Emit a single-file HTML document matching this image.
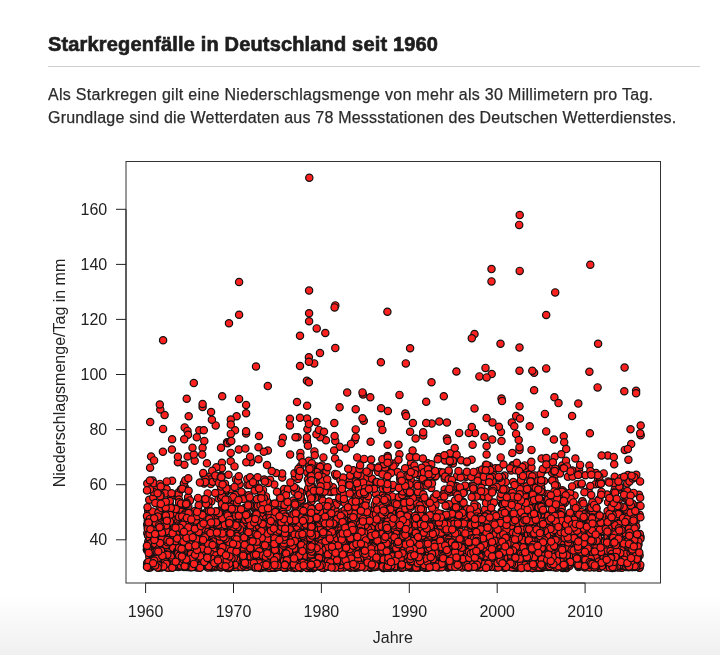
<!DOCTYPE html>
<html><head><meta charset="utf-8"><style>
html,body{margin:0;padding:0;background:#fff;width:720px;height:655px;overflow:hidden}
svg{display:block;will-change:transform}
</style></head><body>
<svg width="720" height="655" viewBox="0 0 720 655">
<defs><linearGradient id="bg" x1="0" y1="0" x2="0" y2="1">
<stop offset="0" stop-color="#ffffff"/><stop offset="1" stop-color="#f0f0f0"/></linearGradient></defs>
<rect x="0" y="595" width="720" height="60" fill="url(#bg)"/>
<text x="48" y="51.4" font-family="'Liberation Sans', sans-serif" font-weight="bold" font-size="20" fill="#1e1e1e" stroke="#1e1e1e" stroke-width="0.65" letter-spacing="0.165">Starkregenfälle in Deutschland seit 1960</text>
<rect x="48" y="66" width="652" height="1" fill="#cfcfd3"/>
<text x="48" y="99.6" font-family="'Liberation Sans', sans-serif" font-size="16" fill="#2b2b2b" stroke="#2b2b2b" stroke-width="0.25" letter-spacing="0.3">Als Starkregen gilt eine Niederschlagsmenge von mehr als 30 Millimetern pro Tag.</text>
<text x="48" y="123.4" font-family="'Liberation Sans', sans-serif" font-size="16" fill="#2b2b2b" stroke="#2b2b2b" stroke-width="0.25" letter-spacing="0.2">Grundlage sind die Wetterdaten aus 78 Messstationen des Deutschen Wetterdienstes.</text>
<g fill="#ff2020" stroke="#111" stroke-width="1.2"><circle cx="476.8" cy="539.5" r="3.65"/><circle cx="574.6" cy="556.9" r="3.65"/><circle cx="165.9" cy="514.2" r="3.65"/><circle cx="270.4" cy="552.0" r="3.65"/><circle cx="173.1" cy="535.4" r="3.65"/><circle cx="546.2" cy="431.4" r="3.65"/><circle cx="239.0" cy="538.4" r="3.65"/><circle cx="358.7" cy="522.7" r="3.65"/><circle cx="354.5" cy="527.0" r="3.65"/><circle cx="495.9" cy="557.5" r="3.65"/><circle cx="451.2" cy="566.7" r="3.65"/><circle cx="363.7" cy="527.3" r="3.65"/><circle cx="377.6" cy="565.9" r="3.65"/><circle cx="218.7" cy="553.5" r="3.65"/><circle cx="310.5" cy="554.2" r="3.65"/><circle cx="356.0" cy="539.7" r="3.65"/><circle cx="226.9" cy="548.6" r="3.65"/><circle cx="275.1" cy="567.8" r="3.65"/><circle cx="257.7" cy="545.5" r="3.65"/><circle cx="442.2" cy="473.6" r="3.65"/><circle cx="243.0" cy="544.8" r="3.65"/><circle cx="571.8" cy="561.4" r="3.65"/><circle cx="295.3" cy="530.9" r="3.65"/><circle cx="540.5" cy="529.7" r="3.65"/><circle cx="409.0" cy="555.3" r="3.65"/><circle cx="477.0" cy="532.0" r="3.65"/><circle cx="353.0" cy="527.8" r="3.65"/><circle cx="264.6" cy="558.5" r="3.65"/><circle cx="488.6" cy="542.1" r="3.65"/><circle cx="584.8" cy="561.1" r="3.65"/><circle cx="504.9" cy="521.4" r="3.65"/><circle cx="323.4" cy="457.4" r="3.65"/><circle cx="177.8" cy="524.1" r="3.65"/><circle cx="160.6" cy="553.9" r="3.65"/><circle cx="583.7" cy="557.4" r="3.65"/><circle cx="563.6" cy="564.9" r="3.65"/><circle cx="319.4" cy="517.5" r="3.65"/><circle cx="311.1" cy="546.7" r="3.65"/><circle cx="566.2" cy="538.7" r="3.65"/><circle cx="311.0" cy="525.0" r="3.65"/><circle cx="186.7" cy="566.9" r="3.65"/><circle cx="178.0" cy="519.7" r="3.65"/><circle cx="624.8" cy="449.9" r="3.65"/><circle cx="566.6" cy="567.9" r="3.65"/><circle cx="294.1" cy="551.8" r="3.65"/><circle cx="282.2" cy="563.0" r="3.65"/><circle cx="285.3" cy="500.9" r="3.65"/><circle cx="272.7" cy="504.0" r="3.65"/><circle cx="442.9" cy="554.0" r="3.65"/><circle cx="339.5" cy="554.0" r="3.65"/><circle cx="640.7" cy="435.2" r="3.65"/><circle cx="626.9" cy="542.9" r="3.65"/><circle cx="469.1" cy="564.0" r="3.65"/><circle cx="485.2" cy="513.5" r="3.65"/><circle cx="513.7" cy="559.9" r="3.65"/><circle cx="188.7" cy="559.0" r="3.65"/><circle cx="203.4" cy="513.8" r="3.65"/><circle cx="604.2" cy="564.2" r="3.65"/><circle cx="554.5" cy="543.8" r="3.65"/><circle cx="390.9" cy="555.0" r="3.65"/><circle cx="621.2" cy="550.7" r="3.65"/><circle cx="504.1" cy="533.4" r="3.65"/><circle cx="372.6" cy="539.9" r="3.65"/><circle cx="483.8" cy="566.8" r="3.65"/><circle cx="551.3" cy="545.8" r="3.65"/><circle cx="551.7" cy="516.5" r="3.65"/><circle cx="425.1" cy="555.6" r="3.65"/><circle cx="450.8" cy="525.4" r="3.65"/><circle cx="349.7" cy="480.5" r="3.65"/><circle cx="543.5" cy="567.0" r="3.65"/><circle cx="361.0" cy="545.9" r="3.65"/><circle cx="511.1" cy="549.3" r="3.65"/><circle cx="488.4" cy="527.9" r="3.65"/><circle cx="224.3" cy="556.0" r="3.65"/><circle cx="577.1" cy="472.3" r="3.65"/><circle cx="226.3" cy="561.8" r="3.65"/><circle cx="546.2" cy="315.0" r="3.65"/><circle cx="181.8" cy="539.3" r="3.65"/><circle cx="524.7" cy="529.5" r="3.65"/><circle cx="425.0" cy="563.8" r="3.65"/><circle cx="441.6" cy="499.7" r="3.65"/><circle cx="533.0" cy="488.1" r="3.65"/><circle cx="445.7" cy="518.3" r="3.65"/><circle cx="311.0" cy="559.4" r="3.65"/><circle cx="317.8" cy="540.7" r="3.65"/><circle cx="416.3" cy="483.8" r="3.65"/><circle cx="539.0" cy="542.0" r="3.65"/><circle cx="311.6" cy="557.6" r="3.65"/><circle cx="541.3" cy="564.4" r="3.65"/><circle cx="471.9" cy="563.2" r="3.65"/><circle cx="318.7" cy="551.4" r="3.65"/><circle cx="280.3" cy="543.1" r="3.65"/><circle cx="355.4" cy="545.6" r="3.65"/><circle cx="596.4" cy="540.2" r="3.65"/><circle cx="594.2" cy="554.3" r="3.65"/><circle cx="437.1" cy="548.7" r="3.65"/><circle cx="351.4" cy="562.3" r="3.65"/><circle cx="311.3" cy="493.4" r="3.65"/><circle cx="311.4" cy="520.4" r="3.65"/><circle cx="214.5" cy="560.0" r="3.65"/><circle cx="356.4" cy="555.8" r="3.65"/><circle cx="595.6" cy="548.0" r="3.65"/><circle cx="370.2" cy="562.5" r="3.65"/><circle cx="525.3" cy="566.9" r="3.65"/><circle cx="559.6" cy="565.0" r="3.65"/><circle cx="399.8" cy="558.4" r="3.65"/><circle cx="311.9" cy="553.3" r="3.65"/><circle cx="174.1" cy="559.3" r="3.65"/><circle cx="227.3" cy="525.0" r="3.65"/><circle cx="424.1" cy="565.0" r="3.65"/><circle cx="297.1" cy="565.3" r="3.65"/><circle cx="395.6" cy="547.0" r="3.65"/><circle cx="407.3" cy="507.9" r="3.65"/><circle cx="531.2" cy="536.5" r="3.65"/><circle cx="234.1" cy="535.7" r="3.65"/><circle cx="489.1" cy="465.9" r="3.65"/><circle cx="620.6" cy="548.6" r="3.65"/><circle cx="321.3" cy="555.9" r="3.65"/><circle cx="219.6" cy="533.6" r="3.65"/><circle cx="431.2" cy="487.9" r="3.65"/><circle cx="255.8" cy="555.6" r="3.65"/><circle cx="425.1" cy="561.0" r="3.65"/><circle cx="322.4" cy="500.2" r="3.65"/><circle cx="293.3" cy="565.4" r="3.65"/><circle cx="200.9" cy="537.5" r="3.65"/><circle cx="199.0" cy="514.9" r="3.65"/><circle cx="483.0" cy="517.3" r="3.65"/><circle cx="318.5" cy="542.8" r="3.65"/><circle cx="210.5" cy="545.4" r="3.65"/><circle cx="594.1" cy="526.9" r="3.65"/><circle cx="583.2" cy="544.3" r="3.65"/><circle cx="327.2" cy="546.1" r="3.65"/><circle cx="343.7" cy="553.9" r="3.65"/><circle cx="323.9" cy="537.8" r="3.65"/><circle cx="609.2" cy="521.7" r="3.65"/><circle cx="551.1" cy="552.9" r="3.65"/><circle cx="577.3" cy="528.5" r="3.65"/><circle cx="148.2" cy="511.0" r="3.65"/><circle cx="441.2" cy="531.9" r="3.65"/><circle cx="581.9" cy="532.8" r="3.65"/><circle cx="350.2" cy="556.1" r="3.65"/><circle cx="629.0" cy="536.9" r="3.65"/><circle cx="267.7" cy="559.3" r="3.65"/><circle cx="591.6" cy="514.8" r="3.65"/><circle cx="576.2" cy="558.2" r="3.65"/><circle cx="211.3" cy="501.4" r="3.65"/><circle cx="624.9" cy="539.9" r="3.65"/><circle cx="434.0" cy="545.7" r="3.65"/><circle cx="405.5" cy="547.2" r="3.65"/><circle cx="626.2" cy="566.6" r="3.65"/><circle cx="349.0" cy="526.1" r="3.65"/><circle cx="456.4" cy="371.5" r="3.65"/><circle cx="477.4" cy="549.3" r="3.65"/><circle cx="618.1" cy="544.0" r="3.65"/><circle cx="455.0" cy="549.9" r="3.65"/><circle cx="224.1" cy="558.9" r="3.65"/><circle cx="328.1" cy="563.1" r="3.65"/><circle cx="432.8" cy="540.5" r="3.65"/><circle cx="185.3" cy="560.2" r="3.65"/><circle cx="506.7" cy="545.7" r="3.65"/><circle cx="302.6" cy="555.8" r="3.65"/><circle cx="383.1" cy="531.3" r="3.65"/><circle cx="461.0" cy="559.1" r="3.65"/><circle cx="611.1" cy="534.6" r="3.65"/><circle cx="588.4" cy="541.4" r="3.65"/><circle cx="312.3" cy="567.0" r="3.65"/><circle cx="317.5" cy="522.4" r="3.65"/><circle cx="552.4" cy="535.2" r="3.65"/><circle cx="630.0" cy="553.6" r="3.65"/><circle cx="283.9" cy="545.2" r="3.65"/><circle cx="390.6" cy="520.5" r="3.65"/><circle cx="210.4" cy="512.7" r="3.65"/><circle cx="274.9" cy="550.3" r="3.65"/><circle cx="356.4" cy="567.5" r="3.65"/><circle cx="242.5" cy="543.0" r="3.65"/><circle cx="603.7" cy="530.5" r="3.65"/><circle cx="156.8" cy="550.8" r="3.65"/><circle cx="203.3" cy="539.1" r="3.65"/><circle cx="410.0" cy="549.7" r="3.65"/><circle cx="217.4" cy="525.9" r="3.65"/><circle cx="363.9" cy="560.8" r="3.65"/><circle cx="241.5" cy="566.8" r="3.65"/><circle cx="211.7" cy="553.3" r="3.65"/><circle cx="183.4" cy="541.5" r="3.65"/><circle cx="290.3" cy="535.5" r="3.65"/><circle cx="428.2" cy="530.2" r="3.65"/><circle cx="594.7" cy="514.5" r="3.65"/><circle cx="540.4" cy="542.7" r="3.65"/><circle cx="626.4" cy="541.8" r="3.65"/><circle cx="299.7" cy="564.9" r="3.65"/><circle cx="389.3" cy="565.6" r="3.65"/><circle cx="356.6" cy="476.3" r="3.65"/><circle cx="161.3" cy="567.6" r="3.65"/><circle cx="595.5" cy="549.8" r="3.65"/><circle cx="313.9" cy="530.3" r="3.65"/><circle cx="456.1" cy="528.1" r="3.65"/><circle cx="531.3" cy="550.9" r="3.65"/><circle cx="256.0" cy="366.5" r="3.65"/><circle cx="335.3" cy="441.0" r="3.65"/><circle cx="382.3" cy="560.3" r="3.65"/><circle cx="571.7" cy="561.5" r="3.65"/><circle cx="155.9" cy="487.4" r="3.65"/><circle cx="497.4" cy="517.2" r="3.65"/><circle cx="438.8" cy="457.0" r="3.65"/><circle cx="538.6" cy="505.4" r="3.65"/><circle cx="279.3" cy="561.4" r="3.65"/><circle cx="425.8" cy="551.7" r="3.65"/><circle cx="289.4" cy="535.3" r="3.65"/><circle cx="175.3" cy="531.5" r="3.65"/><circle cx="263.6" cy="543.9" r="3.65"/><circle cx="459.3" cy="541.0" r="3.65"/><circle cx="447.2" cy="505.0" r="3.65"/><circle cx="224.0" cy="565.6" r="3.65"/><circle cx="310.5" cy="514.5" r="3.65"/><circle cx="175.1" cy="512.0" r="3.65"/><circle cx="206.9" cy="463.2" r="3.65"/><circle cx="363.7" cy="502.3" r="3.65"/><circle cx="220.3" cy="534.6" r="3.65"/><circle cx="633.2" cy="530.2" r="3.65"/><circle cx="493.4" cy="536.5" r="3.65"/><circle cx="230.7" cy="452.9" r="3.65"/><circle cx="252.2" cy="539.8" r="3.65"/><circle cx="311.3" cy="533.6" r="3.65"/><circle cx="592.7" cy="514.8" r="3.65"/><circle cx="274.6" cy="567.3" r="3.65"/><circle cx="276.1" cy="564.3" r="3.65"/><circle cx="318.7" cy="547.9" r="3.65"/><circle cx="499.5" cy="556.7" r="3.65"/><circle cx="467.4" cy="555.6" r="3.65"/><circle cx="402.6" cy="484.2" r="3.65"/><circle cx="249.1" cy="545.6" r="3.65"/><circle cx="630.5" cy="429.3" r="3.65"/><circle cx="311.2" cy="540.5" r="3.65"/><circle cx="294.6" cy="538.9" r="3.65"/><circle cx="331.9" cy="523.7" r="3.65"/><circle cx="452.1" cy="555.4" r="3.65"/><circle cx="474.8" cy="515.7" r="3.65"/><circle cx="568.2" cy="550.4" r="3.65"/><circle cx="384.3" cy="567.4" r="3.65"/><circle cx="547.8" cy="566.6" r="3.65"/><circle cx="532.8" cy="542.0" r="3.65"/><circle cx="160.8" cy="526.6" r="3.65"/><circle cx="364.0" cy="532.7" r="3.65"/><circle cx="402.7" cy="560.7" r="3.65"/><circle cx="515.0" cy="548.3" r="3.65"/><circle cx="635.8" cy="515.3" r="3.65"/><circle cx="316.6" cy="497.2" r="3.65"/><circle cx="295.1" cy="553.2" r="3.65"/><circle cx="511.2" cy="538.6" r="3.65"/><circle cx="582.5" cy="565.4" r="3.65"/><circle cx="488.1" cy="537.5" r="3.65"/><circle cx="298.6" cy="528.0" r="3.65"/><circle cx="638.5" cy="544.5" r="3.65"/><circle cx="397.5" cy="565.7" r="3.65"/><circle cx="614.3" cy="542.6" r="3.65"/><circle cx="236.6" cy="416.3" r="3.65"/><circle cx="157.4" cy="518.4" r="3.65"/><circle cx="267.7" cy="552.6" r="3.65"/><circle cx="595.9" cy="559.1" r="3.65"/><circle cx="577.6" cy="556.9" r="3.65"/><circle cx="216.5" cy="564.7" r="3.65"/><circle cx="539.1" cy="563.9" r="3.65"/><circle cx="373.2" cy="542.6" r="3.65"/><circle cx="603.9" cy="524.0" r="3.65"/><circle cx="369.3" cy="552.6" r="3.65"/><circle cx="629.2" cy="536.6" r="3.65"/><circle cx="434.7" cy="518.7" r="3.65"/><circle cx="303.4" cy="564.5" r="3.65"/><circle cx="519.8" cy="542.0" r="3.65"/><circle cx="310.0" cy="551.0" r="3.65"/><circle cx="283.7" cy="557.5" r="3.65"/><circle cx="312.4" cy="562.2" r="3.65"/><circle cx="539.9" cy="539.6" r="3.65"/><circle cx="556.8" cy="485.5" r="3.65"/><circle cx="285.0" cy="526.1" r="3.65"/><circle cx="311.4" cy="566.1" r="3.65"/><circle cx="418.9" cy="556.9" r="3.65"/><circle cx="633.4" cy="516.0" r="3.65"/><circle cx="542.9" cy="564.7" r="3.65"/><circle cx="372.7" cy="520.9" r="3.65"/><circle cx="400.0" cy="531.2" r="3.65"/><circle cx="165.4" cy="562.1" r="3.65"/><circle cx="537.1" cy="509.6" r="3.65"/><circle cx="615.0" cy="534.9" r="3.65"/><circle cx="188.1" cy="497.3" r="3.65"/><circle cx="587.6" cy="544.8" r="3.65"/><circle cx="222.2" cy="396.2" r="3.65"/><circle cx="288.5" cy="529.5" r="3.65"/><circle cx="164.6" cy="415.1" r="3.65"/><circle cx="417.9" cy="505.6" r="3.65"/><circle cx="417.0" cy="553.7" r="3.65"/><circle cx="184.7" cy="427.4" r="3.65"/><circle cx="382.5" cy="532.8" r="3.65"/><circle cx="476.7" cy="558.2" r="3.65"/><circle cx="177.0" cy="519.5" r="3.65"/><circle cx="537.2" cy="526.1" r="3.65"/><circle cx="564.2" cy="546.7" r="3.65"/><circle cx="308.8" cy="460.8" r="3.65"/><circle cx="594.1" cy="506.0" r="3.65"/><circle cx="465.3" cy="520.6" r="3.65"/><circle cx="365.8" cy="552.9" r="3.65"/><circle cx="225.8" cy="541.2" r="3.65"/><circle cx="471.1" cy="559.9" r="3.65"/><circle cx="482.6" cy="528.0" r="3.65"/><circle cx="251.8" cy="562.7" r="3.65"/><circle cx="483.6" cy="545.3" r="3.65"/><circle cx="422.2" cy="536.5" r="3.65"/><circle cx="561.8" cy="540.6" r="3.65"/><circle cx="536.6" cy="545.9" r="3.65"/><circle cx="603.4" cy="523.6" r="3.65"/><circle cx="589.7" cy="552.2" r="3.65"/><circle cx="328.4" cy="532.1" r="3.65"/><circle cx="164.2" cy="544.9" r="3.65"/><circle cx="541.6" cy="564.6" r="3.65"/><circle cx="254.4" cy="508.5" r="3.65"/><circle cx="374.6" cy="531.4" r="3.65"/><circle cx="636.1" cy="390.8" r="3.65"/><circle cx="382.7" cy="540.2" r="3.65"/><circle cx="521.3" cy="528.9" r="3.65"/><circle cx="633.0" cy="561.0" r="3.65"/><circle cx="303.6" cy="533.4" r="3.65"/><circle cx="535.0" cy="563.7" r="3.65"/><circle cx="222.9" cy="534.8" r="3.65"/><circle cx="539.9" cy="565.8" r="3.65"/><circle cx="429.9" cy="561.9" r="3.65"/><circle cx="551.9" cy="561.2" r="3.65"/><circle cx="249.8" cy="552.9" r="3.65"/><circle cx="311.1" cy="527.1" r="3.65"/><circle cx="634.7" cy="543.6" r="3.65"/><circle cx="504.9" cy="555.8" r="3.65"/><circle cx="362.8" cy="552.9" r="3.65"/><circle cx="562.2" cy="557.8" r="3.65"/><circle cx="457.0" cy="539.2" r="3.65"/><circle cx="446.1" cy="475.4" r="3.65"/><circle cx="589.9" cy="530.4" r="3.65"/><circle cx="372.3" cy="552.9" r="3.65"/><circle cx="588.7" cy="556.8" r="3.65"/><circle cx="238.4" cy="567.0" r="3.65"/><circle cx="560.9" cy="565.0" r="3.65"/><circle cx="149.2" cy="534.0" r="3.65"/><circle cx="356.9" cy="564.6" r="3.65"/><circle cx="168.8" cy="536.5" r="3.65"/><circle cx="318.9" cy="521.2" r="3.65"/><circle cx="619.2" cy="567.2" r="3.65"/><circle cx="391.7" cy="536.9" r="3.65"/><circle cx="405.3" cy="413.5" r="3.65"/><circle cx="285.1" cy="521.6" r="3.65"/><circle cx="514.9" cy="547.0" r="3.65"/><circle cx="597.3" cy="558.4" r="3.65"/><circle cx="311.3" cy="532.7" r="3.65"/><circle cx="476.5" cy="546.9" r="3.65"/><circle cx="407.1" cy="555.2" r="3.65"/><circle cx="541.3" cy="563.2" r="3.65"/><circle cx="394.4" cy="537.4" r="3.65"/><circle cx="414.0" cy="543.9" r="3.65"/><circle cx="549.3" cy="468.2" r="3.65"/><circle cx="182.5" cy="531.4" r="3.65"/><circle cx="416.5" cy="531.2" r="3.65"/><circle cx="480.8" cy="567.3" r="3.65"/><circle cx="495.9" cy="567.6" r="3.65"/><circle cx="210.6" cy="538.8" r="3.65"/><circle cx="503.4" cy="560.3" r="3.65"/><circle cx="226.7" cy="505.3" r="3.65"/><circle cx="626.2" cy="518.9" r="3.65"/><circle cx="436.9" cy="551.9" r="3.65"/><circle cx="369.3" cy="528.1" r="3.65"/><circle cx="266.6" cy="506.2" r="3.65"/><circle cx="309.3" cy="177.7" r="3.65"/><circle cx="459.5" cy="493.2" r="3.65"/><circle cx="401.0" cy="529.8" r="3.65"/><circle cx="341.2" cy="562.6" r="3.65"/><circle cx="316.4" cy="422.1" r="3.65"/><circle cx="387.6" cy="527.8" r="3.65"/><circle cx="612.8" cy="562.4" r="3.65"/><circle cx="180.5" cy="551.4" r="3.65"/><circle cx="284.1" cy="489.1" r="3.65"/><circle cx="597.3" cy="518.2" r="3.65"/><circle cx="480.2" cy="550.4" r="3.65"/><circle cx="386.1" cy="567.8" r="3.65"/><circle cx="453.0" cy="540.9" r="3.65"/><circle cx="568.1" cy="539.8" r="3.65"/><circle cx="357.0" cy="518.8" r="3.65"/><circle cx="357.1" cy="487.9" r="3.65"/><circle cx="491.3" cy="471.1" r="3.65"/><circle cx="310.5" cy="537.7" r="3.65"/><circle cx="155.2" cy="548.2" r="3.65"/><circle cx="504.5" cy="547.2" r="3.65"/><circle cx="532.1" cy="534.2" r="3.65"/><circle cx="354.6" cy="543.4" r="3.65"/><circle cx="206.6" cy="558.1" r="3.65"/><circle cx="589.9" cy="556.0" r="3.65"/><circle cx="424.3" cy="519.1" r="3.65"/><circle cx="182.0" cy="542.2" r="3.65"/><circle cx="226.2" cy="535.5" r="3.65"/><circle cx="566.0" cy="567.8" r="3.65"/><circle cx="487.8" cy="556.2" r="3.65"/><circle cx="187.0" cy="536.1" r="3.65"/><circle cx="287.9" cy="538.8" r="3.65"/><circle cx="474.1" cy="489.8" r="3.65"/><circle cx="414.3" cy="553.0" r="3.65"/><circle cx="473.9" cy="543.9" r="3.65"/><circle cx="541.2" cy="514.6" r="3.65"/><circle cx="476.6" cy="529.5" r="3.65"/><circle cx="547.0" cy="517.9" r="3.65"/><circle cx="613.3" cy="563.3" r="3.65"/><circle cx="266.0" cy="534.0" r="3.65"/><circle cx="541.8" cy="532.0" r="3.65"/><circle cx="182.9" cy="547.4" r="3.65"/><circle cx="270.7" cy="548.4" r="3.65"/><circle cx="298.6" cy="546.7" r="3.65"/><circle cx="207.2" cy="531.5" r="3.65"/><circle cx="334.6" cy="436.0" r="3.65"/><circle cx="471.9" cy="485.4" r="3.65"/><circle cx="554.7" cy="456.7" r="3.65"/><circle cx="634.4" cy="535.7" r="3.65"/><circle cx="318.8" cy="524.7" r="3.65"/><circle cx="595.5" cy="484.2" r="3.65"/><circle cx="469.7" cy="564.3" r="3.65"/><circle cx="205.3" cy="540.1" r="3.65"/><circle cx="590.1" cy="553.9" r="3.65"/><circle cx="310.8" cy="543.6" r="3.65"/><circle cx="275.8" cy="546.7" r="3.65"/><circle cx="627.1" cy="519.7" r="3.65"/><circle cx="578.9" cy="531.2" r="3.65"/><circle cx="322.4" cy="547.3" r="3.65"/><circle cx="222.7" cy="543.8" r="3.65"/><circle cx="595.8" cy="563.9" r="3.65"/><circle cx="149.2" cy="499.7" r="3.65"/><circle cx="216.1" cy="557.8" r="3.65"/><circle cx="358.7" cy="562.9" r="3.65"/><circle cx="211.1" cy="532.1" r="3.65"/><circle cx="313.9" cy="550.8" r="3.65"/><circle cx="607.0" cy="563.4" r="3.65"/><circle cx="591.7" cy="560.6" r="3.65"/><circle cx="242.5" cy="515.2" r="3.65"/><circle cx="493.4" cy="564.1" r="3.65"/><circle cx="147.4" cy="516.6" r="3.65"/><circle cx="503.8" cy="518.3" r="3.65"/><circle cx="313.1" cy="558.2" r="3.65"/><circle cx="224.9" cy="544.0" r="3.65"/><circle cx="563.3" cy="567.3" r="3.65"/><circle cx="441.4" cy="515.3" r="3.65"/><circle cx="537.5" cy="553.3" r="3.65"/><circle cx="150.9" cy="558.5" r="3.65"/><circle cx="625.6" cy="506.9" r="3.65"/><circle cx="385.7" cy="481.2" r="3.65"/><circle cx="179.6" cy="563.6" r="3.65"/><circle cx="320.1" cy="481.0" r="3.65"/><circle cx="150.3" cy="567.5" r="3.65"/><circle cx="503.0" cy="566.7" r="3.65"/><circle cx="510.4" cy="561.3" r="3.65"/><circle cx="387.2" cy="563.0" r="3.65"/><circle cx="559.4" cy="525.5" r="3.65"/><circle cx="497.1" cy="565.1" r="3.65"/><circle cx="411.4" cy="521.0" r="3.65"/><circle cx="204.7" cy="528.7" r="3.65"/><circle cx="269.4" cy="544.7" r="3.65"/><circle cx="424.8" cy="560.7" r="3.65"/><circle cx="491.1" cy="547.4" r="3.65"/><circle cx="287.0" cy="562.6" r="3.65"/><circle cx="416.9" cy="560.7" r="3.65"/><circle cx="430.1" cy="530.1" r="3.65"/><circle cx="210.7" cy="554.2" r="3.65"/><circle cx="631.5" cy="565.3" r="3.65"/><circle cx="331.6" cy="516.5" r="3.65"/><circle cx="583.0" cy="534.4" r="3.65"/><circle cx="372.4" cy="516.2" r="3.65"/><circle cx="399.0" cy="566.3" r="3.65"/><circle cx="148.6" cy="567.7" r="3.65"/><circle cx="617.5" cy="549.7" r="3.65"/><circle cx="574.6" cy="495.6" r="3.65"/><circle cx="428.3" cy="463.9" r="3.65"/><circle cx="320.7" cy="478.7" r="3.65"/><circle cx="266.0" cy="564.6" r="3.65"/><circle cx="238.8" cy="449.5" r="3.65"/><circle cx="447.3" cy="555.0" r="3.65"/><circle cx="422.2" cy="512.9" r="3.65"/><circle cx="479.4" cy="376.4" r="3.65"/><circle cx="520.9" cy="523.9" r="3.65"/><circle cx="194.1" cy="565.4" r="3.65"/><circle cx="545.2" cy="535.1" r="3.65"/><circle cx="268.5" cy="564.4" r="3.65"/><circle cx="250.5" cy="562.5" r="3.65"/><circle cx="453.0" cy="514.5" r="3.65"/><circle cx="266.0" cy="562.2" r="3.65"/><circle cx="227.4" cy="563.6" r="3.65"/><circle cx="192.4" cy="537.4" r="3.65"/><circle cx="166.2" cy="544.1" r="3.65"/><circle cx="310.6" cy="552.4" r="3.65"/><circle cx="286.9" cy="564.2" r="3.65"/><circle cx="372.5" cy="515.7" r="3.65"/><circle cx="326.0" cy="440.2" r="3.65"/><circle cx="208.2" cy="561.8" r="3.65"/><circle cx="212.8" cy="516.9" r="3.65"/><circle cx="171.6" cy="533.9" r="3.65"/><circle cx="208.3" cy="533.6" r="3.65"/><circle cx="438.4" cy="532.1" r="3.65"/><circle cx="465.1" cy="564.2" r="3.65"/><circle cx="533.3" cy="565.1" r="3.65"/><circle cx="491.5" cy="281.4" r="3.65"/><circle cx="608.2" cy="481.4" r="3.65"/><circle cx="287.7" cy="564.2" r="3.65"/><circle cx="423.9" cy="518.3" r="3.65"/><circle cx="177.8" cy="531.2" r="3.65"/><circle cx="541.8" cy="533.1" r="3.65"/><circle cx="518.6" cy="553.0" r="3.65"/><circle cx="365.9" cy="518.1" r="3.65"/><circle cx="270.7" cy="519.4" r="3.65"/><circle cx="635.5" cy="537.1" r="3.65"/><circle cx="388.3" cy="547.9" r="3.65"/><circle cx="487.7" cy="539.3" r="3.65"/><circle cx="511.2" cy="517.2" r="3.65"/><circle cx="495.4" cy="554.0" r="3.65"/><circle cx="310.5" cy="565.2" r="3.65"/><circle cx="372.7" cy="531.0" r="3.65"/><circle cx="618.7" cy="489.8" r="3.65"/><circle cx="311.5" cy="561.8" r="3.65"/><circle cx="328.3" cy="566.7" r="3.65"/><circle cx="463.7" cy="522.7" r="3.65"/><circle cx="398.1" cy="553.6" r="3.65"/><circle cx="473.9" cy="491.2" r="3.65"/><circle cx="431.5" cy="538.4" r="3.65"/><circle cx="378.7" cy="529.4" r="3.65"/><circle cx="578.1" cy="552.4" r="3.65"/><circle cx="461.1" cy="460.2" r="3.65"/><circle cx="358.1" cy="536.0" r="3.65"/><circle cx="173.4" cy="514.2" r="3.65"/><circle cx="353.9" cy="545.1" r="3.65"/><circle cx="218.8" cy="534.6" r="3.65"/><circle cx="474.5" cy="543.7" r="3.65"/><circle cx="173.7" cy="536.2" r="3.65"/><circle cx="600.3" cy="564.7" r="3.65"/><circle cx="600.6" cy="559.5" r="3.65"/><circle cx="511.4" cy="559.9" r="3.65"/><circle cx="598.4" cy="559.6" r="3.65"/><circle cx="584.1" cy="542.9" r="3.65"/><circle cx="534.7" cy="565.2" r="3.65"/><circle cx="405.6" cy="482.6" r="3.65"/><circle cx="471.5" cy="552.9" r="3.65"/><circle cx="311.2" cy="536.4" r="3.65"/><circle cx="280.3" cy="566.7" r="3.65"/><circle cx="603.4" cy="560.9" r="3.65"/><circle cx="205.6" cy="539.5" r="3.65"/><circle cx="409.3" cy="548.7" r="3.65"/><circle cx="147.1" cy="564.2" r="3.65"/><circle cx="619.5" cy="562.7" r="3.65"/><circle cx="424.4" cy="554.3" r="3.65"/><circle cx="634.3" cy="536.5" r="3.65"/><circle cx="189.2" cy="529.5" r="3.65"/><circle cx="292.8" cy="557.2" r="3.65"/><circle cx="525.3" cy="565.2" r="3.65"/><circle cx="541.2" cy="554.8" r="3.65"/><circle cx="295.6" cy="550.6" r="3.65"/><circle cx="478.9" cy="547.0" r="3.65"/><circle cx="263.1" cy="540.5" r="3.65"/><circle cx="236.0" cy="522.9" r="3.65"/><circle cx="457.6" cy="492.2" r="3.65"/><circle cx="150.1" cy="554.1" r="3.65"/><circle cx="557.0" cy="550.2" r="3.65"/><circle cx="515.4" cy="545.9" r="3.65"/><circle cx="222.7" cy="518.9" r="3.65"/><circle cx="557.8" cy="541.9" r="3.65"/><circle cx="297.6" cy="437.2" r="3.65"/><circle cx="280.7" cy="544.7" r="3.65"/><circle cx="416.2" cy="549.0" r="3.65"/><circle cx="310.8" cy="467.0" r="3.65"/><circle cx="388.2" cy="493.0" r="3.65"/><circle cx="422.0" cy="531.9" r="3.65"/><circle cx="182.1" cy="551.2" r="3.65"/><circle cx="617.6" cy="539.2" r="3.65"/><circle cx="379.1" cy="466.4" r="3.65"/><circle cx="160.7" cy="563.8" r="3.65"/><circle cx="410.6" cy="524.7" r="3.65"/><circle cx="434.0" cy="531.7" r="3.65"/><circle cx="251.0" cy="558.0" r="3.65"/><circle cx="632.2" cy="567.1" r="3.65"/><circle cx="450.3" cy="564.4" r="3.65"/><circle cx="495.4" cy="562.6" r="3.65"/><circle cx="449.5" cy="564.4" r="3.65"/><circle cx="289.9" cy="418.8" r="3.65"/><circle cx="150.2" cy="559.3" r="3.65"/><circle cx="481.8" cy="558.0" r="3.65"/><circle cx="300.0" cy="335.8" r="3.65"/><circle cx="269.9" cy="524.0" r="3.65"/><circle cx="312.2" cy="541.9" r="3.65"/><circle cx="357.3" cy="532.0" r="3.65"/><circle cx="176.0" cy="538.7" r="3.65"/><circle cx="470.6" cy="564.3" r="3.65"/><circle cx="187.6" cy="516.5" r="3.65"/><circle cx="368.0" cy="545.2" r="3.65"/><circle cx="357.9" cy="560.6" r="3.65"/><circle cx="564.9" cy="502.7" r="3.65"/><circle cx="211.3" cy="561.4" r="3.65"/><circle cx="323.2" cy="518.8" r="3.65"/><circle cx="541.3" cy="526.8" r="3.65"/><circle cx="624.9" cy="516.4" r="3.65"/><circle cx="387.3" cy="566.9" r="3.65"/><circle cx="251.0" cy="462.3" r="3.65"/><circle cx="483.1" cy="512.5" r="3.65"/><circle cx="638.1" cy="539.8" r="3.65"/><circle cx="323.6" cy="557.9" r="3.65"/><circle cx="523.8" cy="542.9" r="3.65"/><circle cx="612.5" cy="513.4" r="3.65"/><circle cx="166.3" cy="509.8" r="3.65"/><circle cx="306.8" cy="556.6" r="3.65"/><circle cx="372.9" cy="547.6" r="3.65"/><circle cx="555.7" cy="500.3" r="3.65"/><circle cx="227.1" cy="499.7" r="3.65"/><circle cx="611.6" cy="544.8" r="3.65"/><circle cx="208.8" cy="561.0" r="3.65"/><circle cx="567.4" cy="554.0" r="3.65"/><circle cx="198.2" cy="565.1" r="3.65"/><circle cx="284.0" cy="566.2" r="3.65"/><circle cx="560.4" cy="525.2" r="3.65"/><circle cx="175.3" cy="566.2" r="3.65"/><circle cx="310.8" cy="549.7" r="3.65"/><circle cx="632.5" cy="564.0" r="3.65"/><circle cx="392.6" cy="469.5" r="3.65"/><circle cx="211.1" cy="479.1" r="3.65"/><circle cx="547.6" cy="564.9" r="3.65"/><circle cx="467.8" cy="539.9" r="3.65"/><circle cx="487.3" cy="558.6" r="3.65"/><circle cx="428.4" cy="566.0" r="3.65"/><circle cx="246.3" cy="462.3" r="3.65"/><circle cx="311.5" cy="548.7" r="3.65"/><circle cx="636.2" cy="558.1" r="3.65"/><circle cx="510.0" cy="504.7" r="3.65"/><circle cx="633.7" cy="565.5" r="3.65"/><circle cx="488.1" cy="522.8" r="3.65"/><circle cx="528.9" cy="551.8" r="3.65"/><circle cx="251.6" cy="565.2" r="3.65"/><circle cx="629.1" cy="566.3" r="3.65"/><circle cx="147.0" cy="546.7" r="3.65"/><circle cx="422.5" cy="512.0" r="3.65"/><circle cx="394.6" cy="522.2" r="3.65"/><circle cx="516.7" cy="564.2" r="3.65"/><circle cx="189.0" cy="536.2" r="3.65"/><circle cx="176.7" cy="549.2" r="3.65"/><circle cx="195.2" cy="563.3" r="3.65"/><circle cx="391.3" cy="524.2" r="3.65"/><circle cx="584.0" cy="531.1" r="3.65"/><circle cx="548.3" cy="557.4" r="3.65"/><circle cx="511.5" cy="544.2" r="3.65"/><circle cx="219.2" cy="530.4" r="3.65"/><circle cx="351.5" cy="525.4" r="3.65"/><circle cx="501.5" cy="398.5" r="3.65"/><circle cx="556.5" cy="562.0" r="3.65"/><circle cx="269.1" cy="542.1" r="3.65"/><circle cx="248.4" cy="562.6" r="3.65"/><circle cx="382.5" cy="566.6" r="3.65"/><circle cx="310.8" cy="557.1" r="3.65"/><circle cx="207.1" cy="511.6" r="3.65"/><circle cx="407.1" cy="488.2" r="3.65"/><circle cx="445.7" cy="551.0" r="3.65"/><circle cx="477.6" cy="546.0" r="3.65"/><circle cx="582.2" cy="559.9" r="3.65"/><circle cx="311.3" cy="536.6" r="3.65"/><circle cx="359.7" cy="567.1" r="3.65"/><circle cx="246.8" cy="563.3" r="3.65"/><circle cx="570.4" cy="544.0" r="3.65"/><circle cx="170.7" cy="532.1" r="3.65"/><circle cx="310.7" cy="532.1" r="3.65"/><circle cx="423.2" cy="435.4" r="3.65"/><circle cx="413.5" cy="536.9" r="3.65"/><circle cx="351.5" cy="525.4" r="3.65"/><circle cx="459.9" cy="564.6" r="3.65"/><circle cx="311.2" cy="537.5" r="3.65"/><circle cx="288.8" cy="526.9" r="3.65"/><circle cx="301.8" cy="492.9" r="3.65"/><circle cx="182.9" cy="548.3" r="3.65"/><circle cx="561.0" cy="543.9" r="3.65"/><circle cx="493.6" cy="525.8" r="3.65"/><circle cx="210.8" cy="519.1" r="3.65"/><circle cx="630.3" cy="558.6" r="3.65"/><circle cx="471.9" cy="558.5" r="3.65"/><circle cx="338.5" cy="532.3" r="3.65"/><circle cx="542.0" cy="531.2" r="3.65"/><circle cx="183.3" cy="541.9" r="3.65"/><circle cx="475.8" cy="536.1" r="3.65"/><circle cx="535.3" cy="534.7" r="3.65"/><circle cx="488.5" cy="526.7" r="3.65"/><circle cx="541.0" cy="520.6" r="3.65"/><circle cx="237.0" cy="523.1" r="3.65"/><circle cx="402.7" cy="567.1" r="3.65"/><circle cx="401.2" cy="530.9" r="3.65"/><circle cx="184.7" cy="486.9" r="3.65"/><circle cx="153.1" cy="566.0" r="3.65"/><circle cx="313.8" cy="565.1" r="3.65"/><circle cx="227.1" cy="517.2" r="3.65"/><circle cx="164.9" cy="551.9" r="3.65"/><circle cx="617.8" cy="540.2" r="3.65"/><circle cx="314.4" cy="451.4" r="3.65"/><circle cx="554.1" cy="547.6" r="3.65"/><circle cx="209.2" cy="541.3" r="3.65"/><circle cx="467.8" cy="487.1" r="3.65"/><circle cx="291.0" cy="522.5" r="3.65"/><circle cx="409.2" cy="559.7" r="3.65"/><circle cx="428.8" cy="534.9" r="3.65"/><circle cx="221.6" cy="509.2" r="3.65"/><circle cx="599.4" cy="567.8" r="3.65"/><circle cx="376.1" cy="550.5" r="3.65"/><circle cx="360.6" cy="545.5" r="3.65"/><circle cx="445.6" cy="538.2" r="3.65"/><circle cx="166.7" cy="523.9" r="3.65"/><circle cx="385.1" cy="467.9" r="3.65"/><circle cx="160.9" cy="528.1" r="3.65"/><circle cx="389.1" cy="561.4" r="3.65"/><circle cx="200.5" cy="555.2" r="3.65"/><circle cx="345.1" cy="524.3" r="3.65"/><circle cx="310.2" cy="566.5" r="3.65"/><circle cx="152.6" cy="480.6" r="3.65"/><circle cx="311.2" cy="531.2" r="3.65"/><circle cx="449.7" cy="552.8" r="3.65"/><circle cx="599.4" cy="498.9" r="3.65"/><circle cx="297.8" cy="478.9" r="3.65"/><circle cx="401.9" cy="487.0" r="3.65"/><circle cx="337.8" cy="524.0" r="3.65"/><circle cx="229.3" cy="564.6" r="3.65"/><circle cx="612.6" cy="538.5" r="3.65"/><circle cx="314.1" cy="519.9" r="3.65"/><circle cx="572.4" cy="515.3" r="3.65"/><circle cx="381.5" cy="563.5" r="3.65"/><circle cx="154.9" cy="526.2" r="3.65"/><circle cx="168.8" cy="511.0" r="3.65"/><circle cx="234.2" cy="539.4" r="3.65"/><circle cx="492.6" cy="487.8" r="3.65"/><circle cx="269.5" cy="561.3" r="3.65"/><circle cx="310.1" cy="487.8" r="3.65"/><circle cx="164.4" cy="563.2" r="3.65"/><circle cx="257.0" cy="553.2" r="3.65"/><circle cx="305.0" cy="564.1" r="3.65"/><circle cx="283.2" cy="523.8" r="3.65"/><circle cx="248.4" cy="560.8" r="3.65"/><circle cx="497.8" cy="535.7" r="3.65"/><circle cx="311.0" cy="563.8" r="3.65"/><circle cx="440.9" cy="534.1" r="3.65"/><circle cx="579.6" cy="562.1" r="3.65"/><circle cx="222.0" cy="534.7" r="3.65"/><circle cx="152.9" cy="524.4" r="3.65"/><circle cx="633.5" cy="550.1" r="3.65"/><circle cx="319.7" cy="565.6" r="3.65"/><circle cx="537.2" cy="520.8" r="3.65"/><circle cx="370.1" cy="531.6" r="3.65"/><circle cx="433.4" cy="523.5" r="3.65"/><circle cx="637.9" cy="557.9" r="3.65"/><circle cx="396.3" cy="547.4" r="3.65"/><circle cx="149.1" cy="533.5" r="3.65"/><circle cx="222.9" cy="561.9" r="3.65"/><circle cx="543.6" cy="520.6" r="3.65"/><circle cx="620.9" cy="523.5" r="3.65"/><circle cx="298.0" cy="500.0" r="3.65"/><circle cx="310.8" cy="566.7" r="3.65"/><circle cx="285.2" cy="557.1" r="3.65"/><circle cx="337.9" cy="523.7" r="3.65"/><circle cx="302.7" cy="549.7" r="3.65"/><circle cx="215.7" cy="425.4" r="3.65"/><circle cx="576.5" cy="527.1" r="3.65"/><circle cx="330.8" cy="553.3" r="3.65"/><circle cx="619.0" cy="558.8" r="3.65"/><circle cx="388.8" cy="545.0" r="3.65"/><circle cx="234.0" cy="563.0" r="3.65"/><circle cx="475.0" cy="532.4" r="3.65"/><circle cx="187.5" cy="430.9" r="3.65"/><circle cx="581.3" cy="561.3" r="3.65"/><circle cx="406.7" cy="549.6" r="3.65"/><circle cx="418.4" cy="549.4" r="3.65"/><circle cx="346.2" cy="536.5" r="3.65"/><circle cx="194.3" cy="541.1" r="3.65"/><circle cx="613.9" cy="525.8" r="3.65"/><circle cx="365.0" cy="540.8" r="3.65"/><circle cx="567.8" cy="538.1" r="3.65"/><circle cx="541.1" cy="519.1" r="3.65"/><circle cx="223.4" cy="560.9" r="3.65"/><circle cx="470.7" cy="564.2" r="3.65"/><circle cx="632.5" cy="525.8" r="3.65"/><circle cx="243.2" cy="554.9" r="3.65"/><circle cx="300.0" cy="554.2" r="3.65"/><circle cx="545.3" cy="544.8" r="3.65"/><circle cx="450.2" cy="460.0" r="3.65"/><circle cx="324.5" cy="563.0" r="3.65"/><circle cx="499.1" cy="565.1" r="3.65"/><circle cx="510.8" cy="491.1" r="3.65"/><circle cx="557.6" cy="545.5" r="3.65"/><circle cx="353.3" cy="551.6" r="3.65"/><circle cx="311.4" cy="494.4" r="3.65"/><circle cx="417.9" cy="547.2" r="3.65"/><circle cx="546.8" cy="555.6" r="3.65"/><circle cx="383.7" cy="567.9" r="3.65"/><circle cx="354.7" cy="533.8" r="3.65"/><circle cx="293.4" cy="538.6" r="3.65"/><circle cx="284.7" cy="493.4" r="3.65"/><circle cx="637.0" cy="552.0" r="3.65"/><circle cx="210.7" cy="563.0" r="3.65"/><circle cx="282.2" cy="477.5" r="3.65"/><circle cx="455.7" cy="524.8" r="3.65"/><circle cx="163.7" cy="527.5" r="3.65"/><circle cx="386.5" cy="474.5" r="3.65"/><circle cx="534.1" cy="390.3" r="3.65"/><circle cx="434.1" cy="554.4" r="3.65"/><circle cx="312.0" cy="519.4" r="3.65"/><circle cx="311.3" cy="499.2" r="3.65"/><circle cx="311.4" cy="537.7" r="3.65"/><circle cx="220.2" cy="515.6" r="3.65"/><circle cx="407.2" cy="538.6" r="3.65"/><circle cx="404.2" cy="546.9" r="3.65"/><circle cx="633.3" cy="557.0" r="3.65"/><circle cx="311.1" cy="562.5" r="3.65"/><circle cx="405.3" cy="552.0" r="3.65"/><circle cx="478.0" cy="529.8" r="3.65"/><circle cx="386.3" cy="522.4" r="3.65"/><circle cx="155.8" cy="558.1" r="3.65"/><circle cx="472.0" cy="559.5" r="3.65"/><circle cx="448.1" cy="514.7" r="3.65"/><circle cx="421.6" cy="555.6" r="3.65"/><circle cx="203.0" cy="556.8" r="3.65"/><circle cx="223.5" cy="558.1" r="3.65"/><circle cx="234.3" cy="561.1" r="3.65"/><circle cx="614.8" cy="489.6" r="3.65"/><circle cx="157.4" cy="528.3" r="3.65"/><circle cx="310.5" cy="543.7" r="3.65"/><circle cx="563.6" cy="558.3" r="3.65"/><circle cx="540.9" cy="546.6" r="3.65"/><circle cx="441.6" cy="533.4" r="3.65"/><circle cx="246.3" cy="521.6" r="3.65"/><circle cx="480.9" cy="566.5" r="3.65"/><circle cx="442.5" cy="496.2" r="3.65"/><circle cx="482.0" cy="496.5" r="3.65"/><circle cx="429.4" cy="565.2" r="3.65"/><circle cx="409.6" cy="552.3" r="3.65"/><circle cx="418.5" cy="564.9" r="3.65"/><circle cx="541.3" cy="528.5" r="3.65"/><circle cx="541.8" cy="565.9" r="3.65"/><circle cx="485.8" cy="526.8" r="3.65"/><circle cx="529.1" cy="521.2" r="3.65"/><circle cx="570.3" cy="532.2" r="3.65"/><circle cx="629.9" cy="529.2" r="3.65"/><circle cx="205.9" cy="550.4" r="3.65"/><circle cx="284.6" cy="525.8" r="3.65"/><circle cx="312.0" cy="522.1" r="3.65"/><circle cx="529.0" cy="548.2" r="3.65"/><circle cx="551.2" cy="526.2" r="3.65"/><circle cx="198.5" cy="525.9" r="3.65"/><circle cx="548.1" cy="546.6" r="3.65"/><circle cx="268.4" cy="559.2" r="3.65"/><circle cx="390.1" cy="543.7" r="3.65"/><circle cx="579.1" cy="517.6" r="3.65"/><circle cx="341.4" cy="530.3" r="3.65"/><circle cx="248.2" cy="542.6" r="3.65"/><circle cx="209.2" cy="542.0" r="3.65"/><circle cx="149.6" cy="523.6" r="3.65"/><circle cx="196.9" cy="553.8" r="3.65"/><circle cx="239.4" cy="561.8" r="3.65"/><circle cx="242.7" cy="543.9" r="3.65"/><circle cx="207.8" cy="560.5" r="3.65"/><circle cx="331.3" cy="491.9" r="3.65"/><circle cx="238.3" cy="567.0" r="3.65"/><circle cx="346.2" cy="561.9" r="3.65"/><circle cx="527.2" cy="528.6" r="3.65"/><circle cx="156.4" cy="521.1" r="3.65"/><circle cx="395.4" cy="463.2" r="3.65"/><circle cx="552.1" cy="552.7" r="3.65"/><circle cx="265.9" cy="565.1" r="3.65"/><circle cx="301.5" cy="509.8" r="3.65"/><circle cx="268.6" cy="556.1" r="3.65"/><circle cx="532.6" cy="534.0" r="3.65"/><circle cx="445.8" cy="537.1" r="3.65"/><circle cx="183.8" cy="566.2" r="3.65"/><circle cx="226.4" cy="491.4" r="3.65"/><circle cx="625.0" cy="560.1" r="3.65"/><circle cx="546.0" cy="558.8" r="3.65"/><circle cx="542.3" cy="556.5" r="3.65"/><circle cx="339.5" cy="522.5" r="3.65"/><circle cx="260.6" cy="561.6" r="3.65"/><circle cx="206.9" cy="564.9" r="3.65"/><circle cx="300.9" cy="567.9" r="3.65"/><circle cx="440.2" cy="526.0" r="3.65"/><circle cx="455.2" cy="524.2" r="3.65"/><circle cx="626.9" cy="566.3" r="3.65"/><circle cx="343.3" cy="566.1" r="3.65"/><circle cx="414.2" cy="544.2" r="3.65"/><circle cx="628.3" cy="565.1" r="3.65"/><circle cx="401.6" cy="541.6" r="3.65"/><circle cx="176.2" cy="547.3" r="3.65"/><circle cx="247.6" cy="547.7" r="3.65"/><circle cx="221.9" cy="526.8" r="3.65"/><circle cx="184.4" cy="464.7" r="3.65"/><circle cx="409.4" cy="547.8" r="3.65"/><circle cx="318.7" cy="517.7" r="3.65"/><circle cx="264.5" cy="535.0" r="3.65"/><circle cx="417.4" cy="514.3" r="3.65"/><circle cx="270.8" cy="555.6" r="3.65"/><circle cx="250.0" cy="566.2" r="3.65"/><circle cx="542.4" cy="531.9" r="3.65"/><circle cx="569.5" cy="531.1" r="3.65"/><circle cx="519.8" cy="564.4" r="3.65"/><circle cx="310.9" cy="541.5" r="3.65"/><circle cx="532.4" cy="561.1" r="3.65"/><circle cx="265.8" cy="528.7" r="3.65"/><circle cx="630.2" cy="563.2" r="3.65"/><circle cx="383.9" cy="556.1" r="3.65"/><circle cx="348.6" cy="535.1" r="3.65"/><circle cx="261.9" cy="539.6" r="3.65"/><circle cx="453.1" cy="491.8" r="3.65"/><circle cx="399.7" cy="557.6" r="3.65"/><circle cx="320.8" cy="548.3" r="3.65"/><circle cx="531.4" cy="563.2" r="3.65"/><circle cx="455.1" cy="543.6" r="3.65"/><circle cx="288.5" cy="544.9" r="3.65"/><circle cx="486.9" cy="530.4" r="3.65"/><circle cx="552.9" cy="541.3" r="3.65"/><circle cx="491.7" cy="374.1" r="3.65"/><circle cx="412.3" cy="529.1" r="3.65"/><circle cx="541.6" cy="458.5" r="3.65"/><circle cx="189.7" cy="525.6" r="3.65"/><circle cx="320.4" cy="509.1" r="3.65"/><circle cx="633.6" cy="517.4" r="3.65"/><circle cx="322.0" cy="465.4" r="3.65"/><circle cx="476.4" cy="519.3" r="3.65"/><circle cx="408.6" cy="549.7" r="3.65"/><circle cx="453.8" cy="555.8" r="3.65"/><circle cx="444.3" cy="561.0" r="3.65"/><circle cx="276.5" cy="524.6" r="3.65"/><circle cx="158.4" cy="566.0" r="3.65"/><circle cx="558.2" cy="514.7" r="3.65"/><circle cx="311.3" cy="561.6" r="3.65"/><circle cx="572.1" cy="521.1" r="3.65"/><circle cx="472.9" cy="526.5" r="3.65"/><circle cx="407.1" cy="525.7" r="3.65"/><circle cx="163.9" cy="556.5" r="3.65"/><circle cx="275.7" cy="567.2" r="3.65"/><circle cx="568.4" cy="558.8" r="3.65"/><circle cx="562.2" cy="521.7" r="3.65"/><circle cx="208.3" cy="528.8" r="3.65"/><circle cx="364.9" cy="540.4" r="3.65"/><circle cx="339.7" cy="446.7" r="3.65"/><circle cx="299.0" cy="561.6" r="3.65"/><circle cx="571.0" cy="552.5" r="3.65"/><circle cx="383.1" cy="565.3" r="3.65"/><circle cx="186.6" cy="536.9" r="3.65"/><circle cx="621.0" cy="558.9" r="3.65"/><circle cx="351.1" cy="558.1" r="3.65"/><circle cx="159.5" cy="538.4" r="3.65"/><circle cx="337.5" cy="538.3" r="3.65"/><circle cx="593.2" cy="552.7" r="3.65"/><circle cx="364.8" cy="559.0" r="3.65"/><circle cx="360.3" cy="478.7" r="3.65"/><circle cx="359.7" cy="499.3" r="3.65"/><circle cx="358.5" cy="558.1" r="3.65"/><circle cx="495.5" cy="468.2" r="3.65"/><circle cx="533.3" cy="532.0" r="3.65"/><circle cx="577.1" cy="484.3" r="3.65"/><circle cx="374.0" cy="561.5" r="3.65"/><circle cx="626.6" cy="561.1" r="3.65"/><circle cx="318.0" cy="543.1" r="3.65"/><circle cx="304.3" cy="559.5" r="3.65"/><circle cx="532.8" cy="516.6" r="3.65"/><circle cx="611.6" cy="555.7" r="3.65"/><circle cx="248.9" cy="566.1" r="3.65"/><circle cx="248.4" cy="562.7" r="3.65"/><circle cx="441.5" cy="551.5" r="3.65"/><circle cx="578.5" cy="567.1" r="3.65"/><circle cx="409.8" cy="525.3" r="3.65"/><circle cx="320.9" cy="530.7" r="3.65"/><circle cx="435.5" cy="504.9" r="3.65"/><circle cx="420.0" cy="486.9" r="3.65"/><circle cx="336.7" cy="529.5" r="3.65"/><circle cx="421.3" cy="525.0" r="3.65"/><circle cx="350.2" cy="563.9" r="3.65"/><circle cx="541.2" cy="545.6" r="3.65"/><circle cx="595.0" cy="561.9" r="3.65"/><circle cx="484.9" cy="481.9" r="3.65"/><circle cx="634.7" cy="522.7" r="3.65"/><circle cx="175.7" cy="550.3" r="3.65"/><circle cx="561.3" cy="566.2" r="3.65"/><circle cx="227.0" cy="442.2" r="3.65"/><circle cx="611.8" cy="526.1" r="3.65"/><circle cx="554.7" cy="475.8" r="3.65"/><circle cx="525.7" cy="546.7" r="3.65"/><circle cx="402.7" cy="540.5" r="3.65"/><circle cx="440.9" cy="527.7" r="3.65"/><circle cx="539.6" cy="560.8" r="3.65"/><circle cx="292.9" cy="530.5" r="3.65"/><circle cx="293.8" cy="554.1" r="3.65"/><circle cx="318.5" cy="562.4" r="3.65"/><circle cx="418.7" cy="499.4" r="3.65"/><circle cx="446.9" cy="438.5" r="3.65"/><circle cx="626.7" cy="524.4" r="3.65"/><circle cx="627.2" cy="524.4" r="3.65"/><circle cx="541.6" cy="534.4" r="3.65"/><circle cx="294.9" cy="567.2" r="3.65"/><circle cx="227.1" cy="531.1" r="3.65"/><circle cx="409.5" cy="559.8" r="3.65"/><circle cx="529.0" cy="556.6" r="3.65"/><circle cx="383.2" cy="549.0" r="3.65"/><circle cx="311.2" cy="561.4" r="3.65"/><circle cx="546.8" cy="530.8" r="3.65"/><circle cx="166.0" cy="525.2" r="3.65"/><circle cx="360.4" cy="566.2" r="3.65"/><circle cx="217.5" cy="478.9" r="3.65"/><circle cx="370.3" cy="563.7" r="3.65"/><circle cx="231.0" cy="566.1" r="3.65"/><circle cx="603.5" cy="549.4" r="3.65"/><circle cx="628.7" cy="521.9" r="3.65"/><circle cx="509.7" cy="567.1" r="3.65"/><circle cx="568.8" cy="547.8" r="3.65"/><circle cx="221.5" cy="533.0" r="3.65"/><circle cx="208.9" cy="518.7" r="3.65"/><circle cx="448.9" cy="506.1" r="3.65"/><circle cx="612.4" cy="564.5" r="3.65"/><circle cx="147.0" cy="549.9" r="3.65"/><circle cx="458.5" cy="476.7" r="3.65"/><circle cx="295.4" cy="511.1" r="3.65"/><circle cx="215.1" cy="515.2" r="3.65"/><circle cx="539.9" cy="527.8" r="3.65"/><circle cx="212.2" cy="481.3" r="3.65"/><circle cx="424.0" cy="479.2" r="3.65"/><circle cx="271.6" cy="515.0" r="3.65"/><circle cx="437.8" cy="526.4" r="3.65"/><circle cx="311.3" cy="527.3" r="3.65"/><circle cx="576.1" cy="563.6" r="3.65"/><circle cx="561.6" cy="527.0" r="3.65"/><circle cx="483.7" cy="557.5" r="3.65"/><circle cx="512.9" cy="543.2" r="3.65"/><circle cx="311.6" cy="500.7" r="3.65"/><circle cx="156.1" cy="547.9" r="3.65"/><circle cx="507.4" cy="558.3" r="3.65"/><circle cx="166.8" cy="524.9" r="3.65"/><circle cx="468.1" cy="551.9" r="3.65"/><circle cx="612.0" cy="529.2" r="3.65"/><circle cx="560.8" cy="564.4" r="3.65"/><circle cx="471.3" cy="549.0" r="3.65"/><circle cx="540.7" cy="516.1" r="3.65"/><circle cx="495.1" cy="565.9" r="3.65"/><circle cx="275.9" cy="564.5" r="3.65"/><circle cx="414.5" cy="556.6" r="3.65"/><circle cx="409.8" cy="499.9" r="3.65"/><circle cx="541.5" cy="548.2" r="3.65"/><circle cx="170.3" cy="517.7" r="3.65"/><circle cx="290.5" cy="522.5" r="3.65"/><circle cx="606.1" cy="530.3" r="3.65"/><circle cx="470.9" cy="523.4" r="3.65"/><circle cx="265.9" cy="521.2" r="3.65"/><circle cx="285.1" cy="566.9" r="3.65"/><circle cx="598.0" cy="552.1" r="3.65"/><circle cx="542.0" cy="535.4" r="3.65"/><circle cx="167.1" cy="537.7" r="3.65"/><circle cx="165.8" cy="560.4" r="3.65"/><circle cx="558.5" cy="558.9" r="3.65"/><circle cx="282.9" cy="551.7" r="3.65"/><circle cx="414.2" cy="547.0" r="3.65"/><circle cx="439.8" cy="559.2" r="3.65"/><circle cx="314.6" cy="525.0" r="3.65"/><circle cx="454.1" cy="558.5" r="3.65"/><circle cx="234.4" cy="505.0" r="3.65"/><circle cx="197.7" cy="536.3" r="3.65"/><circle cx="586.6" cy="531.5" r="3.65"/><circle cx="293.1" cy="534.9" r="3.65"/><circle cx="295.3" cy="515.2" r="3.65"/><circle cx="470.5" cy="523.2" r="3.65"/><circle cx="210.8" cy="556.5" r="3.65"/><circle cx="633.3" cy="510.0" r="3.65"/><circle cx="274.6" cy="545.0" r="3.65"/><circle cx="286.6" cy="547.3" r="3.65"/><circle cx="380.9" cy="424.1" r="3.65"/><circle cx="390.5" cy="529.2" r="3.65"/><circle cx="432.9" cy="557.4" r="3.65"/><circle cx="372.3" cy="467.5" r="3.65"/><circle cx="620.4" cy="487.2" r="3.65"/><circle cx="359.9" cy="537.7" r="3.65"/><circle cx="227.6" cy="443.3" r="3.65"/><circle cx="237.9" cy="524.3" r="3.65"/><circle cx="223.3" cy="521.7" r="3.65"/><circle cx="604.9" cy="529.8" r="3.65"/><circle cx="165.4" cy="537.8" r="3.65"/><circle cx="198.7" cy="531.5" r="3.65"/><circle cx="558.3" cy="521.5" r="3.65"/><circle cx="520.0" cy="563.9" r="3.65"/><circle cx="587.0" cy="511.9" r="3.65"/><circle cx="310.7" cy="554.7" r="3.65"/><circle cx="283.7" cy="514.1" r="3.65"/><circle cx="256.4" cy="566.6" r="3.65"/><circle cx="148.6" cy="530.3" r="3.65"/><circle cx="533.0" cy="544.7" r="3.65"/><circle cx="262.2" cy="539.1" r="3.65"/><circle cx="409.9" cy="518.8" r="3.65"/><circle cx="519.8" cy="521.9" r="3.65"/><circle cx="311.0" cy="544.9" r="3.65"/><circle cx="197.3" cy="530.9" r="3.65"/><circle cx="633.3" cy="525.7" r="3.65"/><circle cx="600.7" cy="519.6" r="3.65"/><circle cx="158.0" cy="516.1" r="3.65"/><circle cx="395.0" cy="511.9" r="3.65"/><circle cx="298.3" cy="535.0" r="3.65"/><circle cx="314.2" cy="363.4" r="3.65"/><circle cx="343.8" cy="553.6" r="3.65"/><circle cx="312.0" cy="508.4" r="3.65"/><circle cx="570.9" cy="540.9" r="3.65"/><circle cx="222.5" cy="551.0" r="3.65"/><circle cx="477.1" cy="567.5" r="3.65"/><circle cx="258.4" cy="521.0" r="3.65"/><circle cx="182.6" cy="565.5" r="3.65"/><circle cx="322.5" cy="565.5" r="3.65"/><circle cx="335.8" cy="511.1" r="3.65"/><circle cx="229.1" cy="551.6" r="3.65"/><circle cx="148.9" cy="550.4" r="3.65"/><circle cx="519.6" cy="561.8" r="3.65"/><circle cx="501.0" cy="529.0" r="3.65"/><circle cx="354.1" cy="552.4" r="3.65"/><circle cx="220.7" cy="541.0" r="3.65"/><circle cx="608.6" cy="514.5" r="3.65"/><circle cx="189.3" cy="555.3" r="3.65"/><circle cx="544.8" cy="522.0" r="3.65"/><circle cx="485.1" cy="509.4" r="3.65"/><circle cx="357.2" cy="457.4" r="3.65"/><circle cx="294.8" cy="554.7" r="3.65"/><circle cx="247.6" cy="484.9" r="3.65"/><circle cx="416.5" cy="560.0" r="3.65"/><circle cx="589.7" cy="551.8" r="3.65"/><circle cx="220.6" cy="553.5" r="3.65"/><circle cx="157.7" cy="530.9" r="3.65"/><circle cx="437.8" cy="522.7" r="3.65"/><circle cx="562.1" cy="540.9" r="3.65"/><circle cx="539.1" cy="547.0" r="3.65"/><circle cx="427.8" cy="463.2" r="3.65"/><circle cx="411.7" cy="567.4" r="3.65"/><circle cx="311.3" cy="493.5" r="3.65"/><circle cx="555.9" cy="538.6" r="3.65"/><circle cx="311.7" cy="546.0" r="3.65"/><circle cx="284.5" cy="498.2" r="3.65"/><circle cx="471.0" cy="561.6" r="3.65"/><circle cx="604.3" cy="561.2" r="3.65"/><circle cx="419.3" cy="530.6" r="3.65"/><circle cx="501.1" cy="539.2" r="3.65"/><circle cx="532.8" cy="567.9" r="3.65"/><circle cx="295.6" cy="550.7" r="3.65"/><circle cx="326.2" cy="542.5" r="3.65"/><circle cx="584.9" cy="543.1" r="3.65"/><circle cx="329.7" cy="554.8" r="3.65"/><circle cx="219.8" cy="541.7" r="3.65"/><circle cx="186.5" cy="518.3" r="3.65"/><circle cx="594.8" cy="504.9" r="3.65"/><circle cx="352.1" cy="511.3" r="3.65"/><circle cx="541.3" cy="563.7" r="3.65"/><circle cx="627.4" cy="491.0" r="3.65"/><circle cx="328.8" cy="522.7" r="3.65"/><circle cx="488.6" cy="541.3" r="3.65"/><circle cx="327.2" cy="552.5" r="3.65"/><circle cx="258.5" cy="459.3" r="3.65"/><circle cx="515.6" cy="531.9" r="3.65"/><circle cx="249.3" cy="546.6" r="3.65"/><circle cx="596.2" cy="552.9" r="3.65"/><circle cx="435.3" cy="476.5" r="3.65"/><circle cx="288.1" cy="556.1" r="3.65"/><circle cx="336.7" cy="535.9" r="3.65"/><circle cx="577.8" cy="539.7" r="3.65"/><circle cx="431.3" cy="464.2" r="3.65"/><circle cx="541.6" cy="502.0" r="3.65"/><circle cx="530.6" cy="567.1" r="3.65"/><circle cx="530.5" cy="548.3" r="3.65"/><circle cx="549.2" cy="553.6" r="3.65"/><circle cx="562.9" cy="543.4" r="3.65"/><circle cx="328.3" cy="551.4" r="3.65"/><circle cx="613.3" cy="533.4" r="3.65"/><circle cx="566.8" cy="539.7" r="3.65"/><circle cx="311.7" cy="476.4" r="3.65"/><circle cx="261.6" cy="550.6" r="3.65"/><circle cx="375.7" cy="532.0" r="3.65"/><circle cx="521.0" cy="475.8" r="3.65"/><circle cx="410.6" cy="534.5" r="3.65"/><circle cx="492.4" cy="535.3" r="3.65"/><circle cx="423.8" cy="564.3" r="3.65"/><circle cx="160.4" cy="523.6" r="3.65"/><circle cx="314.8" cy="455.2" r="3.65"/><circle cx="198.8" cy="542.8" r="3.65"/><circle cx="477.1" cy="506.2" r="3.65"/><circle cx="486.1" cy="546.7" r="3.65"/><circle cx="457.6" cy="544.2" r="3.65"/><circle cx="385.6" cy="544.5" r="3.65"/><circle cx="501.2" cy="562.2" r="3.65"/><circle cx="512.2" cy="542.8" r="3.65"/><circle cx="220.1" cy="556.1" r="3.65"/><circle cx="466.2" cy="561.2" r="3.65"/><circle cx="425.7" cy="476.1" r="3.65"/><circle cx="318.9" cy="550.8" r="3.65"/><circle cx="497.9" cy="521.2" r="3.65"/><circle cx="307.9" cy="545.5" r="3.65"/><circle cx="275.0" cy="516.5" r="3.65"/><circle cx="310.1" cy="519.3" r="3.65"/><circle cx="275.6" cy="550.0" r="3.65"/><circle cx="517.0" cy="567.8" r="3.65"/><circle cx="388.0" cy="557.6" r="3.65"/><circle cx="177.4" cy="557.1" r="3.65"/><circle cx="330.2" cy="518.8" r="3.65"/><circle cx="466.6" cy="567.0" r="3.65"/><circle cx="260.2" cy="553.4" r="3.65"/><circle cx="568.4" cy="522.8" r="3.65"/><circle cx="575.1" cy="530.6" r="3.65"/><circle cx="625.6" cy="521.6" r="3.65"/><circle cx="540.8" cy="533.7" r="3.65"/><circle cx="255.6" cy="543.3" r="3.65"/><circle cx="313.3" cy="563.9" r="3.65"/><circle cx="395.0" cy="542.3" r="3.65"/><circle cx="183.6" cy="565.9" r="3.65"/><circle cx="311.4" cy="512.6" r="3.65"/><circle cx="579.1" cy="469.2" r="3.65"/><circle cx="272.8" cy="523.9" r="3.65"/><circle cx="298.3" cy="551.8" r="3.65"/><circle cx="305.8" cy="563.9" r="3.65"/><circle cx="564.9" cy="559.9" r="3.65"/><circle cx="384.0" cy="464.2" r="3.65"/><circle cx="541.0" cy="549.1" r="3.65"/><circle cx="522.5" cy="530.9" r="3.65"/><circle cx="428.8" cy="540.0" r="3.65"/><circle cx="222.0" cy="499.1" r="3.65"/><circle cx="312.8" cy="547.3" r="3.65"/><circle cx="510.3" cy="553.2" r="3.65"/><circle cx="567.2" cy="531.6" r="3.65"/><circle cx="423.8" cy="526.9" r="3.65"/><circle cx="189.3" cy="556.7" r="3.65"/><circle cx="155.5" cy="536.1" r="3.65"/><circle cx="565.8" cy="519.3" r="3.65"/><circle cx="310.4" cy="525.6" r="3.65"/><circle cx="246.8" cy="554.7" r="3.65"/><circle cx="312.2" cy="552.0" r="3.65"/><circle cx="493.9" cy="560.6" r="3.65"/><circle cx="417.7" cy="543.7" r="3.65"/><circle cx="160.8" cy="516.0" r="3.65"/><circle cx="311.7" cy="523.8" r="3.65"/><circle cx="566.0" cy="520.6" r="3.65"/><circle cx="362.3" cy="527.8" r="3.65"/><circle cx="422.4" cy="516.8" r="3.65"/><circle cx="431.3" cy="551.0" r="3.65"/><circle cx="176.2" cy="532.3" r="3.65"/><circle cx="243.3" cy="494.2" r="3.65"/><circle cx="631.4" cy="532.8" r="3.65"/><circle cx="447.3" cy="553.3" r="3.65"/><circle cx="381.1" cy="524.9" r="3.65"/><circle cx="318.3" cy="555.0" r="3.65"/><circle cx="342.8" cy="563.7" r="3.65"/><circle cx="185.3" cy="533.3" r="3.65"/><circle cx="353.1" cy="525.6" r="3.65"/><circle cx="283.5" cy="552.9" r="3.65"/><circle cx="281.1" cy="520.2" r="3.65"/><circle cx="580.0" cy="523.8" r="3.65"/><circle cx="201.7" cy="553.3" r="3.65"/><circle cx="579.4" cy="514.2" r="3.65"/><circle cx="418.0" cy="545.0" r="3.65"/><circle cx="369.1" cy="518.5" r="3.65"/><circle cx="254.2" cy="557.8" r="3.65"/><circle cx="376.6" cy="519.0" r="3.65"/><circle cx="542.9" cy="524.3" r="3.65"/><circle cx="288.6" cy="564.8" r="3.65"/><circle cx="433.6" cy="532.8" r="3.65"/><circle cx="214.1" cy="565.8" r="3.65"/><circle cx="455.9" cy="565.5" r="3.65"/><circle cx="193.9" cy="548.1" r="3.65"/><circle cx="460.4" cy="557.3" r="3.65"/><circle cx="349.0" cy="544.4" r="3.65"/><circle cx="587.3" cy="524.5" r="3.65"/><circle cx="294.6" cy="548.0" r="3.65"/><circle cx="471.9" cy="564.7" r="3.65"/><circle cx="321.4" cy="519.1" r="3.65"/><circle cx="319.8" cy="565.4" r="3.65"/><circle cx="310.7" cy="533.8" r="3.65"/><circle cx="271.3" cy="567.7" r="3.65"/><circle cx="541.0" cy="523.3" r="3.65"/><circle cx="441.7" cy="556.2" r="3.65"/><circle cx="552.1" cy="472.7" r="3.65"/><circle cx="219.9" cy="551.9" r="3.65"/><circle cx="329.6" cy="554.9" r="3.65"/><circle cx="394.9" cy="535.0" r="3.65"/><circle cx="235.6" cy="549.4" r="3.65"/><circle cx="576.4" cy="538.8" r="3.65"/><circle cx="150.1" cy="545.9" r="3.65"/><circle cx="477.0" cy="532.0" r="3.65"/><circle cx="374.7" cy="521.9" r="3.65"/><circle cx="310.2" cy="467.7" r="3.65"/><circle cx="475.3" cy="532.0" r="3.65"/><circle cx="598.9" cy="567.7" r="3.65"/><circle cx="585.9" cy="544.4" r="3.65"/><circle cx="318.6" cy="518.7" r="3.65"/><circle cx="178.3" cy="533.7" r="3.65"/><circle cx="582.2" cy="519.0" r="3.65"/><circle cx="176.3" cy="530.1" r="3.65"/><circle cx="355.7" cy="429.4" r="3.65"/><circle cx="541.8" cy="565.5" r="3.65"/><circle cx="588.5" cy="490.8" r="3.65"/><circle cx="404.9" cy="560.3" r="3.65"/><circle cx="371.8" cy="511.0" r="3.65"/><circle cx="259.0" cy="562.4" r="3.65"/><circle cx="270.1" cy="479.7" r="3.65"/><circle cx="424.1" cy="476.3" r="3.65"/><circle cx="166.3" cy="550.3" r="3.65"/><circle cx="625.6" cy="554.0" r="3.65"/><circle cx="487.6" cy="557.3" r="3.65"/><circle cx="418.2" cy="526.0" r="3.65"/><circle cx="294.6" cy="560.4" r="3.65"/><circle cx="554.8" cy="556.4" r="3.65"/><circle cx="491.8" cy="566.6" r="3.65"/><circle cx="525.8" cy="549.2" r="3.65"/><circle cx="586.4" cy="536.0" r="3.65"/><circle cx="399.3" cy="509.1" r="3.65"/><circle cx="292.9" cy="522.3" r="3.65"/><circle cx="546.0" cy="527.7" r="3.65"/><circle cx="540.6" cy="489.6" r="3.65"/><circle cx="279.4" cy="555.6" r="3.65"/><circle cx="415.6" cy="498.7" r="3.65"/><circle cx="510.7" cy="563.7" r="3.65"/><circle cx="436.8" cy="519.2" r="3.65"/><circle cx="522.3" cy="538.2" r="3.65"/><circle cx="626.4" cy="555.2" r="3.65"/><circle cx="450.5" cy="535.3" r="3.65"/><circle cx="190.5" cy="566.2" r="3.65"/><circle cx="500.5" cy="497.5" r="3.65"/><circle cx="541.3" cy="528.2" r="3.65"/><circle cx="229.6" cy="559.2" r="3.65"/><circle cx="487.9" cy="535.4" r="3.65"/><circle cx="338.6" cy="564.7" r="3.65"/><circle cx="387.2" cy="565.5" r="3.65"/><circle cx="335.3" cy="348.1" r="3.65"/><circle cx="311.6" cy="551.4" r="3.65"/><circle cx="266.3" cy="565.9" r="3.65"/><circle cx="440.9" cy="529.9" r="3.65"/><circle cx="203.7" cy="474.8" r="3.65"/><circle cx="313.1" cy="568.0" r="3.65"/><circle cx="328.8" cy="491.5" r="3.65"/><circle cx="589.9" cy="433.2" r="3.65"/><circle cx="183.1" cy="521.6" r="3.65"/><circle cx="295.6" cy="560.5" r="3.65"/><circle cx="265.2" cy="551.8" r="3.65"/><circle cx="288.2" cy="561.8" r="3.65"/><circle cx="307.3" cy="472.4" r="3.65"/><circle cx="408.5" cy="558.7" r="3.65"/><circle cx="551.0" cy="540.0" r="3.65"/><circle cx="382.7" cy="495.1" r="3.65"/><circle cx="639.7" cy="514.7" r="3.65"/><circle cx="526.4" cy="539.5" r="3.65"/><circle cx="479.0" cy="519.5" r="3.65"/><circle cx="590.4" cy="521.7" r="3.65"/><circle cx="364.6" cy="554.7" r="3.65"/><circle cx="357.0" cy="542.9" r="3.65"/><circle cx="267.0" cy="501.1" r="3.65"/><circle cx="370.2" cy="559.5" r="3.65"/><circle cx="385.9" cy="482.2" r="3.65"/><circle cx="512.5" cy="492.9" r="3.65"/><circle cx="388.1" cy="545.5" r="3.65"/><circle cx="493.7" cy="565.4" r="3.65"/><circle cx="516.8" cy="566.6" r="3.65"/><circle cx="404.4" cy="543.0" r="3.65"/><circle cx="526.5" cy="536.1" r="3.65"/><circle cx="290.3" cy="525.5" r="3.65"/><circle cx="271.1" cy="529.5" r="3.65"/><circle cx="612.1" cy="540.8" r="3.65"/><circle cx="284.7" cy="548.3" r="3.65"/><circle cx="561.1" cy="529.5" r="3.65"/><circle cx="304.0" cy="533.4" r="3.65"/><circle cx="612.3" cy="544.0" r="3.65"/><circle cx="282.0" cy="536.7" r="3.65"/><circle cx="488.5" cy="548.6" r="3.65"/><circle cx="228.9" cy="545.3" r="3.65"/><circle cx="290.8" cy="527.9" r="3.65"/><circle cx="599.3" cy="524.8" r="3.65"/><circle cx="311.8" cy="565.3" r="3.65"/><circle cx="361.3" cy="487.0" r="3.65"/><circle cx="363.6" cy="527.7" r="3.65"/><circle cx="528.5" cy="558.3" r="3.65"/><circle cx="376.1" cy="537.6" r="3.65"/><circle cx="255.1" cy="566.7" r="3.65"/><circle cx="236.9" cy="520.0" r="3.65"/><circle cx="221.5" cy="540.3" r="3.65"/><circle cx="423.2" cy="432.2" r="3.65"/><circle cx="407.0" cy="553.3" r="3.65"/><circle cx="637.3" cy="555.0" r="3.65"/><circle cx="414.6" cy="567.5" r="3.65"/><circle cx="555.2" cy="530.1" r="3.65"/><circle cx="541.6" cy="553.2" r="3.65"/><circle cx="575.4" cy="516.0" r="3.65"/><circle cx="365.6" cy="502.8" r="3.65"/><circle cx="316.3" cy="466.4" r="3.65"/><circle cx="319.7" cy="559.6" r="3.65"/><circle cx="305.1" cy="508.2" r="3.65"/><circle cx="481.7" cy="559.6" r="3.65"/><circle cx="343.7" cy="517.4" r="3.65"/><circle cx="394.2" cy="555.0" r="3.65"/><circle cx="475.9" cy="565.2" r="3.65"/><circle cx="311.4" cy="501.5" r="3.65"/><circle cx="157.7" cy="565.7" r="3.65"/><circle cx="372.1" cy="535.6" r="3.65"/><circle cx="358.9" cy="557.5" r="3.65"/><circle cx="189.9" cy="531.2" r="3.65"/><circle cx="182.0" cy="543.0" r="3.65"/><circle cx="362.6" cy="562.8" r="3.65"/><circle cx="262.6" cy="551.1" r="3.65"/><circle cx="409.9" cy="561.2" r="3.65"/><circle cx="171.3" cy="554.8" r="3.65"/><circle cx="363.3" cy="564.6" r="3.65"/><circle cx="500.0" cy="530.1" r="3.65"/><circle cx="375.9" cy="493.7" r="3.65"/><circle cx="521.9" cy="485.4" r="3.65"/><circle cx="547.9" cy="493.9" r="3.65"/><circle cx="170.3" cy="560.4" r="3.65"/><circle cx="321.8" cy="564.1" r="3.65"/><circle cx="230.7" cy="461.3" r="3.65"/><circle cx="370.7" cy="467.3" r="3.65"/><circle cx="326.2" cy="541.1" r="3.65"/><circle cx="275.3" cy="557.1" r="3.65"/><circle cx="356.2" cy="550.0" r="3.65"/><circle cx="542.6" cy="566.6" r="3.65"/><circle cx="355.7" cy="409.3" r="3.65"/><circle cx="613.5" cy="539.0" r="3.65"/><circle cx="370.7" cy="479.5" r="3.65"/><circle cx="360.1" cy="537.6" r="3.65"/><circle cx="166.6" cy="489.0" r="3.65"/><circle cx="490.3" cy="535.5" r="3.65"/><circle cx="623.3" cy="527.8" r="3.65"/><circle cx="234.8" cy="566.9" r="3.65"/><circle cx="454.0" cy="513.2" r="3.65"/><circle cx="168.9" cy="530.4" r="3.65"/><circle cx="376.0" cy="550.1" r="3.65"/><circle cx="286.4" cy="547.5" r="3.65"/><circle cx="308.9" cy="357.2" r="3.65"/><circle cx="430.5" cy="559.7" r="3.65"/><circle cx="627.4" cy="542.9" r="3.65"/><circle cx="517.4" cy="547.1" r="3.65"/><circle cx="545.1" cy="514.3" r="3.65"/><circle cx="265.3" cy="544.0" r="3.65"/><circle cx="435.4" cy="567.1" r="3.65"/><circle cx="425.6" cy="563.9" r="3.65"/><circle cx="223.5" cy="557.7" r="3.65"/><circle cx="552.0" cy="563.4" r="3.65"/><circle cx="310.4" cy="521.9" r="3.65"/><circle cx="587.8" cy="512.2" r="3.65"/><circle cx="151.2" cy="547.6" r="3.65"/><circle cx="381.4" cy="532.4" r="3.65"/><circle cx="542.3" cy="523.9" r="3.65"/><circle cx="557.2" cy="517.8" r="3.65"/><circle cx="160.2" cy="545.6" r="3.65"/><circle cx="158.5" cy="493.8" r="3.65"/><circle cx="318.8" cy="468.3" r="3.65"/><circle cx="396.8" cy="526.5" r="3.65"/><circle cx="299.9" cy="550.0" r="3.65"/><circle cx="235.7" cy="562.1" r="3.65"/><circle cx="309.7" cy="557.3" r="3.65"/><circle cx="582.9" cy="565.4" r="3.65"/><circle cx="150.2" cy="422.1" r="3.65"/><circle cx="386.3" cy="501.9" r="3.65"/><circle cx="309.7" cy="534.8" r="3.65"/><circle cx="222.1" cy="530.9" r="3.65"/><circle cx="165.0" cy="545.4" r="3.65"/><circle cx="459.5" cy="501.4" r="3.65"/><circle cx="572.1" cy="515.6" r="3.65"/><circle cx="455.5" cy="540.2" r="3.65"/><circle cx="633.8" cy="565.5" r="3.65"/><circle cx="611.0" cy="524.5" r="3.65"/><circle cx="582.4" cy="566.3" r="3.65"/><circle cx="560.4" cy="555.9" r="3.65"/><circle cx="541.6" cy="515.6" r="3.65"/><circle cx="315.3" cy="543.3" r="3.65"/><circle cx="299.8" cy="559.6" r="3.65"/><circle cx="496.0" cy="525.4" r="3.65"/><circle cx="253.5" cy="544.1" r="3.65"/><circle cx="477.3" cy="517.1" r="3.65"/><circle cx="294.9" cy="523.8" r="3.65"/><circle cx="450.1" cy="453.3" r="3.65"/><circle cx="341.1" cy="514.4" r="3.65"/><circle cx="540.8" cy="553.5" r="3.65"/><circle cx="266.6" cy="553.4" r="3.65"/><circle cx="366.2" cy="526.1" r="3.65"/><circle cx="364.7" cy="543.9" r="3.65"/><circle cx="486.9" cy="564.1" r="3.65"/><circle cx="310.8" cy="491.5" r="3.65"/><circle cx="395.9" cy="546.6" r="3.65"/><circle cx="190.8" cy="533.4" r="3.65"/><circle cx="322.4" cy="493.5" r="3.65"/><circle cx="378.3" cy="484.0" r="3.65"/><circle cx="444.9" cy="544.4" r="3.65"/><circle cx="319.5" cy="472.9" r="3.65"/><circle cx="374.7" cy="504.5" r="3.65"/><circle cx="447.6" cy="506.1" r="3.65"/><circle cx="207.4" cy="549.2" r="3.65"/><circle cx="194.7" cy="520.4" r="3.65"/><circle cx="563.7" cy="436.3" r="3.65"/><circle cx="308.2" cy="509.0" r="3.65"/><circle cx="450.0" cy="554.8" r="3.65"/><circle cx="620.1" cy="541.8" r="3.65"/><circle cx="595.8" cy="512.6" r="3.65"/><circle cx="268.9" cy="566.8" r="3.65"/><circle cx="372.0" cy="557.0" r="3.65"/><circle cx="528.3" cy="490.5" r="3.65"/><circle cx="612.7" cy="551.5" r="3.65"/><circle cx="612.9" cy="500.0" r="3.65"/><circle cx="410.6" cy="563.8" r="3.65"/><circle cx="244.8" cy="537.1" r="3.65"/><circle cx="484.9" cy="537.6" r="3.65"/><circle cx="546.8" cy="563.9" r="3.65"/><circle cx="260.1" cy="534.6" r="3.65"/><circle cx="327.6" cy="535.3" r="3.65"/><circle cx="610.1" cy="549.9" r="3.65"/><circle cx="374.9" cy="550.3" r="3.65"/><circle cx="459.9" cy="516.6" r="3.65"/><circle cx="471.8" cy="565.5" r="3.65"/><circle cx="602.2" cy="524.4" r="3.65"/><circle cx="562.6" cy="504.4" r="3.65"/><circle cx="632.7" cy="565.4" r="3.65"/><circle cx="149.9" cy="523.6" r="3.65"/><circle cx="358.6" cy="562.8" r="3.65"/><circle cx="483.2" cy="565.2" r="3.65"/><circle cx="291.8" cy="561.5" r="3.65"/><circle cx="181.7" cy="555.1" r="3.65"/><circle cx="241.2" cy="555.8" r="3.65"/><circle cx="150.9" cy="564.6" r="3.65"/><circle cx="348.8" cy="485.1" r="3.65"/><circle cx="339.7" cy="553.1" r="3.65"/><circle cx="250.3" cy="520.0" r="3.65"/><circle cx="315.2" cy="489.6" r="3.65"/><circle cx="433.8" cy="532.6" r="3.65"/><circle cx="156.8" cy="518.9" r="3.65"/><circle cx="227.0" cy="490.2" r="3.65"/><circle cx="456.5" cy="548.5" r="3.65"/><circle cx="541.1" cy="561.6" r="3.65"/><circle cx="324.8" cy="566.0" r="3.65"/><circle cx="219.5" cy="556.0" r="3.65"/><circle cx="227.2" cy="563.3" r="3.65"/><circle cx="530.2" cy="566.5" r="3.65"/><circle cx="290.0" cy="552.3" r="3.65"/><circle cx="179.3" cy="563.7" r="3.65"/><circle cx="498.2" cy="530.8" r="3.65"/><circle cx="521.6" cy="512.5" r="3.65"/><circle cx="158.6" cy="546.6" r="3.65"/><circle cx="265.9" cy="552.3" r="3.65"/><circle cx="389.4" cy="527.1" r="3.65"/><circle cx="634.5" cy="565.3" r="3.65"/><circle cx="621.0" cy="565.3" r="3.65"/><circle cx="293.6" cy="560.1" r="3.65"/><circle cx="291.5" cy="557.0" r="3.65"/><circle cx="627.2" cy="483.5" r="3.65"/><circle cx="394.2" cy="553.5" r="3.65"/><circle cx="254.8" cy="539.5" r="3.65"/><circle cx="376.2" cy="535.8" r="3.65"/><circle cx="163.3" cy="538.4" r="3.65"/><circle cx="149.1" cy="517.0" r="3.65"/><circle cx="628.7" cy="519.2" r="3.65"/><circle cx="598.1" cy="343.8" r="3.65"/><circle cx="196.1" cy="567.3" r="3.65"/><circle cx="536.6" cy="548.4" r="3.65"/><circle cx="470.1" cy="542.5" r="3.65"/><circle cx="170.4" cy="543.7" r="3.65"/><circle cx="421.1" cy="505.4" r="3.65"/><circle cx="504.3" cy="547.5" r="3.65"/><circle cx="454.2" cy="523.2" r="3.65"/><circle cx="198.7" cy="539.9" r="3.65"/><circle cx="360.0" cy="532.8" r="3.65"/><circle cx="433.0" cy="541.6" r="3.65"/><circle cx="542.5" cy="527.0" r="3.65"/><circle cx="221.3" cy="551.1" r="3.65"/><circle cx="541.9" cy="536.6" r="3.65"/><circle cx="208.8" cy="536.0" r="3.65"/><circle cx="622.0" cy="567.8" r="3.65"/><circle cx="189.1" cy="559.5" r="3.65"/><circle cx="309.1" cy="313.2" r="3.65"/><circle cx="425.1" cy="567.8" r="3.65"/><circle cx="472.8" cy="525.6" r="3.65"/><circle cx="474.8" cy="559.3" r="3.65"/><circle cx="329.9" cy="551.4" r="3.65"/><circle cx="222.2" cy="521.8" r="3.65"/><circle cx="208.7" cy="534.6" r="3.65"/><circle cx="269.7" cy="534.6" r="3.65"/><circle cx="550.3" cy="542.3" r="3.65"/><circle cx="298.1" cy="518.5" r="3.65"/><circle cx="555.2" cy="546.4" r="3.65"/><circle cx="209.7" cy="551.8" r="3.65"/><circle cx="475.8" cy="551.5" r="3.65"/><circle cx="476.9" cy="531.6" r="3.65"/><circle cx="359.8" cy="548.3" r="3.65"/><circle cx="388.2" cy="535.6" r="3.65"/><circle cx="359.9" cy="477.2" r="3.65"/><circle cx="371.5" cy="567.4" r="3.65"/><circle cx="472.6" cy="564.7" r="3.65"/><circle cx="160.3" cy="543.8" r="3.65"/><circle cx="394.2" cy="546.4" r="3.65"/><circle cx="234.5" cy="466.4" r="3.65"/><circle cx="389.9" cy="521.7" r="3.65"/><circle cx="465.6" cy="566.9" r="3.65"/><circle cx="147.0" cy="549.6" r="3.65"/><circle cx="562.2" cy="465.5" r="3.65"/><circle cx="247.3" cy="479.0" r="3.65"/><circle cx="308.8" cy="516.6" r="3.65"/><circle cx="316.1" cy="547.1" r="3.65"/><circle cx="499.4" cy="558.7" r="3.65"/><circle cx="423.3" cy="536.1" r="3.65"/><circle cx="313.6" cy="565.7" r="3.65"/><circle cx="167.3" cy="539.5" r="3.65"/><circle cx="410.9" cy="463.5" r="3.65"/><circle cx="501.3" cy="545.5" r="3.65"/><circle cx="421.3" cy="543.3" r="3.65"/><circle cx="386.1" cy="563.4" r="3.65"/><circle cx="221.1" cy="532.5" r="3.65"/><circle cx="197.2" cy="546.3" r="3.65"/><circle cx="636.2" cy="565.4" r="3.65"/><circle cx="301.9" cy="500.2" r="3.65"/><circle cx="619.3" cy="486.6" r="3.65"/><circle cx="449.9" cy="560.1" r="3.65"/><circle cx="403.5" cy="567.2" r="3.65"/><circle cx="533.1" cy="537.3" r="3.65"/><circle cx="245.4" cy="566.0" r="3.65"/><circle cx="314.1" cy="526.9" r="3.65"/><circle cx="148.4" cy="542.0" r="3.65"/><circle cx="235.1" cy="540.5" r="3.65"/><circle cx="388.4" cy="567.6" r="3.65"/><circle cx="555.8" cy="556.6" r="3.65"/><circle cx="167.9" cy="562.0" r="3.65"/><circle cx="409.6" cy="557.9" r="3.65"/><circle cx="573.3" cy="558.9" r="3.65"/><circle cx="182.7" cy="546.4" r="3.65"/><circle cx="505.5" cy="564.4" r="3.65"/><circle cx="354.4" cy="500.6" r="3.65"/><circle cx="541.4" cy="537.1" r="3.65"/><circle cx="310.4" cy="551.2" r="3.65"/><circle cx="256.9" cy="544.0" r="3.65"/><circle cx="309.9" cy="532.9" r="3.65"/><circle cx="491.1" cy="517.5" r="3.65"/><circle cx="304.0" cy="507.4" r="3.65"/><circle cx="512.3" cy="567.2" r="3.65"/><circle cx="560.2" cy="549.7" r="3.65"/><circle cx="295.3" cy="565.1" r="3.65"/><circle cx="239.1" cy="282.0" r="3.65"/><circle cx="625.7" cy="550.0" r="3.65"/><circle cx="453.9" cy="561.3" r="3.65"/><circle cx="287.8" cy="489.2" r="3.65"/><circle cx="460.1" cy="499.4" r="3.65"/><circle cx="344.6" cy="528.8" r="3.65"/><circle cx="231.5" cy="528.5" r="3.65"/><circle cx="624.2" cy="562.9" r="3.65"/><circle cx="559.3" cy="565.5" r="3.65"/><circle cx="464.3" cy="553.4" r="3.65"/><circle cx="612.0" cy="546.5" r="3.65"/><circle cx="616.8" cy="555.6" r="3.65"/><circle cx="207.9" cy="518.6" r="3.65"/><circle cx="360.0" cy="546.2" r="3.65"/><circle cx="329.5" cy="550.6" r="3.65"/><circle cx="617.1" cy="548.7" r="3.65"/><circle cx="459.0" cy="560.1" r="3.65"/><circle cx="329.5" cy="558.8" r="3.65"/><circle cx="355.4" cy="492.1" r="3.65"/><circle cx="598.7" cy="545.5" r="3.65"/><circle cx="564.9" cy="563.6" r="3.65"/><circle cx="211.7" cy="547.5" r="3.65"/><circle cx="561.7" cy="544.5" r="3.65"/><circle cx="261.5" cy="521.1" r="3.65"/><circle cx="211.0" cy="551.4" r="3.65"/><circle cx="406.5" cy="523.5" r="3.65"/><circle cx="405.6" cy="513.3" r="3.65"/><circle cx="221.2" cy="566.1" r="3.65"/><circle cx="629.5" cy="481.5" r="3.65"/><circle cx="459.1" cy="546.3" r="3.65"/><circle cx="187.8" cy="561.4" r="3.65"/><circle cx="405.8" cy="479.9" r="3.65"/><circle cx="280.8" cy="546.9" r="3.65"/><circle cx="194.4" cy="558.9" r="3.65"/><circle cx="211.7" cy="520.0" r="3.65"/><circle cx="261.4" cy="552.4" r="3.65"/><circle cx="242.3" cy="565.0" r="3.65"/><circle cx="250.0" cy="554.9" r="3.65"/><circle cx="563.6" cy="564.7" r="3.65"/><circle cx="582.6" cy="533.6" r="3.65"/><circle cx="314.8" cy="515.5" r="3.65"/><circle cx="500.5" cy="561.2" r="3.65"/><circle cx="396.2" cy="497.7" r="3.65"/><circle cx="311.4" cy="558.0" r="3.65"/><circle cx="406.4" cy="553.0" r="3.65"/><circle cx="353.7" cy="514.3" r="3.65"/><circle cx="520.8" cy="519.9" r="3.65"/><circle cx="570.3" cy="530.2" r="3.65"/><circle cx="508.2" cy="549.6" r="3.65"/><circle cx="239.6" cy="537.2" r="3.65"/><circle cx="187.3" cy="545.2" r="3.65"/><circle cx="320.3" cy="520.3" r="3.65"/><circle cx="227.9" cy="564.0" r="3.65"/><circle cx="160.8" cy="566.5" r="3.65"/><circle cx="226.2" cy="566.8" r="3.65"/><circle cx="386.3" cy="546.6" r="3.65"/><circle cx="453.5" cy="552.8" r="3.65"/><circle cx="156.3" cy="565.2" r="3.65"/><circle cx="477.0" cy="511.7" r="3.65"/><circle cx="346.3" cy="544.3" r="3.65"/><circle cx="427.6" cy="552.4" r="3.65"/><circle cx="343.1" cy="520.3" r="3.65"/><circle cx="322.3" cy="550.9" r="3.65"/><circle cx="308.8" cy="559.6" r="3.65"/><circle cx="353.8" cy="508.7" r="3.65"/><circle cx="547.8" cy="529.6" r="3.65"/><circle cx="623.6" cy="549.5" r="3.65"/><circle cx="344.0" cy="535.9" r="3.65"/><circle cx="516.1" cy="416.0" r="3.65"/><circle cx="418.7" cy="537.7" r="3.65"/><circle cx="337.9" cy="514.7" r="3.65"/><circle cx="637.8" cy="557.6" r="3.65"/><circle cx="354.6" cy="489.3" r="3.65"/><circle cx="315.2" cy="535.4" r="3.65"/><circle cx="281.5" cy="555.4" r="3.65"/><circle cx="284.4" cy="554.1" r="3.65"/><circle cx="218.7" cy="498.5" r="3.65"/><circle cx="374.9" cy="566.7" r="3.65"/><circle cx="283.9" cy="558.5" r="3.65"/><circle cx="524.0" cy="564.3" r="3.65"/><circle cx="528.1" cy="555.7" r="3.65"/><circle cx="527.8" cy="567.1" r="3.65"/><circle cx="192.4" cy="560.9" r="3.65"/><circle cx="312.7" cy="490.1" r="3.65"/><circle cx="531.8" cy="499.7" r="3.65"/><circle cx="538.3" cy="525.6" r="3.65"/><circle cx="205.6" cy="539.1" r="3.65"/><circle cx="371.6" cy="546.9" r="3.65"/><circle cx="221.4" cy="535.4" r="3.65"/><circle cx="334.8" cy="523.2" r="3.65"/><circle cx="318.8" cy="522.4" r="3.65"/><circle cx="530.9" cy="533.1" r="3.65"/><circle cx="373.3" cy="522.9" r="3.65"/><circle cx="451.0" cy="514.7" r="3.65"/><circle cx="255.7" cy="552.7" r="3.65"/><circle cx="410.7" cy="551.7" r="3.65"/><circle cx="624.6" cy="367.6" r="3.65"/><circle cx="385.0" cy="566.7" r="3.65"/><circle cx="598.1" cy="522.6" r="3.65"/><circle cx="431.7" cy="547.8" r="3.65"/><circle cx="162.9" cy="451.8" r="3.65"/><circle cx="197.8" cy="567.5" r="3.65"/><circle cx="369.5" cy="537.4" r="3.65"/><circle cx="329.6" cy="524.2" r="3.65"/><circle cx="421.7" cy="548.2" r="3.65"/><circle cx="504.0" cy="567.5" r="3.65"/><circle cx="309.8" cy="520.2" r="3.65"/><circle cx="468.1" cy="522.9" r="3.65"/><circle cx="151.1" cy="456.5" r="3.65"/><circle cx="332.3" cy="563.5" r="3.65"/><circle cx="273.7" cy="564.6" r="3.65"/><circle cx="220.8" cy="567.5" r="3.65"/><circle cx="256.1" cy="566.9" r="3.65"/><circle cx="297.6" cy="524.5" r="3.65"/><circle cx="457.1" cy="475.9" r="3.65"/><circle cx="221.0" cy="497.8" r="3.65"/><circle cx="388.0" cy="538.2" r="3.65"/><circle cx="168.0" cy="544.3" r="3.65"/><circle cx="211.8" cy="567.5" r="3.65"/><circle cx="339.6" cy="567.5" r="3.65"/><circle cx="353.1" cy="563.3" r="3.65"/><circle cx="198.2" cy="509.8" r="3.65"/><circle cx="492.4" cy="564.0" r="3.65"/><circle cx="219.4" cy="545.1" r="3.65"/><circle cx="352.7" cy="515.1" r="3.65"/><circle cx="470.1" cy="559.5" r="3.65"/><circle cx="302.4" cy="555.6" r="3.65"/><circle cx="504.2" cy="562.6" r="3.65"/><circle cx="149.3" cy="556.7" r="3.65"/><circle cx="265.3" cy="520.6" r="3.65"/><circle cx="501.6" cy="511.6" r="3.65"/><circle cx="509.8" cy="527.9" r="3.65"/><circle cx="491.0" cy="562.7" r="3.65"/><circle cx="487.8" cy="552.6" r="3.65"/><circle cx="542.0" cy="517.8" r="3.65"/><circle cx="316.2" cy="565.8" r="3.65"/><circle cx="362.1" cy="561.8" r="3.65"/><circle cx="177.2" cy="559.3" r="3.65"/><circle cx="239.1" cy="398.9" r="3.65"/><circle cx="402.1" cy="540.6" r="3.65"/><circle cx="329.4" cy="530.5" r="3.65"/><circle cx="324.2" cy="505.9" r="3.65"/><circle cx="339.6" cy="407.2" r="3.65"/><circle cx="311.3" cy="544.0" r="3.65"/><circle cx="311.0" cy="555.4" r="3.65"/><circle cx="259.1" cy="544.4" r="3.65"/><circle cx="250.5" cy="517.0" r="3.65"/><circle cx="233.0" cy="561.5" r="3.65"/><circle cx="426.9" cy="518.4" r="3.65"/><circle cx="290.1" cy="454.6" r="3.65"/><circle cx="397.4" cy="522.6" r="3.65"/><circle cx="372.6" cy="520.0" r="3.65"/><circle cx="484.8" cy="557.2" r="3.65"/><circle cx="549.8" cy="546.7" r="3.65"/><circle cx="356.8" cy="534.9" r="3.65"/><circle cx="486.1" cy="524.0" r="3.65"/><circle cx="191.5" cy="537.0" r="3.65"/><circle cx="448.5" cy="538.3" r="3.65"/><circle cx="475.3" cy="528.2" r="3.65"/><circle cx="503.5" cy="518.5" r="3.65"/><circle cx="339.4" cy="543.6" r="3.65"/><circle cx="521.0" cy="563.5" r="3.65"/><circle cx="393.4" cy="565.9" r="3.65"/><circle cx="514.5" cy="558.7" r="3.65"/><circle cx="557.7" cy="493.1" r="3.65"/><circle cx="167.2" cy="561.4" r="3.65"/><circle cx="204.6" cy="533.4" r="3.65"/><circle cx="212.6" cy="537.8" r="3.65"/><circle cx="532.1" cy="543.1" r="3.65"/><circle cx="309.8" cy="554.4" r="3.65"/><circle cx="432.6" cy="536.8" r="3.65"/><circle cx="563.5" cy="495.7" r="3.65"/><circle cx="369.2" cy="543.7" r="3.65"/><circle cx="596.9" cy="543.3" r="3.65"/><circle cx="215.9" cy="530.1" r="3.65"/><circle cx="403.1" cy="553.1" r="3.65"/><circle cx="576.5" cy="516.5" r="3.65"/><circle cx="392.3" cy="496.4" r="3.65"/><circle cx="175.0" cy="536.1" r="3.65"/><circle cx="373.6" cy="563.5" r="3.65"/><circle cx="383.9" cy="532.4" r="3.65"/><circle cx="147.2" cy="524.6" r="3.65"/><circle cx="210.2" cy="534.8" r="3.65"/><circle cx="439.7" cy="472.0" r="3.65"/><circle cx="430.1" cy="557.2" r="3.65"/><circle cx="396.3" cy="539.1" r="3.65"/><circle cx="372.6" cy="537.5" r="3.65"/><circle cx="187.0" cy="554.8" r="3.65"/><circle cx="382.5" cy="567.5" r="3.65"/><circle cx="221.0" cy="543.0" r="3.65"/><circle cx="328.0" cy="538.3" r="3.65"/><circle cx="625.0" cy="559.0" r="3.65"/><circle cx="195.0" cy="565.7" r="3.65"/><circle cx="312.3" cy="527.5" r="3.65"/><circle cx="353.4" cy="562.0" r="3.65"/><circle cx="190.3" cy="567.3" r="3.65"/><circle cx="635.7" cy="546.8" r="3.65"/><circle cx="472.6" cy="546.8" r="3.65"/><circle cx="564.6" cy="544.3" r="3.65"/><circle cx="580.2" cy="565.9" r="3.65"/><circle cx="158.5" cy="563.5" r="3.65"/><circle cx="310.8" cy="516.9" r="3.65"/><circle cx="303.2" cy="553.1" r="3.65"/><circle cx="182.3" cy="554.4" r="3.65"/><circle cx="555.4" cy="567.5" r="3.65"/><circle cx="221.5" cy="546.2" r="3.65"/><circle cx="183.4" cy="565.9" r="3.65"/><circle cx="552.1" cy="531.1" r="3.65"/><circle cx="440.5" cy="552.0" r="3.65"/><circle cx="408.9" cy="556.2" r="3.65"/><circle cx="235.4" cy="520.7" r="3.65"/><circle cx="309.4" cy="507.7" r="3.65"/><circle cx="625.5" cy="565.5" r="3.65"/><circle cx="387.9" cy="411.0" r="3.65"/><circle cx="526.0" cy="496.7" r="3.65"/><circle cx="363.8" cy="420.8" r="3.65"/><circle cx="543.7" cy="549.4" r="3.65"/><circle cx="491.8" cy="558.2" r="3.65"/><circle cx="632.6" cy="561.0" r="3.65"/><circle cx="216.7" cy="544.8" r="3.65"/><circle cx="633.2" cy="521.8" r="3.65"/><circle cx="309.1" cy="539.3" r="3.65"/><circle cx="147.3" cy="533.0" r="3.65"/><circle cx="501.6" cy="566.6" r="3.65"/><circle cx="311.6" cy="558.6" r="3.65"/><circle cx="566.9" cy="545.5" r="3.65"/><circle cx="181.6" cy="562.9" r="3.65"/><circle cx="310.8" cy="532.0" r="3.65"/><circle cx="597.9" cy="478.0" r="3.65"/><circle cx="386.2" cy="560.4" r="3.65"/><circle cx="535.3" cy="525.6" r="3.65"/><circle cx="567.9" cy="476.7" r="3.65"/><circle cx="311.2" cy="559.3" r="3.65"/><circle cx="511.8" cy="422.6" r="3.65"/><circle cx="194.7" cy="460.8" r="3.65"/><circle cx="268.0" cy="539.2" r="3.65"/><circle cx="619.3" cy="565.0" r="3.65"/><circle cx="175.7" cy="566.6" r="3.65"/><circle cx="295.1" cy="523.9" r="3.65"/><circle cx="609.9" cy="515.5" r="3.65"/><circle cx="540.7" cy="529.2" r="3.65"/><circle cx="217.0" cy="520.1" r="3.65"/><circle cx="551.1" cy="538.7" r="3.65"/><circle cx="274.7" cy="508.9" r="3.65"/><circle cx="251.7" cy="548.9" r="3.65"/><circle cx="257.5" cy="566.8" r="3.65"/><circle cx="428.2" cy="559.5" r="3.65"/><circle cx="380.0" cy="550.5" r="3.65"/><circle cx="246.9" cy="550.7" r="3.65"/><circle cx="291.5" cy="516.4" r="3.65"/><circle cx="396.8" cy="556.9" r="3.65"/><circle cx="167.1" cy="555.4" r="3.65"/><circle cx="541.0" cy="565.8" r="3.65"/><circle cx="190.8" cy="564.7" r="3.65"/><circle cx="560.8" cy="532.1" r="3.65"/><circle cx="540.8" cy="561.6" r="3.65"/><circle cx="364.3" cy="537.4" r="3.65"/><circle cx="395.0" cy="567.4" r="3.65"/><circle cx="460.2" cy="543.2" r="3.65"/><circle cx="409.7" cy="537.1" r="3.65"/><circle cx="334.1" cy="538.4" r="3.65"/><circle cx="356.9" cy="530.1" r="3.65"/><circle cx="593.1" cy="561.1" r="3.65"/><circle cx="464.0" cy="509.0" r="3.65"/><circle cx="356.4" cy="496.9" r="3.65"/><circle cx="341.5" cy="558.6" r="3.65"/><circle cx="555.2" cy="292.4" r="3.65"/><circle cx="272.2" cy="548.0" r="3.65"/><circle cx="527.9" cy="564.4" r="3.65"/><circle cx="618.4" cy="501.4" r="3.65"/><circle cx="521.0" cy="563.4" r="3.65"/><circle cx="388.2" cy="553.2" r="3.65"/><circle cx="524.8" cy="532.2" r="3.65"/><circle cx="337.5" cy="552.4" r="3.65"/><circle cx="593.1" cy="557.8" r="3.65"/><circle cx="503.5" cy="547.0" r="3.65"/><circle cx="452.4" cy="551.0" r="3.65"/><circle cx="219.8" cy="476.3" r="3.65"/><circle cx="536.1" cy="514.2" r="3.65"/><circle cx="561.4" cy="557.6" r="3.65"/><circle cx="156.9" cy="554.4" r="3.65"/><circle cx="569.6" cy="514.4" r="3.65"/><circle cx="469.6" cy="559.6" r="3.65"/><circle cx="253.6" cy="506.7" r="3.65"/><circle cx="250.1" cy="477.3" r="3.65"/><circle cx="439.1" cy="514.6" r="3.65"/><circle cx="244.8" cy="555.8" r="3.65"/><circle cx="222.6" cy="564.3" r="3.65"/><circle cx="176.6" cy="534.7" r="3.65"/><circle cx="278.7" cy="557.0" r="3.65"/><circle cx="463.1" cy="560.8" r="3.65"/><circle cx="358.5" cy="562.0" r="3.65"/><circle cx="338.5" cy="501.8" r="3.65"/><circle cx="298.4" cy="519.6" r="3.65"/><circle cx="502.0" cy="401.1" r="3.65"/><circle cx="364.2" cy="534.3" r="3.65"/><circle cx="613.7" cy="535.0" r="3.65"/><circle cx="319.3" cy="467.7" r="3.65"/><circle cx="222.5" cy="560.8" r="3.65"/><circle cx="613.3" cy="515.7" r="3.65"/><circle cx="358.0" cy="514.1" r="3.65"/><circle cx="185.5" cy="528.9" r="3.65"/><circle cx="434.6" cy="548.2" r="3.65"/><circle cx="632.5" cy="505.8" r="3.65"/><circle cx="353.8" cy="518.4" r="3.65"/><circle cx="405.4" cy="523.3" r="3.65"/><circle cx="410.5" cy="488.1" r="3.65"/><circle cx="449.6" cy="547.5" r="3.65"/><circle cx="617.9" cy="541.6" r="3.65"/><circle cx="412.0" cy="563.7" r="3.65"/><circle cx="204.8" cy="514.8" r="3.65"/><circle cx="315.1" cy="497.8" r="3.65"/><circle cx="163.6" cy="539.7" r="3.65"/><circle cx="481.3" cy="524.3" r="3.65"/><circle cx="630.8" cy="538.8" r="3.65"/><circle cx="179.1" cy="516.9" r="3.65"/><circle cx="439.3" cy="528.4" r="3.65"/><circle cx="229.9" cy="518.6" r="3.65"/><circle cx="280.7" cy="555.6" r="3.65"/><circle cx="544.6" cy="551.4" r="3.65"/><circle cx="319.9" cy="513.2" r="3.65"/><circle cx="477.4" cy="558.4" r="3.65"/><circle cx="635.4" cy="527.1" r="3.65"/><circle cx="438.0" cy="562.6" r="3.65"/><circle cx="554.8" cy="545.5" r="3.65"/><circle cx="322.2" cy="521.4" r="3.65"/><circle cx="237.1" cy="538.7" r="3.65"/><circle cx="177.2" cy="527.5" r="3.65"/><circle cx="371.2" cy="552.0" r="3.65"/><circle cx="518.9" cy="537.0" r="3.65"/><circle cx="423.4" cy="518.8" r="3.65"/><circle cx="601.7" cy="543.7" r="3.65"/><circle cx="262.6" cy="515.3" r="3.65"/><circle cx="200.1" cy="536.5" r="3.65"/><circle cx="169.9" cy="551.7" r="3.65"/><circle cx="524.1" cy="538.3" r="3.65"/><circle cx="318.1" cy="563.6" r="3.65"/><circle cx="513.0" cy="552.3" r="3.65"/><circle cx="393.4" cy="466.4" r="3.65"/><circle cx="505.2" cy="567.8" r="3.65"/><circle cx="519.2" cy="224.9" r="3.65"/><circle cx="225.5" cy="541.6" r="3.65"/><circle cx="615.4" cy="552.1" r="3.65"/><circle cx="235.9" cy="553.9" r="3.65"/><circle cx="362.1" cy="562.5" r="3.65"/><circle cx="549.7" cy="552.9" r="3.65"/><circle cx="320.2" cy="437.2" r="3.65"/><circle cx="294.0" cy="559.4" r="3.65"/><circle cx="531.2" cy="563.8" r="3.65"/><circle cx="183.9" cy="514.4" r="3.65"/><circle cx="584.0" cy="546.1" r="3.65"/><circle cx="361.5" cy="484.9" r="3.65"/><circle cx="464.1" cy="492.3" r="3.65"/><circle cx="191.7" cy="534.2" r="3.65"/><circle cx="450.3" cy="565.8" r="3.65"/><circle cx="511.5" cy="544.1" r="3.65"/><circle cx="312.2" cy="529.3" r="3.65"/><circle cx="322.7" cy="545.6" r="3.65"/><circle cx="245.4" cy="448.6" r="3.65"/><circle cx="565.0" cy="549.2" r="3.65"/><circle cx="501.1" cy="533.2" r="3.65"/><circle cx="374.0" cy="550.8" r="3.65"/><circle cx="259.0" cy="558.0" r="3.65"/><circle cx="599.4" cy="555.5" r="3.65"/><circle cx="272.0" cy="533.8" r="3.65"/><circle cx="315.5" cy="541.6" r="3.65"/><circle cx="443.3" cy="534.5" r="3.65"/><circle cx="441.6" cy="514.0" r="3.65"/><circle cx="465.0" cy="485.5" r="3.65"/><circle cx="188.6" cy="557.6" r="3.65"/><circle cx="400.1" cy="528.0" r="3.65"/><circle cx="326.7" cy="523.0" r="3.65"/><circle cx="539.0" cy="530.2" r="3.65"/><circle cx="549.8" cy="548.4" r="3.65"/><circle cx="275.3" cy="553.2" r="3.65"/><circle cx="311.6" cy="544.9" r="3.65"/><circle cx="310.5" cy="493.7" r="3.65"/><circle cx="343.4" cy="564.0" r="3.65"/><circle cx="246.4" cy="517.9" r="3.65"/><circle cx="420.4" cy="549.7" r="3.65"/><circle cx="183.9" cy="484.0" r="3.65"/><circle cx="295.7" cy="566.7" r="3.65"/><circle cx="636.5" cy="563.1" r="3.65"/><circle cx="326.4" cy="486.4" r="3.65"/><circle cx="347.9" cy="537.6" r="3.65"/><circle cx="625.1" cy="514.6" r="3.65"/><circle cx="222.1" cy="496.1" r="3.65"/><circle cx="177.2" cy="496.4" r="3.65"/><circle cx="518.1" cy="566.6" r="3.65"/><circle cx="636.3" cy="514.4" r="3.65"/><circle cx="510.2" cy="539.5" r="3.65"/><circle cx="568.9" cy="515.0" r="3.65"/><circle cx="188.7" cy="416.3" r="3.65"/><circle cx="282.7" cy="541.8" r="3.65"/><circle cx="595.8" cy="554.4" r="3.65"/><circle cx="158.8" cy="557.5" r="3.65"/><circle cx="483.0" cy="562.8" r="3.65"/><circle cx="189.1" cy="564.7" r="3.65"/><circle cx="581.2" cy="548.3" r="3.65"/><circle cx="384.8" cy="531.8" r="3.65"/><circle cx="532.7" cy="531.3" r="3.65"/><circle cx="229.7" cy="512.5" r="3.65"/><circle cx="627.2" cy="564.4" r="3.65"/><circle cx="358.1" cy="564.2" r="3.65"/><circle cx="487.2" cy="559.9" r="3.65"/><circle cx="195.0" cy="511.6" r="3.65"/><circle cx="397.0" cy="564.4" r="3.65"/><circle cx="271.7" cy="564.1" r="3.65"/><circle cx="455.6" cy="546.5" r="3.65"/><circle cx="466.9" cy="462.3" r="3.65"/><circle cx="205.8" cy="517.7" r="3.65"/><circle cx="425.1" cy="504.5" r="3.65"/><circle cx="219.9" cy="563.0" r="3.65"/><circle cx="230.9" cy="566.9" r="3.65"/><circle cx="234.7" cy="547.1" r="3.65"/><circle cx="230.7" cy="533.5" r="3.65"/><circle cx="388.5" cy="548.0" r="3.65"/><circle cx="297.0" cy="402.0" r="3.65"/><circle cx="218.1" cy="557.1" r="3.65"/><circle cx="434.6" cy="532.4" r="3.65"/><circle cx="522.4" cy="554.8" r="3.65"/><circle cx="450.3" cy="528.6" r="3.65"/><circle cx="316.5" cy="530.7" r="3.65"/><circle cx="325.9" cy="547.5" r="3.65"/><circle cx="223.9" cy="560.5" r="3.65"/><circle cx="359.1" cy="498.0" r="3.65"/><circle cx="164.5" cy="550.6" r="3.65"/><circle cx="322.4" cy="567.2" r="3.65"/><circle cx="628.0" cy="536.9" r="3.65"/><circle cx="502.0" cy="504.0" r="3.65"/><circle cx="371.9" cy="518.5" r="3.65"/><circle cx="172.1" cy="439.2" r="3.65"/><circle cx="231.4" cy="560.1" r="3.65"/><circle cx="443.3" cy="521.9" r="3.65"/><circle cx="535.0" cy="475.4" r="3.65"/><circle cx="488.5" cy="514.5" r="3.65"/><circle cx="149.7" cy="512.1" r="3.65"/><circle cx="542.2" cy="550.1" r="3.65"/><circle cx="310.4" cy="534.1" r="3.65"/><circle cx="159.3" cy="537.8" r="3.65"/><circle cx="302.1" cy="542.8" r="3.65"/><circle cx="563.4" cy="527.0" r="3.65"/><circle cx="632.1" cy="518.5" r="3.65"/><circle cx="423.1" cy="495.5" r="3.65"/><circle cx="296.1" cy="567.5" r="3.65"/><circle cx="635.8" cy="563.4" r="3.65"/><circle cx="585.8" cy="551.3" r="3.65"/><circle cx="151.5" cy="549.1" r="3.65"/><circle cx="400.1" cy="478.4" r="3.65"/><circle cx="490.7" cy="551.3" r="3.65"/><circle cx="310.2" cy="528.3" r="3.65"/><circle cx="512.5" cy="465.2" r="3.65"/><circle cx="541.5" cy="550.7" r="3.65"/><circle cx="395.2" cy="555.6" r="3.65"/><circle cx="523.7" cy="553.9" r="3.65"/><circle cx="311.5" cy="518.5" r="3.65"/><circle cx="578.8" cy="542.7" r="3.65"/><circle cx="404.6" cy="563.0" r="3.65"/><circle cx="170.2" cy="537.3" r="3.65"/><circle cx="558.8" cy="541.4" r="3.65"/><circle cx="223.3" cy="552.4" r="3.65"/><circle cx="166.3" cy="560.5" r="3.65"/><circle cx="325.2" cy="540.1" r="3.65"/><circle cx="435.9" cy="543.2" r="3.65"/><circle cx="516.7" cy="546.8" r="3.65"/><circle cx="474.4" cy="564.0" r="3.65"/><circle cx="573.1" cy="556.9" r="3.65"/><circle cx="362.7" cy="540.0" r="3.65"/><circle cx="337.3" cy="519.4" r="3.65"/><circle cx="529.4" cy="479.5" r="3.65"/><circle cx="318.7" cy="510.7" r="3.65"/><circle cx="598.0" cy="564.4" r="3.65"/><circle cx="442.4" cy="528.5" r="3.65"/><circle cx="542.9" cy="530.9" r="3.65"/><circle cx="627.3" cy="498.6" r="3.65"/><circle cx="352.2" cy="548.1" r="3.65"/><circle cx="552.9" cy="522.3" r="3.65"/><circle cx="619.4" cy="548.1" r="3.65"/><circle cx="295.8" cy="562.7" r="3.65"/><circle cx="380.0" cy="543.2" r="3.65"/><circle cx="206.7" cy="544.0" r="3.65"/><circle cx="357.9" cy="510.5" r="3.65"/><circle cx="574.1" cy="535.2" r="3.65"/><circle cx="257.2" cy="540.3" r="3.65"/><circle cx="266.0" cy="544.1" r="3.65"/><circle cx="321.2" cy="559.6" r="3.65"/><circle cx="310.5" cy="540.8" r="3.65"/><circle cx="372.5" cy="554.2" r="3.65"/><circle cx="310.9" cy="554.9" r="3.65"/><circle cx="205.0" cy="527.4" r="3.65"/><circle cx="320.5" cy="556.6" r="3.65"/><circle cx="526.2" cy="563.6" r="3.65"/><circle cx="590.2" cy="538.5" r="3.65"/><circle cx="310.2" cy="535.4" r="3.65"/><circle cx="258.4" cy="536.3" r="3.65"/><circle cx="207.1" cy="556.8" r="3.65"/><circle cx="509.4" cy="563.3" r="3.65"/><circle cx="310.6" cy="557.1" r="3.65"/><circle cx="418.0" cy="522.6" r="3.65"/><circle cx="546.2" cy="368.4" r="3.65"/><circle cx="404.0" cy="537.2" r="3.65"/><circle cx="528.7" cy="533.2" r="3.65"/><circle cx="337.6" cy="557.5" r="3.65"/><circle cx="446.6" cy="550.0" r="3.65"/><circle cx="596.3" cy="508.7" r="3.65"/><circle cx="413.1" cy="546.0" r="3.65"/><circle cx="360.5" cy="549.1" r="3.65"/><circle cx="586.2" cy="557.8" r="3.65"/><circle cx="283.6" cy="551.0" r="3.65"/><circle cx="226.0" cy="566.5" r="3.65"/><circle cx="550.3" cy="546.0" r="3.65"/><circle cx="583.7" cy="539.4" r="3.65"/><circle cx="285.1" cy="523.7" r="3.65"/><circle cx="625.9" cy="544.3" r="3.65"/><circle cx="310.9" cy="547.6" r="3.65"/><circle cx="474.4" cy="540.6" r="3.65"/><circle cx="331.0" cy="565.2" r="3.65"/><circle cx="217.4" cy="539.4" r="3.65"/><circle cx="473.2" cy="563.8" r="3.65"/><circle cx="376.8" cy="522.7" r="3.65"/><circle cx="160.3" cy="409.5" r="3.65"/><circle cx="277.0" cy="491.8" r="3.65"/><circle cx="295.3" cy="551.2" r="3.65"/><circle cx="413.4" cy="544.1" r="3.65"/><circle cx="485.0" cy="547.5" r="3.65"/><circle cx="516.9" cy="555.0" r="3.65"/><circle cx="405.5" cy="509.6" r="3.65"/><circle cx="517.1" cy="464.2" r="3.65"/><circle cx="468.8" cy="512.4" r="3.65"/><circle cx="594.6" cy="543.2" r="3.65"/><circle cx="182.9" cy="535.4" r="3.65"/><circle cx="531.3" cy="543.4" r="3.65"/><circle cx="480.0" cy="533.5" r="3.65"/><circle cx="426.6" cy="546.7" r="3.65"/><circle cx="505.5" cy="542.1" r="3.65"/><circle cx="324.0" cy="524.0" r="3.65"/><circle cx="554.8" cy="553.7" r="3.65"/><circle cx="333.6" cy="529.0" r="3.65"/><circle cx="311.5" cy="565.0" r="3.65"/><circle cx="437.2" cy="567.0" r="3.65"/><circle cx="207.9" cy="565.5" r="3.65"/><circle cx="338.2" cy="567.1" r="3.65"/><circle cx="397.3" cy="525.5" r="3.65"/><circle cx="476.7" cy="516.4" r="3.65"/><circle cx="478.6" cy="471.1" r="3.65"/><circle cx="225.5" cy="529.0" r="3.65"/><circle cx="454.7" cy="536.5" r="3.65"/><circle cx="607.8" cy="455.5" r="3.65"/><circle cx="461.3" cy="542.4" r="3.65"/><circle cx="467.2" cy="553.3" r="3.65"/><circle cx="309.6" cy="476.9" r="3.65"/><circle cx="374.3" cy="566.3" r="3.65"/><circle cx="193.8" cy="383.1" r="3.65"/><circle cx="311.6" cy="560.4" r="3.65"/><circle cx="553.1" cy="520.6" r="3.65"/><circle cx="322.2" cy="523.2" r="3.65"/><circle cx="540.4" cy="504.2" r="3.65"/><circle cx="610.3" cy="532.5" r="3.65"/><circle cx="503.7" cy="547.4" r="3.65"/><circle cx="362.9" cy="546.6" r="3.65"/><circle cx="325.2" cy="554.0" r="3.65"/><circle cx="546.0" cy="549.4" r="3.65"/><circle cx="502.1" cy="516.3" r="3.65"/><circle cx="561.0" cy="517.4" r="3.65"/><circle cx="283.8" cy="557.1" r="3.65"/><circle cx="311.2" cy="558.5" r="3.65"/><circle cx="310.8" cy="557.9" r="3.65"/><circle cx="590.3" cy="486.1" r="3.65"/><circle cx="329.5" cy="553.0" r="3.65"/><circle cx="579.8" cy="521.3" r="3.65"/><circle cx="613.4" cy="527.4" r="3.65"/><circle cx="256.4" cy="565.3" r="3.65"/><circle cx="534.6" cy="528.5" r="3.65"/><circle cx="533.3" cy="546.8" r="3.65"/><circle cx="481.3" cy="487.8" r="3.65"/><circle cx="435.5" cy="552.9" r="3.65"/><circle cx="350.1" cy="475.8" r="3.65"/><circle cx="153.3" cy="497.4" r="3.65"/><circle cx="332.0" cy="557.9" r="3.65"/><circle cx="265.3" cy="544.3" r="3.65"/><circle cx="449.9" cy="516.1" r="3.65"/><circle cx="429.8" cy="469.3" r="3.65"/><circle cx="529.5" cy="555.5" r="3.65"/><circle cx="211.4" cy="548.0" r="3.65"/><circle cx="417.7" cy="505.6" r="3.65"/><circle cx="555.7" cy="498.6" r="3.65"/><circle cx="284.3" cy="528.1" r="3.65"/><circle cx="337.0" cy="542.6" r="3.65"/><circle cx="346.1" cy="543.8" r="3.65"/><circle cx="337.1" cy="532.5" r="3.65"/><circle cx="588.8" cy="555.9" r="3.65"/><circle cx="335.6" cy="566.4" r="3.65"/><circle cx="324.7" cy="514.5" r="3.65"/><circle cx="512.1" cy="551.3" r="3.65"/><circle cx="541.0" cy="526.4" r="3.65"/><circle cx="485.5" cy="560.7" r="3.65"/><circle cx="541.3" cy="563.5" r="3.65"/><circle cx="523.1" cy="549.2" r="3.65"/><circle cx="183.7" cy="534.2" r="3.65"/><circle cx="409.7" cy="505.4" r="3.65"/><circle cx="305.7" cy="519.1" r="3.65"/><circle cx="209.9" cy="516.2" r="3.65"/><circle cx="595.8" cy="565.0" r="3.65"/><circle cx="429.5" cy="545.1" r="3.65"/><circle cx="456.3" cy="559.9" r="3.65"/><circle cx="517.2" cy="485.2" r="3.65"/><circle cx="466.0" cy="476.2" r="3.65"/><circle cx="548.3" cy="555.7" r="3.65"/><circle cx="614.5" cy="554.9" r="3.65"/><circle cx="409.9" cy="530.6" r="3.65"/><circle cx="483.3" cy="554.3" r="3.65"/><circle cx="322.4" cy="551.8" r="3.65"/><circle cx="611.1" cy="554.8" r="3.65"/><circle cx="162.6" cy="492.8" r="3.65"/><circle cx="636.1" cy="393.3" r="3.65"/><circle cx="310.6" cy="533.6" r="3.65"/><circle cx="248.5" cy="556.0" r="3.65"/><circle cx="306.6" cy="556.9" r="3.65"/><circle cx="429.9" cy="545.5" r="3.65"/><circle cx="625.7" cy="498.8" r="3.65"/><circle cx="294.0" cy="554.9" r="3.65"/><circle cx="407.7" cy="545.3" r="3.65"/><circle cx="344.3" cy="518.2" r="3.65"/><circle cx="392.0" cy="487.9" r="3.65"/><circle cx="155.5" cy="555.7" r="3.65"/><circle cx="277.1" cy="542.4" r="3.65"/><circle cx="498.9" cy="550.7" r="3.65"/><circle cx="239.6" cy="484.2" r="3.65"/><circle cx="570.5" cy="559.5" r="3.65"/><circle cx="519.5" cy="549.7" r="3.65"/><circle cx="311.3" cy="565.1" r="3.65"/><circle cx="284.3" cy="562.7" r="3.65"/><circle cx="188.3" cy="558.5" r="3.65"/><circle cx="221.8" cy="525.0" r="3.65"/><circle cx="485.7" cy="516.4" r="3.65"/><circle cx="541.3" cy="519.2" r="3.65"/><circle cx="335.6" cy="524.4" r="3.65"/><circle cx="356.0" cy="487.8" r="3.65"/><circle cx="201.1" cy="556.9" r="3.65"/><circle cx="498.4" cy="548.9" r="3.65"/><circle cx="611.1" cy="534.2" r="3.65"/><circle cx="276.1" cy="524.5" r="3.65"/><circle cx="335.7" cy="542.3" r="3.65"/><circle cx="629.0" cy="516.0" r="3.65"/><circle cx="631.0" cy="551.6" r="3.65"/><circle cx="451.5" cy="560.7" r="3.65"/><circle cx="255.1" cy="517.1" r="3.65"/><circle cx="383.1" cy="554.6" r="3.65"/><circle cx="473.6" cy="527.6" r="3.65"/><circle cx="455.9" cy="556.3" r="3.65"/><circle cx="350.9" cy="560.5" r="3.65"/><circle cx="175.6" cy="508.4" r="3.65"/><circle cx="321.0" cy="521.9" r="3.65"/><circle cx="277.1" cy="541.3" r="3.65"/><circle cx="407.7" cy="538.9" r="3.65"/><circle cx="522.2" cy="558.1" r="3.65"/><circle cx="616.5" cy="513.6" r="3.65"/><circle cx="419.0" cy="538.9" r="3.65"/><circle cx="486.7" cy="560.0" r="3.65"/><circle cx="532.1" cy="556.4" r="3.65"/><circle cx="310.5" cy="561.9" r="3.65"/><circle cx="434.1" cy="524.8" r="3.65"/><circle cx="318.3" cy="562.0" r="3.65"/><circle cx="249.5" cy="518.1" r="3.65"/><circle cx="547.8" cy="548.8" r="3.65"/><circle cx="337.0" cy="552.0" r="3.65"/><circle cx="617.0" cy="515.3" r="3.65"/><circle cx="276.6" cy="557.6" r="3.65"/><circle cx="431.3" cy="482.5" r="3.65"/><circle cx="321.4" cy="528.2" r="3.65"/><circle cx="187.3" cy="547.8" r="3.65"/><circle cx="277.7" cy="554.7" r="3.65"/><circle cx="519.1" cy="564.0" r="3.65"/><circle cx="492.7" cy="524.6" r="3.65"/><circle cx="357.8" cy="563.7" r="3.65"/><circle cx="501.0" cy="562.4" r="3.65"/><circle cx="336.0" cy="475.8" r="3.65"/><circle cx="570.1" cy="533.5" r="3.65"/><circle cx="387.6" cy="456.1" r="3.65"/><circle cx="212.6" cy="561.1" r="3.65"/><circle cx="371.9" cy="565.8" r="3.65"/><circle cx="527.9" cy="567.8" r="3.65"/><circle cx="225.0" cy="483.8" r="3.65"/><circle cx="399.6" cy="560.0" r="3.65"/><circle cx="477.0" cy="476.4" r="3.65"/><circle cx="555.5" cy="530.3" r="3.65"/><circle cx="247.1" cy="532.8" r="3.65"/><circle cx="604.8" cy="530.9" r="3.65"/><circle cx="628.0" cy="517.9" r="3.65"/><circle cx="500.4" cy="529.8" r="3.65"/><circle cx="307.4" cy="541.3" r="3.65"/><circle cx="312.0" cy="518.7" r="3.65"/><circle cx="342.5" cy="511.4" r="3.65"/><circle cx="519.8" cy="564.0" r="3.65"/><circle cx="616.6" cy="565.7" r="3.65"/><circle cx="267.9" cy="450.5" r="3.65"/><circle cx="401.9" cy="493.8" r="3.65"/><circle cx="282.9" cy="540.5" r="3.65"/><circle cx="338.7" cy="537.7" r="3.65"/><circle cx="221.9" cy="476.2" r="3.65"/><circle cx="197.5" cy="534.6" r="3.65"/><circle cx="477.3" cy="540.8" r="3.65"/><circle cx="370.0" cy="567.7" r="3.65"/><circle cx="600.5" cy="542.3" r="3.65"/><circle cx="526.9" cy="502.0" r="3.65"/><circle cx="183.4" cy="558.6" r="3.65"/><circle cx="364.7" cy="520.5" r="3.65"/><circle cx="448.2" cy="567.1" r="3.65"/><circle cx="319.0" cy="541.3" r="3.65"/><circle cx="166.2" cy="556.4" r="3.65"/><circle cx="426.9" cy="541.4" r="3.65"/><circle cx="495.1" cy="559.8" r="3.65"/><circle cx="310.4" cy="566.4" r="3.65"/><circle cx="361.8" cy="484.3" r="3.65"/><circle cx="158.9" cy="559.8" r="3.65"/><circle cx="235.3" cy="495.0" r="3.65"/><circle cx="563.9" cy="491.8" r="3.65"/><circle cx="191.0" cy="555.1" r="3.65"/><circle cx="449.5" cy="548.6" r="3.65"/><circle cx="488.4" cy="497.9" r="3.65"/><circle cx="577.4" cy="511.2" r="3.65"/><circle cx="467.1" cy="546.4" r="3.65"/><circle cx="174.0" cy="544.5" r="3.65"/><circle cx="280.9" cy="539.5" r="3.65"/><circle cx="267.4" cy="559.1" r="3.65"/><circle cx="624.9" cy="565.0" r="3.65"/><circle cx="472.5" cy="564.1" r="3.65"/><circle cx="562.1" cy="562.1" r="3.65"/><circle cx="412.9" cy="423.1" r="3.65"/><circle cx="222.1" cy="554.2" r="3.65"/><circle cx="148.9" cy="542.0" r="3.65"/><circle cx="200.3" cy="515.1" r="3.65"/><circle cx="530.8" cy="552.7" r="3.65"/><circle cx="221.2" cy="530.7" r="3.65"/><circle cx="190.2" cy="558.0" r="3.65"/><circle cx="226.7" cy="563.8" r="3.65"/><circle cx="514.1" cy="501.3" r="3.65"/><circle cx="409.9" cy="554.0" r="3.65"/><circle cx="595.5" cy="551.2" r="3.65"/><circle cx="230.1" cy="504.2" r="3.65"/><circle cx="273.9" cy="537.9" r="3.65"/><circle cx="572.8" cy="545.6" r="3.65"/><circle cx="629.0" cy="565.4" r="3.65"/><circle cx="282.1" cy="497.9" r="3.65"/><circle cx="492.5" cy="560.6" r="3.65"/><circle cx="379.6" cy="501.9" r="3.65"/><circle cx="244.7" cy="518.8" r="3.65"/><circle cx="296.1" cy="534.3" r="3.65"/><circle cx="400.4" cy="563.8" r="3.65"/><circle cx="569.5" cy="566.1" r="3.65"/><circle cx="397.1" cy="560.4" r="3.65"/><circle cx="498.4" cy="544.1" r="3.65"/><circle cx="488.2" cy="564.1" r="3.65"/><circle cx="276.7" cy="543.6" r="3.65"/><circle cx="561.4" cy="526.3" r="3.65"/><circle cx="148.5" cy="562.8" r="3.65"/><circle cx="520.4" cy="562.4" r="3.65"/><circle cx="418.6" cy="475.0" r="3.65"/><circle cx="636.7" cy="563.0" r="3.65"/><circle cx="284.1" cy="552.6" r="3.65"/><circle cx="583.3" cy="533.3" r="3.65"/><circle cx="423.6" cy="537.7" r="3.65"/><circle cx="474.4" cy="540.7" r="3.65"/><circle cx="355.0" cy="567.7" r="3.65"/><circle cx="442.9" cy="472.5" r="3.65"/><circle cx="571.6" cy="560.4" r="3.65"/><circle cx="301.3" cy="563.9" r="3.65"/><circle cx="618.0" cy="567.5" r="3.65"/><circle cx="413.5" cy="556.9" r="3.65"/><circle cx="160.3" cy="560.3" r="3.65"/><circle cx="544.9" cy="413.9" r="3.65"/><circle cx="310.0" cy="548.5" r="3.65"/><circle cx="311.5" cy="510.8" r="3.65"/><circle cx="548.5" cy="503.6" r="3.65"/><circle cx="584.0" cy="540.6" r="3.65"/><circle cx="174.0" cy="565.4" r="3.65"/><circle cx="223.0" cy="546.8" r="3.65"/><circle cx="471.6" cy="459.8" r="3.65"/><circle cx="212.0" cy="562.3" r="3.65"/><circle cx="185.2" cy="517.6" r="3.65"/><circle cx="368.7" cy="534.1" r="3.65"/><circle cx="255.6" cy="546.8" r="3.65"/><circle cx="263.2" cy="551.6" r="3.65"/><circle cx="165.7" cy="563.8" r="3.65"/><circle cx="311.7" cy="514.8" r="3.65"/><circle cx="269.2" cy="566.6" r="3.65"/><circle cx="639.6" cy="567.5" r="3.65"/><circle cx="166.8" cy="554.7" r="3.65"/><circle cx="607.2" cy="494.6" r="3.65"/><circle cx="526.2" cy="546.5" r="3.65"/><circle cx="556.7" cy="469.9" r="3.65"/><circle cx="324.9" cy="522.9" r="3.65"/><circle cx="256.7" cy="547.1" r="3.65"/><circle cx="488.4" cy="520.0" r="3.65"/><circle cx="255.4" cy="534.6" r="3.65"/><circle cx="631.5" cy="550.2" r="3.65"/><circle cx="545.8" cy="529.9" r="3.65"/><circle cx="394.9" cy="535.9" r="3.65"/><circle cx="175.6" cy="545.9" r="3.65"/><circle cx="405.8" cy="363.4" r="3.65"/><circle cx="529.1" cy="547.6" r="3.65"/><circle cx="558.0" cy="535.7" r="3.65"/><circle cx="492.5" cy="515.9" r="3.65"/><circle cx="428.9" cy="546.4" r="3.65"/><circle cx="487.1" cy="519.7" r="3.65"/><circle cx="489.2" cy="542.1" r="3.65"/><circle cx="496.8" cy="547.1" r="3.65"/><circle cx="321.0" cy="554.0" r="3.65"/><circle cx="630.7" cy="542.4" r="3.65"/><circle cx="382.4" cy="554.2" r="3.65"/><circle cx="540.4" cy="567.0" r="3.65"/><circle cx="235.5" cy="546.2" r="3.65"/><circle cx="370.3" cy="555.3" r="3.65"/><circle cx="475.7" cy="539.4" r="3.65"/><circle cx="413.8" cy="519.5" r="3.65"/><circle cx="246.1" cy="433.4" r="3.65"/><circle cx="323.1" cy="545.1" r="3.65"/><circle cx="388.2" cy="548.1" r="3.65"/><circle cx="551.8" cy="563.0" r="3.65"/><circle cx="599.9" cy="546.1" r="3.65"/><circle cx="448.5" cy="564.8" r="3.65"/><circle cx="400.4" cy="540.5" r="3.65"/><circle cx="530.2" cy="508.3" r="3.65"/><circle cx="541.1" cy="526.4" r="3.65"/><circle cx="373.0" cy="553.9" r="3.65"/><circle cx="335.0" cy="563.4" r="3.65"/><circle cx="321.0" cy="491.5" r="3.65"/><circle cx="491.1" cy="511.2" r="3.65"/><circle cx="173.7" cy="532.6" r="3.65"/><circle cx="324.1" cy="567.9" r="3.65"/><circle cx="500.7" cy="457.4" r="3.65"/><circle cx="350.6" cy="564.0" r="3.65"/><circle cx="551.4" cy="532.5" r="3.65"/><circle cx="474.9" cy="560.6" r="3.65"/><circle cx="280.0" cy="498.6" r="3.65"/><circle cx="448.9" cy="519.0" r="3.65"/><circle cx="186.1" cy="554.4" r="3.65"/><circle cx="506.7" cy="524.4" r="3.65"/><circle cx="459.6" cy="552.2" r="3.65"/><circle cx="459.1" cy="536.6" r="3.65"/><circle cx="313.1" cy="567.9" r="3.65"/><circle cx="267.8" cy="386.1" r="3.65"/><circle cx="541.7" cy="561.9" r="3.65"/><circle cx="172.3" cy="557.3" r="3.65"/><circle cx="239.6" cy="564.6" r="3.65"/><circle cx="486.6" cy="446.0" r="3.65"/><circle cx="280.5" cy="541.7" r="3.65"/><circle cx="271.3" cy="548.9" r="3.65"/><circle cx="631.2" cy="444.0" r="3.65"/><circle cx="230.4" cy="503.3" r="3.65"/><circle cx="370.6" cy="441.7" r="3.65"/><circle cx="394.1" cy="543.9" r="3.65"/><circle cx="264.7" cy="559.1" r="3.65"/><circle cx="334.5" cy="503.1" r="3.65"/><circle cx="279.9" cy="559.8" r="3.65"/><circle cx="253.3" cy="558.7" r="3.65"/><circle cx="461.8" cy="553.5" r="3.65"/><circle cx="637.3" cy="506.1" r="3.65"/><circle cx="344.7" cy="510.3" r="3.65"/><circle cx="450.0" cy="560.4" r="3.65"/><circle cx="311.3" cy="469.5" r="3.65"/><circle cx="474.5" cy="408.4" r="3.65"/><circle cx="376.5" cy="526.7" r="3.65"/><circle cx="390.3" cy="567.7" r="3.65"/><circle cx="233.5" cy="524.9" r="3.65"/><circle cx="406.5" cy="566.3" r="3.65"/><circle cx="469.5" cy="565.0" r="3.65"/><circle cx="614.7" cy="476.7" r="3.65"/><circle cx="266.5" cy="559.2" r="3.65"/><circle cx="315.3" cy="561.3" r="3.65"/><circle cx="279.4" cy="564.1" r="3.65"/><circle cx="182.4" cy="511.2" r="3.65"/><circle cx="409.8" cy="565.9" r="3.65"/><circle cx="354.5" cy="534.1" r="3.65"/><circle cx="619.7" cy="536.6" r="3.65"/><circle cx="611.1" cy="537.5" r="3.65"/><circle cx="185.3" cy="564.6" r="3.65"/><circle cx="149.0" cy="521.1" r="3.65"/><circle cx="311.5" cy="561.1" r="3.65"/><circle cx="469.5" cy="514.8" r="3.65"/><circle cx="320.5" cy="543.5" r="3.65"/><circle cx="498.4" cy="555.8" r="3.65"/><circle cx="202.6" cy="407.0" r="3.65"/><circle cx="551.9" cy="566.2" r="3.65"/><circle cx="388.3" cy="563.2" r="3.65"/><circle cx="295.4" cy="542.1" r="3.65"/><circle cx="417.8" cy="564.1" r="3.65"/><circle cx="251.5" cy="524.6" r="3.65"/><circle cx="529.4" cy="474.8" r="3.65"/><circle cx="530.6" cy="536.0" r="3.65"/><circle cx="176.1" cy="536.7" r="3.65"/><circle cx="637.1" cy="553.5" r="3.65"/><circle cx="444.0" cy="535.1" r="3.65"/><circle cx="463.5" cy="510.7" r="3.65"/><circle cx="396.0" cy="557.6" r="3.65"/><circle cx="590.3" cy="264.7" r="3.65"/><circle cx="153.2" cy="519.3" r="3.65"/><circle cx="171.3" cy="559.6" r="3.65"/><circle cx="541.1" cy="557.3" r="3.65"/><circle cx="436.2" cy="562.2" r="3.65"/><circle cx="207.1" cy="563.4" r="3.65"/><circle cx="539.5" cy="520.9" r="3.65"/><circle cx="386.4" cy="483.5" r="3.65"/><circle cx="359.4" cy="500.2" r="3.65"/><circle cx="589.4" cy="562.0" r="3.65"/><circle cx="611.1" cy="516.5" r="3.65"/><circle cx="386.1" cy="553.7" r="3.65"/><circle cx="397.5" cy="526.1" r="3.65"/><circle cx="228.9" cy="514.4" r="3.65"/><circle cx="419.5" cy="560.8" r="3.65"/><circle cx="387.1" cy="560.5" r="3.65"/><circle cx="256.6" cy="549.6" r="3.65"/><circle cx="541.1" cy="519.0" r="3.65"/><circle cx="311.5" cy="551.0" r="3.65"/><circle cx="397.6" cy="567.1" r="3.65"/><circle cx="433.8" cy="497.5" r="3.65"/><circle cx="446.3" cy="505.0" r="3.65"/><circle cx="393.7" cy="535.0" r="3.65"/><circle cx="509.0" cy="564.1" r="3.65"/><circle cx="276.4" cy="525.2" r="3.65"/><circle cx="631.4" cy="553.4" r="3.65"/><circle cx="567.9" cy="553.7" r="3.65"/><circle cx="158.6" cy="526.2" r="3.65"/><circle cx="269.7" cy="536.1" r="3.65"/><circle cx="561.0" cy="546.8" r="3.65"/><circle cx="391.5" cy="545.2" r="3.65"/><circle cx="437.6" cy="525.1" r="3.65"/><circle cx="295.0" cy="476.4" r="3.65"/><circle cx="352.8" cy="529.8" r="3.65"/><circle cx="241.7" cy="526.1" r="3.65"/><circle cx="265.7" cy="523.0" r="3.65"/><circle cx="318.0" cy="545.4" r="3.65"/><circle cx="230.1" cy="567.5" r="3.65"/><circle cx="203.7" cy="562.6" r="3.65"/><circle cx="389.3" cy="461.9" r="3.65"/><circle cx="483.8" cy="496.2" r="3.65"/><circle cx="364.7" cy="526.3" r="3.65"/><circle cx="379.8" cy="550.2" r="3.65"/><circle cx="334.1" cy="555.9" r="3.65"/><circle cx="449.7" cy="564.3" r="3.65"/><circle cx="418.3" cy="546.4" r="3.65"/><circle cx="275.1" cy="526.8" r="3.65"/><circle cx="311.7" cy="566.8" r="3.65"/><circle cx="445.3" cy="523.6" r="3.65"/><circle cx="538.8" cy="550.3" r="3.65"/><circle cx="357.5" cy="556.0" r="3.65"/><circle cx="255.5" cy="488.7" r="3.65"/><circle cx="491.8" cy="526.1" r="3.65"/><circle cx="629.0" cy="522.7" r="3.65"/><circle cx="410.0" cy="479.2" r="3.65"/><circle cx="231.5" cy="537.1" r="3.65"/><circle cx="153.5" cy="542.8" r="3.65"/><circle cx="616.0" cy="564.1" r="3.65"/><circle cx="289.4" cy="535.8" r="3.65"/><circle cx="368.8" cy="558.8" r="3.65"/><circle cx="208.6" cy="563.8" r="3.65"/><circle cx="510.4" cy="520.7" r="3.65"/><circle cx="418.8" cy="562.0" r="3.65"/><circle cx="255.9" cy="545.2" r="3.65"/><circle cx="486.9" cy="522.6" r="3.65"/><circle cx="147.0" cy="549.4" r="3.65"/><circle cx="320.8" cy="529.6" r="3.65"/><circle cx="259.4" cy="567.2" r="3.65"/><circle cx="243.5" cy="551.5" r="3.65"/><circle cx="284.6" cy="564.9" r="3.65"/><circle cx="401.0" cy="530.0" r="3.65"/><circle cx="310.9" cy="546.6" r="3.65"/><circle cx="390.5" cy="560.1" r="3.65"/><circle cx="552.8" cy="556.3" r="3.65"/><circle cx="472.1" cy="553.2" r="3.65"/><circle cx="277.4" cy="518.7" r="3.65"/><circle cx="424.0" cy="475.2" r="3.65"/><circle cx="259.1" cy="546.7" r="3.65"/><circle cx="628.7" cy="559.9" r="3.65"/><circle cx="406.2" cy="560.0" r="3.65"/><circle cx="311.6" cy="526.8" r="3.65"/><circle cx="294.3" cy="558.0" r="3.65"/><circle cx="221.9" cy="462.7" r="3.65"/><circle cx="556.6" cy="553.6" r="3.65"/><circle cx="544.0" cy="481.1" r="3.65"/><circle cx="574.7" cy="537.3" r="3.65"/><circle cx="224.1" cy="520.3" r="3.65"/><circle cx="291.4" cy="557.5" r="3.65"/><circle cx="626.2" cy="510.1" r="3.65"/><circle cx="632.9" cy="478.5" r="3.65"/><circle cx="279.2" cy="503.3" r="3.65"/><circle cx="456.3" cy="486.0" r="3.65"/><circle cx="288.3" cy="520.3" r="3.65"/><circle cx="384.8" cy="499.7" r="3.65"/><circle cx="160.9" cy="518.3" r="3.65"/><circle cx="471.6" cy="566.3" r="3.65"/><circle cx="619.2" cy="560.6" r="3.65"/><circle cx="330.1" cy="523.0" r="3.65"/><circle cx="286.4" cy="544.7" r="3.65"/><circle cx="410.1" cy="431.7" r="3.65"/><circle cx="385.3" cy="540.1" r="3.65"/><circle cx="578.7" cy="565.7" r="3.65"/><circle cx="276.1" cy="548.0" r="3.65"/><circle cx="487.1" cy="502.8" r="3.65"/><circle cx="170.9" cy="495.7" r="3.65"/><circle cx="310.7" cy="519.9" r="3.65"/><circle cx="352.3" cy="528.0" r="3.65"/><circle cx="230.5" cy="489.3" r="3.65"/><circle cx="311.3" cy="560.7" r="3.65"/><circle cx="170.0" cy="560.9" r="3.65"/><circle cx="300.8" cy="547.2" r="3.65"/><circle cx="313.2" cy="530.6" r="3.65"/><circle cx="561.8" cy="534.7" r="3.65"/><circle cx="593.2" cy="554.9" r="3.65"/><circle cx="329.1" cy="558.6" r="3.65"/><circle cx="444.7" cy="489.4" r="3.65"/><circle cx="624.4" cy="516.7" r="3.65"/><circle cx="517.2" cy="566.4" r="3.65"/><circle cx="440.0" cy="552.6" r="3.65"/><circle cx="327.6" cy="525.2" r="3.65"/><circle cx="347.8" cy="532.5" r="3.65"/><circle cx="492.1" cy="550.2" r="3.65"/><circle cx="595.9" cy="519.3" r="3.65"/><circle cx="533.6" cy="541.9" r="3.65"/><circle cx="162.5" cy="554.3" r="3.65"/><circle cx="246.1" cy="431.2" r="3.65"/><circle cx="331.8" cy="560.8" r="3.65"/><circle cx="504.5" cy="475.6" r="3.65"/><circle cx="351.3" cy="565.0" r="3.65"/><circle cx="543.0" cy="470.4" r="3.65"/><circle cx="280.9" cy="555.8" r="3.65"/><circle cx="426.6" cy="471.7" r="3.65"/><circle cx="404.4" cy="524.9" r="3.65"/><circle cx="477.4" cy="556.4" r="3.65"/><circle cx="611.0" cy="542.8" r="3.65"/><circle cx="147.3" cy="562.7" r="3.65"/><circle cx="353.5" cy="540.8" r="3.65"/><circle cx="419.5" cy="530.3" r="3.65"/><circle cx="352.0" cy="515.2" r="3.65"/><circle cx="581.4" cy="511.9" r="3.65"/><circle cx="445.0" cy="460.5" r="3.65"/><circle cx="286.5" cy="567.2" r="3.65"/><circle cx="358.0" cy="526.5" r="3.65"/><circle cx="561.9" cy="554.7" r="3.65"/><circle cx="148.0" cy="544.8" r="3.65"/><circle cx="486.6" cy="518.0" r="3.65"/><circle cx="607.2" cy="535.5" r="3.65"/><circle cx="611.7" cy="551.0" r="3.65"/><circle cx="384.0" cy="566.8" r="3.65"/><circle cx="477.6" cy="552.2" r="3.65"/><circle cx="294.4" cy="551.4" r="3.65"/><circle cx="321.7" cy="544.4" r="3.65"/><circle cx="337.0" cy="526.7" r="3.65"/><circle cx="384.6" cy="532.4" r="3.65"/><circle cx="552.6" cy="537.3" r="3.65"/><circle cx="502.6" cy="555.0" r="3.65"/><circle cx="311.4" cy="525.0" r="3.65"/><circle cx="352.4" cy="528.7" r="3.65"/><circle cx="319.9" cy="526.7" r="3.65"/><circle cx="360.7" cy="494.3" r="3.65"/><circle cx="396.2" cy="538.9" r="3.65"/><circle cx="369.7" cy="482.5" r="3.65"/><circle cx="550.0" cy="555.8" r="3.65"/><circle cx="222.6" cy="485.1" r="3.65"/><circle cx="428.9" cy="474.6" r="3.65"/><circle cx="626.0" cy="543.8" r="3.65"/><circle cx="369.6" cy="518.6" r="3.65"/><circle cx="266.0" cy="496.4" r="3.65"/><circle cx="176.7" cy="528.2" r="3.65"/><circle cx="552.1" cy="550.2" r="3.65"/><circle cx="416.4" cy="556.5" r="3.65"/><circle cx="593.9" cy="567.3" r="3.65"/><circle cx="639.0" cy="494.7" r="3.65"/><circle cx="633.0" cy="552.3" r="3.65"/><circle cx="268.9" cy="555.5" r="3.65"/><circle cx="334.7" cy="545.3" r="3.65"/><circle cx="570.4" cy="549.6" r="3.65"/><circle cx="505.6" cy="489.3" r="3.65"/><circle cx="221.3" cy="516.6" r="3.65"/><circle cx="294.7" cy="492.0" r="3.65"/><circle cx="454.9" cy="500.5" r="3.65"/><circle cx="445.5" cy="550.9" r="3.65"/><circle cx="544.7" cy="525.4" r="3.65"/><circle cx="434.9" cy="528.9" r="3.65"/><circle cx="616.6" cy="545.9" r="3.65"/><circle cx="231.1" cy="554.9" r="3.65"/><circle cx="607.6" cy="537.2" r="3.65"/><circle cx="330.1" cy="543.8" r="3.65"/><circle cx="536.3" cy="567.7" r="3.65"/><circle cx="542.0" cy="530.9" r="3.65"/><circle cx="320.1" cy="518.8" r="3.65"/><circle cx="345.9" cy="448.6" r="3.65"/><circle cx="543.2" cy="562.0" r="3.65"/><circle cx="619.5" cy="536.2" r="3.65"/><circle cx="209.9" cy="534.6" r="3.65"/><circle cx="249.3" cy="551.2" r="3.65"/><circle cx="339.9" cy="527.1" r="3.65"/><circle cx="244.6" cy="540.8" r="3.65"/><circle cx="341.3" cy="563.5" r="3.65"/><circle cx="447.8" cy="564.7" r="3.65"/><circle cx="598.0" cy="525.0" r="3.65"/><circle cx="280.7" cy="566.8" r="3.65"/><circle cx="337.0" cy="564.7" r="3.65"/><circle cx="310.4" cy="550.3" r="3.65"/><circle cx="477.6" cy="480.7" r="3.65"/><circle cx="527.3" cy="558.8" r="3.65"/><circle cx="362.1" cy="476.2" r="3.65"/><circle cx="209.7" cy="476.7" r="3.65"/><circle cx="177.1" cy="533.9" r="3.65"/><circle cx="430.7" cy="566.8" r="3.65"/><circle cx="408.6" cy="532.8" r="3.65"/><circle cx="311.0" cy="518.3" r="3.65"/><circle cx="189.1" cy="517.1" r="3.65"/><circle cx="153.4" cy="549.7" r="3.65"/><circle cx="534.0" cy="564.7" r="3.65"/><circle cx="590.1" cy="508.8" r="3.65"/><circle cx="561.5" cy="544.3" r="3.65"/><circle cx="222.3" cy="522.1" r="3.65"/><circle cx="343.5" cy="558.1" r="3.65"/><circle cx="467.8" cy="523.2" r="3.65"/><circle cx="206.8" cy="565.2" r="3.65"/><circle cx="335.3" cy="305.4" r="3.65"/><circle cx="149.8" cy="544.2" r="3.65"/><circle cx="160.3" cy="536.8" r="3.65"/><circle cx="525.4" cy="515.3" r="3.65"/><circle cx="184.7" cy="543.1" r="3.65"/><circle cx="431.7" cy="516.7" r="3.65"/><circle cx="542.2" cy="555.0" r="3.65"/><circle cx="505.8" cy="482.1" r="3.65"/><circle cx="560.9" cy="564.7" r="3.65"/><circle cx="551.8" cy="521.6" r="3.65"/><circle cx="440.0" cy="559.1" r="3.65"/><circle cx="633.1" cy="531.7" r="3.65"/><circle cx="266.4" cy="530.4" r="3.65"/><circle cx="186.0" cy="524.8" r="3.65"/><circle cx="278.3" cy="534.8" r="3.65"/><circle cx="337.7" cy="549.1" r="3.65"/><circle cx="474.5" cy="334.0" r="3.65"/><circle cx="611.0" cy="565.0" r="3.65"/><circle cx="528.7" cy="551.1" r="3.65"/><circle cx="456.6" cy="454.8" r="3.65"/><circle cx="437.1" cy="550.9" r="3.65"/><circle cx="477.6" cy="544.9" r="3.65"/><circle cx="297.4" cy="539.7" r="3.65"/><circle cx="477.5" cy="548.6" r="3.65"/><circle cx="431.7" cy="423.6" r="3.65"/><circle cx="329.2" cy="505.1" r="3.65"/><circle cx="534.1" cy="494.8" r="3.65"/><circle cx="321.0" cy="536.7" r="3.65"/><circle cx="304.1" cy="539.5" r="3.65"/><circle cx="269.3" cy="553.2" r="3.65"/><circle cx="284.8" cy="560.9" r="3.65"/><circle cx="423.0" cy="516.6" r="3.65"/><circle cx="181.7" cy="555.2" r="3.65"/><circle cx="319.2" cy="549.8" r="3.65"/><circle cx="206.7" cy="560.2" r="3.65"/><circle cx="502.9" cy="548.2" r="3.65"/><circle cx="293.4" cy="550.6" r="3.65"/><circle cx="383.4" cy="567.9" r="3.65"/><circle cx="311.3" cy="552.4" r="3.65"/><circle cx="449.4" cy="556.2" r="3.65"/><circle cx="188.3" cy="506.0" r="3.65"/><circle cx="383.1" cy="558.5" r="3.65"/><circle cx="624.5" cy="527.1" r="3.65"/><circle cx="360.4" cy="555.9" r="3.65"/><circle cx="455.1" cy="542.7" r="3.65"/><circle cx="432.0" cy="517.6" r="3.65"/><circle cx="311.2" cy="536.5" r="3.65"/><circle cx="532.8" cy="523.4" r="3.65"/><circle cx="423.3" cy="533.9" r="3.65"/><circle cx="189.8" cy="533.0" r="3.65"/><circle cx="301.6" cy="562.3" r="3.65"/><circle cx="581.1" cy="536.7" r="3.65"/><circle cx="542.3" cy="527.3" r="3.65"/><circle cx="156.8" cy="543.3" r="3.65"/><circle cx="310.4" cy="565.7" r="3.65"/><circle cx="406.2" cy="540.4" r="3.65"/><circle cx="618.9" cy="562.4" r="3.65"/><circle cx="437.4" cy="537.7" r="3.65"/><circle cx="610.4" cy="538.7" r="3.65"/><circle cx="631.4" cy="556.4" r="3.65"/><circle cx="363.0" cy="394.4" r="3.65"/><circle cx="268.8" cy="540.4" r="3.65"/><circle cx="601.4" cy="541.0" r="3.65"/><circle cx="545.0" cy="529.8" r="3.65"/><circle cx="208.4" cy="554.8" r="3.65"/><circle cx="346.5" cy="527.4" r="3.65"/><circle cx="401.9" cy="529.2" r="3.65"/><circle cx="524.3" cy="508.3" r="3.65"/><circle cx="353.3" cy="470.2" r="3.65"/><circle cx="194.2" cy="561.0" r="3.65"/><circle cx="309.2" cy="551.4" r="3.65"/><circle cx="624.3" cy="391.3" r="3.65"/><circle cx="607.6" cy="511.1" r="3.65"/><circle cx="422.9" cy="509.6" r="3.65"/><circle cx="298.0" cy="501.7" r="3.65"/><circle cx="618.1" cy="532.0" r="3.65"/><circle cx="250.2" cy="547.0" r="3.65"/><circle cx="340.4" cy="558.2" r="3.65"/><circle cx="399.6" cy="532.6" r="3.65"/><circle cx="505.4" cy="553.3" r="3.65"/><circle cx="619.8" cy="513.5" r="3.65"/><circle cx="251.1" cy="524.5" r="3.65"/><circle cx="614.9" cy="560.9" r="3.65"/><circle cx="403.5" cy="549.0" r="3.65"/><circle cx="471.4" cy="537.6" r="3.65"/><circle cx="578.6" cy="565.7" r="3.65"/><circle cx="516.3" cy="546.7" r="3.65"/><circle cx="386.4" cy="558.2" r="3.65"/><circle cx="343.5" cy="532.2" r="3.65"/><circle cx="428.3" cy="564.9" r="3.65"/><circle cx="574.0" cy="506.8" r="3.65"/><circle cx="362.5" cy="418.3" r="3.65"/><circle cx="619.8" cy="515.6" r="3.65"/><circle cx="561.4" cy="563.4" r="3.65"/><circle cx="502.9" cy="546.3" r="3.65"/><circle cx="618.4" cy="481.6" r="3.65"/><circle cx="640.5" cy="505.9" r="3.65"/><circle cx="437.9" cy="514.1" r="3.65"/><circle cx="532.0" cy="515.3" r="3.65"/><circle cx="159.7" cy="546.4" r="3.65"/><circle cx="454.1" cy="541.7" r="3.65"/><circle cx="517.0" cy="554.4" r="3.65"/><circle cx="270.6" cy="562.8" r="3.65"/><circle cx="438.9" cy="555.2" r="3.65"/><circle cx="632.9" cy="557.1" r="3.65"/><circle cx="222.0" cy="553.0" r="3.65"/><circle cx="607.8" cy="519.9" r="3.65"/><circle cx="613.7" cy="567.7" r="3.65"/><circle cx="589.3" cy="533.7" r="3.65"/><circle cx="552.6" cy="548.0" r="3.65"/><circle cx="334.6" cy="307.4" r="3.65"/><circle cx="150.3" cy="550.5" r="3.65"/><circle cx="363.1" cy="554.5" r="3.65"/><circle cx="462.0" cy="557.6" r="3.65"/><circle cx="192.1" cy="557.1" r="3.65"/><circle cx="541.8" cy="559.6" r="3.65"/><circle cx="295.9" cy="533.6" r="3.65"/><circle cx="562.3" cy="546.6" r="3.65"/><circle cx="543.4" cy="538.2" r="3.65"/><circle cx="516.3" cy="524.3" r="3.65"/><circle cx="512.3" cy="552.7" r="3.65"/><circle cx="577.7" cy="550.0" r="3.65"/><circle cx="531.2" cy="564.8" r="3.65"/><circle cx="408.0" cy="537.3" r="3.65"/><circle cx="542.0" cy="542.1" r="3.65"/><circle cx="540.2" cy="514.2" r="3.65"/><circle cx="311.6" cy="484.8" r="3.65"/><circle cx="260.1" cy="516.3" r="3.65"/><circle cx="211.9" cy="419.8" r="3.65"/><circle cx="283.5" cy="565.9" r="3.65"/><circle cx="282.0" cy="565.5" r="3.65"/><circle cx="160.2" cy="551.0" r="3.65"/><circle cx="293.1" cy="520.8" r="3.65"/><circle cx="365.4" cy="548.8" r="3.65"/><circle cx="207.2" cy="566.7" r="3.65"/><circle cx="182.9" cy="536.7" r="3.65"/><circle cx="344.0" cy="567.5" r="3.65"/><circle cx="310.3" cy="562.0" r="3.65"/><circle cx="378.0" cy="563.0" r="3.65"/><circle cx="540.7" cy="548.6" r="3.65"/><circle cx="368.0" cy="518.3" r="3.65"/><circle cx="217.8" cy="564.3" r="3.65"/><circle cx="213.7" cy="548.9" r="3.65"/><circle cx="628.8" cy="565.3" r="3.65"/><circle cx="398.2" cy="527.5" r="3.65"/><circle cx="477.2" cy="563.6" r="3.65"/><circle cx="467.8" cy="537.0" r="3.65"/><circle cx="232.3" cy="522.3" r="3.65"/><circle cx="342.6" cy="496.7" r="3.65"/><circle cx="208.2" cy="541.0" r="3.65"/><circle cx="632.9" cy="564.0" r="3.65"/><circle cx="321.2" cy="561.3" r="3.65"/><circle cx="309.1" cy="565.3" r="3.65"/><circle cx="618.2" cy="558.8" r="3.65"/><circle cx="156.0" cy="530.4" r="3.65"/><circle cx="311.2" cy="555.3" r="3.65"/><circle cx="531.4" cy="540.7" r="3.65"/><circle cx="333.8" cy="546.8" r="3.65"/><circle cx="306.9" cy="380.8" r="3.65"/><circle cx="294.0" cy="553.7" r="3.65"/><circle cx="570.1" cy="492.8" r="3.65"/><circle cx="209.0" cy="564.7" r="3.65"/><circle cx="187.6" cy="456.5" r="3.65"/><circle cx="221.0" cy="544.9" r="3.65"/><circle cx="377.0" cy="504.3" r="3.65"/><circle cx="590.4" cy="532.4" r="3.65"/><circle cx="309.3" cy="529.8" r="3.65"/><circle cx="395.3" cy="534.6" r="3.65"/><circle cx="561.7" cy="549.3" r="3.65"/><circle cx="156.4" cy="535.1" r="3.65"/><circle cx="522.5" cy="551.7" r="3.65"/><circle cx="467.2" cy="535.8" r="3.65"/><circle cx="221.3" cy="531.8" r="3.65"/><circle cx="444.7" cy="478.5" r="3.65"/><circle cx="540.3" cy="565.8" r="3.65"/><circle cx="241.5" cy="560.8" r="3.65"/><circle cx="423.9" cy="542.7" r="3.65"/><circle cx="396.1" cy="551.5" r="3.65"/><circle cx="311.5" cy="521.8" r="3.65"/><circle cx="531.7" cy="547.3" r="3.65"/><circle cx="602.9" cy="550.8" r="3.65"/><circle cx="357.3" cy="567.0" r="3.65"/><circle cx="451.0" cy="554.7" r="3.65"/><circle cx="394.2" cy="506.7" r="3.65"/><circle cx="360.1" cy="509.2" r="3.65"/><circle cx="209.9" cy="559.5" r="3.65"/><circle cx="155.0" cy="556.4" r="3.65"/><circle cx="461.0" cy="560.0" r="3.65"/><circle cx="449.8" cy="555.9" r="3.65"/><circle cx="403.7" cy="559.1" r="3.65"/><circle cx="526.6" cy="486.2" r="3.65"/><circle cx="582.5" cy="521.1" r="3.65"/><circle cx="198.2" cy="552.0" r="3.65"/><circle cx="545.1" cy="557.4" r="3.65"/><circle cx="203.4" cy="551.7" r="3.65"/><circle cx="343.1" cy="560.7" r="3.65"/><circle cx="543.1" cy="563.4" r="3.65"/><circle cx="593.4" cy="529.2" r="3.65"/><circle cx="560.9" cy="524.9" r="3.65"/><circle cx="283.9" cy="537.9" r="3.65"/><circle cx="246.5" cy="561.9" r="3.65"/><circle cx="255.1" cy="505.7" r="3.65"/><circle cx="417.9" cy="550.2" r="3.65"/><circle cx="626.2" cy="539.5" r="3.65"/><circle cx="185.9" cy="550.8" r="3.65"/><circle cx="611.7" cy="567.7" r="3.65"/><circle cx="407.7" cy="552.4" r="3.65"/><circle cx="258.4" cy="518.7" r="3.65"/><circle cx="413.2" cy="533.9" r="3.65"/><circle cx="421.7" cy="555.8" r="3.65"/><circle cx="449.1" cy="559.1" r="3.65"/><circle cx="618.0" cy="553.4" r="3.65"/><circle cx="512.3" cy="453.0" r="3.65"/><circle cx="552.8" cy="547.8" r="3.65"/><circle cx="533.8" cy="563.7" r="3.65"/><circle cx="311.6" cy="546.4" r="3.65"/><circle cx="166.4" cy="528.5" r="3.65"/><circle cx="328.1" cy="566.5" r="3.65"/><circle cx="582.7" cy="537.6" r="3.65"/><circle cx="493.1" cy="555.5" r="3.65"/><circle cx="409.1" cy="543.2" r="3.65"/><circle cx="311.1" cy="551.7" r="3.65"/><circle cx="295.3" cy="555.2" r="3.65"/><circle cx="206.7" cy="565.4" r="3.65"/><circle cx="345.5" cy="545.7" r="3.65"/><circle cx="393.2" cy="556.0" r="3.65"/><circle cx="541.7" cy="564.4" r="3.65"/><circle cx="318.8" cy="563.2" r="3.65"/><circle cx="443.2" cy="494.2" r="3.65"/><circle cx="520.7" cy="537.9" r="3.65"/><circle cx="325.2" cy="553.5" r="3.65"/><circle cx="458.3" cy="509.6" r="3.65"/><circle cx="206.1" cy="523.6" r="3.65"/><circle cx="285.8" cy="555.9" r="3.65"/><circle cx="386.6" cy="552.7" r="3.65"/><circle cx="280.6" cy="527.0" r="3.65"/><circle cx="497.9" cy="520.5" r="3.65"/><circle cx="261.4" cy="516.3" r="3.65"/><circle cx="258.3" cy="545.3" r="3.65"/><circle cx="563.4" cy="525.6" r="3.65"/><circle cx="539.3" cy="559.4" r="3.65"/><circle cx="507.9" cy="526.0" r="3.65"/><circle cx="188.6" cy="565.6" r="3.65"/><circle cx="547.7" cy="516.4" r="3.65"/><circle cx="344.5" cy="548.8" r="3.65"/><circle cx="449.2" cy="492.4" r="3.65"/><circle cx="310.6" cy="516.8" r="3.65"/><circle cx="621.0" cy="478.0" r="3.65"/><circle cx="637.2" cy="555.7" r="3.65"/><circle cx="387.5" cy="523.0" r="3.65"/><circle cx="533.0" cy="522.5" r="3.65"/><circle cx="310.9" cy="567.3" r="3.65"/><circle cx="275.5" cy="541.3" r="3.65"/><circle cx="542.9" cy="564.9" r="3.65"/><circle cx="414.6" cy="550.0" r="3.65"/><circle cx="585.6" cy="549.0" r="3.65"/><circle cx="400.7" cy="564.3" r="3.65"/><circle cx="234.6" cy="486.9" r="3.65"/><circle cx="451.5" cy="532.6" r="3.65"/><circle cx="246.8" cy="522.2" r="3.65"/><circle cx="585.4" cy="551.1" r="3.65"/><circle cx="414.4" cy="565.6" r="3.65"/><circle cx="360.6" cy="525.1" r="3.65"/><circle cx="444.4" cy="455.2" r="3.65"/><circle cx="311.4" cy="524.2" r="3.65"/><circle cx="219.3" cy="547.3" r="3.65"/><circle cx="247.4" cy="556.8" r="3.65"/><circle cx="373.4" cy="549.1" r="3.65"/><circle cx="429.2" cy="517.3" r="3.65"/><circle cx="367.3" cy="477.4" r="3.65"/><circle cx="479.1" cy="566.0" r="3.65"/><circle cx="354.4" cy="514.8" r="3.65"/><circle cx="572.2" cy="470.5" r="3.65"/><circle cx="178.7" cy="492.2" r="3.65"/><circle cx="310.1" cy="546.8" r="3.65"/><circle cx="465.0" cy="521.1" r="3.65"/><circle cx="263.4" cy="531.2" r="3.65"/><circle cx="411.1" cy="567.2" r="3.65"/><circle cx="291.2" cy="542.9" r="3.65"/><circle cx="585.0" cy="567.4" r="3.65"/><circle cx="269.1" cy="530.5" r="3.65"/><circle cx="329.5" cy="535.6" r="3.65"/><circle cx="310.7" cy="565.8" r="3.65"/><circle cx="166.2" cy="564.1" r="3.65"/><circle cx="542.2" cy="520.3" r="3.65"/><circle cx="312.3" cy="496.9" r="3.65"/><circle cx="418.5" cy="567.5" r="3.65"/><circle cx="266.6" cy="535.2" r="3.65"/><circle cx="396.9" cy="546.0" r="3.65"/><circle cx="311.1" cy="567.7" r="3.65"/><circle cx="219.5" cy="542.2" r="3.65"/><circle cx="270.5" cy="549.7" r="3.65"/><circle cx="284.3" cy="497.9" r="3.65"/><circle cx="319.6" cy="467.5" r="3.65"/><circle cx="476.7" cy="534.3" r="3.65"/><circle cx="429.5" cy="476.5" r="3.65"/><circle cx="619.8" cy="564.1" r="3.65"/><circle cx="312.0" cy="473.8" r="3.65"/><circle cx="277.3" cy="534.0" r="3.65"/><circle cx="386.4" cy="560.5" r="3.65"/><circle cx="541.4" cy="528.9" r="3.65"/><circle cx="243.4" cy="553.1" r="3.65"/><circle cx="485.5" cy="567.7" r="3.65"/><circle cx="583.7" cy="540.6" r="3.65"/><circle cx="222.3" cy="535.5" r="3.65"/><circle cx="536.4" cy="505.9" r="3.65"/><circle cx="417.0" cy="531.0" r="3.65"/><circle cx="408.6" cy="472.3" r="3.65"/><circle cx="327.3" cy="515.8" r="3.65"/><circle cx="494.7" cy="555.0" r="3.65"/><circle cx="415.6" cy="539.7" r="3.65"/><circle cx="349.0" cy="512.3" r="3.65"/><circle cx="331.2" cy="544.4" r="3.65"/><circle cx="501.2" cy="553.2" r="3.65"/><circle cx="611.3" cy="522.1" r="3.65"/><circle cx="397.5" cy="547.9" r="3.65"/><circle cx="425.7" cy="465.5" r="3.65"/><circle cx="354.6" cy="544.5" r="3.65"/><circle cx="186.7" cy="566.3" r="3.65"/><circle cx="357.9" cy="566.2" r="3.65"/><circle cx="359.4" cy="543.0" r="3.65"/><circle cx="598.2" cy="500.5" r="3.65"/><circle cx="417.2" cy="472.4" r="3.65"/><circle cx="326.1" cy="548.4" r="3.65"/><circle cx="185.3" cy="513.0" r="3.65"/><circle cx="330.5" cy="548.0" r="3.65"/><circle cx="147.4" cy="547.5" r="3.65"/><circle cx="600.7" cy="552.4" r="3.65"/><circle cx="613.3" cy="516.2" r="3.65"/><circle cx="310.0" cy="516.9" r="3.65"/><circle cx="322.4" cy="527.5" r="3.65"/><circle cx="517.4" cy="563.2" r="3.65"/><circle cx="611.7" cy="547.5" r="3.65"/><circle cx="639.3" cy="567.7" r="3.65"/><circle cx="319.3" cy="530.1" r="3.65"/><circle cx="423.7" cy="564.1" r="3.65"/><circle cx="424.9" cy="555.9" r="3.65"/><circle cx="438.0" cy="560.0" r="3.65"/><circle cx="364.1" cy="458.9" r="3.65"/><circle cx="219.4" cy="521.5" r="3.65"/><circle cx="311.1" cy="564.7" r="3.65"/><circle cx="516.2" cy="557.4" r="3.65"/><circle cx="375.7" cy="543.7" r="3.65"/><circle cx="526.5" cy="531.2" r="3.65"/><circle cx="218.7" cy="564.1" r="3.65"/><circle cx="519.5" cy="551.6" r="3.65"/><circle cx="625.1" cy="560.4" r="3.65"/><circle cx="380.7" cy="549.7" r="3.65"/><circle cx="166.4" cy="565.3" r="3.65"/><circle cx="425.9" cy="543.8" r="3.65"/><circle cx="551.2" cy="512.6" r="3.65"/><circle cx="625.5" cy="562.2" r="3.65"/><circle cx="153.3" cy="519.3" r="3.65"/><circle cx="267.9" cy="541.0" r="3.65"/><circle cx="318.7" cy="565.7" r="3.65"/><circle cx="407.7" cy="524.0" r="3.65"/><circle cx="371.1" cy="539.1" r="3.65"/><circle cx="594.2" cy="543.2" r="3.65"/><circle cx="395.0" cy="530.5" r="3.65"/><circle cx="187.3" cy="530.7" r="3.65"/><circle cx="337.6" cy="539.2" r="3.65"/><circle cx="161.8" cy="552.9" r="3.65"/><circle cx="216.1" cy="552.1" r="3.65"/><circle cx="209.4" cy="521.4" r="3.65"/><circle cx="163.1" cy="428.9" r="3.65"/><circle cx="273.3" cy="521.6" r="3.65"/><circle cx="470.7" cy="546.3" r="3.65"/><circle cx="221.9" cy="468.3" r="3.65"/><circle cx="380.5" cy="559.1" r="3.65"/><circle cx="318.5" cy="566.2" r="3.65"/><circle cx="375.1" cy="549.3" r="3.65"/><circle cx="474.4" cy="504.3" r="3.65"/><circle cx="310.4" cy="544.4" r="3.65"/><circle cx="157.0" cy="551.2" r="3.65"/><circle cx="173.4" cy="552.8" r="3.65"/><circle cx="205.5" cy="538.7" r="3.65"/><circle cx="249.5" cy="485.0" r="3.65"/><circle cx="541.5" cy="549.3" r="3.65"/><circle cx="415.8" cy="548.3" r="3.65"/><circle cx="385.8" cy="555.5" r="3.65"/><circle cx="275.8" cy="533.1" r="3.65"/><circle cx="311.0" cy="540.1" r="3.65"/><circle cx="562.1" cy="556.7" r="3.65"/><circle cx="477.9" cy="535.6" r="3.65"/><circle cx="435.4" cy="511.0" r="3.65"/><circle cx="268.8" cy="562.7" r="3.65"/><circle cx="473.3" cy="486.3" r="3.65"/><circle cx="208.3" cy="506.4" r="3.65"/><circle cx="436.9" cy="526.4" r="3.65"/><circle cx="223.9" cy="562.0" r="3.65"/><circle cx="301.6" cy="555.9" r="3.65"/><circle cx="341.3" cy="555.5" r="3.65"/><circle cx="357.6" cy="485.8" r="3.65"/><circle cx="463.9" cy="557.4" r="3.65"/><circle cx="459.5" cy="562.3" r="3.65"/><circle cx="230.4" cy="512.7" r="3.65"/><circle cx="365.2" cy="565.4" r="3.65"/><circle cx="530.2" cy="519.1" r="3.65"/><circle cx="159.1" cy="532.9" r="3.65"/><circle cx="597.9" cy="548.7" r="3.65"/><circle cx="480.9" cy="560.2" r="3.65"/><circle cx="153.5" cy="491.9" r="3.65"/><circle cx="244.9" cy="515.5" r="3.65"/><circle cx="611.4" cy="542.5" r="3.65"/><circle cx="630.3" cy="529.1" r="3.65"/><circle cx="222.7" cy="504.0" r="3.65"/><circle cx="469.5" cy="567.4" r="3.65"/><circle cx="398.4" cy="538.2" r="3.65"/><circle cx="225.8" cy="552.1" r="3.65"/><circle cx="201.2" cy="560.3" r="3.65"/><circle cx="618.8" cy="528.8" r="3.65"/><circle cx="542.5" cy="509.2" r="3.65"/><circle cx="192.3" cy="526.8" r="3.65"/><circle cx="502.7" cy="504.2" r="3.65"/><circle cx="204.9" cy="545.3" r="3.65"/><circle cx="467.0" cy="461.5" r="3.65"/><circle cx="506.2" cy="546.8" r="3.65"/><circle cx="207.6" cy="553.7" r="3.65"/><circle cx="304.4" cy="548.2" r="3.65"/><circle cx="191.9" cy="552.2" r="3.65"/><circle cx="251.1" cy="524.1" r="3.65"/><circle cx="423.6" cy="562.4" r="3.65"/><circle cx="322.8" cy="558.1" r="3.65"/><circle cx="557.6" cy="551.4" r="3.65"/><circle cx="193.8" cy="454.6" r="3.65"/><circle cx="311.7" cy="536.4" r="3.65"/><circle cx="218.2" cy="543.5" r="3.65"/><circle cx="395.3" cy="565.8" r="3.65"/><circle cx="254.7" cy="490.5" r="3.65"/><circle cx="561.5" cy="557.2" r="3.65"/><circle cx="455.1" cy="530.6" r="3.65"/><circle cx="372.5" cy="528.5" r="3.65"/><circle cx="179.4" cy="523.9" r="3.65"/><circle cx="220.9" cy="536.8" r="3.65"/><circle cx="419.4" cy="567.3" r="3.65"/><circle cx="498.2" cy="545.3" r="3.65"/><circle cx="452.0" cy="559.1" r="3.65"/><circle cx="310.5" cy="548.9" r="3.65"/><circle cx="191.7" cy="554.3" r="3.65"/><circle cx="589.7" cy="563.6" r="3.65"/><circle cx="351.6" cy="519.9" r="3.65"/><circle cx="158.5" cy="517.2" r="3.65"/><circle cx="372.1" cy="478.7" r="3.65"/><circle cx="307.9" cy="479.5" r="3.65"/><circle cx="546.7" cy="524.0" r="3.65"/><circle cx="211.1" cy="412.0" r="3.65"/><circle cx="551.1" cy="499.9" r="3.65"/><circle cx="311.4" cy="559.7" r="3.65"/><circle cx="608.9" cy="546.3" r="3.65"/><circle cx="181.4" cy="536.4" r="3.65"/><circle cx="405.6" cy="540.7" r="3.65"/><circle cx="404.5" cy="565.9" r="3.65"/><circle cx="192.8" cy="561.5" r="3.65"/><circle cx="472.8" cy="520.6" r="3.65"/><circle cx="541.2" cy="561.7" r="3.65"/><circle cx="343.7" cy="518.3" r="3.65"/><circle cx="275.5" cy="566.3" r="3.65"/><circle cx="274.3" cy="543.4" r="3.65"/><circle cx="598.3" cy="564.8" r="3.65"/><circle cx="536.2" cy="529.7" r="3.65"/><circle cx="534.2" cy="534.8" r="3.65"/><circle cx="253.0" cy="522.7" r="3.65"/><circle cx="355.9" cy="564.3" r="3.65"/><circle cx="403.0" cy="556.8" r="3.65"/><circle cx="223.1" cy="527.7" r="3.65"/><circle cx="565.5" cy="562.9" r="3.65"/><circle cx="510.1" cy="532.2" r="3.65"/><circle cx="371.1" cy="544.8" r="3.65"/><circle cx="640.5" cy="536.8" r="3.65"/><circle cx="472.5" cy="560.8" r="3.65"/><circle cx="501.0" cy="431.9" r="3.65"/><circle cx="313.5" cy="534.5" r="3.65"/><circle cx="628.9" cy="533.6" r="3.65"/><circle cx="501.8" cy="565.5" r="3.65"/><circle cx="325.6" cy="489.2" r="3.65"/><circle cx="195.0" cy="519.9" r="3.65"/><circle cx="378.9" cy="560.2" r="3.65"/><circle cx="466.0" cy="476.8" r="3.65"/><circle cx="241.3" cy="557.6" r="3.65"/><circle cx="337.8" cy="547.6" r="3.65"/><circle cx="625.0" cy="525.1" r="3.65"/><circle cx="215.8" cy="538.9" r="3.65"/><circle cx="171.5" cy="518.7" r="3.65"/><circle cx="399.0" cy="512.3" r="3.65"/><circle cx="209.1" cy="521.5" r="3.65"/><circle cx="402.7" cy="526.8" r="3.65"/><circle cx="385.6" cy="514.2" r="3.65"/><circle cx="406.8" cy="545.3" r="3.65"/><circle cx="297.8" cy="540.2" r="3.65"/><circle cx="328.5" cy="530.9" r="3.65"/><circle cx="635.6" cy="521.6" r="3.65"/><circle cx="310.9" cy="540.6" r="3.65"/><circle cx="280.6" cy="532.8" r="3.65"/><circle cx="256.8" cy="525.0" r="3.65"/><circle cx="545.8" cy="563.3" r="3.65"/><circle cx="528.8" cy="562.9" r="3.65"/><circle cx="184.0" cy="483.3" r="3.65"/><circle cx="450.3" cy="515.6" r="3.65"/><circle cx="546.3" cy="458.0" r="3.65"/><circle cx="566.9" cy="565.6" r="3.65"/><circle cx="474.1" cy="548.3" r="3.65"/><circle cx="555.5" cy="553.4" r="3.65"/><circle cx="156.6" cy="535.8" r="3.65"/><circle cx="439.0" cy="552.9" r="3.65"/><circle cx="381.6" cy="547.5" r="3.65"/><circle cx="221.8" cy="549.4" r="3.65"/><circle cx="439.6" cy="552.8" r="3.65"/><circle cx="542.1" cy="536.3" r="3.65"/><circle cx="415.4" cy="565.0" r="3.65"/><circle cx="606.2" cy="543.9" r="3.65"/><circle cx="328.6" cy="515.9" r="3.65"/><circle cx="164.7" cy="517.9" r="3.65"/><circle cx="617.5" cy="556.8" r="3.65"/><circle cx="356.2" cy="537.5" r="3.65"/><circle cx="149.1" cy="541.7" r="3.65"/><circle cx="368.8" cy="473.0" r="3.65"/><circle cx="443.4" cy="532.6" r="3.65"/><circle cx="462.8" cy="522.2" r="3.65"/><circle cx="571.2" cy="557.0" r="3.65"/><circle cx="494.7" cy="552.4" r="3.65"/><circle cx="591.0" cy="530.4" r="3.65"/><circle cx="340.4" cy="567.6" r="3.65"/><circle cx="318.6" cy="512.0" r="3.65"/><circle cx="209.0" cy="515.9" r="3.65"/><circle cx="417.8" cy="517.4" r="3.65"/><circle cx="542.2" cy="530.9" r="3.65"/><circle cx="284.1" cy="535.1" r="3.65"/><circle cx="596.4" cy="516.3" r="3.65"/><circle cx="402.8" cy="538.6" r="3.65"/><circle cx="603.7" cy="473.4" r="3.65"/><circle cx="591.3" cy="563.1" r="3.65"/><circle cx="266.0" cy="551.5" r="3.65"/><circle cx="390.8" cy="559.4" r="3.65"/><circle cx="220.5" cy="518.7" r="3.65"/><circle cx="162.6" cy="546.0" r="3.65"/><circle cx="353.9" cy="545.6" r="3.65"/><circle cx="544.2" cy="532.0" r="3.65"/><circle cx="197.9" cy="562.8" r="3.65"/><circle cx="204.1" cy="535.0" r="3.65"/><circle cx="339.7" cy="497.4" r="3.65"/><circle cx="171.7" cy="530.3" r="3.65"/><circle cx="323.8" cy="470.2" r="3.65"/><circle cx="313.2" cy="527.2" r="3.65"/><circle cx="368.6" cy="556.4" r="3.65"/><circle cx="173.9" cy="562.3" r="3.65"/><circle cx="482.2" cy="561.5" r="3.65"/><circle cx="404.1" cy="523.7" r="3.65"/><circle cx="410.0" cy="567.3" r="3.65"/><circle cx="590.0" cy="559.4" r="3.65"/><circle cx="423.8" cy="478.4" r="3.65"/><circle cx="353.9" cy="543.5" r="3.65"/><circle cx="407.0" cy="558.4" r="3.65"/><circle cx="315.2" cy="528.8" r="3.65"/><circle cx="417.7" cy="472.9" r="3.65"/><circle cx="275.0" cy="557.4" r="3.65"/><circle cx="248.1" cy="547.8" r="3.65"/><circle cx="554.3" cy="471.5" r="3.65"/><circle cx="229.0" cy="566.9" r="3.65"/><circle cx="229.3" cy="531.8" r="3.65"/><circle cx="361.8" cy="551.7" r="3.65"/><circle cx="372.1" cy="562.9" r="3.65"/><circle cx="567.5" cy="529.7" r="3.65"/><circle cx="300.4" cy="452.9" r="3.65"/><circle cx="451.8" cy="462.3" r="3.65"/><circle cx="487.9" cy="523.1" r="3.65"/><circle cx="191.3" cy="558.1" r="3.65"/><circle cx="410.0" cy="519.7" r="3.65"/><circle cx="288.7" cy="559.3" r="3.65"/><circle cx="410.8" cy="526.2" r="3.65"/><circle cx="546.7" cy="469.2" r="3.65"/><circle cx="381.1" cy="408.3" r="3.65"/><circle cx="221.2" cy="534.5" r="3.65"/><circle cx="260.6" cy="544.2" r="3.65"/><circle cx="502.4" cy="514.8" r="3.65"/><circle cx="557.3" cy="497.6" r="3.65"/><circle cx="161.6" cy="560.7" r="3.65"/><circle cx="484.4" cy="562.6" r="3.65"/><circle cx="415.9" cy="542.7" r="3.65"/><circle cx="317.5" cy="537.0" r="3.65"/><circle cx="261.7" cy="555.9" r="3.65"/><circle cx="395.4" cy="540.6" r="3.65"/><circle cx="206.1" cy="549.9" r="3.65"/><circle cx="260.0" cy="567.9" r="3.65"/><circle cx="309.8" cy="523.3" r="3.65"/><circle cx="167.3" cy="561.1" r="3.65"/><circle cx="525.7" cy="490.2" r="3.65"/><circle cx="316.4" cy="434.2" r="3.65"/><circle cx="259.8" cy="548.7" r="3.65"/><circle cx="381.5" cy="521.1" r="3.65"/><circle cx="441.2" cy="536.1" r="3.65"/><circle cx="627.9" cy="475.1" r="3.65"/><circle cx="226.2" cy="546.3" r="3.65"/><circle cx="612.1" cy="482.6" r="3.65"/><circle cx="523.0" cy="538.3" r="3.65"/><circle cx="452.0" cy="545.3" r="3.65"/><circle cx="227.8" cy="504.2" r="3.65"/><circle cx="215.6" cy="519.4" r="3.65"/><circle cx="211.9" cy="566.8" r="3.65"/><circle cx="632.3" cy="548.4" r="3.65"/><circle cx="589.5" cy="563.9" r="3.65"/><circle cx="202.5" cy="520.6" r="3.65"/><circle cx="167.1" cy="552.1" r="3.65"/><circle cx="364.3" cy="562.6" r="3.65"/><circle cx="157.7" cy="562.5" r="3.65"/><circle cx="169.7" cy="516.1" r="3.65"/><circle cx="261.4" cy="537.5" r="3.65"/><circle cx="583.1" cy="556.5" r="3.65"/><circle cx="596.3" cy="538.0" r="3.65"/><circle cx="492.5" cy="422.4" r="3.65"/><circle cx="409.7" cy="457.0" r="3.65"/><circle cx="623.7" cy="536.7" r="3.65"/><circle cx="285.8" cy="566.6" r="3.65"/><circle cx="486.0" cy="503.1" r="3.65"/><circle cx="551.2" cy="560.8" r="3.65"/><circle cx="537.0" cy="558.7" r="3.65"/><circle cx="233.9" cy="543.1" r="3.65"/><circle cx="311.4" cy="522.7" r="3.65"/><circle cx="340.1" cy="560.7" r="3.65"/><circle cx="569.8" cy="562.5" r="3.65"/><circle cx="160.3" cy="519.6" r="3.65"/><circle cx="489.0" cy="515.0" r="3.65"/><circle cx="626.6" cy="498.1" r="3.65"/><circle cx="153.1" cy="528.8" r="3.65"/><circle cx="288.8" cy="551.6" r="3.65"/><circle cx="597.4" cy="558.2" r="3.65"/><circle cx="381.0" cy="525.1" r="3.65"/><circle cx="369.0" cy="553.0" r="3.65"/><circle cx="266.1" cy="518.5" r="3.65"/><circle cx="423.7" cy="551.1" r="3.65"/><circle cx="257.0" cy="556.7" r="3.65"/><circle cx="210.2" cy="479.6" r="3.65"/><circle cx="271.2" cy="536.6" r="3.65"/><circle cx="156.5" cy="530.3" r="3.65"/><circle cx="218.3" cy="535.6" r="3.65"/><circle cx="486.5" cy="557.2" r="3.65"/><circle cx="286.1" cy="495.3" r="3.65"/><circle cx="285.0" cy="519.3" r="3.65"/><circle cx="608.0" cy="518.6" r="3.65"/><circle cx="503.7" cy="534.4" r="3.65"/><circle cx="178.6" cy="550.0" r="3.65"/><circle cx="288.9" cy="544.4" r="3.65"/><circle cx="172.6" cy="566.9" r="3.65"/><circle cx="438.6" cy="560.0" r="3.65"/><circle cx="511.3" cy="470.5" r="3.65"/><circle cx="467.4" cy="559.1" r="3.65"/><circle cx="389.5" cy="504.4" r="3.65"/><circle cx="400.3" cy="524.2" r="3.65"/><circle cx="613.1" cy="559.3" r="3.65"/><circle cx="282.3" cy="517.5" r="3.65"/><circle cx="398.2" cy="540.0" r="3.65"/><circle cx="571.0" cy="515.7" r="3.65"/><circle cx="536.1" cy="549.7" r="3.65"/><circle cx="493.0" cy="556.8" r="3.65"/><circle cx="329.7" cy="506.2" r="3.65"/><circle cx="421.8" cy="556.5" r="3.65"/><circle cx="628.1" cy="553.3" r="3.65"/><circle cx="300.2" cy="491.8" r="3.65"/><circle cx="155.1" cy="556.1" r="3.65"/><circle cx="293.3" cy="550.8" r="3.65"/><circle cx="416.5" cy="536.8" r="3.65"/><circle cx="633.0" cy="558.8" r="3.65"/><circle cx="382.4" cy="429.9" r="3.65"/><circle cx="223.4" cy="551.9" r="3.65"/><circle cx="596.1" cy="542.4" r="3.65"/><circle cx="320.1" cy="466.8" r="3.65"/><circle cx="314.0" cy="557.1" r="3.65"/><circle cx="379.0" cy="536.4" r="3.65"/><circle cx="555.9" cy="531.5" r="3.65"/><circle cx="552.3" cy="480.4" r="3.65"/><circle cx="236.1" cy="538.0" r="3.65"/><circle cx="202.7" cy="518.4" r="3.65"/><circle cx="422.9" cy="536.1" r="3.65"/><circle cx="165.7" cy="523.5" r="3.65"/><circle cx="318.9" cy="473.8" r="3.65"/><circle cx="627.2" cy="534.4" r="3.65"/><circle cx="541.2" cy="536.2" r="3.65"/><circle cx="551.4" cy="528.2" r="3.65"/><circle cx="480.4" cy="517.1" r="3.65"/><circle cx="215.3" cy="566.6" r="3.65"/><circle cx="466.7" cy="565.9" r="3.65"/><circle cx="518.0" cy="506.9" r="3.65"/><circle cx="542.1" cy="563.3" r="3.65"/><circle cx="633.6" cy="492.9" r="3.65"/><circle cx="251.2" cy="522.3" r="3.65"/><circle cx="417.1" cy="531.6" r="3.65"/><circle cx="395.1" cy="567.4" r="3.65"/><circle cx="157.2" cy="543.6" r="3.65"/><circle cx="433.4" cy="549.9" r="3.65"/><circle cx="535.6" cy="545.7" r="3.65"/><circle cx="500.6" cy="528.4" r="3.65"/><circle cx="596.9" cy="523.8" r="3.65"/><circle cx="154.0" cy="523.3" r="3.65"/><circle cx="341.6" cy="529.3" r="3.65"/><circle cx="364.9" cy="547.7" r="3.65"/><circle cx="311.0" cy="558.7" r="3.65"/><circle cx="475.2" cy="549.2" r="3.65"/><circle cx="425.7" cy="549.7" r="3.65"/><circle cx="494.8" cy="558.4" r="3.65"/><circle cx="492.4" cy="504.1" r="3.65"/><circle cx="367.7" cy="549.3" r="3.65"/><circle cx="311.6" cy="496.0" r="3.65"/><circle cx="579.4" cy="562.7" r="3.65"/><circle cx="573.0" cy="525.1" r="3.65"/><circle cx="212.0" cy="530.7" r="3.65"/><circle cx="311.7" cy="527.8" r="3.65"/><circle cx="525.2" cy="468.2" r="3.65"/><circle cx="633.9" cy="536.2" r="3.65"/><circle cx="343.9" cy="518.6" r="3.65"/><circle cx="218.6" cy="529.5" r="3.65"/><circle cx="488.8" cy="525.6" r="3.65"/><circle cx="385.9" cy="549.0" r="3.65"/><circle cx="404.5" cy="563.9" r="3.65"/><circle cx="447.6" cy="550.4" r="3.65"/><circle cx="510.3" cy="540.0" r="3.65"/><circle cx="614.0" cy="483.1" r="3.65"/><circle cx="196.2" cy="520.4" r="3.65"/><circle cx="591.4" cy="553.2" r="3.65"/><circle cx="307.0" cy="553.1" r="3.65"/><circle cx="584.3" cy="548.7" r="3.65"/><circle cx="382.7" cy="530.6" r="3.65"/><circle cx="167.2" cy="558.1" r="3.65"/><circle cx="230.6" cy="559.0" r="3.65"/><circle cx="482.1" cy="469.5" r="3.65"/><circle cx="345.9" cy="537.5" r="3.65"/><circle cx="217.6" cy="551.9" r="3.65"/><circle cx="613.8" cy="528.5" r="3.65"/><circle cx="591.4" cy="547.0" r="3.65"/><circle cx="159.6" cy="521.7" r="3.65"/><circle cx="251.5" cy="535.0" r="3.65"/><circle cx="326.2" cy="559.5" r="3.65"/><circle cx="283.9" cy="538.7" r="3.65"/><circle cx="394.4" cy="529.2" r="3.65"/><circle cx="189.1" cy="561.1" r="3.65"/><circle cx="404.8" cy="553.6" r="3.65"/><circle cx="419.6" cy="488.7" r="3.65"/><circle cx="494.1" cy="528.0" r="3.65"/><circle cx="190.0" cy="563.6" r="3.65"/><circle cx="283.1" cy="510.0" r="3.65"/><circle cx="370.1" cy="559.3" r="3.65"/><circle cx="201.7" cy="563.1" r="3.65"/><circle cx="507.3" cy="500.1" r="3.65"/><circle cx="276.0" cy="566.0" r="3.65"/><circle cx="634.5" cy="546.8" r="3.65"/><circle cx="308.9" cy="558.7" r="3.65"/><circle cx="473.6" cy="536.4" r="3.65"/><circle cx="352.5" cy="547.0" r="3.65"/><circle cx="250.1" cy="504.0" r="3.65"/><circle cx="451.7" cy="460.9" r="3.65"/><circle cx="326.3" cy="471.7" r="3.65"/><circle cx="454.5" cy="507.3" r="3.65"/><circle cx="474.4" cy="496.6" r="3.65"/><circle cx="166.3" cy="529.3" r="3.65"/><circle cx="229.7" cy="549.5" r="3.65"/><circle cx="562.9" cy="468.3" r="3.65"/><circle cx="625.8" cy="520.2" r="3.65"/><circle cx="426.0" cy="564.1" r="3.65"/><circle cx="488.7" cy="549.0" r="3.65"/><circle cx="151.9" cy="541.2" r="3.65"/><circle cx="401.9" cy="477.7" r="3.65"/><circle cx="388.0" cy="562.1" r="3.65"/><circle cx="634.7" cy="562.0" r="3.65"/><circle cx="560.2" cy="513.6" r="3.65"/><circle cx="524.9" cy="564.9" r="3.65"/><circle cx="614.6" cy="546.0" r="3.65"/><circle cx="424.2" cy="533.9" r="3.65"/><circle cx="361.7" cy="564.0" r="3.65"/><circle cx="452.9" cy="463.5" r="3.65"/><circle cx="611.9" cy="524.9" r="3.65"/><circle cx="580.1" cy="473.9" r="3.65"/><circle cx="493.5" cy="543.8" r="3.65"/><circle cx="421.6" cy="537.2" r="3.65"/><circle cx="222.5" cy="516.9" r="3.65"/><circle cx="607.6" cy="554.2" r="3.65"/><circle cx="352.0" cy="529.9" r="3.65"/><circle cx="283.2" cy="526.8" r="3.65"/><circle cx="274.7" cy="528.1" r="3.65"/><circle cx="541.2" cy="541.9" r="3.65"/><circle cx="276.1" cy="511.6" r="3.65"/><circle cx="513.3" cy="482.0" r="3.65"/><circle cx="336.4" cy="504.4" r="3.65"/><circle cx="309.1" cy="321.3" r="3.65"/><circle cx="452.3" cy="541.4" r="3.65"/><circle cx="418.4" cy="542.6" r="3.65"/><circle cx="564.6" cy="537.0" r="3.65"/><circle cx="572.6" cy="537.0" r="3.65"/><circle cx="185.1" cy="566.7" r="3.65"/><circle cx="265.3" cy="565.9" r="3.65"/><circle cx="531.9" cy="496.8" r="3.65"/><circle cx="283.4" cy="546.6" r="3.65"/><circle cx="449.8" cy="557.1" r="3.65"/><circle cx="148.9" cy="544.6" r="3.65"/><circle cx="492.9" cy="519.8" r="3.65"/><circle cx="302.6" cy="562.9" r="3.65"/><circle cx="502.6" cy="541.1" r="3.65"/><circle cx="300.5" cy="541.4" r="3.65"/><circle cx="364.0" cy="550.2" r="3.65"/><circle cx="156.8" cy="562.9" r="3.65"/><circle cx="477.5" cy="540.8" r="3.65"/><circle cx="386.2" cy="538.2" r="3.65"/><circle cx="294.5" cy="519.3" r="3.65"/><circle cx="311.6" cy="567.8" r="3.65"/><circle cx="184.4" cy="514.8" r="3.65"/><circle cx="408.8" cy="555.3" r="3.65"/><circle cx="332.3" cy="544.4" r="3.65"/><circle cx="474.2" cy="506.9" r="3.65"/><circle cx="329.6" cy="550.6" r="3.65"/><circle cx="388.3" cy="565.4" r="3.65"/><circle cx="222.4" cy="565.5" r="3.65"/><circle cx="243.5" cy="499.0" r="3.65"/><circle cx="229.3" cy="523.3" r="3.65"/><circle cx="215.6" cy="556.4" r="3.65"/><circle cx="550.1" cy="537.4" r="3.65"/><circle cx="455.6" cy="528.0" r="3.65"/><circle cx="178.0" cy="550.4" r="3.65"/><circle cx="341.9" cy="556.3" r="3.65"/><circle cx="311.6" cy="489.6" r="3.65"/><circle cx="321.0" cy="533.6" r="3.65"/><circle cx="221.2" cy="536.3" r="3.65"/><circle cx="406.3" cy="524.2" r="3.65"/><circle cx="487.3" cy="514.3" r="3.65"/><circle cx="234.2" cy="553.1" r="3.65"/><circle cx="226.7" cy="551.0" r="3.65"/><circle cx="581.7" cy="536.1" r="3.65"/><circle cx="597.6" cy="527.4" r="3.65"/><circle cx="263.2" cy="563.6" r="3.65"/><circle cx="604.5" cy="517.3" r="3.65"/><circle cx="192.0" cy="563.6" r="3.65"/><circle cx="611.1" cy="533.9" r="3.65"/><circle cx="363.1" cy="519.0" r="3.65"/><circle cx="357.2" cy="547.9" r="3.65"/><circle cx="539.3" cy="560.0" r="3.65"/><circle cx="515.5" cy="539.7" r="3.65"/><circle cx="275.7" cy="550.4" r="3.65"/><circle cx="483.9" cy="554.5" r="3.65"/><circle cx="196.2" cy="525.1" r="3.65"/><circle cx="235.1" cy="430.2" r="3.65"/><circle cx="591.2" cy="512.3" r="3.65"/><circle cx="551.0" cy="546.9" r="3.65"/><circle cx="177.9" cy="462.3" r="3.65"/><circle cx="379.9" cy="545.2" r="3.65"/><circle cx="312.2" cy="544.5" r="3.65"/><circle cx="239.4" cy="545.6" r="3.65"/><circle cx="282.2" cy="473.5" r="3.65"/><circle cx="540.7" cy="474.1" r="3.65"/><circle cx="632.6" cy="552.6" r="3.65"/><circle cx="299.1" cy="559.1" r="3.65"/><circle cx="317.8" cy="536.3" r="3.65"/><circle cx="448.6" cy="472.6" r="3.65"/><circle cx="260.2" cy="566.7" r="3.65"/><circle cx="416.3" cy="530.2" r="3.65"/><circle cx="612.1" cy="542.4" r="3.65"/><circle cx="337.6" cy="544.4" r="3.65"/><circle cx="281.3" cy="565.7" r="3.65"/><circle cx="210.1" cy="567.2" r="3.65"/><circle cx="398.8" cy="497.2" r="3.65"/><circle cx="187.9" cy="546.8" r="3.65"/><circle cx="424.0" cy="557.0" r="3.65"/><circle cx="538.9" cy="517.0" r="3.65"/><circle cx="167.3" cy="560.9" r="3.65"/><circle cx="625.0" cy="539.6" r="3.65"/><circle cx="267.7" cy="548.6" r="3.65"/><circle cx="557.1" cy="552.0" r="3.65"/><circle cx="216.0" cy="526.6" r="3.65"/><circle cx="310.6" cy="558.0" r="3.65"/><circle cx="618.3" cy="533.8" r="3.65"/><circle cx="380.5" cy="564.4" r="3.65"/><circle cx="308.7" cy="563.8" r="3.65"/><circle cx="578.9" cy="548.7" r="3.65"/><circle cx="248.9" cy="520.5" r="3.65"/><circle cx="291.4" cy="552.7" r="3.65"/><circle cx="351.1" cy="515.3" r="3.65"/><circle cx="491.9" cy="559.5" r="3.65"/><circle cx="574.5" cy="552.7" r="3.65"/><circle cx="166.0" cy="526.7" r="3.65"/><circle cx="291.9" cy="514.8" r="3.65"/><circle cx="577.7" cy="560.3" r="3.65"/><circle cx="355.3" cy="530.5" r="3.65"/><circle cx="198.3" cy="557.0" r="3.65"/><circle cx="490.0" cy="551.3" r="3.65"/><circle cx="562.5" cy="554.9" r="3.65"/><circle cx="377.2" cy="549.1" r="3.65"/><circle cx="321.5" cy="552.1" r="3.65"/><circle cx="314.6" cy="547.3" r="3.65"/><circle cx="508.3" cy="546.2" r="3.65"/><circle cx="311.4" cy="553.8" r="3.65"/><circle cx="627.8" cy="562.5" r="3.65"/><circle cx="539.1" cy="552.3" r="3.65"/><circle cx="425.9" cy="534.3" r="3.65"/><circle cx="444.9" cy="566.1" r="3.65"/><circle cx="541.4" cy="548.6" r="3.65"/><circle cx="412.7" cy="566.5" r="3.65"/><circle cx="360.7" cy="517.6" r="3.65"/><circle cx="204.6" cy="542.4" r="3.65"/><circle cx="354.5" cy="513.6" r="3.65"/><circle cx="178.5" cy="567.0" r="3.65"/><circle cx="219.8" cy="522.7" r="3.65"/><circle cx="439.2" cy="544.0" r="3.65"/><circle cx="252.7" cy="553.6" r="3.65"/><circle cx="370.3" cy="566.5" r="3.65"/><circle cx="299.5" cy="535.5" r="3.65"/><circle cx="245.0" cy="507.7" r="3.65"/><circle cx="412.2" cy="540.0" r="3.65"/><circle cx="526.7" cy="530.2" r="3.65"/><circle cx="356.2" cy="526.8" r="3.65"/><circle cx="552.7" cy="554.0" r="3.65"/><circle cx="165.9" cy="526.1" r="3.65"/><circle cx="334.8" cy="532.4" r="3.65"/><circle cx="442.6" cy="566.6" r="3.65"/><circle cx="422.5" cy="556.9" r="3.65"/><circle cx="297.7" cy="528.2" r="3.65"/><circle cx="233.8" cy="542.1" r="3.65"/><circle cx="199.3" cy="430.2" r="3.65"/><circle cx="350.8" cy="525.1" r="3.65"/><circle cx="639.6" cy="555.5" r="3.65"/><circle cx="531.5" cy="449.9" r="3.65"/><circle cx="387.9" cy="556.0" r="3.65"/><circle cx="278.0" cy="542.5" r="3.65"/><circle cx="184.0" cy="567.0" r="3.65"/><circle cx="259.7" cy="565.2" r="3.65"/><circle cx="215.2" cy="565.5" r="3.65"/><circle cx="392.7" cy="548.0" r="3.65"/><circle cx="175.4" cy="532.8" r="3.65"/><circle cx="259.8" cy="561.3" r="3.65"/><circle cx="276.0" cy="473.0" r="3.65"/><circle cx="384.9" cy="488.8" r="3.65"/><circle cx="362.7" cy="543.8" r="3.65"/><circle cx="364.2" cy="534.0" r="3.65"/><circle cx="562.5" cy="540.2" r="3.65"/><circle cx="226.8" cy="561.0" r="3.65"/><circle cx="189.1" cy="546.0" r="3.65"/><circle cx="274.9" cy="503.5" r="3.65"/><circle cx="575.0" cy="528.7" r="3.65"/><circle cx="632.4" cy="535.9" r="3.65"/><circle cx="628.4" cy="459.8" r="3.65"/><circle cx="154.6" cy="552.9" r="3.65"/><circle cx="320.7" cy="514.9" r="3.65"/><circle cx="584.2" cy="547.2" r="3.65"/><circle cx="229.7" cy="558.4" r="3.65"/><circle cx="301.2" cy="499.6" r="3.65"/><circle cx="374.9" cy="565.6" r="3.65"/><circle cx="339.0" cy="541.7" r="3.65"/><circle cx="332.0" cy="564.6" r="3.65"/><circle cx="329.0" cy="509.9" r="3.65"/><circle cx="632.7" cy="508.2" r="3.65"/><circle cx="486.7" cy="561.9" r="3.65"/><circle cx="636.3" cy="474.8" r="3.65"/><circle cx="233.0" cy="539.2" r="3.65"/><circle cx="626.8" cy="555.7" r="3.65"/><circle cx="191.9" cy="561.8" r="3.65"/><circle cx="566.0" cy="533.6" r="3.65"/><circle cx="188.1" cy="543.3" r="3.65"/><circle cx="563.3" cy="556.7" r="3.65"/><circle cx="454.7" cy="448.0" r="3.65"/><circle cx="467.6" cy="554.7" r="3.65"/><circle cx="233.6" cy="504.2" r="3.65"/><circle cx="367.9" cy="560.7" r="3.65"/><circle cx="353.2" cy="534.7" r="3.65"/><circle cx="434.4" cy="543.8" r="3.65"/><circle cx="295.9" cy="488.6" r="3.65"/><circle cx="626.6" cy="561.2" r="3.65"/><circle cx="391.9" cy="536.0" r="3.65"/><circle cx="310.1" cy="530.0" r="3.65"/><circle cx="371.8" cy="553.8" r="3.65"/><circle cx="311.4" cy="474.9" r="3.65"/><circle cx="449.5" cy="523.1" r="3.65"/><circle cx="184.5" cy="558.6" r="3.65"/><circle cx="484.3" cy="521.4" r="3.65"/><circle cx="229.5" cy="562.1" r="3.65"/><circle cx="369.5" cy="557.2" r="3.65"/><circle cx="588.5" cy="524.1" r="3.65"/><circle cx="562.2" cy="567.8" r="3.65"/><circle cx="421.7" cy="531.5" r="3.65"/><circle cx="188.1" cy="527.9" r="3.65"/><circle cx="160.6" cy="566.7" r="3.65"/><circle cx="383.6" cy="544.0" r="3.65"/><circle cx="309.6" cy="567.3" r="3.65"/><circle cx="493.5" cy="475.1" r="3.65"/><circle cx="542.3" cy="512.2" r="3.65"/><circle cx="325.4" cy="546.3" r="3.65"/><circle cx="407.5" cy="558.4" r="3.65"/><circle cx="551.7" cy="515.7" r="3.65"/><circle cx="176.7" cy="562.3" r="3.65"/><circle cx="423.5" cy="558.5" r="3.65"/><circle cx="156.1" cy="535.6" r="3.65"/><circle cx="540.3" cy="567.6" r="3.65"/><circle cx="613.8" cy="492.5" r="3.65"/><circle cx="532.6" cy="563.7" r="3.65"/><circle cx="315.7" cy="534.1" r="3.65"/><circle cx="455.5" cy="533.8" r="3.65"/><circle cx="189.7" cy="557.9" r="3.65"/><circle cx="582.1" cy="547.7" r="3.65"/><circle cx="226.6" cy="517.0" r="3.65"/><circle cx="462.2" cy="567.6" r="3.65"/><circle cx="406.6" cy="563.5" r="3.65"/><circle cx="340.9" cy="498.7" r="3.65"/><circle cx="542.5" cy="542.2" r="3.65"/><circle cx="457.3" cy="530.3" r="3.65"/><circle cx="638.0" cy="555.4" r="3.65"/><circle cx="627.8" cy="520.6" r="3.65"/><circle cx="472.3" cy="549.7" r="3.65"/><circle cx="161.6" cy="553.1" r="3.65"/><circle cx="312.9" cy="563.8" r="3.65"/><circle cx="336.4" cy="552.3" r="3.65"/><circle cx="398.5" cy="444.8" r="3.65"/><circle cx="204.5" cy="540.4" r="3.65"/><circle cx="158.5" cy="542.1" r="3.65"/><circle cx="506.5" cy="538.4" r="3.65"/><circle cx="406.0" cy="476.5" r="3.65"/><circle cx="297.4" cy="472.4" r="3.65"/><circle cx="283.8" cy="566.4" r="3.65"/><circle cx="530.4" cy="556.0" r="3.65"/><circle cx="262.9" cy="552.4" r="3.65"/><circle cx="310.6" cy="546.8" r="3.65"/><circle cx="566.2" cy="559.2" r="3.65"/><circle cx="373.2" cy="565.1" r="3.65"/><circle cx="316.7" cy="545.2" r="3.65"/><circle cx="187.8" cy="523.1" r="3.65"/><circle cx="570.7" cy="560.4" r="3.65"/><circle cx="534.5" cy="548.8" r="3.65"/><circle cx="314.0" cy="559.0" r="3.65"/><circle cx="209.5" cy="566.2" r="3.65"/><circle cx="527.6" cy="555.4" r="3.65"/><circle cx="634.3" cy="552.5" r="3.65"/><circle cx="359.4" cy="523.7" r="3.65"/><circle cx="199.0" cy="532.8" r="3.65"/><circle cx="532.8" cy="494.5" r="3.65"/><circle cx="615.9" cy="538.8" r="3.65"/><circle cx="439.3" cy="421.6" r="3.65"/><circle cx="424.3" cy="533.6" r="3.65"/><circle cx="620.5" cy="519.3" r="3.65"/><circle cx="169.2" cy="566.2" r="3.65"/><circle cx="465.5" cy="475.3" r="3.65"/><circle cx="282.2" cy="566.8" r="3.65"/><circle cx="445.4" cy="564.3" r="3.65"/><circle cx="264.8" cy="557.8" r="3.65"/><circle cx="166.6" cy="564.2" r="3.65"/><circle cx="411.8" cy="559.2" r="3.65"/><circle cx="160.9" cy="540.2" r="3.65"/><circle cx="421.3" cy="525.9" r="3.65"/><circle cx="432.1" cy="507.8" r="3.65"/><circle cx="274.5" cy="516.3" r="3.65"/><circle cx="344.6" cy="556.5" r="3.65"/><circle cx="285.9" cy="537.7" r="3.65"/><circle cx="206.0" cy="565.7" r="3.65"/><circle cx="310.5" cy="540.5" r="3.65"/><circle cx="493.3" cy="550.2" r="3.65"/><circle cx="226.1" cy="559.7" r="3.65"/><circle cx="327.6" cy="467.3" r="3.65"/><circle cx="310.7" cy="560.2" r="3.65"/><circle cx="447.7" cy="567.6" r="3.65"/><circle cx="454.2" cy="547.2" r="3.65"/><circle cx="149.7" cy="565.1" r="3.65"/><circle cx="404.2" cy="501.3" r="3.65"/><circle cx="181.0" cy="528.4" r="3.65"/><circle cx="601.5" cy="491.9" r="3.65"/><circle cx="281.6" cy="563.7" r="3.65"/><circle cx="514.6" cy="567.4" r="3.65"/><circle cx="302.6" cy="565.5" r="3.65"/><circle cx="453.9" cy="486.6" r="3.65"/><circle cx="310.9" cy="561.6" r="3.65"/><circle cx="221.7" cy="566.8" r="3.65"/><circle cx="230.3" cy="565.0" r="3.65"/><circle cx="619.3" cy="545.1" r="3.65"/><circle cx="485.8" cy="555.8" r="3.65"/><circle cx="309.0" cy="543.0" r="3.65"/><circle cx="541.7" cy="531.1" r="3.65"/><circle cx="171.6" cy="543.7" r="3.65"/><circle cx="451.3" cy="558.2" r="3.65"/><circle cx="589.1" cy="555.0" r="3.65"/><circle cx="299.4" cy="559.2" r="3.65"/><circle cx="268.1" cy="560.5" r="3.65"/><circle cx="418.3" cy="539.8" r="3.65"/><circle cx="339.7" cy="499.6" r="3.65"/><circle cx="533.4" cy="533.6" r="3.65"/><circle cx="542.7" cy="469.0" r="3.65"/><circle cx="541.0" cy="563.6" r="3.65"/><circle cx="410.0" cy="517.4" r="3.65"/><circle cx="391.3" cy="541.2" r="3.65"/><circle cx="189.7" cy="523.4" r="3.65"/><circle cx="448.5" cy="562.3" r="3.65"/><circle cx="459.9" cy="542.7" r="3.65"/><circle cx="292.3" cy="562.3" r="3.65"/><circle cx="404.7" cy="542.2" r="3.65"/><circle cx="198.3" cy="545.3" r="3.65"/><circle cx="305.1" cy="557.8" r="3.65"/><circle cx="448.6" cy="567.0" r="3.65"/><circle cx="560.9" cy="530.3" r="3.65"/><circle cx="584.2" cy="550.2" r="3.65"/><circle cx="231.1" cy="565.2" r="3.65"/><circle cx="387.7" cy="560.0" r="3.65"/><circle cx="252.1" cy="553.5" r="3.65"/><circle cx="300.4" cy="457.0" r="3.65"/><circle cx="628.2" cy="516.6" r="3.65"/><circle cx="473.7" cy="566.6" r="3.65"/><circle cx="464.0" cy="556.6" r="3.65"/><circle cx="294.1" cy="546.8" r="3.65"/><circle cx="553.1" cy="528.4" r="3.65"/><circle cx="233.9" cy="534.3" r="3.65"/><circle cx="555.1" cy="562.0" r="3.65"/><circle cx="257.7" cy="544.4" r="3.65"/><circle cx="596.0" cy="473.0" r="3.65"/><circle cx="301.4" cy="553.1" r="3.65"/><circle cx="353.9" cy="549.6" r="3.65"/><circle cx="542.5" cy="530.8" r="3.65"/><circle cx="311.7" cy="547.6" r="3.65"/><circle cx="404.2" cy="492.6" r="3.65"/><circle cx="183.3" cy="529.4" r="3.65"/><circle cx="329.4" cy="519.9" r="3.65"/><circle cx="311.6" cy="563.7" r="3.65"/><circle cx="563.0" cy="532.8" r="3.65"/><circle cx="410.1" cy="348.3" r="3.65"/><circle cx="422.5" cy="479.9" r="3.65"/><circle cx="398.2" cy="517.2" r="3.65"/><circle cx="380.3" cy="515.5" r="3.65"/><circle cx="613.0" cy="537.4" r="3.65"/><circle cx="578.0" cy="562.8" r="3.65"/><circle cx="540.4" cy="565.5" r="3.65"/><circle cx="566.9" cy="521.8" r="3.65"/><circle cx="550.6" cy="519.7" r="3.65"/><circle cx="383.9" cy="563.0" r="3.65"/><circle cx="555.7" cy="528.8" r="3.65"/><circle cx="475.5" cy="560.6" r="3.65"/><circle cx="502.0" cy="477.1" r="3.65"/><circle cx="499.8" cy="528.4" r="3.65"/><circle cx="310.8" cy="469.5" r="3.65"/><circle cx="492.5" cy="533.5" r="3.65"/><circle cx="382.7" cy="517.2" r="3.65"/><circle cx="583.4" cy="518.4" r="3.65"/><circle cx="309.5" cy="514.7" r="3.65"/><circle cx="546.9" cy="559.6" r="3.65"/><circle cx="284.4" cy="536.6" r="3.65"/><circle cx="416.7" cy="503.6" r="3.65"/><circle cx="496.3" cy="565.9" r="3.65"/><circle cx="421.4" cy="539.2" r="3.65"/><circle cx="300.4" cy="466.4" r="3.65"/><circle cx="579.1" cy="556.5" r="3.65"/><circle cx="572.1" cy="416.0" r="3.65"/><circle cx="626.9" cy="532.1" r="3.65"/><circle cx="226.6" cy="567.7" r="3.65"/><circle cx="280.6" cy="562.9" r="3.65"/><circle cx="544.7" cy="565.3" r="3.65"/><circle cx="622.5" cy="527.3" r="3.65"/><circle cx="587.4" cy="521.2" r="3.65"/><circle cx="438.3" cy="567.5" r="3.65"/><circle cx="491.8" cy="552.2" r="3.65"/><circle cx="301.2" cy="532.9" r="3.65"/><circle cx="384.5" cy="554.7" r="3.65"/><circle cx="179.3" cy="559.2" r="3.65"/><circle cx="399.5" cy="559.8" r="3.65"/><circle cx="348.6" cy="510.8" r="3.65"/><circle cx="211.1" cy="560.8" r="3.65"/><circle cx="578.3" cy="560.9" r="3.65"/><circle cx="196.6" cy="549.2" r="3.65"/><circle cx="500.1" cy="561.1" r="3.65"/><circle cx="170.8" cy="561.7" r="3.65"/><circle cx="450.1" cy="462.0" r="3.65"/><circle cx="541.2" cy="554.4" r="3.65"/><circle cx="606.3" cy="567.4" r="3.65"/><circle cx="477.5" cy="539.6" r="3.65"/><circle cx="320.4" cy="563.9" r="3.65"/><circle cx="634.4" cy="527.1" r="3.65"/><circle cx="165.8" cy="518.6" r="3.65"/><circle cx="311.4" cy="532.9" r="3.65"/><circle cx="195.7" cy="557.4" r="3.65"/><circle cx="397.6" cy="472.0" r="3.65"/><circle cx="313.2" cy="560.3" r="3.65"/><circle cx="429.0" cy="545.4" r="3.65"/><circle cx="293.2" cy="536.6" r="3.65"/><circle cx="340.4" cy="565.1" r="3.65"/><circle cx="198.7" cy="505.3" r="3.65"/><circle cx="517.8" cy="538.9" r="3.65"/><circle cx="576.6" cy="525.3" r="3.65"/><circle cx="537.0" cy="548.7" r="3.65"/><circle cx="410.7" cy="479.5" r="3.65"/><circle cx="531.7" cy="501.0" r="3.65"/><circle cx="312.3" cy="558.3" r="3.65"/><circle cx="491.6" cy="489.2" r="3.65"/><circle cx="366.6" cy="471.6" r="3.65"/><circle cx="630.6" cy="548.1" r="3.65"/><circle cx="449.2" cy="559.0" r="3.65"/><circle cx="450.1" cy="537.8" r="3.65"/><circle cx="364.1" cy="493.3" r="3.65"/><circle cx="316.2" cy="518.8" r="3.65"/><circle cx="323.3" cy="525.7" r="3.65"/><circle cx="161.1" cy="535.9" r="3.65"/><circle cx="166.0" cy="521.8" r="3.65"/><circle cx="311.6" cy="517.8" r="3.65"/><circle cx="353.3" cy="493.7" r="3.65"/><circle cx="295.7" cy="567.5" r="3.65"/><circle cx="631.7" cy="524.5" r="3.65"/><circle cx="594.1" cy="508.7" r="3.65"/><circle cx="633.0" cy="554.3" r="3.65"/><circle cx="310.8" cy="567.1" r="3.65"/><circle cx="169.8" cy="504.6" r="3.65"/><circle cx="618.4" cy="546.7" r="3.65"/><circle cx="505.6" cy="530.3" r="3.65"/><circle cx="531.1" cy="561.3" r="3.65"/><circle cx="584.4" cy="492.2" r="3.65"/><circle cx="551.9" cy="566.1" r="3.65"/><circle cx="393.7" cy="547.1" r="3.65"/><circle cx="316.7" cy="472.0" r="3.65"/><circle cx="423.6" cy="563.8" r="3.65"/><circle cx="228.8" cy="533.5" r="3.65"/><circle cx="541.4" cy="518.8" r="3.65"/><circle cx="449.4" cy="543.2" r="3.65"/><circle cx="477.8" cy="535.1" r="3.65"/><circle cx="478.2" cy="555.2" r="3.65"/><circle cx="541.2" cy="549.0" r="3.65"/><circle cx="312.3" cy="518.2" r="3.65"/><circle cx="514.1" cy="567.2" r="3.65"/><circle cx="358.9" cy="567.3" r="3.65"/><circle cx="582.8" cy="526.5" r="3.65"/><circle cx="632.2" cy="503.4" r="3.65"/><circle cx="402.3" cy="495.1" r="3.65"/><circle cx="623.2" cy="564.2" r="3.65"/><circle cx="236.5" cy="535.8" r="3.65"/><circle cx="340.4" cy="480.0" r="3.65"/><circle cx="339.8" cy="557.7" r="3.65"/><circle cx="224.4" cy="530.9" r="3.65"/><circle cx="554.4" cy="555.0" r="3.65"/><circle cx="302.5" cy="515.4" r="3.65"/><circle cx="221.0" cy="447.7" r="3.65"/><circle cx="595.9" cy="536.7" r="3.65"/><circle cx="609.7" cy="545.0" r="3.65"/><circle cx="318.0" cy="523.7" r="3.65"/><circle cx="299.1" cy="528.5" r="3.65"/><circle cx="481.6" cy="543.9" r="3.65"/><circle cx="410.5" cy="551.5" r="3.65"/><circle cx="593.7" cy="560.0" r="3.65"/><circle cx="323.4" cy="545.0" r="3.65"/><circle cx="546.0" cy="533.3" r="3.65"/><circle cx="426.7" cy="535.1" r="3.65"/><circle cx="583.4" cy="557.2" r="3.65"/><circle cx="230.1" cy="557.3" r="3.65"/><circle cx="531.0" cy="567.1" r="3.65"/><circle cx="175.9" cy="547.6" r="3.65"/><circle cx="277.6" cy="559.6" r="3.65"/><circle cx="210.9" cy="566.1" r="3.65"/><circle cx="513.4" cy="554.8" r="3.65"/><circle cx="485.4" cy="541.3" r="3.65"/><circle cx="612.7" cy="552.9" r="3.65"/><circle cx="236.1" cy="554.0" r="3.65"/><circle cx="165.7" cy="554.2" r="3.65"/><circle cx="501.3" cy="494.0" r="3.65"/><circle cx="419.7" cy="505.3" r="3.65"/><circle cx="248.1" cy="564.6" r="3.65"/><circle cx="402.6" cy="528.5" r="3.65"/><circle cx="268.7" cy="529.4" r="3.65"/><circle cx="155.3" cy="548.9" r="3.65"/><circle cx="639.8" cy="534.0" r="3.65"/><circle cx="301.7" cy="546.7" r="3.65"/><circle cx="230.3" cy="547.2" r="3.65"/><circle cx="541.4" cy="491.2" r="3.65"/><circle cx="578.3" cy="505.6" r="3.65"/><circle cx="331.4" cy="507.4" r="3.65"/><circle cx="267.7" cy="532.7" r="3.65"/><circle cx="594.3" cy="508.0" r="3.65"/><circle cx="371.1" cy="519.4" r="3.65"/><circle cx="208.9" cy="540.7" r="3.65"/><circle cx="467.1" cy="523.7" r="3.65"/><circle cx="541.5" cy="509.3" r="3.65"/><circle cx="256.2" cy="532.3" r="3.65"/><circle cx="235.8" cy="567.1" r="3.65"/><circle cx="147.8" cy="520.4" r="3.65"/><circle cx="494.3" cy="548.6" r="3.65"/><circle cx="541.4" cy="500.6" r="3.65"/><circle cx="487.3" cy="537.6" r="3.65"/><circle cx="433.9" cy="559.8" r="3.65"/><circle cx="178.7" cy="494.4" r="3.65"/><circle cx="199.6" cy="552.1" r="3.65"/><circle cx="570.6" cy="498.7" r="3.65"/><circle cx="447.4" cy="440.7" r="3.65"/><circle cx="625.0" cy="531.5" r="3.65"/><circle cx="474.5" cy="559.9" r="3.65"/><circle cx="391.4" cy="566.5" r="3.65"/><circle cx="357.8" cy="535.1" r="3.65"/><circle cx="307.6" cy="528.2" r="3.65"/><circle cx="618.5" cy="529.3" r="3.65"/><circle cx="550.1" cy="565.2" r="3.65"/><circle cx="229.0" cy="323.3" r="3.65"/><circle cx="372.1" cy="538.5" r="3.65"/><circle cx="208.2" cy="550.1" r="3.65"/><circle cx="555.1" cy="526.3" r="3.65"/><circle cx="284.4" cy="562.9" r="3.65"/><circle cx="262.2" cy="554.1" r="3.65"/><circle cx="311.4" cy="525.0" r="3.65"/><circle cx="416.5" cy="567.4" r="3.65"/><circle cx="578.2" cy="554.4" r="3.65"/><circle cx="541.8" cy="538.2" r="3.65"/><circle cx="268.2" cy="524.5" r="3.65"/><circle cx="637.0" cy="547.1" r="3.65"/><circle cx="640.7" cy="425.5" r="3.65"/><circle cx="562.9" cy="567.9" r="3.65"/><circle cx="402.0" cy="558.7" r="3.65"/><circle cx="385.6" cy="533.5" r="3.65"/><circle cx="567.8" cy="565.1" r="3.65"/><circle cx="380.3" cy="525.6" r="3.65"/><circle cx="407.8" cy="553.1" r="3.65"/><circle cx="252.6" cy="548.0" r="3.65"/><circle cx="530.9" cy="555.1" r="3.65"/><circle cx="573.3" cy="502.4" r="3.65"/><circle cx="370.9" cy="554.9" r="3.65"/><circle cx="222.6" cy="530.5" r="3.65"/><circle cx="441.6" cy="567.3" r="3.65"/><circle cx="375.7" cy="550.3" r="3.65"/><circle cx="580.3" cy="565.0" r="3.65"/><circle cx="597.1" cy="512.9" r="3.65"/><circle cx="324.2" cy="517.2" r="3.65"/><circle cx="637.0" cy="553.7" r="3.65"/><circle cx="515.6" cy="526.7" r="3.65"/><circle cx="357.6" cy="474.8" r="3.65"/><circle cx="617.6" cy="554.0" r="3.65"/><circle cx="471.0" cy="565.1" r="3.65"/><circle cx="541.4" cy="564.2" r="3.65"/><circle cx="538.2" cy="541.5" r="3.65"/><circle cx="378.2" cy="472.0" r="3.65"/><circle cx="310.8" cy="541.0" r="3.65"/><circle cx="410.4" cy="544.7" r="3.65"/><circle cx="635.5" cy="549.5" r="3.65"/><circle cx="308.1" cy="488.5" r="3.65"/><circle cx="356.3" cy="525.9" r="3.65"/><circle cx="514.7" cy="540.1" r="3.65"/><circle cx="580.3" cy="525.0" r="3.65"/><circle cx="355.9" cy="547.9" r="3.65"/><circle cx="530.6" cy="538.3" r="3.65"/><circle cx="405.9" cy="513.1" r="3.65"/><circle cx="261.5" cy="549.9" r="3.65"/><circle cx="332.9" cy="540.6" r="3.65"/><circle cx="472.5" cy="566.6" r="3.65"/><circle cx="546.9" cy="547.7" r="3.65"/><circle cx="406.9" cy="554.2" r="3.65"/><circle cx="619.6" cy="514.8" r="3.65"/><circle cx="266.9" cy="567.2" r="3.65"/><circle cx="217.3" cy="525.3" r="3.65"/><circle cx="483.6" cy="527.7" r="3.65"/><circle cx="484.7" cy="516.2" r="3.65"/><circle cx="608.9" cy="517.5" r="3.65"/><circle cx="360.4" cy="510.2" r="3.65"/><circle cx="580.3" cy="545.4" r="3.65"/><circle cx="165.2" cy="493.4" r="3.65"/><circle cx="254.7" cy="567.5" r="3.65"/><circle cx="199.9" cy="536.0" r="3.65"/><circle cx="310.2" cy="519.7" r="3.65"/><circle cx="367.9" cy="530.0" r="3.65"/><circle cx="558.1" cy="531.7" r="3.65"/><circle cx="360.5" cy="564.3" r="3.65"/><circle cx="172.4" cy="529.7" r="3.65"/><circle cx="615.3" cy="534.4" r="3.65"/><circle cx="320.6" cy="482.8" r="3.65"/><circle cx="352.8" cy="503.7" r="3.65"/><circle cx="527.2" cy="563.1" r="3.65"/><circle cx="487.6" cy="545.2" r="3.65"/><circle cx="172.0" cy="509.4" r="3.65"/><circle cx="212.4" cy="520.7" r="3.65"/><circle cx="386.8" cy="530.8" r="3.65"/><circle cx="356.8" cy="526.0" r="3.65"/><circle cx="150.9" cy="561.1" r="3.65"/><circle cx="193.9" cy="512.9" r="3.65"/><circle cx="631.9" cy="545.1" r="3.65"/><circle cx="410.3" cy="468.7" r="3.65"/><circle cx="148.6" cy="525.2" r="3.65"/><circle cx="410.7" cy="566.0" r="3.65"/><circle cx="464.2" cy="533.8" r="3.65"/><circle cx="231.5" cy="532.7" r="3.65"/><circle cx="493.8" cy="534.4" r="3.65"/><circle cx="260.4" cy="566.6" r="3.65"/><circle cx="522.2" cy="541.6" r="3.65"/><circle cx="536.8" cy="530.0" r="3.65"/><circle cx="227.5" cy="507.7" r="3.65"/><circle cx="437.3" cy="549.6" r="3.65"/><circle cx="608.4" cy="549.0" r="3.65"/><circle cx="265.4" cy="554.7" r="3.65"/><circle cx="561.2" cy="559.0" r="3.65"/><circle cx="542.2" cy="558.9" r="3.65"/><circle cx="198.9" cy="518.9" r="3.65"/><circle cx="527.4" cy="555.6" r="3.65"/><circle cx="254.6" cy="535.7" r="3.65"/><circle cx="549.6" cy="516.5" r="3.65"/><circle cx="589.5" cy="507.2" r="3.65"/><circle cx="616.6" cy="517.9" r="3.65"/><circle cx="601.6" cy="455.5" r="3.65"/><circle cx="618.4" cy="514.1" r="3.65"/><circle cx="224.1" cy="507.9" r="3.65"/><circle cx="240.0" cy="529.4" r="3.65"/><circle cx="424.5" cy="538.0" r="3.65"/><circle cx="349.5" cy="537.5" r="3.65"/><circle cx="255.6" cy="479.4" r="3.65"/><circle cx="269.9" cy="563.6" r="3.65"/><circle cx="269.3" cy="563.4" r="3.65"/><circle cx="482.2" cy="556.2" r="3.65"/><circle cx="402.2" cy="566.8" r="3.65"/><circle cx="325.0" cy="558.2" r="3.65"/><circle cx="301.7" cy="543.1" r="3.65"/><circle cx="339.4" cy="497.8" r="3.65"/><circle cx="343.1" cy="477.6" r="3.65"/><circle cx="252.2" cy="565.1" r="3.65"/><circle cx="458.2" cy="544.3" r="3.65"/><circle cx="452.9" cy="460.8" r="3.65"/><circle cx="410.1" cy="567.5" r="3.65"/><circle cx="572.5" cy="476.5" r="3.65"/><circle cx="176.9" cy="547.8" r="3.65"/><circle cx="617.0" cy="541.9" r="3.65"/><circle cx="309.8" cy="563.5" r="3.65"/><circle cx="488.6" cy="529.4" r="3.65"/><circle cx="205.2" cy="558.4" r="3.65"/><circle cx="615.8" cy="543.8" r="3.65"/><circle cx="172.7" cy="538.5" r="3.65"/><circle cx="585.8" cy="532.9" r="3.65"/><circle cx="329.3" cy="529.5" r="3.65"/><circle cx="512.4" cy="562.2" r="3.65"/><circle cx="246.1" cy="405.0" r="3.65"/><circle cx="559.2" cy="535.7" r="3.65"/><circle cx="484.9" cy="491.7" r="3.65"/><circle cx="263.0" cy="489.9" r="3.65"/><circle cx="205.3" cy="550.6" r="3.65"/><circle cx="559.9" cy="473.4" r="3.65"/><circle cx="363.1" cy="482.5" r="3.65"/><circle cx="169.9" cy="545.2" r="3.65"/><circle cx="640.2" cy="433.2" r="3.65"/><circle cx="431.6" cy="555.4" r="3.65"/><circle cx="364.7" cy="567.2" r="3.65"/><circle cx="369.7" cy="521.3" r="3.65"/><circle cx="436.2" cy="558.2" r="3.65"/><circle cx="429.9" cy="540.3" r="3.65"/><circle cx="461.1" cy="555.2" r="3.65"/><circle cx="539.4" cy="518.5" r="3.65"/><circle cx="153.7" cy="483.2" r="3.65"/><circle cx="417.4" cy="562.8" r="3.65"/><circle cx="374.3" cy="554.7" r="3.65"/><circle cx="180.6" cy="525.0" r="3.65"/><circle cx="175.5" cy="529.6" r="3.65"/><circle cx="210.8" cy="484.1" r="3.65"/><circle cx="255.5" cy="523.1" r="3.65"/><circle cx="493.8" cy="563.6" r="3.65"/><circle cx="415.9" cy="530.2" r="3.65"/><circle cx="488.4" cy="497.4" r="3.65"/><circle cx="242.4" cy="567.2" r="3.65"/><circle cx="293.2" cy="500.5" r="3.65"/><circle cx="409.2" cy="543.4" r="3.65"/><circle cx="182.7" cy="504.7" r="3.65"/><circle cx="471.8" cy="538.4" r="3.65"/><circle cx="563.2" cy="566.5" r="3.65"/><circle cx="215.3" cy="567.3" r="3.65"/><circle cx="440.7" cy="521.9" r="3.65"/><circle cx="276.0" cy="518.5" r="3.65"/><circle cx="567.9" cy="549.2" r="3.65"/><circle cx="634.1" cy="557.6" r="3.65"/><circle cx="519.5" cy="406.2" r="3.65"/><circle cx="354.7" cy="518.7" r="3.65"/><circle cx="283.0" cy="566.1" r="3.65"/><circle cx="615.6" cy="559.8" r="3.65"/><circle cx="337.2" cy="538.4" r="3.65"/><circle cx="617.5" cy="559.1" r="3.65"/><circle cx="539.8" cy="546.7" r="3.65"/><circle cx="534.0" cy="565.8" r="3.65"/><circle cx="284.9" cy="555.8" r="3.65"/><circle cx="301.5" cy="519.6" r="3.65"/><circle cx="454.7" cy="542.4" r="3.65"/><circle cx="294.5" cy="530.1" r="3.65"/><circle cx="287.5" cy="538.4" r="3.65"/><circle cx="541.0" cy="551.6" r="3.65"/><circle cx="596.8" cy="552.3" r="3.65"/><circle cx="379.1" cy="565.8" r="3.65"/><circle cx="266.6" cy="555.2" r="3.65"/><circle cx="312.7" cy="550.3" r="3.65"/><circle cx="527.2" cy="547.9" r="3.65"/><circle cx="491.4" cy="503.7" r="3.65"/><circle cx="552.1" cy="543.9" r="3.65"/><circle cx="531.5" cy="467.8" r="3.65"/><circle cx="322.1" cy="560.5" r="3.65"/><circle cx="366.2" cy="560.9" r="3.65"/><circle cx="243.7" cy="564.8" r="3.65"/><circle cx="594.9" cy="552.4" r="3.65"/><circle cx="155.2" cy="532.4" r="3.65"/><circle cx="406.1" cy="416.1" r="3.65"/><circle cx="473.7" cy="547.3" r="3.65"/><circle cx="503.3" cy="563.5" r="3.65"/><circle cx="370.8" cy="531.9" r="3.65"/><circle cx="464.5" cy="540.3" r="3.65"/><circle cx="311.7" cy="564.3" r="3.65"/><circle cx="492.5" cy="477.0" r="3.65"/><circle cx="583.2" cy="566.1" r="3.65"/><circle cx="560.7" cy="505.8" r="3.65"/><circle cx="424.8" cy="558.6" r="3.65"/><circle cx="153.8" cy="526.8" r="3.65"/><circle cx="409.9" cy="566.4" r="3.65"/><circle cx="258.5" cy="447.3" r="3.65"/><circle cx="336.9" cy="527.7" r="3.65"/><circle cx="317.5" cy="553.6" r="3.65"/><circle cx="530.3" cy="537.2" r="3.65"/><circle cx="448.7" cy="564.9" r="3.65"/><circle cx="524.3" cy="552.8" r="3.65"/><circle cx="555.5" cy="507.5" r="3.65"/><circle cx="524.6" cy="465.4" r="3.65"/><circle cx="222.4" cy="554.7" r="3.65"/><circle cx="278.1" cy="543.0" r="3.65"/><circle cx="436.3" cy="564.1" r="3.65"/><circle cx="562.8" cy="551.0" r="3.65"/><circle cx="607.2" cy="546.5" r="3.65"/><circle cx="289.8" cy="527.9" r="3.65"/><circle cx="189.6" cy="547.5" r="3.65"/><circle cx="561.7" cy="508.7" r="3.65"/><circle cx="259.2" cy="533.2" r="3.65"/><circle cx="308.8" cy="528.9" r="3.65"/><circle cx="383.2" cy="553.5" r="3.65"/><circle cx="553.7" cy="530.5" r="3.65"/><circle cx="286.0" cy="561.5" r="3.65"/><circle cx="588.9" cy="555.5" r="3.65"/><circle cx="383.3" cy="533.8" r="3.65"/><circle cx="553.8" cy="536.4" r="3.65"/><circle cx="437.2" cy="551.9" r="3.65"/><circle cx="170.4" cy="555.5" r="3.65"/><circle cx="416.8" cy="541.2" r="3.65"/><circle cx="363.4" cy="564.8" r="3.65"/><circle cx="304.6" cy="544.0" r="3.65"/><circle cx="235.3" cy="542.2" r="3.65"/><circle cx="562.8" cy="548.4" r="3.65"/><circle cx="224.7" cy="545.5" r="3.65"/><circle cx="588.7" cy="546.6" r="3.65"/><circle cx="311.6" cy="528.2" r="3.65"/><circle cx="177.1" cy="562.6" r="3.65"/><circle cx="459.3" cy="527.0" r="3.65"/><circle cx="212.7" cy="557.4" r="3.65"/><circle cx="311.3" cy="535.0" r="3.65"/><circle cx="600.7" cy="542.1" r="3.65"/><circle cx="396.8" cy="549.9" r="3.65"/><circle cx="506.8" cy="514.5" r="3.65"/><circle cx="311.6" cy="492.5" r="3.65"/><circle cx="161.6" cy="536.4" r="3.65"/><circle cx="230.8" cy="419.6" r="3.65"/><circle cx="158.2" cy="563.8" r="3.65"/><circle cx="546.8" cy="546.8" r="3.65"/><circle cx="462.0" cy="562.0" r="3.65"/><circle cx="422.9" cy="478.6" r="3.65"/><circle cx="618.9" cy="522.8" r="3.65"/><circle cx="394.9" cy="520.5" r="3.65"/><circle cx="223.1" cy="506.5" r="3.65"/><circle cx="634.4" cy="537.8" r="3.65"/><circle cx="445.7" cy="562.4" r="3.65"/><circle cx="204.1" cy="483.5" r="3.65"/><circle cx="300.6" cy="496.9" r="3.65"/><circle cx="238.3" cy="564.3" r="3.65"/><circle cx="257.5" cy="557.7" r="3.65"/><circle cx="378.2" cy="564.8" r="3.65"/><circle cx="312.0" cy="521.6" r="3.65"/><circle cx="372.1" cy="516.6" r="3.65"/><circle cx="314.6" cy="512.9" r="3.65"/><circle cx="252.2" cy="565.7" r="3.65"/><circle cx="272.3" cy="535.1" r="3.65"/><circle cx="211.1" cy="545.0" r="3.65"/><circle cx="359.4" cy="554.3" r="3.65"/><circle cx="167.1" cy="545.0" r="3.65"/><circle cx="570.5" cy="562.4" r="3.65"/><circle cx="475.3" cy="559.5" r="3.65"/><circle cx="360.7" cy="507.4" r="3.65"/><circle cx="310.6" cy="535.4" r="3.65"/><circle cx="476.3" cy="541.9" r="3.65"/><circle cx="547.7" cy="554.4" r="3.65"/><circle cx="518.4" cy="562.8" r="3.65"/><circle cx="363.2" cy="526.2" r="3.65"/><circle cx="527.0" cy="549.8" r="3.65"/><circle cx="333.0" cy="487.2" r="3.65"/><circle cx="429.3" cy="565.2" r="3.65"/><circle cx="322.3" cy="560.5" r="3.65"/><circle cx="265.8" cy="555.7" r="3.65"/><circle cx="205.9" cy="554.9" r="3.65"/><circle cx="215.3" cy="565.8" r="3.65"/><circle cx="513.8" cy="465.6" r="3.65"/><circle cx="406.4" cy="515.5" r="3.65"/><circle cx="321.7" cy="548.2" r="3.65"/><circle cx="329.2" cy="565.9" r="3.65"/><circle cx="245.2" cy="537.3" r="3.65"/><circle cx="349.8" cy="542.7" r="3.65"/><circle cx="568.0" cy="553.3" r="3.65"/><circle cx="533.5" cy="562.5" r="3.65"/><circle cx="489.9" cy="525.4" r="3.65"/><circle cx="536.0" cy="534.0" r="3.65"/><circle cx="441.8" cy="524.8" r="3.65"/><circle cx="319.7" cy="539.6" r="3.65"/><circle cx="189.5" cy="531.6" r="3.65"/><circle cx="561.5" cy="512.0" r="3.65"/><circle cx="226.1" cy="536.3" r="3.65"/><circle cx="613.6" cy="566.7" r="3.65"/><circle cx="188.0" cy="434.7" r="3.65"/><circle cx="555.7" cy="557.3" r="3.65"/><circle cx="503.0" cy="521.4" r="3.65"/><circle cx="546.6" cy="564.4" r="3.65"/><circle cx="540.7" cy="537.7" r="3.65"/><circle cx="632.9" cy="523.3" r="3.65"/><circle cx="205.8" cy="566.0" r="3.65"/><circle cx="186.9" cy="545.3" r="3.65"/><circle cx="443.8" cy="396.2" r="3.65"/><circle cx="592.8" cy="513.1" r="3.65"/><circle cx="555.9" cy="541.6" r="3.65"/><circle cx="246.1" cy="514.5" r="3.65"/><circle cx="275.0" cy="531.8" r="3.65"/><circle cx="374.7" cy="552.5" r="3.65"/><circle cx="354.7" cy="440.2" r="3.65"/><circle cx="426.9" cy="561.5" r="3.65"/><circle cx="475.9" cy="557.9" r="3.65"/><circle cx="244.3" cy="548.6" r="3.65"/><circle cx="496.8" cy="564.5" r="3.65"/><circle cx="492.8" cy="481.5" r="3.65"/><circle cx="521.0" cy="480.3" r="3.65"/><circle cx="619.4" cy="553.6" r="3.65"/><circle cx="632.6" cy="504.0" r="3.65"/><circle cx="241.0" cy="566.8" r="3.65"/><circle cx="528.6" cy="558.5" r="3.65"/><circle cx="626.2" cy="567.1" r="3.65"/><circle cx="357.1" cy="566.5" r="3.65"/><circle cx="310.8" cy="550.6" r="3.65"/><circle cx="552.9" cy="514.0" r="3.65"/><circle cx="448.5" cy="552.6" r="3.65"/><circle cx="267.6" cy="555.8" r="3.65"/><circle cx="386.6" cy="545.3" r="3.65"/><circle cx="580.1" cy="464.9" r="3.65"/><circle cx="488.4" cy="540.5" r="3.65"/><circle cx="407.8" cy="493.0" r="3.65"/><circle cx="598.0" cy="548.1" r="3.65"/><circle cx="417.7" cy="494.3" r="3.65"/><circle cx="234.9" cy="516.1" r="3.65"/><circle cx="308.0" cy="543.4" r="3.65"/><circle cx="573.6" cy="526.4" r="3.65"/><circle cx="281.3" cy="563.8" r="3.65"/><circle cx="558.3" cy="565.6" r="3.65"/><circle cx="476.6" cy="496.6" r="3.65"/><circle cx="352.4" cy="553.8" r="3.65"/><circle cx="637.6" cy="559.4" r="3.65"/><circle cx="343.3" cy="561.0" r="3.65"/><circle cx="522.0" cy="567.2" r="3.65"/><circle cx="294.7" cy="503.1" r="3.65"/><circle cx="534.6" cy="564.2" r="3.65"/><circle cx="201.1" cy="518.5" r="3.65"/><circle cx="329.0" cy="562.4" r="3.65"/><circle cx="541.2" cy="487.2" r="3.65"/><circle cx="422.2" cy="559.0" r="3.65"/><circle cx="387.1" cy="517.6" r="3.65"/><circle cx="322.8" cy="531.4" r="3.65"/><circle cx="581.8" cy="558.3" r="3.65"/><circle cx="549.9" cy="566.9" r="3.65"/><circle cx="307.1" cy="546.5" r="3.65"/><circle cx="211.8" cy="565.8" r="3.65"/><circle cx="532.3" cy="476.2" r="3.65"/><circle cx="210.0" cy="525.3" r="3.65"/><circle cx="290.5" cy="557.0" r="3.65"/><circle cx="388.2" cy="518.6" r="3.65"/><circle cx="536.7" cy="484.5" r="3.65"/><circle cx="175.4" cy="552.0" r="3.65"/><circle cx="382.8" cy="488.5" r="3.65"/><circle cx="637.2" cy="566.4" r="3.65"/><circle cx="238.4" cy="561.3" r="3.65"/><circle cx="344.7" cy="554.9" r="3.65"/><circle cx="531.0" cy="555.1" r="3.65"/><circle cx="474.9" cy="531.7" r="3.65"/><circle cx="541.9" cy="551.9" r="3.65"/><circle cx="527.4" cy="533.4" r="3.65"/><circle cx="312.0" cy="538.6" r="3.65"/><circle cx="385.8" cy="487.2" r="3.65"/><circle cx="499.2" cy="565.1" r="3.65"/><circle cx="418.0" cy="492.0" r="3.65"/><circle cx="269.9" cy="535.3" r="3.65"/><circle cx="183.8" cy="555.2" r="3.65"/><circle cx="159.6" cy="509.0" r="3.65"/><circle cx="345.4" cy="525.4" r="3.65"/><circle cx="597.5" cy="561.7" r="3.65"/><circle cx="549.1" cy="520.3" r="3.65"/><circle cx="199.9" cy="557.8" r="3.65"/><circle cx="310.5" cy="566.3" r="3.65"/><circle cx="162.9" cy="515.6" r="3.65"/><circle cx="431.9" cy="541.4" r="3.65"/><circle cx="177.7" cy="565.0" r="3.65"/><circle cx="288.7" cy="566.7" r="3.65"/><circle cx="263.9" cy="498.3" r="3.65"/><circle cx="232.1" cy="560.8" r="3.65"/><circle cx="541.7" cy="508.0" r="3.65"/><circle cx="418.3" cy="550.6" r="3.65"/><circle cx="562.0" cy="556.8" r="3.65"/><circle cx="512.2" cy="562.0" r="3.65"/><circle cx="614.8" cy="566.7" r="3.65"/><circle cx="597.9" cy="542.4" r="3.65"/><circle cx="181.0" cy="489.2" r="3.65"/><circle cx="633.9" cy="522.3" r="3.65"/><circle cx="229.3" cy="567.9" r="3.65"/><circle cx="322.2" cy="491.9" r="3.65"/><circle cx="370.8" cy="545.3" r="3.65"/><circle cx="583.0" cy="564.9" r="3.65"/><circle cx="196.8" cy="437.2" r="3.65"/><circle cx="439.2" cy="524.7" r="3.65"/><circle cx="262.2" cy="567.4" r="3.65"/><circle cx="268.8" cy="526.1" r="3.65"/><circle cx="340.4" cy="544.3" r="3.65"/><circle cx="187.0" cy="529.9" r="3.65"/><circle cx="283.7" cy="564.7" r="3.65"/><circle cx="412.9" cy="498.0" r="3.65"/><circle cx="445.3" cy="538.8" r="3.65"/><circle cx="148.0" cy="535.6" r="3.65"/><circle cx="459.6" cy="541.6" r="3.65"/><circle cx="505.8" cy="517.4" r="3.65"/><circle cx="456.2" cy="525.6" r="3.65"/><circle cx="525.6" cy="514.0" r="3.65"/><circle cx="341.8" cy="555.2" r="3.65"/><circle cx="233.2" cy="497.0" r="3.65"/><circle cx="271.3" cy="560.9" r="3.65"/><circle cx="493.4" cy="554.4" r="3.65"/><circle cx="334.5" cy="491.5" r="3.65"/><circle cx="604.9" cy="549.4" r="3.65"/><circle cx="622.9" cy="539.4" r="3.65"/><circle cx="489.1" cy="538.6" r="3.65"/><circle cx="480.5" cy="519.6" r="3.65"/><circle cx="182.3" cy="488.7" r="3.65"/><circle cx="501.4" cy="489.2" r="3.65"/><circle cx="612.0" cy="539.2" r="3.65"/><circle cx="176.7" cy="561.1" r="3.65"/><circle cx="308.5" cy="521.1" r="3.65"/><circle cx="255.6" cy="550.8" r="3.65"/><circle cx="412.6" cy="539.3" r="3.65"/><circle cx="545.9" cy="544.5" r="3.65"/><circle cx="227.2" cy="550.1" r="3.65"/><circle cx="400.2" cy="522.1" r="3.65"/><circle cx="579.2" cy="560.2" r="3.65"/><circle cx="166.0" cy="566.3" r="3.65"/><circle cx="392.9" cy="484.9" r="3.65"/><circle cx="541.7" cy="548.9" r="3.65"/><circle cx="385.0" cy="563.7" r="3.65"/><circle cx="634.3" cy="477.3" r="3.65"/><circle cx="417.7" cy="520.8" r="3.65"/><circle cx="621.6" cy="565.8" r="3.65"/><circle cx="167.0" cy="521.4" r="3.65"/><circle cx="325.6" cy="551.5" r="3.65"/><circle cx="395.3" cy="519.8" r="3.65"/><circle cx="448.7" cy="470.5" r="3.65"/><circle cx="161.1" cy="539.2" r="3.65"/><circle cx="417.6" cy="558.0" r="3.65"/><circle cx="246.5" cy="557.9" r="3.65"/><circle cx="420.1" cy="521.5" r="3.65"/><circle cx="340.3" cy="490.8" r="3.65"/><circle cx="538.5" cy="520.9" r="3.65"/><circle cx="552.5" cy="567.1" r="3.65"/><circle cx="315.8" cy="545.6" r="3.65"/><circle cx="540.8" cy="564.5" r="3.65"/><circle cx="309.1" cy="550.9" r="3.65"/><circle cx="358.4" cy="553.8" r="3.65"/><circle cx="311.7" cy="525.7" r="3.65"/><circle cx="227.7" cy="567.9" r="3.65"/><circle cx="359.1" cy="550.6" r="3.65"/><circle cx="385.8" cy="524.8" r="3.65"/><circle cx="579.0" cy="545.2" r="3.65"/><circle cx="245.5" cy="563.9" r="3.65"/><circle cx="613.1" cy="548.2" r="3.65"/><circle cx="501.5" cy="482.1" r="3.65"/><circle cx="311.3" cy="494.8" r="3.65"/><circle cx="610.3" cy="541.9" r="3.65"/><circle cx="479.3" cy="551.0" r="3.65"/><circle cx="271.7" cy="471.1" r="3.65"/><circle cx="531.0" cy="534.1" r="3.65"/><circle cx="542.6" cy="567.5" r="3.65"/><circle cx="246.0" cy="513.4" r="3.65"/><circle cx="449.1" cy="564.2" r="3.65"/><circle cx="210.5" cy="544.9" r="3.65"/><circle cx="295.0" cy="565.1" r="3.65"/><circle cx="295.5" cy="437.2" r="3.65"/><circle cx="632.5" cy="566.9" r="3.65"/><circle cx="157.1" cy="552.2" r="3.65"/><circle cx="463.0" cy="559.6" r="3.65"/><circle cx="406.4" cy="526.5" r="3.65"/><circle cx="539.1" cy="567.5" r="3.65"/><circle cx="455.8" cy="554.5" r="3.65"/><circle cx="384.3" cy="540.4" r="3.65"/><circle cx="512.9" cy="565.5" r="3.65"/><circle cx="312.6" cy="488.3" r="3.65"/><circle cx="468.2" cy="560.9" r="3.65"/><circle cx="252.0" cy="546.5" r="3.65"/><circle cx="423.7" cy="528.8" r="3.65"/><circle cx="274.3" cy="525.6" r="3.65"/><circle cx="365.2" cy="516.0" r="3.65"/><circle cx="319.0" cy="429.9" r="3.65"/><circle cx="564.2" cy="442.2" r="3.65"/><circle cx="311.9" cy="534.3" r="3.65"/><circle cx="531.7" cy="527.9" r="3.65"/><circle cx="562.3" cy="490.3" r="3.65"/><circle cx="465.9" cy="547.3" r="3.65"/><circle cx="204.3" cy="499.3" r="3.65"/><circle cx="454.2" cy="564.4" r="3.65"/><circle cx="449.8" cy="460.9" r="3.65"/><circle cx="172.1" cy="480.7" r="3.65"/><circle cx="370.1" cy="567.0" r="3.65"/><circle cx="593.3" cy="551.1" r="3.65"/><circle cx="640.4" cy="538.8" r="3.65"/><circle cx="275.6" cy="546.0" r="3.65"/><circle cx="179.8" cy="566.6" r="3.65"/><circle cx="563.4" cy="534.6" r="3.65"/><circle cx="555.5" cy="559.3" r="3.65"/><circle cx="220.5" cy="562.9" r="3.65"/><circle cx="300.1" cy="521.9" r="3.65"/><circle cx="152.8" cy="546.0" r="3.65"/><circle cx="311.5" cy="543.3" r="3.65"/><circle cx="182.6" cy="558.3" r="3.65"/><circle cx="407.4" cy="553.2" r="3.65"/><circle cx="176.5" cy="553.7" r="3.65"/><circle cx="276.9" cy="565.6" r="3.65"/><circle cx="147.4" cy="516.1" r="3.65"/><circle cx="611.5" cy="551.8" r="3.65"/><circle cx="316.6" cy="550.2" r="3.65"/><circle cx="612.4" cy="562.1" r="3.65"/><circle cx="609.2" cy="559.8" r="3.65"/><circle cx="246.7" cy="567.1" r="3.65"/><circle cx="337.5" cy="559.6" r="3.65"/><circle cx="453.4" cy="537.1" r="3.65"/><circle cx="216.3" cy="467.3" r="3.65"/><circle cx="230.0" cy="506.7" r="3.65"/><circle cx="523.3" cy="527.9" r="3.65"/><circle cx="417.1" cy="551.7" r="3.65"/><circle cx="493.9" cy="502.5" r="3.65"/><circle cx="426.6" cy="520.4" r="3.65"/><circle cx="231.1" cy="528.7" r="3.65"/><circle cx="531.8" cy="481.5" r="3.65"/><circle cx="423.4" cy="548.2" r="3.65"/><circle cx="256.0" cy="551.7" r="3.65"/><circle cx="388.3" cy="523.1" r="3.65"/><circle cx="311.9" cy="523.1" r="3.65"/><circle cx="365.3" cy="540.4" r="3.65"/><circle cx="335.1" cy="473.9" r="3.65"/><circle cx="597.5" cy="555.4" r="3.65"/><circle cx="224.0" cy="550.8" r="3.65"/><circle cx="371.8" cy="555.9" r="3.65"/><circle cx="186.3" cy="561.6" r="3.65"/><circle cx="328.5" cy="484.5" r="3.65"/><circle cx="205.9" cy="521.8" r="3.65"/><circle cx="189.9" cy="556.6" r="3.65"/><circle cx="301.5" cy="537.4" r="3.65"/><circle cx="313.8" cy="536.0" r="3.65"/><circle cx="426.4" cy="547.9" r="3.65"/><circle cx="344.1" cy="514.4" r="3.65"/><circle cx="352.5" cy="558.8" r="3.65"/><circle cx="596.0" cy="566.7" r="3.65"/><circle cx="300.5" cy="557.6" r="3.65"/><circle cx="386.6" cy="481.0" r="3.65"/><circle cx="485.3" cy="530.5" r="3.65"/><circle cx="225.5" cy="516.7" r="3.65"/><circle cx="148.7" cy="526.5" r="3.65"/><circle cx="294.5" cy="473.3" r="3.65"/><circle cx="540.8" cy="528.0" r="3.65"/><circle cx="440.2" cy="553.1" r="3.65"/><circle cx="273.8" cy="554.6" r="3.65"/><circle cx="241.4" cy="491.8" r="3.65"/><circle cx="531.3" cy="537.1" r="3.65"/><circle cx="313.9" cy="535.4" r="3.65"/><circle cx="219.9" cy="536.0" r="3.65"/><circle cx="372.3" cy="556.8" r="3.65"/><circle cx="476.6" cy="540.1" r="3.65"/><circle cx="579.1" cy="534.8" r="3.65"/><circle cx="236.6" cy="561.7" r="3.65"/><circle cx="257.8" cy="506.1" r="3.65"/><circle cx="194.9" cy="511.1" r="3.65"/><circle cx="416.1" cy="549.1" r="3.65"/><circle cx="299.2" cy="523.7" r="3.65"/><circle cx="460.0" cy="487.4" r="3.65"/><circle cx="432.0" cy="483.5" r="3.65"/><circle cx="616.4" cy="544.7" r="3.65"/><circle cx="536.5" cy="527.0" r="3.65"/><circle cx="232.7" cy="560.4" r="3.65"/><circle cx="510.4" cy="532.3" r="3.65"/><circle cx="458.6" cy="548.4" r="3.65"/><circle cx="618.7" cy="565.6" r="3.65"/><circle cx="207.3" cy="555.0" r="3.65"/><circle cx="534.1" cy="372.8" r="3.65"/><circle cx="589.4" cy="525.2" r="3.65"/><circle cx="348.9" cy="566.9" r="3.65"/><circle cx="321.1" cy="521.7" r="3.65"/><circle cx="272.4" cy="523.0" r="3.65"/><circle cx="541.0" cy="559.0" r="3.65"/><circle cx="417.6" cy="550.5" r="3.65"/><circle cx="551.8" cy="556.2" r="3.65"/><circle cx="422.7" cy="548.7" r="3.65"/><circle cx="382.9" cy="530.8" r="3.65"/><circle cx="311.0" cy="539.5" r="3.65"/><circle cx="175.8" cy="566.5" r="3.65"/><circle cx="451.4" cy="531.5" r="3.65"/><circle cx="426.2" cy="423.1" r="3.65"/><circle cx="310.3" cy="482.7" r="3.65"/><circle cx="376.8" cy="531.8" r="3.65"/><circle cx="277.9" cy="561.4" r="3.65"/><circle cx="596.5" cy="566.3" r="3.65"/><circle cx="426.3" cy="519.9" r="3.65"/><circle cx="363.8" cy="553.4" r="3.65"/><circle cx="320.4" cy="566.7" r="3.65"/><circle cx="223.3" cy="558.6" r="3.65"/><circle cx="284.4" cy="551.2" r="3.65"/><circle cx="372.8" cy="545.9" r="3.65"/><circle cx="310.5" cy="562.6" r="3.65"/><circle cx="210.8" cy="517.9" r="3.65"/><circle cx="227.1" cy="514.3" r="3.65"/><circle cx="375.0" cy="542.0" r="3.65"/><circle cx="364.2" cy="496.8" r="3.65"/><circle cx="286.1" cy="561.4" r="3.65"/><circle cx="450.0" cy="529.4" r="3.65"/><circle cx="161.9" cy="558.7" r="3.65"/><circle cx="493.8" cy="565.4" r="3.65"/><circle cx="329.0" cy="551.1" r="3.65"/><circle cx="191.4" cy="530.2" r="3.65"/><circle cx="214.1" cy="544.4" r="3.65"/><circle cx="217.3" cy="511.4" r="3.65"/><circle cx="198.5" cy="566.0" r="3.65"/><circle cx="273.7" cy="558.3" r="3.65"/><circle cx="640.3" cy="564.9" r="3.65"/><circle cx="612.3" cy="568.0" r="3.65"/><circle cx="402.8" cy="540.3" r="3.65"/><circle cx="147.3" cy="483.6" r="3.65"/><circle cx="471.8" cy="338.3" r="3.65"/><circle cx="535.6" cy="520.7" r="3.65"/><circle cx="311.6" cy="490.7" r="3.65"/><circle cx="484.9" cy="548.0" r="3.65"/><circle cx="410.9" cy="551.8" r="3.65"/><circle cx="423.3" cy="562.7" r="3.65"/><circle cx="612.7" cy="525.0" r="3.65"/><circle cx="472.4" cy="565.3" r="3.65"/><circle cx="556.6" cy="546.0" r="3.65"/><circle cx="261.4" cy="527.3" r="3.65"/><circle cx="300.1" cy="524.4" r="3.65"/><circle cx="250.1" cy="456.7" r="3.65"/><circle cx="578.1" cy="550.4" r="3.65"/><circle cx="506.4" cy="535.4" r="3.65"/><circle cx="174.4" cy="565.6" r="3.65"/><circle cx="310.6" cy="538.1" r="3.65"/><circle cx="440.0" cy="537.6" r="3.65"/><circle cx="342.0" cy="483.5" r="3.65"/><circle cx="483.9" cy="557.1" r="3.65"/><circle cx="618.7" cy="523.7" r="3.65"/><circle cx="303.5" cy="535.5" r="3.65"/><circle cx="373.0" cy="539.0" r="3.65"/><circle cx="459.7" cy="536.2" r="3.65"/><circle cx="450.6" cy="541.7" r="3.65"/><circle cx="298.7" cy="564.8" r="3.65"/><circle cx="514.3" cy="426.2" r="3.65"/><circle cx="451.5" cy="486.8" r="3.65"/><circle cx="581.3" cy="484.6" r="3.65"/><circle cx="299.6" cy="535.5" r="3.65"/><circle cx="477.2" cy="556.1" r="3.65"/><circle cx="206.1" cy="554.2" r="3.65"/><circle cx="316.8" cy="530.5" r="3.65"/><circle cx="322.6" cy="518.9" r="3.65"/><circle cx="343.0" cy="544.9" r="3.65"/><circle cx="224.7" cy="565.0" r="3.65"/><circle cx="274.5" cy="516.2" r="3.65"/><circle cx="449.0" cy="562.8" r="3.65"/><circle cx="535.8" cy="548.6" r="3.65"/><circle cx="359.7" cy="548.3" r="3.65"/><circle cx="315.7" cy="521.8" r="3.65"/><circle cx="277.1" cy="514.8" r="3.65"/><circle cx="512.0" cy="567.3" r="3.65"/><circle cx="229.5" cy="561.5" r="3.65"/><circle cx="319.2" cy="561.2" r="3.65"/><circle cx="210.1" cy="553.5" r="3.65"/><circle cx="283.6" cy="559.3" r="3.65"/><circle cx="366.0" cy="533.2" r="3.65"/><circle cx="540.7" cy="565.1" r="3.65"/><circle cx="152.7" cy="539.8" r="3.65"/><circle cx="311.6" cy="536.4" r="3.65"/><circle cx="357.3" cy="562.7" r="3.65"/><circle cx="572.0" cy="534.4" r="3.65"/><circle cx="285.6" cy="561.1" r="3.65"/><circle cx="561.3" cy="558.3" r="3.65"/><circle cx="465.1" cy="563.0" r="3.65"/><circle cx="382.5" cy="474.4" r="3.65"/><circle cx="488.0" cy="566.8" r="3.65"/><circle cx="308.9" cy="382.3" r="3.65"/><circle cx="356.5" cy="496.7" r="3.65"/><circle cx="208.8" cy="554.1" r="3.65"/><circle cx="449.8" cy="567.0" r="3.65"/><circle cx="562.5" cy="532.3" r="3.65"/><circle cx="310.4" cy="557.7" r="3.65"/><circle cx="520.8" cy="524.4" r="3.65"/><circle cx="620.1" cy="507.0" r="3.65"/><circle cx="512.8" cy="515.3" r="3.65"/><circle cx="376.2" cy="482.0" r="3.65"/><circle cx="207.3" cy="566.9" r="3.65"/><circle cx="359.9" cy="554.1" r="3.65"/><circle cx="309.2" cy="466.4" r="3.65"/><circle cx="405.4" cy="514.9" r="3.65"/><circle cx="385.6" cy="549.5" r="3.65"/><circle cx="409.8" cy="523.9" r="3.65"/><circle cx="182.5" cy="524.2" r="3.65"/><circle cx="319.2" cy="512.0" r="3.65"/><circle cx="343.9" cy="494.6" r="3.65"/><circle cx="493.0" cy="540.9" r="3.65"/><circle cx="496.6" cy="486.9" r="3.65"/><circle cx="362.3" cy="507.4" r="3.65"/><circle cx="336.9" cy="474.4" r="3.65"/><circle cx="233.9" cy="529.8" r="3.65"/><circle cx="421.2" cy="532.1" r="3.65"/><circle cx="295.5" cy="531.9" r="3.65"/><circle cx="614.5" cy="525.1" r="3.65"/><circle cx="500.4" cy="565.7" r="3.65"/><circle cx="266.7" cy="540.1" r="3.65"/><circle cx="167.1" cy="562.4" r="3.65"/><circle cx="611.1" cy="519.8" r="3.65"/><circle cx="265.1" cy="562.1" r="3.65"/><circle cx="415.6" cy="438.5" r="3.65"/><circle cx="468.8" cy="544.5" r="3.65"/><circle cx="291.7" cy="531.4" r="3.65"/><circle cx="599.2" cy="516.3" r="3.65"/><circle cx="189.1" cy="514.5" r="3.65"/><circle cx="267.2" cy="537.4" r="3.65"/><circle cx="192.3" cy="563.9" r="3.65"/><circle cx="334.7" cy="564.8" r="3.65"/><circle cx="378.1" cy="523.1" r="3.65"/><circle cx="178.9" cy="499.5" r="3.65"/><circle cx="308.2" cy="506.2" r="3.65"/><circle cx="259.0" cy="436.0" r="3.65"/><circle cx="438.3" cy="530.0" r="3.65"/><circle cx="411.2" cy="551.4" r="3.65"/><circle cx="626.9" cy="566.2" r="3.65"/><circle cx="540.2" cy="557.8" r="3.65"/><circle cx="452.5" cy="558.2" r="3.65"/><circle cx="321.5" cy="512.7" r="3.65"/><circle cx="328.4" cy="552.2" r="3.65"/><circle cx="309.9" cy="568.0" r="3.65"/><circle cx="410.1" cy="543.8" r="3.65"/><circle cx="552.9" cy="462.3" r="3.65"/><circle cx="248.8" cy="495.2" r="3.65"/><circle cx="621.8" cy="550.0" r="3.65"/><circle cx="493.5" cy="563.7" r="3.65"/><circle cx="155.9" cy="518.0" r="3.65"/><circle cx="419.3" cy="551.9" r="3.65"/><circle cx="147.8" cy="527.3" r="3.65"/><circle cx="608.1" cy="502.3" r="3.65"/><circle cx="519.5" cy="449.9" r="3.65"/><circle cx="531.1" cy="554.8" r="3.65"/><circle cx="310.7" cy="556.9" r="3.65"/><circle cx="397.9" cy="565.2" r="3.65"/><circle cx="498.7" cy="530.5" r="3.65"/><circle cx="188.9" cy="566.9" r="3.65"/><circle cx="161.0" cy="563.8" r="3.65"/><circle cx="256.4" cy="541.9" r="3.65"/><circle cx="508.0" cy="545.2" r="3.65"/><circle cx="359.7" cy="563.7" r="3.65"/><circle cx="152.4" cy="511.4" r="3.65"/><circle cx="157.3" cy="559.0" r="3.65"/><circle cx="417.3" cy="537.0" r="3.65"/><circle cx="519.5" cy="347.6" r="3.65"/><circle cx="494.3" cy="514.3" r="3.65"/><circle cx="637.4" cy="549.0" r="3.65"/><circle cx="423.2" cy="534.6" r="3.65"/><circle cx="324.1" cy="540.9" r="3.65"/><circle cx="623.6" cy="507.4" r="3.65"/><circle cx="277.3" cy="538.5" r="3.65"/><circle cx="221.6" cy="540.2" r="3.65"/><circle cx="222.9" cy="554.6" r="3.65"/><circle cx="590.8" cy="506.7" r="3.65"/><circle cx="542.6" cy="566.9" r="3.65"/><circle cx="410.9" cy="564.1" r="3.65"/><circle cx="148.1" cy="564.8" r="3.65"/><circle cx="221.5" cy="521.7" r="3.65"/><circle cx="540.9" cy="558.0" r="3.65"/><circle cx="310.8" cy="552.8" r="3.65"/><circle cx="427.0" cy="557.8" r="3.65"/><circle cx="559.2" cy="543.9" r="3.65"/><circle cx="580.0" cy="534.6" r="3.65"/><circle cx="223.8" cy="549.4" r="3.65"/><circle cx="276.3" cy="554.9" r="3.65"/><circle cx="245.7" cy="553.2" r="3.65"/><circle cx="584.0" cy="514.2" r="3.65"/><circle cx="399.4" cy="536.7" r="3.65"/><circle cx="613.4" cy="553.3" r="3.65"/><circle cx="169.6" cy="540.6" r="3.65"/><circle cx="556.1" cy="565.5" r="3.65"/><circle cx="291.0" cy="552.3" r="3.65"/><circle cx="237.3" cy="560.2" r="3.65"/><circle cx="305.3" cy="511.6" r="3.65"/><circle cx="282.6" cy="561.0" r="3.65"/><circle cx="583.0" cy="548.8" r="3.65"/><circle cx="510.1" cy="523.3" r="3.65"/><circle cx="511.2" cy="525.9" r="3.65"/><circle cx="608.2" cy="525.8" r="3.65"/><circle cx="148.6" cy="541.1" r="3.65"/><circle cx="156.3" cy="530.6" r="3.65"/><circle cx="155.4" cy="541.1" r="3.65"/><circle cx="592.4" cy="502.3" r="3.65"/><circle cx="159.1" cy="515.4" r="3.65"/><circle cx="636.2" cy="526.6" r="3.65"/><circle cx="350.6" cy="567.8" r="3.65"/><circle cx="578.8" cy="545.1" r="3.65"/><circle cx="360.2" cy="542.8" r="3.65"/><circle cx="340.4" cy="524.0" r="3.65"/><circle cx="607.0" cy="551.2" r="3.65"/><circle cx="311.1" cy="559.7" r="3.65"/><circle cx="205.5" cy="479.0" r="3.65"/><circle cx="592.0" cy="517.2" r="3.65"/><circle cx="409.4" cy="492.9" r="3.65"/><circle cx="312.1" cy="548.8" r="3.65"/><circle cx="554.4" cy="397.2" r="3.65"/><circle cx="357.7" cy="559.4" r="3.65"/><circle cx="311.4" cy="534.9" r="3.65"/><circle cx="341.6" cy="534.4" r="3.65"/><circle cx="502.5" cy="530.1" r="3.65"/><circle cx="197.8" cy="558.9" r="3.65"/><circle cx="237.0" cy="502.4" r="3.65"/><circle cx="600.1" cy="556.6" r="3.65"/><circle cx="158.4" cy="512.7" r="3.65"/><circle cx="182.3" cy="503.8" r="3.65"/><circle cx="590.9" cy="562.1" r="3.65"/><circle cx="183.5" cy="540.5" r="3.65"/><circle cx="409.4" cy="476.2" r="3.65"/><circle cx="570.7" cy="539.7" r="3.65"/><circle cx="599.7" cy="516.1" r="3.65"/><circle cx="402.6" cy="565.4" r="3.65"/><circle cx="622.8" cy="533.3" r="3.65"/><circle cx="383.4" cy="541.6" r="3.65"/><circle cx="552.8" cy="549.2" r="3.65"/><circle cx="451.2" cy="547.5" r="3.65"/><circle cx="364.4" cy="526.0" r="3.65"/><circle cx="429.9" cy="532.3" r="3.65"/><circle cx="361.8" cy="522.8" r="3.65"/><circle cx="409.5" cy="531.0" r="3.65"/><circle cx="214.7" cy="561.8" r="3.65"/><circle cx="372.2" cy="515.3" r="3.65"/><circle cx="213.1" cy="559.5" r="3.65"/><circle cx="450.3" cy="533.1" r="3.65"/><circle cx="327.9" cy="505.9" r="3.65"/><circle cx="148.1" cy="550.6" r="3.65"/><circle cx="541.2" cy="567.7" r="3.65"/><circle cx="504.6" cy="542.3" r="3.65"/><circle cx="405.8" cy="560.1" r="3.65"/><circle cx="403.2" cy="550.2" r="3.65"/><circle cx="179.0" cy="502.2" r="3.65"/><circle cx="435.7" cy="475.9" r="3.65"/><circle cx="267.7" cy="543.3" r="3.65"/><circle cx="256.1" cy="541.9" r="3.65"/><circle cx="257.2" cy="517.6" r="3.65"/><circle cx="186.7" cy="398.7" r="3.65"/><circle cx="409.2" cy="522.4" r="3.65"/><circle cx="387.4" cy="555.6" r="3.65"/><circle cx="536.6" cy="546.3" r="3.65"/><circle cx="566.0" cy="460.8" r="3.65"/><circle cx="232.0" cy="561.4" r="3.65"/><circle cx="208.6" cy="549.7" r="3.65"/><circle cx="423.3" cy="540.7" r="3.65"/><circle cx="569.8" cy="544.7" r="3.65"/><circle cx="378.6" cy="529.4" r="3.65"/><circle cx="577.1" cy="542.9" r="3.65"/><circle cx="277.3" cy="565.2" r="3.65"/><circle cx="579.1" cy="556.5" r="3.65"/><circle cx="259.0" cy="555.7" r="3.65"/><circle cx="284.3" cy="549.0" r="3.65"/><circle cx="301.6" cy="550.0" r="3.65"/><circle cx="159.6" cy="564.0" r="3.65"/><circle cx="221.1" cy="523.2" r="3.65"/><circle cx="312.5" cy="517.1" r="3.65"/><circle cx="573.3" cy="560.1" r="3.65"/><circle cx="186.6" cy="504.5" r="3.65"/><circle cx="632.0" cy="532.0" r="3.65"/><circle cx="451.6" cy="559.5" r="3.65"/><circle cx="319.7" cy="523.3" r="3.65"/><circle cx="517.6" cy="466.4" r="3.65"/><circle cx="190.0" cy="500.4" r="3.65"/><circle cx="474.7" cy="529.7" r="3.65"/><circle cx="455.4" cy="534.0" r="3.65"/><circle cx="435.6" cy="562.8" r="3.65"/><circle cx="369.0" cy="520.4" r="3.65"/><circle cx="199.6" cy="563.1" r="3.65"/><circle cx="222.5" cy="542.6" r="3.65"/><circle cx="209.4" cy="541.9" r="3.65"/><circle cx="188.6" cy="546.8" r="3.65"/><circle cx="574.2" cy="524.4" r="3.65"/><circle cx="306.9" cy="441.0" r="3.65"/><circle cx="199.0" cy="547.0" r="3.65"/><circle cx="532.9" cy="564.0" r="3.65"/><circle cx="290.8" cy="565.6" r="3.65"/><circle cx="450.0" cy="529.9" r="3.65"/><circle cx="554.8" cy="542.7" r="3.65"/><circle cx="312.1" cy="521.1" r="3.65"/><circle cx="534.8" cy="499.9" r="3.65"/><circle cx="365.6" cy="507.6" r="3.65"/><circle cx="320.3" cy="552.4" r="3.65"/><circle cx="514.7" cy="555.9" r="3.65"/><circle cx="446.4" cy="546.4" r="3.65"/><circle cx="195.2" cy="559.9" r="3.65"/><circle cx="429.8" cy="563.8" r="3.65"/><circle cx="561.7" cy="553.6" r="3.65"/><circle cx="335.1" cy="458.5" r="3.65"/><circle cx="483.8" cy="476.7" r="3.65"/><circle cx="459.2" cy="432.9" r="3.65"/><circle cx="345.3" cy="546.8" r="3.65"/><circle cx="260.5" cy="505.2" r="3.65"/><circle cx="387.6" cy="487.3" r="3.65"/><circle cx="160.3" cy="561.8" r="3.65"/><circle cx="293.1" cy="531.6" r="3.65"/><circle cx="430.5" cy="551.6" r="3.65"/><circle cx="362.5" cy="392.4" r="3.65"/><circle cx="527.2" cy="547.5" r="3.65"/><circle cx="215.2" cy="532.5" r="3.65"/><circle cx="149.7" cy="538.0" r="3.65"/><circle cx="503.3" cy="504.6" r="3.65"/><circle cx="205.6" cy="530.9" r="3.65"/><circle cx="561.5" cy="542.7" r="3.65"/><circle cx="449.6" cy="563.6" r="3.65"/><circle cx="533.5" cy="534.1" r="3.65"/><circle cx="167.3" cy="514.4" r="3.65"/><circle cx="382.5" cy="560.2" r="3.65"/><circle cx="231.4" cy="548.7" r="3.65"/><circle cx="297.2" cy="549.6" r="3.65"/><circle cx="347.2" cy="392.6" r="3.65"/><circle cx="291.1" cy="554.3" r="3.65"/><circle cx="579.3" cy="553.8" r="3.65"/><circle cx="500.3" cy="558.7" r="3.65"/><circle cx="192.3" cy="514.4" r="3.65"/><circle cx="439.9" cy="564.3" r="3.65"/><circle cx="462.1" cy="515.1" r="3.65"/><circle cx="206.0" cy="517.4" r="3.65"/><circle cx="454.7" cy="521.4" r="3.65"/><circle cx="368.6" cy="554.5" r="3.65"/><circle cx="326.6" cy="553.8" r="3.65"/><circle cx="608.5" cy="565.6" r="3.65"/><circle cx="599.6" cy="533.1" r="3.65"/><circle cx="470.4" cy="542.7" r="3.65"/><circle cx="580.8" cy="533.4" r="3.65"/><circle cx="179.4" cy="558.0" r="3.65"/><circle cx="554.5" cy="565.2" r="3.65"/><circle cx="430.0" cy="555.8" r="3.65"/><circle cx="618.9" cy="528.2" r="3.65"/><circle cx="166.5" cy="567.2" r="3.65"/><circle cx="312.1" cy="562.3" r="3.65"/><circle cx="181.4" cy="540.8" r="3.65"/><circle cx="310.8" cy="553.5" r="3.65"/><circle cx="277.9" cy="542.9" r="3.65"/><circle cx="178.3" cy="565.6" r="3.65"/><circle cx="504.9" cy="546.9" r="3.65"/><circle cx="402.7" cy="491.4" r="3.65"/><circle cx="399.1" cy="544.9" r="3.65"/><circle cx="153.3" cy="544.9" r="3.65"/><circle cx="411.0" cy="538.5" r="3.65"/><circle cx="473.3" cy="552.9" r="3.65"/><circle cx="428.3" cy="501.4" r="3.65"/><circle cx="184.7" cy="564.7" r="3.65"/><circle cx="259.1" cy="563.7" r="3.65"/><circle cx="491.5" cy="269.1" r="3.65"/><circle cx="514.5" cy="517.3" r="3.65"/><circle cx="619.6" cy="537.2" r="3.65"/><circle cx="332.7" cy="525.9" r="3.65"/><circle cx="485.5" cy="367.9" r="3.65"/><circle cx="483.7" cy="557.9" r="3.65"/><circle cx="323.9" cy="562.9" r="3.65"/><circle cx="467.4" cy="532.4" r="3.65"/><circle cx="499.3" cy="478.0" r="3.65"/><circle cx="173.2" cy="545.4" r="3.65"/><circle cx="629.8" cy="549.4" r="3.65"/><circle cx="532.9" cy="545.2" r="3.65"/><circle cx="405.9" cy="527.6" r="3.65"/><circle cx="159.4" cy="561.0" r="3.65"/><circle cx="215.1" cy="540.1" r="3.65"/><circle cx="354.9" cy="539.7" r="3.65"/><circle cx="337.4" cy="562.8" r="3.65"/><circle cx="295.4" cy="542.0" r="3.65"/><circle cx="353.0" cy="524.1" r="3.65"/><circle cx="284.6" cy="533.6" r="3.65"/><circle cx="418.0" cy="555.3" r="3.65"/><circle cx="320.3" cy="527.3" r="3.65"/><circle cx="566.2" cy="449.1" r="3.65"/><circle cx="549.8" cy="529.6" r="3.65"/><circle cx="598.5" cy="564.3" r="3.65"/><circle cx="510.1" cy="468.3" r="3.65"/><circle cx="506.3" cy="521.5" r="3.65"/><circle cx="533.5" cy="535.2" r="3.65"/><circle cx="542.4" cy="492.1" r="3.65"/><circle cx="594.0" cy="535.6" r="3.65"/><circle cx="411.8" cy="550.3" r="3.65"/><circle cx="473.4" cy="553.6" r="3.65"/><circle cx="296.4" cy="529.4" r="3.65"/><circle cx="487.5" cy="466.1" r="3.65"/><circle cx="375.3" cy="566.8" r="3.65"/><circle cx="531.2" cy="554.4" r="3.65"/><circle cx="147.9" cy="546.8" r="3.65"/><circle cx="582.2" cy="551.0" r="3.65"/><circle cx="460.3" cy="531.7" r="3.65"/><circle cx="162.2" cy="505.8" r="3.65"/><circle cx="523.4" cy="521.0" r="3.65"/><circle cx="394.4" cy="564.9" r="3.65"/><circle cx="298.5" cy="470.6" r="3.65"/><circle cx="547.5" cy="524.7" r="3.65"/><circle cx="589.4" cy="371.8" r="3.65"/><circle cx="560.6" cy="536.9" r="3.65"/><circle cx="396.0" cy="533.9" r="3.65"/><circle cx="249.7" cy="497.4" r="3.65"/><circle cx="466.9" cy="552.3" r="3.65"/><circle cx="174.1" cy="539.4" r="3.65"/><circle cx="350.5" cy="540.2" r="3.65"/><circle cx="382.3" cy="459.3" r="3.65"/><circle cx="382.7" cy="509.9" r="3.65"/><circle cx="581.8" cy="483.5" r="3.65"/><circle cx="394.8" cy="561.4" r="3.65"/><circle cx="409.5" cy="484.6" r="3.65"/><circle cx="459.0" cy="539.1" r="3.65"/><circle cx="476.1" cy="533.8" r="3.65"/><circle cx="516.1" cy="565.2" r="3.65"/><circle cx="495.8" cy="543.2" r="3.65"/><circle cx="513.8" cy="564.4" r="3.65"/><circle cx="381.2" cy="558.9" r="3.65"/><circle cx="211.7" cy="556.6" r="3.65"/><circle cx="342.2" cy="517.0" r="3.65"/><circle cx="175.2" cy="557.5" r="3.65"/><circle cx="594.1" cy="548.1" r="3.65"/><circle cx="310.0" cy="560.9" r="3.65"/><circle cx="293.6" cy="514.6" r="3.65"/><circle cx="439.5" cy="535.6" r="3.65"/><circle cx="404.0" cy="561.3" r="3.65"/><circle cx="471.4" cy="544.2" r="3.65"/><circle cx="310.0" cy="537.8" r="3.65"/><circle cx="158.3" cy="567.8" r="3.65"/><circle cx="388.1" cy="544.9" r="3.65"/><circle cx="268.3" cy="523.3" r="3.65"/><circle cx="463.1" cy="501.8" r="3.65"/><circle cx="327.1" cy="532.6" r="3.65"/><circle cx="414.5" cy="563.4" r="3.65"/><circle cx="494.9" cy="562.0" r="3.65"/><circle cx="255.2" cy="483.6" r="3.65"/><circle cx="428.2" cy="553.4" r="3.65"/><circle cx="471.3" cy="476.9" r="3.65"/><circle cx="593.2" cy="538.9" r="3.65"/><circle cx="535.7" cy="487.7" r="3.65"/><circle cx="358.5" cy="495.0" r="3.65"/><circle cx="548.1" cy="515.9" r="3.65"/><circle cx="534.5" cy="534.5" r="3.65"/><circle cx="618.6" cy="554.5" r="3.65"/><circle cx="421.7" cy="467.7" r="3.65"/><circle cx="309.1" cy="290.6" r="3.65"/><circle cx="440.7" cy="549.8" r="3.65"/><circle cx="325.9" cy="532.2" r="3.65"/><circle cx="506.2" cy="521.5" r="3.65"/><circle cx="211.7" cy="560.4" r="3.65"/><circle cx="416.2" cy="556.9" r="3.65"/><circle cx="282.7" cy="523.3" r="3.65"/><circle cx="318.1" cy="564.3" r="3.65"/><circle cx="580.6" cy="565.1" r="3.65"/><circle cx="320.8" cy="542.8" r="3.65"/><circle cx="284.5" cy="558.0" r="3.65"/><circle cx="310.3" cy="523.9" r="3.65"/><circle cx="299.4" cy="563.6" r="3.65"/><circle cx="408.9" cy="514.4" r="3.65"/><circle cx="366.4" cy="553.3" r="3.65"/><circle cx="529.3" cy="563.6" r="3.65"/><circle cx="431.6" cy="566.1" r="3.65"/><circle cx="632.4" cy="525.4" r="3.65"/><circle cx="411.1" cy="545.7" r="3.65"/><circle cx="568.4" cy="551.4" r="3.65"/><circle cx="417.7" cy="485.7" r="3.65"/><circle cx="299.3" cy="567.3" r="3.65"/><circle cx="440.2" cy="554.2" r="3.65"/><circle cx="311.4" cy="542.0" r="3.65"/><circle cx="207.7" cy="493.4" r="3.65"/><circle cx="501.6" cy="563.2" r="3.65"/><circle cx="322.5" cy="546.4" r="3.65"/><circle cx="208.9" cy="511.3" r="3.65"/><circle cx="331.1" cy="551.6" r="3.65"/><circle cx="404.3" cy="561.1" r="3.65"/><circle cx="295.5" cy="550.0" r="3.65"/><circle cx="167.1" cy="529.3" r="3.65"/><circle cx="367.7" cy="509.6" r="3.65"/><circle cx="254.8" cy="548.2" r="3.65"/><circle cx="226.1" cy="563.8" r="3.65"/><circle cx="282.6" cy="554.4" r="3.65"/><circle cx="534.1" cy="500.1" r="3.65"/><circle cx="507.0" cy="547.9" r="3.65"/><circle cx="621.5" cy="530.3" r="3.65"/><circle cx="523.4" cy="521.5" r="3.65"/><circle cx="354.5" cy="562.4" r="3.65"/><circle cx="475.4" cy="542.8" r="3.65"/><circle cx="446.9" cy="422.6" r="3.65"/><circle cx="554.9" cy="519.0" r="3.65"/><circle cx="433.5" cy="526.5" r="3.65"/><circle cx="170.1" cy="567.6" r="3.65"/><circle cx="258.7" cy="561.0" r="3.65"/><circle cx="311.9" cy="519.5" r="3.65"/><circle cx="561.6" cy="537.0" r="3.65"/><circle cx="406.8" cy="530.5" r="3.65"/><circle cx="176.3" cy="559.5" r="3.65"/><circle cx="382.8" cy="500.8" r="3.65"/><circle cx="182.2" cy="528.6" r="3.65"/><circle cx="434.0" cy="498.9" r="3.65"/><circle cx="287.3" cy="507.2" r="3.65"/><circle cx="475.1" cy="547.0" r="3.65"/><circle cx="410.2" cy="545.6" r="3.65"/><circle cx="555.1" cy="533.5" r="3.65"/><circle cx="233.5" cy="538.7" r="3.65"/><circle cx="428.0" cy="566.4" r="3.65"/><circle cx="469.8" cy="552.1" r="3.65"/><circle cx="279.2" cy="560.3" r="3.65"/><circle cx="275.8" cy="530.8" r="3.65"/><circle cx="370.3" cy="397.2" r="3.65"/><circle cx="621.6" cy="540.7" r="3.65"/><circle cx="166.6" cy="524.3" r="3.65"/><circle cx="349.8" cy="556.0" r="3.65"/><circle cx="626.1" cy="560.8" r="3.65"/><circle cx="153.4" cy="548.6" r="3.65"/><circle cx="543.0" cy="546.0" r="3.65"/><circle cx="254.6" cy="532.3" r="3.65"/><circle cx="359.9" cy="524.2" r="3.65"/><circle cx="310.9" cy="530.3" r="3.65"/><circle cx="584.3" cy="531.1" r="3.65"/><circle cx="388.5" cy="560.6" r="3.65"/><circle cx="359.4" cy="557.0" r="3.65"/><circle cx="342.6" cy="558.2" r="3.65"/><circle cx="492.7" cy="547.2" r="3.65"/><circle cx="513.2" cy="538.7" r="3.65"/><circle cx="311.2" cy="556.2" r="3.65"/><circle cx="186.6" cy="502.5" r="3.65"/><circle cx="409.9" cy="540.4" r="3.65"/><circle cx="492.7" cy="563.2" r="3.65"/><circle cx="430.1" cy="530.9" r="3.65"/><circle cx="307.1" cy="521.8" r="3.65"/><circle cx="597.0" cy="552.8" r="3.65"/><circle cx="298.4" cy="564.8" r="3.65"/><circle cx="311.6" cy="526.7" r="3.65"/><circle cx="311.6" cy="563.0" r="3.65"/><circle cx="592.5" cy="523.6" r="3.65"/><circle cx="298.5" cy="468.8" r="3.65"/><circle cx="311.4" cy="532.3" r="3.65"/><circle cx="552.5" cy="511.4" r="3.65"/><circle cx="431.9" cy="553.5" r="3.65"/><circle cx="379.8" cy="527.2" r="3.65"/><circle cx="310.8" cy="559.9" r="3.65"/><circle cx="475.9" cy="518.5" r="3.65"/><circle cx="429.8" cy="560.5" r="3.65"/><circle cx="388.7" cy="542.5" r="3.65"/><circle cx="150.0" cy="489.5" r="3.65"/><circle cx="181.3" cy="558.8" r="3.65"/><circle cx="351.7" cy="525.8" r="3.65"/><circle cx="454.0" cy="550.7" r="3.65"/><circle cx="581.5" cy="545.9" r="3.65"/><circle cx="361.5" cy="561.7" r="3.65"/><circle cx="380.2" cy="538.3" r="3.65"/><circle cx="491.6" cy="527.8" r="3.65"/><circle cx="407.1" cy="490.1" r="3.65"/><circle cx="332.8" cy="534.3" r="3.65"/><circle cx="282.0" cy="554.1" r="3.65"/><circle cx="285.2" cy="560.7" r="3.65"/><circle cx="310.6" cy="563.0" r="3.65"/><circle cx="375.5" cy="546.4" r="3.65"/><circle cx="329.7" cy="504.6" r="3.65"/><circle cx="310.3" cy="555.5" r="3.65"/><circle cx="565.3" cy="547.7" r="3.65"/><circle cx="465.3" cy="517.2" r="3.65"/><circle cx="534.4" cy="550.0" r="3.65"/><circle cx="263.6" cy="547.8" r="3.65"/><circle cx="386.6" cy="515.8" r="3.65"/><circle cx="445.2" cy="476.6" r="3.65"/><circle cx="255.3" cy="528.1" r="3.65"/><circle cx="568.3" cy="564.7" r="3.65"/><circle cx="205.8" cy="551.6" r="3.65"/><circle cx="200.9" cy="548.1" r="3.65"/><circle cx="487.8" cy="559.9" r="3.65"/><circle cx="285.0" cy="555.3" r="3.65"/><circle cx="505.1" cy="536.4" r="3.65"/><circle cx="507.8" cy="522.8" r="3.65"/><circle cx="513.6" cy="548.5" r="3.65"/><circle cx="445.4" cy="545.6" r="3.65"/><circle cx="631.0" cy="505.6" r="3.65"/><circle cx="615.2" cy="548.1" r="3.65"/><circle cx="341.9" cy="557.5" r="3.65"/><circle cx="370.6" cy="552.1" r="3.65"/><circle cx="154.3" cy="547.7" r="3.65"/><circle cx="466.4" cy="556.8" r="3.65"/><circle cx="244.8" cy="514.7" r="3.65"/><circle cx="512.6" cy="552.8" r="3.65"/><circle cx="522.3" cy="467.0" r="3.65"/><circle cx="321.2" cy="489.1" r="3.65"/><circle cx="267.7" cy="563.1" r="3.65"/><circle cx="565.4" cy="563.2" r="3.65"/><circle cx="183.8" cy="550.7" r="3.65"/><circle cx="566.5" cy="522.8" r="3.65"/><circle cx="561.3" cy="454.2" r="3.65"/><circle cx="249.2" cy="529.1" r="3.65"/><circle cx="328.5" cy="558.4" r="3.65"/><circle cx="230.6" cy="556.7" r="3.65"/><circle cx="318.8" cy="539.2" r="3.65"/><circle cx="601.0" cy="562.0" r="3.65"/><circle cx="166.5" cy="559.8" r="3.65"/><circle cx="541.1" cy="556.6" r="3.65"/><circle cx="259.4" cy="526.9" r="3.65"/><circle cx="243.7" cy="565.6" r="3.65"/><circle cx="154.4" cy="549.8" r="3.65"/><circle cx="446.7" cy="558.4" r="3.65"/><circle cx="434.0" cy="535.9" r="3.65"/><circle cx="430.7" cy="566.2" r="3.65"/><circle cx="328.7" cy="532.4" r="3.65"/><circle cx="239.1" cy="314.7" r="3.65"/><circle cx="596.0" cy="507.5" r="3.65"/><circle cx="227.0" cy="562.7" r="3.65"/><circle cx="316.4" cy="558.4" r="3.65"/><circle cx="588.8" cy="550.4" r="3.65"/><circle cx="532.0" cy="559.9" r="3.65"/><circle cx="354.4" cy="565.2" r="3.65"/><circle cx="411.2" cy="564.9" r="3.65"/><circle cx="597.2" cy="522.8" r="3.65"/><circle cx="182.0" cy="538.3" r="3.65"/><circle cx="395.1" cy="542.2" r="3.65"/><circle cx="618.4" cy="481.5" r="3.65"/><circle cx="433.3" cy="564.8" r="3.65"/><circle cx="570.4" cy="561.9" r="3.65"/><circle cx="309.1" cy="532.4" r="3.65"/><circle cx="405.1" cy="523.8" r="3.65"/><circle cx="620.6" cy="564.7" r="3.65"/><circle cx="378.2" cy="467.8" r="3.65"/><circle cx="357.5" cy="529.9" r="3.65"/><circle cx="495.0" cy="561.2" r="3.65"/><circle cx="609.2" cy="564.7" r="3.65"/><circle cx="264.5" cy="567.3" r="3.65"/><circle cx="315.1" cy="545.9" r="3.65"/><circle cx="480.3" cy="527.0" r="3.65"/><circle cx="476.3" cy="549.2" r="3.65"/><circle cx="326.7" cy="565.8" r="3.65"/><circle cx="542.0" cy="550.0" r="3.65"/><circle cx="506.6" cy="502.5" r="3.65"/><circle cx="537.9" cy="553.2" r="3.65"/><circle cx="308.0" cy="543.3" r="3.65"/><circle cx="356.0" cy="549.1" r="3.65"/><circle cx="348.2" cy="468.7" r="3.65"/><circle cx="428.4" cy="533.4" r="3.65"/><circle cx="312.2" cy="564.3" r="3.65"/><circle cx="216.6" cy="535.3" r="3.65"/><circle cx="275.0" cy="563.6" r="3.65"/><circle cx="310.9" cy="558.0" r="3.65"/><circle cx="380.6" cy="535.8" r="3.65"/><circle cx="222.0" cy="555.3" r="3.65"/><circle cx="431.5" cy="382.3" r="3.65"/><circle cx="491.8" cy="541.1" r="3.65"/><circle cx="519.7" cy="270.9" r="3.65"/><circle cx="327.0" cy="510.7" r="3.65"/><circle cx="174.3" cy="564.8" r="3.65"/><circle cx="423.8" cy="534.3" r="3.65"/><circle cx="557.1" cy="567.5" r="3.65"/><circle cx="610.2" cy="546.1" r="3.65"/><circle cx="339.6" cy="524.1" r="3.65"/><circle cx="574.8" cy="548.5" r="3.65"/><circle cx="390.4" cy="509.2" r="3.65"/><circle cx="244.1" cy="549.6" r="3.65"/><circle cx="311.2" cy="540.4" r="3.65"/><circle cx="520.3" cy="529.1" r="3.65"/><circle cx="161.5" cy="508.1" r="3.65"/><circle cx="514.0" cy="548.8" r="3.65"/><circle cx="384.1" cy="557.6" r="3.65"/><circle cx="295.1" cy="552.4" r="3.65"/><circle cx="175.8" cy="509.1" r="3.65"/><circle cx="366.4" cy="514.7" r="3.65"/><circle cx="155.0" cy="551.9" r="3.65"/><circle cx="490.0" cy="477.8" r="3.65"/><circle cx="359.5" cy="468.9" r="3.65"/><circle cx="423.9" cy="472.3" r="3.65"/><circle cx="235.1" cy="525.0" r="3.65"/><circle cx="427.3" cy="521.6" r="3.65"/><circle cx="193.2" cy="545.3" r="3.65"/><circle cx="316.0" cy="540.2" r="3.65"/><circle cx="212.7" cy="550.6" r="3.65"/><circle cx="632.7" cy="564.5" r="3.65"/><circle cx="371.4" cy="528.4" r="3.65"/><circle cx="525.8" cy="561.5" r="3.65"/><circle cx="434.4" cy="550.6" r="3.65"/><circle cx="573.7" cy="555.4" r="3.65"/><circle cx="349.7" cy="493.6" r="3.65"/><circle cx="406.7" cy="567.0" r="3.65"/><circle cx="587.7" cy="529.4" r="3.65"/><circle cx="200.9" cy="553.4" r="3.65"/><circle cx="250.8" cy="561.2" r="3.65"/><circle cx="238.5" cy="540.1" r="3.65"/><circle cx="576.7" cy="555.1" r="3.65"/><circle cx="379.7" cy="505.5" r="3.65"/><circle cx="609.2" cy="482.6" r="3.65"/><circle cx="637.1" cy="551.8" r="3.65"/><circle cx="530.4" cy="523.6" r="3.65"/><circle cx="615.1" cy="563.2" r="3.65"/><circle cx="595.2" cy="537.2" r="3.65"/><circle cx="311.9" cy="519.8" r="3.65"/><circle cx="561.4" cy="565.8" r="3.65"/><circle cx="279.5" cy="548.0" r="3.65"/><circle cx="457.1" cy="533.2" r="3.65"/><circle cx="498.8" cy="468.3" r="3.65"/><circle cx="310.4" cy="516.4" r="3.65"/><circle cx="591.3" cy="507.9" r="3.65"/><circle cx="523.5" cy="567.3" r="3.65"/><circle cx="309.8" cy="565.1" r="3.65"/><circle cx="284.2" cy="536.3" r="3.65"/><circle cx="560.2" cy="514.2" r="3.65"/><circle cx="488.7" cy="540.0" r="3.65"/><circle cx="524.5" cy="548.7" r="3.65"/><circle cx="430.5" cy="565.9" r="3.65"/><circle cx="409.1" cy="530.4" r="3.65"/><circle cx="338.6" cy="556.3" r="3.65"/><circle cx="160.6" cy="495.0" r="3.65"/><circle cx="364.8" cy="537.6" r="3.65"/><circle cx="599.0" cy="563.2" r="3.65"/><circle cx="189.8" cy="533.1" r="3.65"/><circle cx="466.1" cy="535.1" r="3.65"/><circle cx="363.1" cy="543.2" r="3.65"/><circle cx="533.8" cy="536.3" r="3.65"/><circle cx="245.3" cy="519.7" r="3.65"/><circle cx="321.9" cy="558.1" r="3.65"/><circle cx="356.5" cy="546.7" r="3.65"/><circle cx="174.9" cy="556.2" r="3.65"/><circle cx="202.6" cy="404.0" r="3.65"/><circle cx="294.0" cy="545.3" r="3.65"/><circle cx="292.2" cy="540.5" r="3.65"/><circle cx="503.0" cy="554.7" r="3.65"/><circle cx="418.2" cy="521.6" r="3.65"/><circle cx="226.8" cy="564.1" r="3.65"/><circle cx="541.1" cy="487.7" r="3.65"/><circle cx="633.2" cy="546.3" r="3.65"/><circle cx="306.9" cy="437.2" r="3.65"/><circle cx="519.9" cy="546.4" r="3.65"/><circle cx="289.9" cy="425.4" r="3.65"/><circle cx="176.6" cy="542.9" r="3.65"/><circle cx="538.0" cy="507.3" r="3.65"/><circle cx="525.9" cy="502.9" r="3.65"/><circle cx="311.4" cy="551.1" r="3.65"/><circle cx="301.9" cy="561.2" r="3.65"/><circle cx="234.5" cy="509.2" r="3.65"/><circle cx="637.1" cy="557.0" r="3.65"/><circle cx="275.4" cy="560.5" r="3.65"/><circle cx="309.3" cy="562.8" r="3.65"/><circle cx="541.2" cy="537.0" r="3.65"/><circle cx="428.7" cy="517.5" r="3.65"/><circle cx="625.9" cy="563.6" r="3.65"/><circle cx="316.5" cy="557.0" r="3.65"/><circle cx="541.4" cy="534.7" r="3.65"/><circle cx="551.2" cy="532.0" r="3.65"/><circle cx="410.5" cy="557.5" r="3.65"/><circle cx="530.6" cy="481.6" r="3.65"/><circle cx="149.9" cy="527.0" r="3.65"/><circle cx="474.7" cy="558.5" r="3.65"/><circle cx="592.3" cy="540.6" r="3.65"/><circle cx="458.2" cy="557.9" r="3.65"/><circle cx="258.8" cy="558.7" r="3.65"/><circle cx="337.1" cy="519.0" r="3.65"/><circle cx="299.3" cy="516.0" r="3.65"/><circle cx="475.0" cy="550.8" r="3.65"/><circle cx="623.9" cy="561.5" r="3.65"/><circle cx="231.3" cy="537.4" r="3.65"/><circle cx="423.3" cy="494.2" r="3.65"/><circle cx="638.4" cy="541.6" r="3.65"/><circle cx="356.2" cy="560.5" r="3.65"/><circle cx="154.7" cy="521.3" r="3.65"/><circle cx="611.9" cy="505.8" r="3.65"/><circle cx="206.1" cy="548.6" r="3.65"/><circle cx="325.3" cy="531.1" r="3.65"/><circle cx="531.3" cy="461.7" r="3.65"/><circle cx="561.7" cy="564.7" r="3.65"/><circle cx="217.5" cy="554.1" r="3.65"/><circle cx="564.5" cy="554.3" r="3.65"/><circle cx="155.3" cy="503.0" r="3.65"/><circle cx="220.4" cy="491.3" r="3.65"/><circle cx="539.6" cy="557.8" r="3.65"/><circle cx="566.8" cy="555.3" r="3.65"/><circle cx="387.4" cy="501.4" r="3.65"/><circle cx="492.8" cy="559.1" r="3.65"/><circle cx="220.8" cy="544.2" r="3.65"/><circle cx="566.9" cy="466.4" r="3.65"/><circle cx="555.3" cy="553.2" r="3.65"/><circle cx="360.2" cy="558.8" r="3.65"/><circle cx="181.8" cy="549.7" r="3.65"/><circle cx="555.4" cy="563.5" r="3.65"/><circle cx="306.3" cy="507.3" r="3.65"/><circle cx="562.2" cy="566.4" r="3.65"/><circle cx="553.9" cy="542.6" r="3.65"/><circle cx="532.3" cy="535.8" r="3.65"/><circle cx="211.4" cy="531.1" r="3.65"/><circle cx="428.8" cy="537.1" r="3.65"/><circle cx="509.6" cy="540.8" r="3.65"/><circle cx="220.4" cy="560.7" r="3.65"/><circle cx="271.0" cy="542.8" r="3.65"/><circle cx="563.7" cy="539.2" r="3.65"/><circle cx="479.3" cy="549.0" r="3.65"/><circle cx="156.5" cy="526.2" r="3.65"/><circle cx="258.3" cy="521.6" r="3.65"/><circle cx="493.4" cy="488.5" r="3.65"/><circle cx="516.1" cy="433.9" r="3.65"/><circle cx="451.9" cy="563.2" r="3.65"/><circle cx="212.7" cy="481.7" r="3.65"/><circle cx="521.9" cy="525.1" r="3.65"/><circle cx="327.4" cy="566.1" r="3.65"/><circle cx="363.4" cy="506.4" r="3.65"/><circle cx="330.2" cy="531.5" r="3.65"/><circle cx="585.5" cy="475.2" r="3.65"/><circle cx="555.5" cy="490.4" r="3.65"/><circle cx="530.4" cy="547.0" r="3.65"/><circle cx="315.4" cy="528.0" r="3.65"/><circle cx="555.8" cy="557.4" r="3.65"/><circle cx="505.3" cy="561.9" r="3.65"/><circle cx="481.1" cy="491.2" r="3.65"/><circle cx="290.2" cy="552.7" r="3.65"/><circle cx="541.7" cy="564.5" r="3.65"/><circle cx="312.1" cy="558.5" r="3.65"/><circle cx="341.8" cy="525.9" r="3.65"/><circle cx="282.0" cy="565.9" r="3.65"/><circle cx="205.3" cy="482.1" r="3.65"/><circle cx="541.4" cy="535.2" r="3.65"/><circle cx="592.6" cy="521.7" r="3.65"/><circle cx="310.8" cy="516.0" r="3.65"/><circle cx="436.5" cy="564.1" r="3.65"/><circle cx="509.2" cy="554.7" r="3.65"/><circle cx="489.4" cy="543.6" r="3.65"/><circle cx="310.2" cy="567.1" r="3.65"/><circle cx="453.2" cy="521.3" r="3.65"/><circle cx="515.9" cy="470.2" r="3.65"/><circle cx="385.0" cy="539.7" r="3.65"/><circle cx="594.9" cy="539.8" r="3.65"/><circle cx="598.1" cy="533.6" r="3.65"/><circle cx="166.6" cy="531.3" r="3.65"/><circle cx="508.4" cy="507.8" r="3.65"/><circle cx="557.2" cy="544.8" r="3.65"/><circle cx="267.6" cy="566.6" r="3.65"/><circle cx="373.0" cy="566.6" r="3.65"/><circle cx="441.2" cy="532.7" r="3.65"/><circle cx="269.6" cy="515.6" r="3.65"/><circle cx="423.3" cy="567.0" r="3.65"/><circle cx="375.9" cy="550.6" r="3.65"/><circle cx="336.0" cy="563.6" r="3.65"/><circle cx="227.6" cy="499.7" r="3.65"/><circle cx="250.2" cy="552.0" r="3.65"/><circle cx="272.2" cy="563.6" r="3.65"/><circle cx="519.1" cy="471.1" r="3.65"/><circle cx="286.4" cy="532.4" r="3.65"/><circle cx="436.4" cy="522.5" r="3.65"/><circle cx="261.2" cy="492.9" r="3.65"/><circle cx="401.3" cy="563.7" r="3.65"/><circle cx="561.9" cy="491.7" r="3.65"/><circle cx="399.4" cy="454.2" r="3.65"/><circle cx="341.5" cy="538.5" r="3.65"/><circle cx="489.2" cy="482.3" r="3.65"/><circle cx="473.8" cy="532.4" r="3.65"/><circle cx="637.6" cy="557.3" r="3.65"/><circle cx="310.5" cy="564.1" r="3.65"/><circle cx="329.9" cy="560.4" r="3.65"/><circle cx="310.7" cy="526.6" r="3.65"/><circle cx="473.7" cy="535.0" r="3.65"/><circle cx="525.5" cy="518.3" r="3.65"/><circle cx="629.0" cy="550.2" r="3.65"/><circle cx="224.6" cy="528.2" r="3.65"/><circle cx="295.5" cy="566.3" r="3.65"/><circle cx="364.4" cy="547.4" r="3.65"/><circle cx="602.0" cy="558.3" r="3.65"/><circle cx="159.8" cy="404.5" r="3.65"/><circle cx="222.1" cy="558.3" r="3.65"/><circle cx="202.6" cy="447.7" r="3.65"/><circle cx="391.4" cy="535.5" r="3.65"/><circle cx="472.3" cy="551.7" r="3.65"/><circle cx="201.0" cy="522.0" r="3.65"/><circle cx="340.6" cy="530.4" r="3.65"/><circle cx="485.9" cy="464.7" r="3.65"/><circle cx="450.4" cy="551.0" r="3.65"/><circle cx="295.0" cy="551.2" r="3.65"/><circle cx="546.9" cy="499.4" r="3.65"/><circle cx="236.0" cy="479.6" r="3.65"/><circle cx="220.5" cy="565.0" r="3.65"/><circle cx="444.9" cy="515.5" r="3.65"/><circle cx="630.5" cy="538.6" r="3.65"/><circle cx="283.2" cy="511.8" r="3.65"/><circle cx="458.8" cy="523.9" r="3.65"/><circle cx="400.0" cy="511.7" r="3.65"/><circle cx="228.9" cy="518.5" r="3.65"/><circle cx="554.5" cy="481.0" r="3.65"/><circle cx="331.1" cy="548.2" r="3.65"/><circle cx="612.0" cy="547.3" r="3.65"/><circle cx="283.8" cy="515.2" r="3.65"/><circle cx="437.0" cy="555.9" r="3.65"/><circle cx="631.4" cy="564.7" r="3.65"/><circle cx="470.9" cy="544.8" r="3.65"/><circle cx="283.5" cy="514.0" r="3.65"/><circle cx="552.8" cy="523.2" r="3.65"/><circle cx="310.7" cy="532.3" r="3.65"/><circle cx="257.6" cy="477.3" r="3.65"/><circle cx="522.2" cy="539.9" r="3.65"/><circle cx="267.5" cy="532.0" r="3.65"/><circle cx="385.7" cy="557.9" r="3.65"/><circle cx="185.3" cy="480.3" r="3.65"/><circle cx="325.3" cy="333.0" r="3.65"/><circle cx="472.4" cy="563.9" r="3.65"/><circle cx="311.8" cy="555.1" r="3.65"/><circle cx="557.8" cy="533.0" r="3.65"/><circle cx="557.0" cy="557.2" r="3.65"/><circle cx="317.6" cy="564.1" r="3.65"/><circle cx="198.9" cy="547.2" r="3.65"/><circle cx="578.2" cy="475.0" r="3.65"/><circle cx="343.7" cy="555.6" r="3.65"/><circle cx="227.8" cy="530.4" r="3.65"/><circle cx="422.5" cy="540.3" r="3.65"/><circle cx="360.7" cy="515.2" r="3.65"/><circle cx="238.1" cy="480.6" r="3.65"/><circle cx="423.2" cy="527.9" r="3.65"/><circle cx="538.6" cy="533.7" r="3.65"/><circle cx="491.2" cy="507.7" r="3.65"/><circle cx="175.6" cy="548.3" r="3.65"/><circle cx="473.8" cy="539.9" r="3.65"/><circle cx="259.8" cy="498.0" r="3.65"/><circle cx="467.4" cy="530.2" r="3.65"/><circle cx="164.7" cy="539.3" r="3.65"/><circle cx="359.6" cy="563.8" r="3.65"/><circle cx="328.2" cy="515.6" r="3.65"/><circle cx="173.9" cy="559.2" r="3.65"/><circle cx="230.0" cy="441.5" r="3.65"/><circle cx="618.6" cy="556.1" r="3.65"/><circle cx="484.5" cy="437.0" r="3.65"/><circle cx="343.8" cy="540.2" r="3.65"/><circle cx="613.8" cy="457.0" r="3.65"/><circle cx="582.4" cy="551.1" r="3.65"/><circle cx="294.4" cy="536.2" r="3.65"/><circle cx="468.0" cy="567.5" r="3.65"/><circle cx="431.5" cy="548.1" r="3.65"/><circle cx="538.3" cy="480.9" r="3.65"/><circle cx="361.8" cy="529.0" r="3.65"/><circle cx="258.9" cy="487.7" r="3.65"/><circle cx="150.8" cy="545.5" r="3.65"/><circle cx="555.5" cy="506.8" r="3.65"/><circle cx="156.8" cy="556.4" r="3.65"/><circle cx="313.1" cy="514.1" r="3.65"/><circle cx="596.3" cy="561.1" r="3.65"/><circle cx="160.2" cy="496.2" r="3.65"/><circle cx="247.6" cy="517.7" r="3.65"/><circle cx="386.0" cy="547.6" r="3.65"/><circle cx="530.8" cy="555.5" r="3.65"/><circle cx="540.1" cy="561.0" r="3.65"/><circle cx="200.3" cy="524.7" r="3.65"/><circle cx="228.9" cy="553.8" r="3.65"/><circle cx="377.6" cy="566.6" r="3.65"/><circle cx="394.6" cy="546.6" r="3.65"/><circle cx="284.0" cy="561.1" r="3.65"/><circle cx="310.8" cy="471.0" r="3.65"/><circle cx="310.3" cy="556.2" r="3.65"/><circle cx="611.4" cy="507.6" r="3.65"/><circle cx="250.5" cy="556.7" r="3.65"/><circle cx="154.6" cy="528.7" r="3.65"/><circle cx="608.9" cy="562.8" r="3.65"/><circle cx="192.1" cy="560.2" r="3.65"/><circle cx="267.7" cy="521.5" r="3.65"/><circle cx="529.7" cy="426.2" r="3.65"/><circle cx="311.3" cy="477.3" r="3.65"/><circle cx="295.0" cy="557.9" r="3.65"/><circle cx="368.1" cy="558.5" r="3.65"/><circle cx="475.0" cy="433.0" r="3.65"/><circle cx="557.5" cy="543.2" r="3.65"/><circle cx="506.1" cy="544.0" r="3.65"/><circle cx="321.2" cy="563.0" r="3.65"/><circle cx="284.0" cy="567.7" r="3.65"/><circle cx="534.4" cy="530.6" r="3.65"/><circle cx="245.6" cy="564.6" r="3.65"/><circle cx="220.9" cy="486.6" r="3.65"/><circle cx="610.5" cy="551.0" r="3.65"/><circle cx="197.0" cy="534.6" r="3.65"/><circle cx="391.1" cy="516.7" r="3.65"/><circle cx="294.7" cy="561.8" r="3.65"/><circle cx="314.3" cy="548.3" r="3.65"/><circle cx="534.1" cy="526.7" r="3.65"/><circle cx="483.7" cy="539.0" r="3.65"/><circle cx="370.7" cy="564.2" r="3.65"/><circle cx="207.8" cy="567.6" r="3.65"/><circle cx="559.4" cy="556.9" r="3.65"/><circle cx="423.0" cy="541.3" r="3.65"/><circle cx="206.8" cy="552.5" r="3.65"/><circle cx="219.7" cy="561.9" r="3.65"/><circle cx="541.0" cy="514.8" r="3.65"/><circle cx="479.9" cy="555.4" r="3.65"/><circle cx="498.8" cy="476.7" r="3.65"/><circle cx="285.6" cy="554.8" r="3.65"/><circle cx="611.2" cy="564.4" r="3.65"/><circle cx="255.9" cy="557.2" r="3.65"/><circle cx="597.3" cy="565.6" r="3.65"/><circle cx="249.2" cy="550.2" r="3.65"/><circle cx="435.6" cy="532.2" r="3.65"/><circle cx="301.2" cy="509.8" r="3.65"/><circle cx="324.6" cy="491.6" r="3.65"/><circle cx="238.5" cy="500.0" r="3.65"/><circle cx="302.4" cy="517.0" r="3.65"/><circle cx="150.1" cy="467.7" r="3.65"/><circle cx="541.5" cy="564.6" r="3.65"/><circle cx="473.0" cy="537.4" r="3.65"/><circle cx="612.8" cy="542.5" r="3.65"/><circle cx="188.7" cy="525.9" r="3.65"/><circle cx="569.9" cy="512.8" r="3.65"/><circle cx="472.7" cy="566.9" r="3.65"/><circle cx="418.6" cy="518.3" r="3.65"/><circle cx="412.2" cy="519.4" r="3.65"/><circle cx="349.0" cy="503.9" r="3.65"/><circle cx="516.2" cy="499.6" r="3.65"/><circle cx="487.3" cy="541.1" r="3.65"/><circle cx="339.6" cy="533.5" r="3.65"/><circle cx="324.0" cy="431.7" r="3.65"/><circle cx="448.4" cy="539.5" r="3.65"/><circle cx="227.7" cy="566.3" r="3.65"/><circle cx="452.1" cy="513.8" r="3.65"/><circle cx="210.5" cy="543.2" r="3.65"/><circle cx="182.5" cy="561.5" r="3.65"/><circle cx="170.8" cy="556.4" r="3.65"/><circle cx="375.9" cy="514.2" r="3.65"/><circle cx="355.2" cy="506.5" r="3.65"/><circle cx="633.7" cy="550.9" r="3.65"/><circle cx="451.9" cy="565.3" r="3.65"/><circle cx="485.5" cy="562.7" r="3.65"/><circle cx="581.1" cy="565.6" r="3.65"/><circle cx="511.0" cy="558.0" r="3.65"/><circle cx="500.3" cy="516.2" r="3.65"/><circle cx="292.5" cy="538.8" r="3.65"/><circle cx="229.4" cy="565.2" r="3.65"/><circle cx="594.8" cy="535.2" r="3.65"/><circle cx="523.5" cy="565.9" r="3.65"/><circle cx="600.0" cy="481.4" r="3.65"/><circle cx="310.5" cy="538.2" r="3.65"/><circle cx="317.8" cy="525.7" r="3.65"/><circle cx="277.0" cy="531.8" r="3.65"/><circle cx="432.3" cy="563.1" r="3.65"/><circle cx="420.3" cy="514.4" r="3.65"/><circle cx="541.5" cy="539.4" r="3.65"/><circle cx="456.1" cy="561.5" r="3.65"/><circle cx="149.0" cy="543.9" r="3.65"/><circle cx="355.7" cy="437.2" r="3.65"/><circle cx="320.3" cy="564.8" r="3.65"/><circle cx="222.0" cy="553.6" r="3.65"/><circle cx="348.1" cy="562.1" r="3.65"/><circle cx="153.2" cy="564.1" r="3.65"/><circle cx="353.3" cy="517.2" r="3.65"/><circle cx="612.7" cy="515.0" r="3.65"/><circle cx="423.9" cy="536.5" r="3.65"/><circle cx="284.9" cy="550.6" r="3.65"/><circle cx="311.9" cy="541.5" r="3.65"/><circle cx="299.1" cy="476.2" r="3.65"/><circle cx="591.2" cy="495.1" r="3.65"/><circle cx="147.8" cy="548.0" r="3.65"/><circle cx="473.8" cy="540.3" r="3.65"/><circle cx="537.9" cy="515.0" r="3.65"/><circle cx="393.5" cy="525.4" r="3.65"/><circle cx="304.9" cy="541.4" r="3.65"/><circle cx="206.2" cy="565.6" r="3.65"/><circle cx="536.5" cy="535.6" r="3.65"/><circle cx="632.0" cy="559.6" r="3.65"/><circle cx="448.9" cy="504.2" r="3.65"/><circle cx="256.0" cy="535.5" r="3.65"/><circle cx="623.0" cy="518.0" r="3.65"/><circle cx="562.4" cy="528.5" r="3.65"/><circle cx="255.2" cy="551.6" r="3.65"/><circle cx="372.4" cy="555.6" r="3.65"/><circle cx="154.5" cy="544.8" r="3.65"/><circle cx="589.7" cy="567.4" r="3.65"/><circle cx="249.5" cy="564.0" r="3.65"/><circle cx="152.1" cy="528.5" r="3.65"/><circle cx="601.5" cy="531.1" r="3.65"/><circle cx="219.8" cy="566.1" r="3.65"/><circle cx="448.6" cy="479.3" r="3.65"/><circle cx="154.0" cy="532.7" r="3.65"/><circle cx="474.7" cy="554.9" r="3.65"/><circle cx="565.7" cy="495.3" r="3.65"/><circle cx="291.7" cy="532.6" r="3.65"/><circle cx="626.1" cy="553.9" r="3.65"/><circle cx="301.1" cy="547.4" r="3.65"/><circle cx="552.7" cy="547.1" r="3.65"/><circle cx="601.9" cy="566.1" r="3.65"/><circle cx="193.4" cy="554.5" r="3.65"/><circle cx="409.8" cy="553.6" r="3.65"/><circle cx="542.7" cy="541.9" r="3.65"/><circle cx="615.9" cy="564.8" r="3.65"/><circle cx="379.0" cy="529.5" r="3.65"/><circle cx="370.8" cy="550.9" r="3.65"/><circle cx="197.0" cy="545.8" r="3.65"/><circle cx="307.1" cy="418.6" r="3.65"/><circle cx="523.0" cy="476.1" r="3.65"/><circle cx="600.7" cy="522.6" r="3.65"/><circle cx="196.8" cy="551.5" r="3.65"/><circle cx="558.0" cy="537.5" r="3.65"/><circle cx="267.3" cy="539.4" r="3.65"/><circle cx="310.6" cy="494.2" r="3.65"/><circle cx="154.5" cy="530.1" r="3.65"/><circle cx="191.4" cy="553.2" r="3.65"/><circle cx="490.9" cy="566.7" r="3.65"/><circle cx="188.6" cy="490.8" r="3.65"/><circle cx="397.1" cy="543.9" r="3.65"/><circle cx="617.1" cy="563.8" r="3.65"/><circle cx="626.2" cy="566.4" r="3.65"/><circle cx="270.2" cy="550.7" r="3.65"/><circle cx="611.9" cy="553.7" r="3.65"/><circle cx="210.3" cy="557.8" r="3.65"/><circle cx="173.6" cy="535.3" r="3.65"/><circle cx="205.4" cy="557.8" r="3.65"/><circle cx="626.5" cy="563.5" r="3.65"/><circle cx="157.6" cy="493.2" r="3.65"/><circle cx="351.2" cy="536.8" r="3.65"/><circle cx="630.6" cy="553.1" r="3.65"/><circle cx="405.3" cy="508.8" r="3.65"/><circle cx="420.5" cy="540.6" r="3.65"/><circle cx="627.5" cy="546.8" r="3.65"/><circle cx="293.0" cy="557.1" r="3.65"/><circle cx="378.8" cy="522.6" r="3.65"/><circle cx="440.1" cy="518.0" r="3.65"/><circle cx="282.6" cy="538.8" r="3.65"/><circle cx="428.0" cy="469.3" r="3.65"/><circle cx="491.7" cy="552.7" r="3.65"/><circle cx="410.1" cy="559.9" r="3.65"/><circle cx="547.1" cy="535.8" r="3.65"/><circle cx="346.4" cy="560.8" r="3.65"/><circle cx="305.4" cy="550.8" r="3.65"/><circle cx="360.7" cy="527.4" r="3.65"/><circle cx="540.9" cy="491.3" r="3.65"/><circle cx="392.3" cy="556.2" r="3.65"/><circle cx="321.9" cy="567.8" r="3.65"/><circle cx="275.0" cy="552.4" r="3.65"/><circle cx="379.1" cy="517.2" r="3.65"/><circle cx="201.8" cy="563.2" r="3.65"/><circle cx="439.8" cy="496.2" r="3.65"/><circle cx="549.2" cy="520.4" r="3.65"/><circle cx="619.5" cy="506.0" r="3.65"/><circle cx="322.9" cy="477.1" r="3.65"/><circle cx="553.6" cy="542.4" r="3.65"/><circle cx="487.1" cy="560.8" r="3.65"/><circle cx="264.8" cy="524.0" r="3.65"/><circle cx="163.6" cy="564.9" r="3.65"/><circle cx="178.4" cy="554.3" r="3.65"/><circle cx="390.6" cy="563.5" r="3.65"/><circle cx="396.1" cy="566.2" r="3.65"/><circle cx="460.7" cy="477.5" r="3.65"/><circle cx="312.5" cy="546.5" r="3.65"/><circle cx="500.2" cy="536.5" r="3.65"/><circle cx="165.8" cy="508.7" r="3.65"/><circle cx="471.5" cy="529.8" r="3.65"/><circle cx="474.1" cy="527.4" r="3.65"/><circle cx="362.5" cy="543.9" r="3.65"/><circle cx="519.7" cy="215.1" r="3.65"/><circle cx="313.6" cy="517.1" r="3.65"/><circle cx="269.5" cy="566.9" r="3.65"/><circle cx="370.1" cy="552.2" r="3.65"/><circle cx="180.8" cy="535.2" r="3.65"/><circle cx="512.2" cy="520.2" r="3.65"/><circle cx="313.9" cy="546.4" r="3.65"/><circle cx="274.3" cy="567.0" r="3.65"/><circle cx="155.9" cy="544.0" r="3.65"/><circle cx="284.5" cy="504.9" r="3.65"/><circle cx="372.3" cy="562.2" r="3.65"/><circle cx="531.3" cy="516.5" r="3.65"/><circle cx="183.3" cy="558.1" r="3.65"/><circle cx="151.1" cy="521.4" r="3.65"/><circle cx="222.2" cy="542.9" r="3.65"/><circle cx="190.2" cy="543.9" r="3.65"/><circle cx="310.9" cy="566.1" r="3.65"/><circle cx="332.5" cy="552.1" r="3.65"/><circle cx="378.1" cy="548.9" r="3.65"/><circle cx="311.3" cy="554.7" r="3.65"/><circle cx="269.0" cy="546.3" r="3.65"/><circle cx="316.6" cy="510.2" r="3.65"/><circle cx="173.2" cy="548.0" r="3.65"/><circle cx="312.1" cy="545.9" r="3.65"/><circle cx="340.7" cy="515.8" r="3.65"/><circle cx="558.2" cy="542.2" r="3.65"/><circle cx="532.9" cy="553.5" r="3.65"/><circle cx="311.5" cy="531.7" r="3.65"/><circle cx="451.9" cy="479.9" r="3.65"/><circle cx="249.5" cy="549.5" r="3.65"/><circle cx="485.1" cy="556.2" r="3.65"/><circle cx="533.5" cy="558.8" r="3.65"/><circle cx="520.0" cy="418.5" r="3.65"/><circle cx="530.5" cy="539.8" r="3.65"/><circle cx="480.6" cy="556.5" r="3.65"/><circle cx="526.3" cy="539.3" r="3.65"/><circle cx="307.1" cy="567.9" r="3.65"/><circle cx="638.2" cy="551.2" r="3.65"/><circle cx="413.4" cy="548.0" r="3.65"/><circle cx="480.0" cy="567.3" r="3.65"/><circle cx="414.2" cy="548.2" r="3.65"/><circle cx="540.6" cy="567.1" r="3.65"/><circle cx="368.0" cy="529.1" r="3.65"/><circle cx="357.9" cy="564.3" r="3.65"/><circle cx="333.6" cy="524.0" r="3.65"/><circle cx="469.4" cy="566.7" r="3.65"/><circle cx="253.6" cy="521.8" r="3.65"/><circle cx="551.4" cy="553.8" r="3.65"/><circle cx="162.6" cy="524.2" r="3.65"/><circle cx="343.0" cy="541.3" r="3.65"/><circle cx="151.8" cy="542.6" r="3.65"/><circle cx="559.1" cy="549.3" r="3.65"/><circle cx="463.3" cy="493.1" r="3.65"/><circle cx="466.9" cy="471.7" r="3.65"/><circle cx="447.1" cy="553.7" r="3.65"/><circle cx="627.4" cy="519.0" r="3.65"/><circle cx="230.8" cy="433.9" r="3.65"/><circle cx="453.3" cy="529.0" r="3.65"/><circle cx="416.2" cy="542.2" r="3.65"/><circle cx="542.8" cy="563.8" r="3.65"/><circle cx="369.7" cy="488.6" r="3.65"/><circle cx="571.7" cy="550.0" r="3.65"/><circle cx="387.9" cy="540.6" r="3.65"/><circle cx="455.5" cy="536.4" r="3.65"/><circle cx="424.3" cy="485.6" r="3.65"/><circle cx="479.6" cy="540.0" r="3.65"/><circle cx="551.4" cy="563.9" r="3.65"/><circle cx="404.3" cy="502.7" r="3.65"/><circle cx="304.4" cy="545.5" r="3.65"/><circle cx="262.6" cy="528.8" r="3.65"/><circle cx="480.4" cy="562.5" r="3.65"/><circle cx="322.6" cy="480.9" r="3.65"/><circle cx="637.6" cy="556.5" r="3.65"/><circle cx="636.5" cy="564.0" r="3.65"/><circle cx="312.5" cy="553.0" r="3.65"/><circle cx="208.5" cy="501.2" r="3.65"/><circle cx="450.6" cy="484.7" r="3.65"/><circle cx="182.3" cy="504.1" r="3.65"/><circle cx="474.9" cy="527.6" r="3.65"/><circle cx="594.1" cy="519.6" r="3.65"/><circle cx="633.6" cy="526.9" r="3.65"/><circle cx="471.1" cy="524.0" r="3.65"/><circle cx="532.7" cy="525.6" r="3.65"/><circle cx="326.8" cy="546.6" r="3.65"/><circle cx="407.3" cy="566.3" r="3.65"/><circle cx="221.1" cy="537.7" r="3.65"/><circle cx="548.2" cy="499.3" r="3.65"/><circle cx="369.7" cy="556.1" r="3.65"/><circle cx="157.9" cy="516.6" r="3.65"/><circle cx="409.8" cy="564.6" r="3.65"/><circle cx="491.5" cy="544.8" r="3.65"/><circle cx="303.4" cy="510.8" r="3.65"/><circle cx="320.0" cy="353.1" r="3.65"/><circle cx="435.1" cy="556.6" r="3.65"/><circle cx="153.5" cy="530.6" r="3.65"/><circle cx="387.1" cy="489.3" r="3.65"/><circle cx="319.2" cy="538.7" r="3.65"/><circle cx="574.1" cy="519.8" r="3.65"/><circle cx="540.7" cy="506.0" r="3.65"/><circle cx="269.6" cy="512.0" r="3.65"/><circle cx="509.8" cy="558.6" r="3.65"/><circle cx="551.7" cy="502.3" r="3.65"/><circle cx="348.3" cy="539.1" r="3.65"/><circle cx="359.0" cy="488.4" r="3.65"/><circle cx="202.9" cy="529.4" r="3.65"/><circle cx="486.8" cy="565.5" r="3.65"/><circle cx="382.2" cy="514.6" r="3.65"/><circle cx="520.9" cy="554.0" r="3.65"/><circle cx="294.0" cy="487.0" r="3.65"/><circle cx="203.5" cy="542.8" r="3.65"/><circle cx="387.8" cy="457.6" r="3.65"/><circle cx="466.8" cy="566.2" r="3.65"/><circle cx="542.1" cy="544.7" r="3.65"/><circle cx="427.8" cy="536.5" r="3.65"/><circle cx="350.1" cy="561.4" r="3.65"/><circle cx="283.5" cy="566.0" r="3.65"/><circle cx="206.8" cy="557.4" r="3.65"/><circle cx="356.6" cy="534.1" r="3.65"/><circle cx="498.9" cy="426.7" r="3.65"/><circle cx="431.7" cy="567.0" r="3.65"/><circle cx="594.7" cy="556.4" r="3.65"/><circle cx="205.0" cy="564.2" r="3.65"/><circle cx="530.8" cy="547.8" r="3.65"/><circle cx="195.8" cy="520.6" r="3.65"/><circle cx="390.2" cy="566.1" r="3.65"/><circle cx="147.0" cy="516.0" r="3.65"/><circle cx="568.2" cy="542.5" r="3.65"/><circle cx="268.1" cy="552.3" r="3.65"/><circle cx="603.0" cy="556.5" r="3.65"/><circle cx="322.2" cy="533.5" r="3.65"/><circle cx="395.0" cy="503.4" r="3.65"/><circle cx="311.8" cy="541.7" r="3.65"/><circle cx="631.1" cy="564.0" r="3.65"/><circle cx="371.5" cy="554.8" r="3.65"/><circle cx="249.9" cy="565.4" r="3.65"/><circle cx="445.8" cy="561.6" r="3.65"/><circle cx="333.4" cy="523.6" r="3.65"/><circle cx="492.5" cy="520.6" r="3.65"/><circle cx="486.6" cy="464.9" r="3.65"/><circle cx="302.6" cy="462.3" r="3.65"/><circle cx="427.1" cy="549.7" r="3.65"/><circle cx="291.8" cy="531.2" r="3.65"/><circle cx="575.7" cy="508.1" r="3.65"/><circle cx="371.2" cy="459.5" r="3.65"/><circle cx="519.9" cy="564.4" r="3.65"/><circle cx="527.9" cy="534.4" r="3.65"/><circle cx="221.2" cy="566.8" r="3.65"/><circle cx="387.8" cy="521.5" r="3.65"/><circle cx="295.8" cy="567.1" r="3.65"/><circle cx="410.7" cy="529.8" r="3.65"/><circle cx="200.3" cy="557.9" r="3.65"/><circle cx="165.2" cy="555.4" r="3.65"/><circle cx="391.3" cy="565.4" r="3.65"/><circle cx="181.1" cy="503.5" r="3.65"/><circle cx="405.3" cy="533.6" r="3.65"/><circle cx="495.5" cy="567.0" r="3.65"/><circle cx="640.4" cy="517.2" r="3.65"/><circle cx="368.5" cy="553.2" r="3.65"/><circle cx="615.9" cy="541.6" r="3.65"/><circle cx="165.2" cy="502.3" r="3.65"/><circle cx="506.5" cy="529.5" r="3.65"/><circle cx="212.2" cy="470.7" r="3.65"/><circle cx="375.6" cy="522.6" r="3.65"/><circle cx="341.8" cy="555.6" r="3.65"/><circle cx="294.7" cy="554.2" r="3.65"/><circle cx="463.2" cy="515.1" r="3.65"/><circle cx="541.4" cy="521.7" r="3.65"/><circle cx="615.1" cy="492.9" r="3.65"/><circle cx="412.3" cy="556.1" r="3.65"/><circle cx="311.7" cy="545.9" r="3.65"/><circle cx="210.9" cy="562.0" r="3.65"/><circle cx="226.0" cy="532.8" r="3.65"/><circle cx="462.9" cy="559.1" r="3.65"/><circle cx="263.3" cy="503.2" r="3.65"/><circle cx="455.5" cy="564.2" r="3.65"/><circle cx="443.3" cy="555.6" r="3.65"/><circle cx="228.5" cy="474.8" r="3.65"/><circle cx="609.4" cy="514.0" r="3.65"/><circle cx="247.2" cy="564.0" r="3.65"/><circle cx="492.7" cy="520.3" r="3.65"/><circle cx="344.7" cy="502.9" r="3.65"/><circle cx="340.4" cy="534.5" r="3.65"/><circle cx="523.1" cy="540.1" r="3.65"/><circle cx="292.3" cy="552.8" r="3.65"/><circle cx="155.7" cy="523.0" r="3.65"/><circle cx="594.7" cy="538.6" r="3.65"/><circle cx="562.3" cy="536.3" r="3.65"/><circle cx="422.4" cy="538.1" r="3.65"/><circle cx="538.7" cy="507.6" r="3.65"/><circle cx="554.8" cy="530.0" r="3.65"/><circle cx="627.6" cy="545.5" r="3.65"/><circle cx="170.8" cy="508.0" r="3.65"/><circle cx="410.5" cy="556.9" r="3.65"/><circle cx="505.6" cy="540.7" r="3.65"/><circle cx="383.9" cy="557.5" r="3.65"/><circle cx="580.2" cy="555.3" r="3.65"/><circle cx="609.8" cy="567.5" r="3.65"/><circle cx="408.4" cy="519.6" r="3.65"/><circle cx="579.5" cy="547.4" r="3.65"/><circle cx="282.6" cy="561.2" r="3.65"/><circle cx="448.8" cy="547.5" r="3.65"/><circle cx="533.9" cy="530.6" r="3.65"/><circle cx="365.0" cy="488.4" r="3.65"/><circle cx="397.5" cy="545.8" r="3.65"/><circle cx="370.2" cy="559.7" r="3.65"/><circle cx="310.6" cy="496.8" r="3.65"/><circle cx="599.1" cy="484.0" r="3.65"/><circle cx="304.5" cy="526.9" r="3.65"/><circle cx="572.1" cy="486.4" r="3.65"/><circle cx="530.9" cy="533.9" r="3.65"/><circle cx="547.7" cy="567.0" r="3.65"/><circle cx="577.1" cy="564.6" r="3.65"/><circle cx="376.8" cy="519.4" r="3.65"/><circle cx="361.3" cy="552.7" r="3.65"/><circle cx="331.3" cy="546.5" r="3.65"/><circle cx="230.8" cy="424.6" r="3.65"/><circle cx="582.1" cy="525.5" r="3.65"/><circle cx="444.5" cy="529.0" r="3.65"/><circle cx="275.2" cy="547.5" r="3.65"/><circle cx="633.3" cy="543.7" r="3.65"/><circle cx="472.7" cy="540.6" r="3.65"/><circle cx="310.1" cy="529.6" r="3.65"/><circle cx="307.0" cy="563.0" r="3.65"/><circle cx="312.0" cy="523.7" r="3.65"/><circle cx="467.8" cy="539.5" r="3.65"/><circle cx="493.6" cy="544.7" r="3.65"/><circle cx="555.6" cy="522.5" r="3.65"/><circle cx="564.0" cy="567.0" r="3.65"/><circle cx="593.7" cy="566.4" r="3.65"/><circle cx="189.6" cy="557.4" r="3.65"/><circle cx="384.2" cy="553.6" r="3.65"/><circle cx="234.9" cy="564.7" r="3.65"/><circle cx="310.8" cy="520.2" r="3.65"/><circle cx="405.9" cy="539.4" r="3.65"/><circle cx="561.5" cy="530.2" r="3.65"/><circle cx="223.9" cy="541.2" r="3.65"/><circle cx="156.0" cy="561.8" r="3.65"/><circle cx="616.4" cy="540.2" r="3.65"/><circle cx="415.8" cy="533.1" r="3.65"/><circle cx="237.3" cy="527.7" r="3.65"/><circle cx="489.3" cy="521.8" r="3.65"/><circle cx="598.9" cy="561.3" r="3.65"/><circle cx="522.5" cy="555.4" r="3.65"/><circle cx="387.6" cy="462.7" r="3.65"/><circle cx="457.0" cy="558.3" r="3.65"/><circle cx="270.5" cy="548.3" r="3.65"/><circle cx="426.2" cy="401.7" r="3.65"/><circle cx="177.1" cy="551.6" r="3.65"/><circle cx="313.6" cy="563.1" r="3.65"/><circle cx="256.9" cy="499.1" r="3.65"/><circle cx="291.7" cy="550.0" r="3.65"/><circle cx="634.9" cy="567.0" r="3.65"/><circle cx="267.4" cy="533.6" r="3.65"/><circle cx="311.1" cy="519.4" r="3.65"/><circle cx="618.8" cy="559.5" r="3.65"/><circle cx="321.5" cy="539.2" r="3.65"/><circle cx="501.5" cy="441.1" r="3.65"/><circle cx="490.2" cy="470.0" r="3.65"/><circle cx="612.3" cy="565.4" r="3.65"/><circle cx="559.4" cy="534.8" r="3.65"/><circle cx="519.5" cy="447.3" r="3.65"/><circle cx="313.9" cy="527.2" r="3.65"/><circle cx="175.3" cy="532.7" r="3.65"/><circle cx="542.6" cy="537.7" r="3.65"/><circle cx="401.8" cy="559.5" r="3.65"/><circle cx="157.8" cy="554.3" r="3.65"/><circle cx="334.1" cy="450.5" r="3.65"/><circle cx="300.0" cy="417.8" r="3.65"/><circle cx="285.2" cy="516.6" r="3.65"/><circle cx="396.2" cy="548.2" r="3.65"/><circle cx="361.2" cy="537.3" r="3.65"/><circle cx="582.3" cy="501.6" r="3.65"/><circle cx="387.3" cy="484.1" r="3.65"/><circle cx="180.8" cy="565.4" r="3.65"/><circle cx="408.7" cy="539.3" r="3.65"/><circle cx="202.2" cy="454.6" r="3.65"/><circle cx="219.5" cy="562.2" r="3.65"/><circle cx="528.8" cy="527.1" r="3.65"/><circle cx="476.0" cy="546.6" r="3.65"/><circle cx="398.3" cy="542.5" r="3.65"/><circle cx="588.1" cy="523.3" r="3.65"/><circle cx="536.9" cy="553.8" r="3.65"/><circle cx="307.4" cy="429.2" r="3.65"/><circle cx="197.0" cy="516.3" r="3.65"/><circle cx="236.6" cy="528.8" r="3.65"/><circle cx="449.0" cy="523.3" r="3.65"/><circle cx="343.9" cy="498.9" r="3.65"/><circle cx="227.9" cy="542.7" r="3.65"/><circle cx="290.8" cy="564.9" r="3.65"/><circle cx="295.8" cy="513.2" r="3.65"/><circle cx="467.2" cy="508.7" r="3.65"/><circle cx="434.0" cy="517.0" r="3.65"/><circle cx="617.0" cy="566.3" r="3.65"/><circle cx="270.2" cy="517.9" r="3.65"/><circle cx="178.0" cy="551.0" r="3.65"/><circle cx="492.5" cy="549.7" r="3.65"/><circle cx="578.3" cy="564.9" r="3.65"/><circle cx="289.6" cy="552.1" r="3.65"/><circle cx="386.5" cy="543.5" r="3.65"/><circle cx="518.5" cy="561.4" r="3.65"/><circle cx="167.4" cy="554.8" r="3.65"/><circle cx="456.8" cy="521.9" r="3.65"/><circle cx="205.3" cy="540.9" r="3.65"/><circle cx="472.6" cy="444.8" r="3.65"/><circle cx="334.6" cy="556.9" r="3.65"/><circle cx="449.8" cy="547.7" r="3.65"/><circle cx="311.5" cy="552.8" r="3.65"/><circle cx="294.2" cy="549.0" r="3.65"/><circle cx="554.9" cy="539.7" r="3.65"/><circle cx="223.1" cy="551.7" r="3.65"/><circle cx="518.8" cy="537.6" r="3.65"/><circle cx="321.2" cy="559.0" r="3.65"/><circle cx="250.7" cy="542.6" r="3.65"/><circle cx="575.4" cy="458.5" r="3.65"/><circle cx="365.4" cy="525.2" r="3.65"/><circle cx="361.1" cy="526.7" r="3.65"/><circle cx="289.7" cy="529.2" r="3.65"/><circle cx="431.9" cy="532.8" r="3.65"/><circle cx="443.0" cy="563.6" r="3.65"/><circle cx="576.1" cy="556.6" r="3.65"/><circle cx="311.3" cy="476.1" r="3.65"/><circle cx="415.1" cy="515.8" r="3.65"/><circle cx="589.5" cy="561.5" r="3.65"/><circle cx="448.4" cy="490.8" r="3.65"/><circle cx="503.3" cy="534.4" r="3.65"/><circle cx="543.4" cy="546.9" r="3.65"/><circle cx="160.0" cy="566.4" r="3.65"/><circle cx="409.3" cy="541.2" r="3.65"/><circle cx="182.7" cy="549.4" r="3.65"/><circle cx="587.8" cy="565.1" r="3.65"/><circle cx="409.9" cy="492.2" r="3.65"/><circle cx="294.5" cy="560.7" r="3.65"/><circle cx="549.4" cy="546.0" r="3.65"/><circle cx="285.6" cy="567.6" r="3.65"/><circle cx="304.5" cy="523.3" r="3.65"/><circle cx="306.2" cy="559.3" r="3.65"/><circle cx="278.2" cy="560.4" r="3.65"/><circle cx="429.8" cy="502.8" r="3.65"/><circle cx="271.0" cy="550.0" r="3.65"/><circle cx="542.2" cy="565.9" r="3.65"/><circle cx="490.3" cy="548.1" r="3.65"/><circle cx="598.4" cy="517.2" r="3.65"/><circle cx="323.9" cy="553.9" r="3.65"/><circle cx="493.4" cy="560.6" r="3.65"/><circle cx="312.4" cy="517.5" r="3.65"/><circle cx="281.9" cy="562.3" r="3.65"/><circle cx="541.9" cy="530.0" r="3.65"/><circle cx="147.5" cy="507.2" r="3.65"/><circle cx="565.0" cy="566.0" r="3.65"/><circle cx="455.1" cy="549.9" r="3.65"/><circle cx="179.9" cy="538.2" r="3.65"/><circle cx="311.9" cy="522.4" r="3.65"/><circle cx="230.3" cy="560.6" r="3.65"/><circle cx="631.6" cy="531.1" r="3.65"/><circle cx="386.2" cy="551.5" r="3.65"/><circle cx="195.9" cy="557.7" r="3.65"/><circle cx="612.8" cy="538.6" r="3.65"/><circle cx="229.5" cy="533.4" r="3.65"/><circle cx="547.4" cy="528.0" r="3.65"/><circle cx="503.4" cy="489.4" r="3.65"/><circle cx="552.3" cy="480.5" r="3.65"/><circle cx="548.9" cy="566.4" r="3.65"/><circle cx="625.2" cy="522.0" r="3.65"/><circle cx="374.6" cy="566.9" r="3.65"/><circle cx="387.5" cy="566.7" r="3.65"/><circle cx="160.2" cy="565.3" r="3.65"/><circle cx="199.9" cy="482.6" r="3.65"/><circle cx="428.7" cy="540.2" r="3.65"/><circle cx="170.1" cy="515.0" r="3.65"/><circle cx="308.2" cy="540.1" r="3.65"/><circle cx="275.7" cy="556.2" r="3.65"/><circle cx="291.1" cy="565.4" r="3.65"/><circle cx="366.0" cy="542.5" r="3.65"/><circle cx="270.0" cy="524.3" r="3.65"/><circle cx="160.2" cy="546.7" r="3.65"/><circle cx="315.2" cy="548.5" r="3.65"/><circle cx="537.7" cy="551.4" r="3.65"/><circle cx="218.6" cy="524.8" r="3.65"/><circle cx="226.7" cy="550.1" r="3.65"/><circle cx="476.5" cy="555.8" r="3.65"/><circle cx="151.0" cy="543.2" r="3.65"/><circle cx="506.1" cy="521.4" r="3.65"/><circle cx="269.2" cy="568.0" r="3.65"/><circle cx="384.1" cy="537.4" r="3.65"/><circle cx="427.6" cy="541.3" r="3.65"/><circle cx="447.8" cy="541.9" r="3.65"/><circle cx="283.1" cy="545.7" r="3.65"/><circle cx="213.4" cy="550.5" r="3.65"/><circle cx="405.7" cy="566.7" r="3.65"/><circle cx="311.9" cy="541.9" r="3.65"/><circle cx="195.7" cy="540.6" r="3.65"/><circle cx="509.2" cy="559.7" r="3.65"/><circle cx="536.6" cy="538.0" r="3.65"/><circle cx="247.2" cy="507.6" r="3.65"/><circle cx="157.4" cy="564.5" r="3.65"/><circle cx="450.8" cy="566.2" r="3.65"/><circle cx="295.5" cy="564.9" r="3.65"/><circle cx="541.7" cy="540.2" r="3.65"/><circle cx="198.7" cy="531.9" r="3.65"/><circle cx="311.6" cy="553.2" r="3.65"/><circle cx="589.4" cy="465.5" r="3.65"/><circle cx="410.3" cy="504.9" r="3.65"/><circle cx="326.5" cy="557.7" r="3.65"/><circle cx="248.1" cy="545.0" r="3.65"/><circle cx="539.0" cy="498.5" r="3.65"/><circle cx="593.2" cy="553.9" r="3.65"/><circle cx="162.0" cy="538.9" r="3.65"/><circle cx="176.2" cy="533.8" r="3.65"/><circle cx="232.6" cy="538.2" r="3.65"/><circle cx="300.4" cy="556.1" r="3.65"/><circle cx="274.3" cy="484.6" r="3.65"/><circle cx="453.5" cy="563.9" r="3.65"/><circle cx="456.0" cy="507.4" r="3.65"/><circle cx="637.7" cy="546.3" r="3.65"/><circle cx="556.2" cy="523.7" r="3.65"/><circle cx="283.9" cy="543.4" r="3.65"/><circle cx="598.2" cy="538.1" r="3.65"/><circle cx="367.3" cy="546.1" r="3.65"/><circle cx="311.0" cy="538.6" r="3.65"/><circle cx="522.2" cy="529.5" r="3.65"/><circle cx="596.7" cy="540.8" r="3.65"/><circle cx="299.7" cy="560.8" r="3.65"/><circle cx="477.2" cy="547.3" r="3.65"/><circle cx="431.7" cy="565.2" r="3.65"/><circle cx="248.9" cy="519.4" r="3.65"/><circle cx="617.6" cy="506.1" r="3.65"/><circle cx="527.4" cy="509.9" r="3.65"/><circle cx="310.8" cy="525.8" r="3.65"/><circle cx="459.3" cy="551.3" r="3.65"/><circle cx="308.9" cy="424.1" r="3.65"/><circle cx="321.7" cy="520.7" r="3.65"/><circle cx="444.8" cy="523.1" r="3.65"/><circle cx="385.6" cy="566.6" r="3.65"/><circle cx="444.2" cy="496.5" r="3.65"/><circle cx="517.1" cy="522.9" r="3.65"/><circle cx="188.2" cy="565.9" r="3.65"/><circle cx="312.2" cy="534.5" r="3.65"/><circle cx="487.1" cy="565.9" r="3.65"/><circle cx="487.9" cy="535.2" r="3.65"/><circle cx="624.1" cy="476.7" r="3.65"/><circle cx="521.0" cy="512.4" r="3.65"/><circle cx="520.0" cy="560.8" r="3.65"/><circle cx="540.3" cy="563.6" r="3.65"/><circle cx="511.8" cy="540.9" r="3.65"/><circle cx="327.8" cy="560.1" r="3.65"/><circle cx="408.0" cy="560.0" r="3.65"/><circle cx="251.8" cy="534.4" r="3.65"/><circle cx="411.0" cy="555.1" r="3.65"/><circle cx="619.2" cy="537.4" r="3.65"/><circle cx="209.8" cy="533.9" r="3.65"/><circle cx="300.0" cy="470.9" r="3.65"/><circle cx="557.0" cy="564.6" r="3.65"/><circle cx="349.5" cy="566.8" r="3.65"/><circle cx="328.4" cy="562.8" r="3.65"/><circle cx="492.9" cy="490.9" r="3.65"/><circle cx="554.2" cy="553.2" r="3.65"/><circle cx="303.9" cy="545.1" r="3.65"/><circle cx="591.2" cy="562.4" r="3.65"/><circle cx="377.0" cy="559.6" r="3.65"/><circle cx="457.4" cy="494.8" r="3.65"/><circle cx="285.9" cy="567.8" r="3.65"/><circle cx="414.7" cy="519.9" r="3.65"/><circle cx="405.8" cy="554.8" r="3.65"/><circle cx="181.7" cy="558.4" r="3.65"/><circle cx="532.8" cy="561.9" r="3.65"/><circle cx="255.6" cy="552.0" r="3.65"/><circle cx="320.3" cy="530.0" r="3.65"/><circle cx="294.3" cy="548.6" r="3.65"/><circle cx="420.7" cy="550.6" r="3.65"/><circle cx="328.7" cy="563.9" r="3.65"/><circle cx="170.0" cy="521.7" r="3.65"/><circle cx="295.2" cy="506.1" r="3.65"/><circle cx="540.9" cy="554.1" r="3.65"/><circle cx="507.9" cy="521.0" r="3.65"/><circle cx="538.5" cy="565.6" r="3.65"/><circle cx="259.9" cy="555.1" r="3.65"/><circle cx="376.7" cy="541.0" r="3.65"/><circle cx="500.5" cy="343.8" r="3.65"/><circle cx="357.8" cy="560.3" r="3.65"/><circle cx="592.8" cy="540.9" r="3.65"/><circle cx="310.7" cy="526.8" r="3.65"/><circle cx="402.6" cy="519.7" r="3.65"/><circle cx="424.4" cy="497.6" r="3.65"/><circle cx="229.8" cy="555.7" r="3.65"/><circle cx="558.5" cy="566.2" r="3.65"/><circle cx="234.2" cy="524.0" r="3.65"/><circle cx="221.9" cy="504.1" r="3.65"/><circle cx="365.5" cy="494.8" r="3.65"/><circle cx="420.3" cy="525.9" r="3.65"/><circle cx="485.6" cy="516.5" r="3.65"/><circle cx="167.3" cy="567.0" r="3.65"/><circle cx="454.0" cy="524.0" r="3.65"/><circle cx="614.4" cy="567.2" r="3.65"/><circle cx="555.2" cy="468.7" r="3.65"/><circle cx="399.6" cy="538.1" r="3.65"/><circle cx="310.6" cy="539.1" r="3.65"/><circle cx="383.9" cy="539.1" r="3.65"/><circle cx="550.5" cy="529.1" r="3.65"/><circle cx="343.4" cy="560.9" r="3.65"/><circle cx="500.6" cy="522.9" r="3.65"/><circle cx="351.1" cy="558.5" r="3.65"/><circle cx="327.2" cy="479.2" r="3.65"/><circle cx="261.7" cy="538.1" r="3.65"/><circle cx="367.0" cy="512.1" r="3.65"/><circle cx="633.9" cy="542.6" r="3.65"/><circle cx="507.3" cy="558.8" r="3.65"/><circle cx="519.9" cy="489.1" r="3.65"/><circle cx="215.2" cy="493.0" r="3.65"/><circle cx="613.2" cy="537.9" r="3.65"/><circle cx="173.5" cy="535.2" r="3.65"/><circle cx="459.6" cy="539.0" r="3.65"/><circle cx="488.3" cy="553.4" r="3.65"/><circle cx="345.5" cy="560.3" r="3.65"/><circle cx="229.1" cy="516.2" r="3.65"/><circle cx="486.6" cy="520.5" r="3.65"/><circle cx="636.3" cy="566.4" r="3.65"/><circle cx="240.9" cy="542.3" r="3.65"/><circle cx="311.4" cy="487.5" r="3.65"/><circle cx="447.2" cy="544.7" r="3.65"/><circle cx="382.6" cy="532.8" r="3.65"/><circle cx="361.4" cy="532.4" r="3.65"/><circle cx="498.1" cy="541.5" r="3.65"/><circle cx="428.9" cy="552.7" r="3.65"/><circle cx="595.6" cy="517.7" r="3.65"/><circle cx="524.5" cy="517.1" r="3.65"/><circle cx="211.6" cy="554.2" r="3.65"/><circle cx="154.1" cy="460.4" r="3.65"/><circle cx="505.0" cy="503.2" r="3.65"/><circle cx="247.4" cy="514.1" r="3.65"/><circle cx="436.9" cy="554.2" r="3.65"/><circle cx="388.2" cy="534.8" r="3.65"/><circle cx="209.1" cy="565.8" r="3.65"/><circle cx="217.1" cy="522.1" r="3.65"/><circle cx="476.3" cy="550.9" r="3.65"/><circle cx="633.6" cy="531.0" r="3.65"/><circle cx="147.0" cy="490.4" r="3.65"/><circle cx="234.4" cy="555.5" r="3.65"/><circle cx="537.3" cy="515.9" r="3.65"/><circle cx="251.0" cy="563.6" r="3.65"/><circle cx="541.3" cy="525.8" r="3.65"/><circle cx="607.1" cy="542.6" r="3.65"/><circle cx="462.4" cy="512.8" r="3.65"/><circle cx="401.2" cy="567.8" r="3.65"/><circle cx="254.5" cy="559.6" r="3.65"/><circle cx="274.6" cy="538.4" r="3.65"/><circle cx="561.1" cy="544.5" r="3.65"/><circle cx="449.3" cy="488.9" r="3.65"/><circle cx="274.5" cy="516.9" r="3.65"/><circle cx="389.1" cy="534.6" r="3.65"/><circle cx="311.9" cy="565.5" r="3.65"/><circle cx="563.8" cy="500.8" r="3.65"/><circle cx="366.7" cy="499.8" r="3.65"/><circle cx="299.8" cy="567.0" r="3.65"/><circle cx="436.4" cy="494.3" r="3.65"/><circle cx="510.9" cy="559.8" r="3.65"/><circle cx="544.7" cy="566.5" r="3.65"/><circle cx="155.2" cy="544.0" r="3.65"/><circle cx="208.2" cy="531.7" r="3.65"/><circle cx="404.7" cy="482.8" r="3.65"/><circle cx="262.2" cy="509.3" r="3.65"/><circle cx="418.0" cy="559.7" r="3.65"/><circle cx="186.0" cy="503.7" r="3.65"/><circle cx="344.6" cy="528.5" r="3.65"/><circle cx="430.3" cy="557.0" r="3.65"/><circle cx="253.9" cy="554.8" r="3.65"/><circle cx="476.8" cy="523.4" r="3.65"/><circle cx="205.5" cy="535.6" r="3.65"/><circle cx="267.0" cy="465.1" r="3.65"/><circle cx="233.8" cy="557.9" r="3.65"/><circle cx="407.2" cy="516.3" r="3.65"/><circle cx="188.1" cy="520.5" r="3.65"/><circle cx="316.4" cy="535.1" r="3.65"/><circle cx="599.8" cy="529.9" r="3.65"/><circle cx="512.5" cy="498.6" r="3.65"/><circle cx="294.1" cy="562.1" r="3.65"/><circle cx="441.7" cy="563.7" r="3.65"/><circle cx="402.3" cy="567.4" r="3.65"/><circle cx="491.0" cy="565.7" r="3.65"/><circle cx="415.7" cy="524.5" r="3.65"/><circle cx="391.0" cy="473.0" r="3.65"/><circle cx="308.6" cy="528.9" r="3.65"/><circle cx="539.8" cy="539.2" r="3.65"/><circle cx="379.1" cy="527.3" r="3.65"/><circle cx="558.5" cy="552.4" r="3.65"/><circle cx="291.5" cy="567.5" r="3.65"/><circle cx="318.2" cy="553.9" r="3.65"/><circle cx="595.8" cy="557.7" r="3.65"/><circle cx="536.5" cy="543.1" r="3.65"/><circle cx="458.5" cy="471.1" r="3.65"/><circle cx="468.9" cy="552.1" r="3.65"/><circle cx="544.0" cy="556.7" r="3.65"/><circle cx="583.5" cy="549.1" r="3.65"/><circle cx="438.1" cy="545.2" r="3.65"/><circle cx="269.0" cy="551.9" r="3.65"/><circle cx="308.9" cy="361.7" r="3.65"/><circle cx="455.2" cy="533.4" r="3.65"/><circle cx="188.6" cy="513.1" r="3.65"/><circle cx="470.2" cy="535.1" r="3.65"/><circle cx="305.7" cy="555.7" r="3.65"/><circle cx="360.1" cy="465.3" r="3.65"/><circle cx="417.8" cy="566.2" r="3.65"/><circle cx="200.8" cy="565.6" r="3.65"/><circle cx="412.0" cy="565.2" r="3.65"/><circle cx="476.8" cy="550.3" r="3.65"/><circle cx="465.1" cy="565.9" r="3.65"/><circle cx="154.2" cy="537.8" r="3.65"/><circle cx="311.6" cy="551.0" r="3.65"/><circle cx="516.3" cy="533.4" r="3.65"/><circle cx="542.5" cy="559.7" r="3.65"/><circle cx="149.9" cy="518.9" r="3.65"/><circle cx="627.5" cy="496.8" r="3.65"/><circle cx="200.1" cy="567.7" r="3.65"/><circle cx="544.9" cy="531.0" r="3.65"/><circle cx="407.9" cy="539.8" r="3.65"/><circle cx="541.2" cy="563.3" r="3.65"/><circle cx="181.9" cy="542.4" r="3.65"/><circle cx="541.7" cy="550.6" r="3.65"/><circle cx="322.2" cy="518.8" r="3.65"/><circle cx="371.2" cy="548.5" r="3.65"/><circle cx="430.0" cy="535.6" r="3.65"/><circle cx="427.8" cy="567.8" r="3.65"/><circle cx="421.7" cy="559.5" r="3.65"/><circle cx="406.3" cy="555.5" r="3.65"/><circle cx="364.6" cy="520.7" r="3.65"/><circle cx="412.6" cy="450.5" r="3.65"/><circle cx="222.3" cy="518.6" r="3.65"/><circle cx="598.8" cy="561.5" r="3.65"/><circle cx="259.5" cy="519.2" r="3.65"/><circle cx="324.4" cy="550.2" r="3.65"/><circle cx="340.9" cy="544.6" r="3.65"/><circle cx="520.9" cy="563.6" r="3.65"/><circle cx="519.7" cy="494.2" r="3.65"/><circle cx="168.1" cy="567.7" r="3.65"/><circle cx="498.4" cy="560.1" r="3.65"/><circle cx="279.0" cy="551.0" r="3.65"/><circle cx="363.1" cy="518.9" r="3.65"/><circle cx="314.9" cy="532.5" r="3.65"/><circle cx="177.9" cy="456.7" r="3.65"/><circle cx="469.2" cy="558.1" r="3.65"/><circle cx="231.8" cy="508.8" r="3.65"/><circle cx="377.1" cy="538.3" r="3.65"/><circle cx="569.5" cy="522.6" r="3.65"/><circle cx="352.1" cy="501.8" r="3.65"/><circle cx="537.7" cy="556.5" r="3.65"/><circle cx="401.2" cy="559.3" r="3.65"/><circle cx="403.2" cy="534.3" r="3.65"/><circle cx="550.0" cy="561.4" r="3.65"/><circle cx="529.2" cy="551.1" r="3.65"/><circle cx="256.7" cy="547.4" r="3.65"/><circle cx="380.9" cy="362.2" r="3.65"/><circle cx="603.7" cy="557.8" r="3.65"/><circle cx="186.7" cy="539.4" r="3.65"/><circle cx="204.3" cy="441.0" r="3.65"/><circle cx="470.4" cy="525.4" r="3.65"/><circle cx="629.0" cy="528.8" r="3.65"/><circle cx="384.3" cy="497.5" r="3.65"/><circle cx="514.1" cy="564.7" r="3.65"/><circle cx="310.6" cy="556.8" r="3.65"/><circle cx="192.5" cy="447.7" r="3.65"/><circle cx="360.4" cy="530.9" r="3.65"/><circle cx="177.1" cy="538.6" r="3.65"/><circle cx="182.1" cy="516.5" r="3.65"/><circle cx="331.3" cy="513.3" r="3.65"/><circle cx="278.0" cy="556.5" r="3.65"/><circle cx="511.6" cy="542.4" r="3.65"/><circle cx="194.3" cy="550.6" r="3.65"/><circle cx="503.1" cy="512.4" r="3.65"/><circle cx="637.3" cy="534.6" r="3.65"/><circle cx="328.1" cy="534.4" r="3.65"/><circle cx="545.7" cy="553.5" r="3.65"/><circle cx="353.7" cy="545.7" r="3.65"/><circle cx="608.5" cy="528.4" r="3.65"/><circle cx="449.2" cy="554.8" r="3.65"/><circle cx="562.7" cy="559.3" r="3.65"/><circle cx="365.2" cy="533.3" r="3.65"/><circle cx="387.8" cy="562.6" r="3.65"/><circle cx="378.2" cy="498.8" r="3.65"/><circle cx="532.3" cy="567.9" r="3.65"/><circle cx="311.9" cy="564.6" r="3.65"/><circle cx="578.4" cy="565.0" r="3.65"/><circle cx="391.8" cy="523.4" r="3.65"/><circle cx="184.1" cy="564.0" r="3.65"/><circle cx="552.0" cy="509.5" r="3.65"/><circle cx="206.0" cy="504.1" r="3.65"/><circle cx="455.2" cy="566.7" r="3.65"/><circle cx="590.5" cy="532.8" r="3.65"/><circle cx="371.3" cy="554.4" r="3.65"/><circle cx="540.8" cy="531.2" r="3.65"/><circle cx="253.0" cy="482.2" r="3.65"/><circle cx="170.9" cy="562.4" r="3.65"/><circle cx="387.7" cy="531.6" r="3.65"/><circle cx="284.5" cy="533.0" r="3.65"/><circle cx="628.8" cy="567.3" r="3.65"/><circle cx="220.3" cy="558.6" r="3.65"/><circle cx="310.2" cy="549.7" r="3.65"/><circle cx="416.8" cy="557.5" r="3.65"/><circle cx="207.1" cy="536.7" r="3.65"/><circle cx="318.2" cy="551.1" r="3.65"/><circle cx="408.5" cy="565.4" r="3.65"/><circle cx="277.7" cy="563.8" r="3.65"/><circle cx="494.5" cy="540.8" r="3.65"/><circle cx="624.1" cy="494.7" r="3.65"/><circle cx="624.3" cy="559.8" r="3.65"/><circle cx="396.8" cy="504.3" r="3.65"/><circle cx="460.1" cy="551.8" r="3.65"/><circle cx="311.1" cy="529.0" r="3.65"/><circle cx="456.9" cy="547.5" r="3.65"/><circle cx="311.1" cy="550.1" r="3.65"/><circle cx="317.5" cy="557.9" r="3.65"/><circle cx="242.6" cy="562.1" r="3.65"/><circle cx="349.8" cy="548.9" r="3.65"/><circle cx="311.5" cy="522.7" r="3.65"/><circle cx="169.8" cy="501.1" r="3.65"/><circle cx="282.9" cy="437.7" r="3.65"/><circle cx="295.4" cy="520.3" r="3.65"/><circle cx="310.1" cy="550.4" r="3.65"/><circle cx="275.5" cy="550.8" r="3.65"/><circle cx="524.9" cy="554.7" r="3.65"/><circle cx="468.8" cy="432.9" r="3.65"/><circle cx="283.0" cy="565.0" r="3.65"/><circle cx="191.1" cy="554.0" r="3.65"/><circle cx="201.3" cy="549.9" r="3.65"/><circle cx="427.1" cy="533.5" r="3.65"/><circle cx="502.4" cy="562.5" r="3.65"/><circle cx="344.3" cy="542.0" r="3.65"/><circle cx="629.6" cy="540.8" r="3.65"/><circle cx="149.9" cy="480.5" r="3.65"/><circle cx="613.7" cy="503.0" r="3.65"/><circle cx="385.2" cy="512.1" r="3.65"/><circle cx="620.3" cy="553.1" r="3.65"/><circle cx="553.9" cy="439.6" r="3.65"/><circle cx="591.9" cy="530.1" r="3.65"/><circle cx="274.9" cy="563.7" r="3.65"/><circle cx="171.5" cy="564.6" r="3.65"/><circle cx="526.1" cy="562.7" r="3.65"/><circle cx="488.9" cy="546.3" r="3.65"/><circle cx="166.0" cy="517.2" r="3.65"/><circle cx="399.5" cy="394.9" r="3.65"/><circle cx="226.1" cy="538.7" r="3.65"/><circle cx="432.8" cy="533.9" r="3.65"/><circle cx="257.1" cy="562.7" r="3.65"/><circle cx="537.6" cy="541.3" r="3.65"/><circle cx="513.3" cy="521.7" r="3.65"/><circle cx="397.8" cy="556.6" r="3.65"/><circle cx="284.2" cy="539.8" r="3.65"/><circle cx="195.0" cy="555.9" r="3.65"/><circle cx="311.7" cy="543.2" r="3.65"/><circle cx="198.1" cy="497.9" r="3.65"/><circle cx="165.9" cy="515.6" r="3.65"/><circle cx="258.7" cy="525.9" r="3.65"/><circle cx="263.8" cy="451.8" r="3.65"/><circle cx="488.1" cy="542.4" r="3.65"/><circle cx="539.5" cy="526.3" r="3.65"/><circle cx="274.8" cy="547.1" r="3.65"/><circle cx="295.1" cy="504.5" r="3.65"/><circle cx="238.8" cy="515.8" r="3.65"/><circle cx="234.5" cy="547.5" r="3.65"/><circle cx="321.8" cy="543.0" r="3.65"/><circle cx="163.1" cy="340.3" r="3.65"/><circle cx="363.6" cy="537.4" r="3.65"/><circle cx="561.5" cy="562.0" r="3.65"/><circle cx="471.1" cy="524.6" r="3.65"/><circle cx="300.0" cy="366.0" r="3.65"/><circle cx="560.6" cy="553.2" r="3.65"/><circle cx="532.2" cy="536.2" r="3.65"/><circle cx="527.1" cy="489.0" r="3.65"/><circle cx="204.2" cy="555.2" r="3.65"/><circle cx="405.1" cy="468.3" r="3.65"/><circle cx="560.9" cy="515.1" r="3.65"/><circle cx="632.5" cy="538.4" r="3.65"/><circle cx="447.4" cy="524.3" r="3.65"/><circle cx="424.2" cy="562.0" r="3.65"/><circle cx="289.0" cy="551.0" r="3.65"/><circle cx="353.1" cy="545.7" r="3.65"/><circle cx="553.0" cy="546.9" r="3.65"/><circle cx="310.1" cy="494.3" r="3.65"/><circle cx="326.6" cy="485.9" r="3.65"/><circle cx="275.3" cy="512.1" r="3.65"/><circle cx="299.8" cy="532.9" r="3.65"/><circle cx="485.7" cy="470.2" r="3.65"/><circle cx="480.1" cy="545.2" r="3.65"/><circle cx="612.5" cy="566.3" r="3.65"/><circle cx="408.8" cy="530.0" r="3.65"/><circle cx="589.0" cy="560.7" r="3.65"/><circle cx="531.1" cy="521.3" r="3.65"/><circle cx="634.2" cy="552.8" r="3.65"/><circle cx="360.9" cy="565.0" r="3.65"/><circle cx="476.8" cy="566.2" r="3.65"/><circle cx="185.2" cy="520.9" r="3.65"/><circle cx="284.4" cy="537.1" r="3.65"/><circle cx="290.4" cy="482.4" r="3.65"/><circle cx="542.5" cy="510.5" r="3.65"/><circle cx="154.2" cy="518.3" r="3.65"/><circle cx="291.8" cy="559.3" r="3.65"/><circle cx="486.2" cy="541.3" r="3.65"/><circle cx="561.7" cy="520.9" r="3.65"/><circle cx="241.1" cy="509.3" r="3.65"/><circle cx="475.1" cy="524.2" r="3.65"/><circle cx="166.8" cy="562.6" r="3.65"/><circle cx="541.2" cy="556.0" r="3.65"/><circle cx="227.9" cy="539.3" r="3.65"/><circle cx="320.9" cy="559.5" r="3.65"/><circle cx="315.9" cy="516.9" r="3.65"/><circle cx="632.3" cy="551.0" r="3.65"/><circle cx="288.5" cy="567.0" r="3.65"/><circle cx="337.0" cy="560.3" r="3.65"/><circle cx="634.7" cy="566.2" r="3.65"/><circle cx="583.5" cy="528.6" r="3.65"/><circle cx="191.7" cy="558.7" r="3.65"/><circle cx="259.2" cy="551.3" r="3.65"/><circle cx="249.2" cy="541.2" r="3.65"/><circle cx="541.6" cy="528.1" r="3.65"/><circle cx="606.5" cy="558.0" r="3.65"/><circle cx="216.7" cy="478.5" r="3.65"/><circle cx="183.4" cy="541.7" r="3.65"/><circle cx="554.7" cy="471.1" r="3.65"/><circle cx="303.9" cy="544.4" r="3.65"/><circle cx="228.3" cy="567.5" r="3.65"/><circle cx="599.3" cy="476.8" r="3.65"/><circle cx="165.2" cy="561.8" r="3.65"/><circle cx="491.9" cy="564.9" r="3.65"/><circle cx="539.1" cy="567.3" r="3.65"/><circle cx="503.4" cy="552.1" r="3.65"/><circle cx="594.1" cy="504.9" r="3.65"/><circle cx="596.5" cy="508.1" r="3.65"/><circle cx="372.0" cy="536.7" r="3.65"/><circle cx="589.0" cy="523.0" r="3.65"/><circle cx="313.7" cy="490.7" r="3.65"/><circle cx="171.5" cy="493.2" r="3.65"/><circle cx="342.8" cy="554.4" r="3.65"/><circle cx="325.1" cy="516.7" r="3.65"/><circle cx="381.8" cy="526.4" r="3.65"/><circle cx="583.8" cy="551.4" r="3.65"/><circle cx="237.5" cy="527.0" r="3.65"/><circle cx="204.7" cy="544.8" r="3.65"/><circle cx="511.2" cy="563.7" r="3.65"/><circle cx="437.6" cy="521.3" r="3.65"/><circle cx="314.6" cy="544.3" r="3.65"/><circle cx="205.4" cy="499.0" r="3.65"/><circle cx="541.2" cy="560.6" r="3.65"/><circle cx="227.6" cy="547.7" r="3.65"/><circle cx="318.2" cy="549.4" r="3.65"/><circle cx="500.1" cy="556.2" r="3.65"/><circle cx="450.9" cy="559.1" r="3.65"/><circle cx="355.8" cy="481.6" r="3.65"/><circle cx="376.4" cy="541.0" r="3.65"/><circle cx="160.5" cy="552.6" r="3.65"/><circle cx="519.5" cy="370.7" r="3.65"/><circle cx="463.8" cy="523.5" r="3.65"/><circle cx="314.4" cy="567.4" r="3.65"/><circle cx="555.0" cy="485.3" r="3.65"/><circle cx="525.4" cy="565.0" r="3.65"/><circle cx="586.5" cy="516.5" r="3.65"/><circle cx="365.4" cy="505.6" r="3.65"/><circle cx="166.1" cy="545.0" r="3.65"/><circle cx="587.8" cy="548.6" r="3.65"/><circle cx="318.4" cy="475.8" r="3.65"/><circle cx="440.7" cy="525.8" r="3.65"/><circle cx="272.8" cy="567.3" r="3.65"/><circle cx="329.2" cy="526.5" r="3.65"/><circle cx="381.2" cy="553.2" r="3.65"/><circle cx="459.1" cy="566.5" r="3.65"/><circle cx="538.0" cy="545.0" r="3.65"/><circle cx="416.7" cy="518.8" r="3.65"/><circle cx="605.8" cy="529.0" r="3.65"/><circle cx="399.4" cy="541.4" r="3.65"/><circle cx="221.6" cy="548.8" r="3.65"/><circle cx="376.3" cy="553.9" r="3.65"/><circle cx="556.4" cy="556.1" r="3.65"/><circle cx="296.9" cy="538.5" r="3.65"/><circle cx="498.3" cy="567.5" r="3.65"/><circle cx="171.9" cy="449.5" r="3.65"/><circle cx="579.4" cy="514.6" r="3.65"/><circle cx="596.1" cy="566.7" r="3.65"/><circle cx="511.7" cy="504.9" r="3.65"/><circle cx="592.5" cy="563.7" r="3.65"/><circle cx="338.7" cy="548.7" r="3.65"/><circle cx="249.9" cy="505.6" r="3.65"/><circle cx="617.8" cy="545.4" r="3.65"/><circle cx="497.7" cy="529.6" r="3.65"/><circle cx="418.6" cy="509.1" r="3.65"/><circle cx="207.1" cy="560.0" r="3.65"/><circle cx="203.2" cy="473.0" r="3.65"/><circle cx="227.8" cy="538.8" r="3.65"/><circle cx="492.2" cy="439.6" r="3.65"/><circle cx="211.3" cy="534.6" r="3.65"/><circle cx="554.3" cy="491.5" r="3.65"/><circle cx="148.6" cy="561.9" r="3.65"/><circle cx="189.6" cy="533.9" r="3.65"/><circle cx="420.4" cy="559.3" r="3.65"/><circle cx="371.2" cy="532.9" r="3.65"/><circle cx="448.5" cy="543.3" r="3.65"/><circle cx="305.6" cy="531.2" r="3.65"/><circle cx="414.4" cy="465.5" r="3.65"/><circle cx="250.7" cy="542.6" r="3.65"/><circle cx="634.6" cy="528.6" r="3.65"/><circle cx="338.8" cy="463.6" r="3.65"/><circle cx="295.5" cy="565.8" r="3.65"/><circle cx="476.5" cy="531.7" r="3.65"/><circle cx="507.5" cy="543.8" r="3.65"/><circle cx="147.8" cy="528.7" r="3.65"/><circle cx="398.5" cy="459.8" r="3.65"/><circle cx="401.6" cy="564.3" r="3.65"/><circle cx="590.8" cy="558.8" r="3.65"/><circle cx="285.0" cy="553.6" r="3.65"/><circle cx="554.5" cy="561.5" r="3.65"/><circle cx="421.6" cy="527.7" r="3.65"/><circle cx="281.8" cy="520.6" r="3.65"/><circle cx="546.3" cy="464.5" r="3.65"/><circle cx="397.5" cy="519.9" r="3.65"/><circle cx="285.2" cy="563.6" r="3.65"/><circle cx="149.5" cy="534.0" r="3.65"/><circle cx="166.3" cy="563.8" r="3.65"/><circle cx="614.2" cy="464.2" r="3.65"/><circle cx="483.2" cy="564.0" r="3.65"/><circle cx="484.2" cy="544.5" r="3.65"/><circle cx="158.4" cy="549.1" r="3.65"/><circle cx="413.3" cy="541.0" r="3.65"/><circle cx="416.1" cy="518.1" r="3.65"/><circle cx="373.2" cy="537.3" r="3.65"/><circle cx="381.1" cy="551.6" r="3.65"/><circle cx="490.9" cy="567.0" r="3.65"/><circle cx="310.8" cy="534.8" r="3.65"/><circle cx="311.0" cy="533.7" r="3.65"/><circle cx="591.3" cy="540.6" r="3.65"/><circle cx="368.1" cy="496.3" r="3.65"/><circle cx="564.6" cy="564.8" r="3.65"/><circle cx="590.4" cy="521.7" r="3.65"/><circle cx="157.3" cy="558.3" r="3.65"/><circle cx="287.6" cy="502.0" r="3.65"/><circle cx="570.5" cy="471.4" r="3.65"/><circle cx="309.4" cy="550.3" r="3.65"/><circle cx="268.2" cy="566.1" r="3.65"/><circle cx="528.5" cy="540.3" r="3.65"/><circle cx="410.6" cy="561.5" r="3.65"/><circle cx="444.0" cy="523.8" r="3.65"/><circle cx="175.8" cy="562.1" r="3.65"/><circle cx="515.8" cy="558.3" r="3.65"/><circle cx="266.6" cy="547.8" r="3.65"/><circle cx="431.5" cy="566.1" r="3.65"/><circle cx="231.3" cy="441.1" r="3.65"/><circle cx="554.7" cy="516.1" r="3.65"/><circle cx="347.4" cy="565.8" r="3.65"/><circle cx="399.3" cy="541.2" r="3.65"/><circle cx="451.9" cy="556.9" r="3.65"/><circle cx="309.7" cy="566.9" r="3.65"/><circle cx="298.2" cy="495.3" r="3.65"/><circle cx="447.8" cy="552.4" r="3.65"/><circle cx="541.6" cy="536.5" r="3.65"/><circle cx="488.8" cy="532.1" r="3.65"/><circle cx="500.4" cy="557.7" r="3.65"/><circle cx="412.2" cy="561.3" r="3.65"/><circle cx="309.8" cy="551.3" r="3.65"/><circle cx="583.8" cy="543.3" r="3.65"/><circle cx="400.5" cy="481.7" r="3.65"/><circle cx="557.0" cy="561.1" r="3.65"/><circle cx="327.6" cy="546.9" r="3.65"/><circle cx="308.9" cy="482.5" r="3.65"/><circle cx="634.3" cy="540.1" r="3.65"/><circle cx="627.6" cy="564.7" r="3.65"/><circle cx="316.7" cy="519.2" r="3.65"/><circle cx="539.8" cy="562.2" r="3.65"/><circle cx="292.5" cy="545.4" r="3.65"/><circle cx="398.9" cy="487.9" r="3.65"/><circle cx="497.6" cy="563.1" r="3.65"/><circle cx="196.5" cy="539.1" r="3.65"/><circle cx="449.6" cy="542.5" r="3.65"/><circle cx="540.7" cy="526.1" r="3.65"/><circle cx="331.9" cy="532.0" r="3.65"/><circle cx="601.0" cy="552.0" r="3.65"/><circle cx="182.9" cy="524.7" r="3.65"/><circle cx="533.8" cy="533.8" r="3.65"/><circle cx="264.8" cy="480.8" r="3.65"/><circle cx="166.2" cy="525.4" r="3.65"/><circle cx="470.9" cy="553.5" r="3.65"/><circle cx="233.4" cy="526.9" r="3.65"/><circle cx="417.1" cy="565.2" r="3.65"/><circle cx="246.1" cy="413.3" r="3.65"/><circle cx="561.9" cy="548.1" r="3.65"/><circle cx="310.9" cy="540.8" r="3.65"/><circle cx="160.0" cy="543.1" r="3.65"/><circle cx="182.0" cy="561.6" r="3.65"/><circle cx="289.2" cy="520.2" r="3.65"/><circle cx="200.2" cy="556.4" r="3.65"/><circle cx="536.0" cy="544.7" r="3.65"/><circle cx="541.6" cy="553.3" r="3.65"/><circle cx="314.6" cy="555.3" r="3.65"/><circle cx="542.5" cy="562.8" r="3.65"/><circle cx="400.7" cy="558.6" r="3.65"/><circle cx="399.7" cy="527.2" r="3.65"/><circle cx="215.3" cy="475.6" r="3.65"/><circle cx="352.7" cy="529.9" r="3.65"/><circle cx="295.1" cy="559.7" r="3.65"/><circle cx="596.1" cy="548.4" r="3.65"/><circle cx="519.8" cy="558.8" r="3.65"/><circle cx="584.8" cy="537.3" r="3.65"/><circle cx="311.7" cy="555.5" r="3.65"/><circle cx="543.1" cy="524.1" r="3.65"/><circle cx="264.2" cy="479.5" r="3.65"/><circle cx="461.8" cy="547.8" r="3.65"/><circle cx="261.0" cy="523.3" r="3.65"/><circle cx="566.0" cy="524.6" r="3.65"/><circle cx="325.1" cy="523.5" r="3.65"/><circle cx="305.9" cy="524.5" r="3.65"/><circle cx="479.6" cy="556.6" r="3.65"/><circle cx="471.8" cy="427.1" r="3.65"/><circle cx="195.1" cy="554.8" r="3.65"/><circle cx="268.1" cy="482.9" r="3.65"/><circle cx="630.3" cy="543.7" r="3.65"/><circle cx="478.1" cy="559.9" r="3.65"/><circle cx="382.9" cy="565.6" r="3.65"/><circle cx="258.8" cy="563.3" r="3.65"/><circle cx="220.0" cy="540.9" r="3.65"/><circle cx="311.7" cy="538.1" r="3.65"/><circle cx="365.9" cy="540.4" r="3.65"/><circle cx="243.3" cy="557.8" r="3.65"/><circle cx="609.5" cy="520.5" r="3.65"/><circle cx="596.1" cy="565.2" r="3.65"/><circle cx="502.8" cy="511.1" r="3.65"/><circle cx="249.6" cy="529.3" r="3.65"/><circle cx="270.9" cy="530.8" r="3.65"/><circle cx="294.6" cy="534.5" r="3.65"/><circle cx="522.7" cy="522.6" r="3.65"/><circle cx="531.5" cy="541.0" r="3.65"/><circle cx="263.4" cy="564.9" r="3.65"/><circle cx="635.8" cy="555.7" r="3.65"/><circle cx="518.7" cy="440.1" r="3.65"/><circle cx="560.7" cy="549.4" r="3.65"/><circle cx="323.3" cy="563.9" r="3.65"/><circle cx="313.2" cy="555.1" r="3.65"/><circle cx="303.1" cy="562.7" r="3.65"/><circle cx="539.9" cy="531.0" r="3.65"/><circle cx="250.4" cy="548.6" r="3.65"/><circle cx="485.4" cy="535.7" r="3.65"/><circle cx="311.1" cy="554.9" r="3.65"/><circle cx="521.4" cy="567.9" r="3.65"/><circle cx="382.9" cy="566.9" r="3.65"/><circle cx="301.3" cy="545.1" r="3.65"/><circle cx="555.8" cy="521.2" r="3.65"/><circle cx="534.2" cy="557.3" r="3.65"/><circle cx="334.3" cy="423.1" r="3.65"/><circle cx="295.8" cy="563.7" r="3.65"/><circle cx="327.9" cy="554.4" r="3.65"/><circle cx="542.7" cy="566.1" r="3.65"/><circle cx="227.7" cy="515.5" r="3.65"/><circle cx="163.3" cy="566.4" r="3.65"/><circle cx="612.7" cy="567.1" r="3.65"/><circle cx="284.4" cy="530.5" r="3.65"/><circle cx="294.8" cy="541.1" r="3.65"/><circle cx="188.8" cy="546.5" r="3.65"/><circle cx="631.1" cy="561.3" r="3.65"/><circle cx="597.6" cy="387.4" r="3.65"/><circle cx="293.5" cy="565.9" r="3.65"/><circle cx="382.5" cy="549.2" r="3.65"/><circle cx="322.2" cy="549.5" r="3.65"/><circle cx="268.9" cy="553.0" r="3.65"/><circle cx="616.7" cy="498.7" r="3.65"/><circle cx="489.2" cy="529.2" r="3.65"/><circle cx="377.4" cy="540.6" r="3.65"/><circle cx="340.6" cy="535.2" r="3.65"/><circle cx="312.1" cy="527.1" r="3.65"/><circle cx="343.1" cy="541.1" r="3.65"/><circle cx="148.7" cy="552.9" r="3.65"/><circle cx="274.2" cy="555.9" r="3.65"/><circle cx="475.1" cy="551.7" r="3.65"/><circle cx="613.4" cy="542.9" r="3.65"/><circle cx="616.8" cy="551.4" r="3.65"/><circle cx="286.9" cy="565.7" r="3.65"/><circle cx="438.9" cy="513.4" r="3.65"/><circle cx="356.9" cy="537.0" r="3.65"/><circle cx="178.2" cy="553.3" r="3.65"/><circle cx="166.9" cy="520.7" r="3.65"/><circle cx="540.6" cy="538.6" r="3.65"/><circle cx="382.6" cy="550.8" r="3.65"/><circle cx="310.3" cy="565.2" r="3.65"/><circle cx="416.2" cy="567.4" r="3.65"/><circle cx="494.6" cy="524.6" r="3.65"/><circle cx="297.1" cy="564.0" r="3.65"/><circle cx="541.4" cy="506.7" r="3.65"/><circle cx="325.5" cy="541.3" r="3.65"/><circle cx="422.4" cy="535.8" r="3.65"/><circle cx="312.5" cy="551.5" r="3.65"/><circle cx="377.3" cy="509.6" r="3.65"/><circle cx="530.7" cy="564.8" r="3.65"/><circle cx="424.8" cy="566.1" r="3.65"/><circle cx="294.8" cy="567.9" r="3.65"/><circle cx="574.3" cy="532.7" r="3.65"/><circle cx="328.1" cy="561.3" r="3.65"/><circle cx="552.8" cy="556.7" r="3.65"/><circle cx="428.2" cy="549.1" r="3.65"/><circle cx="583.7" cy="517.1" r="3.65"/><circle cx="442.8" cy="556.5" r="3.65"/><circle cx="338.1" cy="545.5" r="3.65"/><circle cx="328.3" cy="534.9" r="3.65"/><circle cx="248.6" cy="550.2" r="3.65"/><circle cx="311.2" cy="541.9" r="3.65"/><circle cx="220.1" cy="559.2" r="3.65"/><circle cx="397.0" cy="543.3" r="3.65"/><circle cx="558.5" cy="403.1" r="3.65"/><circle cx="361.5" cy="531.8" r="3.65"/><circle cx="559.3" cy="554.2" r="3.65"/><circle cx="172.6" cy="533.3" r="3.65"/><circle cx="629.1" cy="566.4" r="3.65"/><circle cx="275.9" cy="550.9" r="3.65"/><circle cx="344.9" cy="526.1" r="3.65"/><circle cx="527.3" cy="529.0" r="3.65"/><circle cx="225.5" cy="499.5" r="3.65"/><circle cx="222.6" cy="547.1" r="3.65"/><circle cx="368.1" cy="563.5" r="3.65"/><circle cx="310.8" cy="561.5" r="3.65"/><circle cx="525.8" cy="548.6" r="3.65"/><circle cx="582.5" cy="501.2" r="3.65"/><circle cx="364.5" cy="545.5" r="3.65"/><circle cx="467.4" cy="565.1" r="3.65"/><circle cx="293.2" cy="563.2" r="3.65"/><circle cx="511.5" cy="562.1" r="3.65"/><circle cx="601.2" cy="494.8" r="3.65"/><circle cx="434.5" cy="544.0" r="3.65"/><circle cx="256.7" cy="541.7" r="3.65"/><circle cx="284.9" cy="563.5" r="3.65"/><circle cx="410.3" cy="558.9" r="3.65"/><circle cx="314.6" cy="566.4" r="3.65"/><circle cx="494.1" cy="556.3" r="3.65"/><circle cx="523.3" cy="547.2" r="3.65"/><circle cx="417.8" cy="563.2" r="3.65"/><circle cx="477.5" cy="544.8" r="3.65"/><circle cx="367.8" cy="562.0" r="3.65"/><circle cx="298.9" cy="534.8" r="3.65"/><circle cx="476.9" cy="552.1" r="3.65"/><circle cx="615.4" cy="541.3" r="3.65"/><circle cx="630.6" cy="495.5" r="3.65"/><circle cx="307.0" cy="547.5" r="3.65"/><circle cx="538.3" cy="489.6" r="3.65"/><circle cx="274.6" cy="563.2" r="3.65"/><circle cx="471.3" cy="546.2" r="3.65"/><circle cx="388.5" cy="534.5" r="3.65"/><circle cx="424.0" cy="566.5" r="3.65"/><circle cx="475.3" cy="562.6" r="3.65"/><circle cx="285.0" cy="557.3" r="3.65"/><circle cx="311.4" cy="508.8" r="3.65"/><circle cx="619.0" cy="539.9" r="3.65"/><circle cx="480.9" cy="529.2" r="3.65"/><circle cx="637.0" cy="559.1" r="3.65"/><circle cx="563.1" cy="554.8" r="3.65"/><circle cx="447.1" cy="531.2" r="3.65"/><circle cx="542.1" cy="565.5" r="3.65"/><circle cx="477.2" cy="565.5" r="3.65"/><circle cx="205.1" cy="537.4" r="3.65"/><circle cx="226.4" cy="524.7" r="3.65"/><circle cx="611.5" cy="557.2" r="3.65"/><circle cx="503.5" cy="464.5" r="3.65"/><circle cx="489.2" cy="537.2" r="3.65"/><circle cx="230.5" cy="533.2" r="3.65"/><circle cx="541.5" cy="560.6" r="3.65"/><circle cx="285.4" cy="557.1" r="3.65"/><circle cx="487.3" cy="536.6" r="3.65"/><circle cx="590.4" cy="471.1" r="3.65"/><circle cx="265.0" cy="545.3" r="3.65"/><circle cx="449.7" cy="562.7" r="3.65"/><circle cx="330.2" cy="562.3" r="3.65"/><circle cx="372.3" cy="558.0" r="3.65"/><circle cx="400.6" cy="475.4" r="3.65"/><circle cx="216.2" cy="555.2" r="3.65"/><circle cx="578.4" cy="557.9" r="3.65"/><circle cx="567.9" cy="519.6" r="3.65"/><circle cx="329.8" cy="523.4" r="3.65"/><circle cx="469.6" cy="542.6" r="3.65"/><circle cx="208.8" cy="566.3" r="3.65"/><circle cx="226.5" cy="488.6" r="3.65"/><circle cx="277.0" cy="565.7" r="3.65"/><circle cx="524.6" cy="520.3" r="3.65"/><circle cx="357.3" cy="564.7" r="3.65"/><circle cx="443.2" cy="558.2" r="3.65"/><circle cx="440.3" cy="540.9" r="3.65"/><circle cx="516.0" cy="546.8" r="3.65"/><circle cx="357.7" cy="554.2" r="3.65"/><circle cx="573.6" cy="550.4" r="3.65"/><circle cx="311.8" cy="463.3" r="3.65"/><circle cx="586.8" cy="526.8" r="3.65"/><circle cx="296.0" cy="567.6" r="3.65"/><circle cx="554.6" cy="544.7" r="3.65"/><circle cx="232.1" cy="542.9" r="3.65"/><circle cx="223.4" cy="535.7" r="3.65"/><circle cx="572.2" cy="524.5" r="3.65"/><circle cx="208.1" cy="544.1" r="3.65"/><circle cx="511.7" cy="551.4" r="3.65"/><circle cx="557.6" cy="541.0" r="3.65"/><circle cx="486.4" cy="533.2" r="3.65"/><circle cx="364.5" cy="550.8" r="3.65"/><circle cx="191.9" cy="567.3" r="3.65"/><circle cx="540.4" cy="536.3" r="3.65"/><circle cx="367.0" cy="557.1" r="3.65"/><circle cx="318.9" cy="546.4" r="3.65"/><circle cx="230.1" cy="566.6" r="3.65"/><circle cx="314.0" cy="529.5" r="3.65"/><circle cx="280.4" cy="498.0" r="3.65"/><circle cx="541.9" cy="549.0" r="3.65"/><circle cx="218.9" cy="483.1" r="3.65"/><circle cx="408.1" cy="549.9" r="3.65"/><circle cx="250.5" cy="525.4" r="3.65"/><circle cx="246.1" cy="515.0" r="3.65"/><circle cx="202.1" cy="548.6" r="3.65"/><circle cx="167.4" cy="542.3" r="3.65"/><circle cx="474.8" cy="538.6" r="3.65"/><circle cx="310.8" cy="548.0" r="3.65"/><circle cx="455.1" cy="552.2" r="3.65"/><circle cx="286.2" cy="553.6" r="3.65"/><circle cx="261.4" cy="531.0" r="3.65"/><circle cx="381.1" cy="546.8" r="3.65"/><circle cx="203.8" cy="430.2" r="3.65"/><circle cx="262.7" cy="524.1" r="3.65"/><circle cx="183.3" cy="559.3" r="3.65"/><circle cx="341.8" cy="539.5" r="3.65"/><circle cx="311.3" cy="544.3" r="3.65"/><circle cx="619.3" cy="530.5" r="3.65"/><circle cx="457.9" cy="523.6" r="3.65"/><circle cx="202.4" cy="515.1" r="3.65"/><circle cx="527.6" cy="567.2" r="3.65"/><circle cx="541.8" cy="548.1" r="3.65"/><circle cx="231.0" cy="550.7" r="3.65"/><circle cx="295.0" cy="560.2" r="3.65"/><circle cx="616.0" cy="557.3" r="3.65"/><circle cx="258.7" cy="562.2" r="3.65"/><circle cx="394.4" cy="537.2" r="3.65"/><circle cx="225.0" cy="506.7" r="3.65"/><circle cx="316.7" cy="328.4" r="3.65"/><circle cx="395.6" cy="560.7" r="3.65"/><circle cx="408.0" cy="525.0" r="3.65"/><circle cx="577.0" cy="530.7" r="3.65"/><circle cx="285.0" cy="524.5" r="3.65"/><circle cx="512.7" cy="496.5" r="3.65"/><circle cx="630.6" cy="512.8" r="3.65"/><circle cx="179.8" cy="527.8" r="3.65"/><circle cx="259.2" cy="556.2" r="3.65"/><circle cx="429.8" cy="515.2" r="3.65"/><circle cx="158.2" cy="565.3" r="3.65"/><circle cx="275.0" cy="550.0" r="3.65"/><circle cx="451.9" cy="542.5" r="3.65"/><circle cx="255.7" cy="534.0" r="3.65"/><circle cx="405.2" cy="486.0" r="3.65"/><circle cx="445.6" cy="505.7" r="3.65"/><circle cx="290.6" cy="542.5" r="3.65"/><circle cx="534.9" cy="516.4" r="3.65"/><circle cx="223.6" cy="560.4" r="3.65"/><circle cx="465.3" cy="533.4" r="3.65"/><circle cx="175.6" cy="527.7" r="3.65"/><circle cx="563.7" cy="564.8" r="3.65"/><circle cx="322.2" cy="565.0" r="3.65"/><circle cx="515.4" cy="516.6" r="3.65"/><circle cx="585.4" cy="559.9" r="3.65"/><circle cx="315.8" cy="534.8" r="3.65"/><circle cx="386.7" cy="551.2" r="3.65"/><circle cx="387.6" cy="530.0" r="3.65"/><circle cx="156.8" cy="551.4" r="3.65"/><circle cx="574.1" cy="527.4" r="3.65"/><circle cx="592.1" cy="518.3" r="3.65"/><circle cx="426.2" cy="483.7" r="3.65"/><circle cx="360.0" cy="493.5" r="3.65"/><circle cx="432.8" cy="559.2" r="3.65"/><circle cx="319.1" cy="506.9" r="3.65"/><circle cx="316.6" cy="517.9" r="3.65"/><circle cx="238.8" cy="476.2" r="3.65"/><circle cx="371.6" cy="536.4" r="3.65"/><circle cx="427.7" cy="525.6" r="3.65"/><circle cx="439.0" cy="522.5" r="3.65"/><circle cx="544.6" cy="540.4" r="3.65"/><circle cx="384.7" cy="567.1" r="3.65"/><circle cx="528.9" cy="540.4" r="3.65"/><circle cx="261.3" cy="498.3" r="3.65"/><circle cx="501.5" cy="513.9" r="3.65"/><circle cx="594.8" cy="551.5" r="3.65"/><circle cx="270.8" cy="521.0" r="3.65"/><circle cx="568.9" cy="539.1" r="3.65"/><circle cx="203.1" cy="539.9" r="3.65"/><circle cx="535.8" cy="519.7" r="3.65"/><circle cx="488.7" cy="566.2" r="3.65"/><circle cx="224.9" cy="525.0" r="3.65"/><circle cx="489.8" cy="536.9" r="3.65"/><circle cx="426.7" cy="485.4" r="3.65"/><circle cx="459.0" cy="515.2" r="3.65"/><circle cx="274.3" cy="543.9" r="3.65"/><circle cx="500.4" cy="561.0" r="3.65"/><circle cx="440.8" cy="546.9" r="3.65"/><circle cx="613.6" cy="562.1" r="3.65"/><circle cx="632.4" cy="549.4" r="3.65"/><circle cx="590.7" cy="562.4" r="3.65"/><circle cx="607.6" cy="522.1" r="3.65"/><circle cx="401.7" cy="525.4" r="3.65"/><circle cx="473.6" cy="471.9" r="3.65"/><circle cx="371.4" cy="535.9" r="3.65"/><circle cx="406.5" cy="522.9" r="3.65"/><circle cx="492.1" cy="542.0" r="3.65"/><circle cx="592.5" cy="523.5" r="3.65"/><circle cx="165.7" cy="507.7" r="3.65"/><circle cx="311.0" cy="523.7" r="3.65"/><circle cx="253.9" cy="563.0" r="3.65"/><circle cx="311.2" cy="498.4" r="3.65"/><circle cx="209.3" cy="519.0" r="3.65"/><circle cx="629.7" cy="501.9" r="3.65"/><circle cx="564.7" cy="537.9" r="3.65"/><circle cx="257.4" cy="535.1" r="3.65"/><circle cx="578.3" cy="403.6" r="3.65"/><circle cx="197.0" cy="550.1" r="3.65"/><circle cx="515.0" cy="539.4" r="3.65"/><circle cx="640.2" cy="497.8" r="3.65"/><circle cx="264.9" cy="481.6" r="3.65"/><circle cx="186.7" cy="561.0" r="3.65"/><circle cx="424.5" cy="544.3" r="3.65"/><circle cx="311.5" cy="542.9" r="3.65"/><circle cx="383.5" cy="559.4" r="3.65"/><circle cx="470.2" cy="509.4" r="3.65"/><circle cx="188.3" cy="527.4" r="3.65"/><circle cx="364.6" cy="567.4" r="3.65"/><circle cx="332.4" cy="550.3" r="3.65"/><circle cx="480.5" cy="547.0" r="3.65"/><circle cx="185.7" cy="566.2" r="3.65"/><circle cx="184.7" cy="566.3" r="3.65"/><circle cx="186.5" cy="537.9" r="3.65"/><circle cx="424.3" cy="565.1" r="3.65"/><circle cx="159.2" cy="525.4" r="3.65"/><circle cx="627.9" cy="449.1" r="3.65"/><circle cx="496.1" cy="516.1" r="3.65"/><circle cx="363.3" cy="553.2" r="3.65"/><circle cx="262.7" cy="565.9" r="3.65"/><circle cx="549.5" cy="566.1" r="3.65"/><circle cx="533.9" cy="528.8" r="3.65"/><circle cx="393.5" cy="518.6" r="3.65"/><circle cx="326.9" cy="566.1" r="3.65"/><circle cx="244.2" cy="537.6" r="3.65"/><circle cx="607.4" cy="531.6" r="3.65"/><circle cx="416.2" cy="457.2" r="3.65"/><circle cx="235.8" cy="525.3" r="3.65"/><circle cx="555.6" cy="540.1" r="3.65"/><circle cx="455.4" cy="544.8" r="3.65"/><circle cx="350.4" cy="538.2" r="3.65"/><circle cx="432.1" cy="474.3" r="3.65"/><circle cx="521.0" cy="500.4" r="3.65"/><circle cx="427.2" cy="561.4" r="3.65"/><circle cx="445.2" cy="545.6" r="3.65"/><circle cx="374.9" cy="566.9" r="3.65"/><circle cx="183.9" cy="531.7" r="3.65"/><circle cx="387.4" cy="311.7" r="3.65"/><circle cx="157.6" cy="567.6" r="3.65"/><circle cx="431.0" cy="527.5" r="3.65"/><circle cx="207.0" cy="524.7" r="3.65"/><circle cx="437.7" cy="459.2" r="3.65"/><circle cx="382.9" cy="507.4" r="3.65"/><circle cx="221.0" cy="552.1" r="3.65"/><circle cx="266.3" cy="564.9" r="3.65"/><circle cx="403.3" cy="536.3" r="3.65"/><circle cx="222.1" cy="565.2" r="3.65"/><circle cx="279.5" cy="530.4" r="3.65"/><circle cx="429.9" cy="548.1" r="3.65"/><circle cx="219.4" cy="536.5" r="3.65"/><circle cx="476.6" cy="559.0" r="3.65"/><circle cx="159.9" cy="483.9" r="3.65"/><circle cx="319.5" cy="551.9" r="3.65"/><circle cx="316.5" cy="548.2" r="3.65"/><circle cx="470.7" cy="515.4" r="3.65"/><circle cx="346.1" cy="547.7" r="3.65"/><circle cx="557.1" cy="498.3" r="3.65"/><circle cx="556.9" cy="492.9" r="3.65"/><circle cx="405.3" cy="534.8" r="3.65"/><circle cx="299.4" cy="555.7" r="3.65"/><circle cx="166.8" cy="481.4" r="3.65"/><circle cx="564.0" cy="468.2" r="3.65"/><circle cx="317.6" cy="565.5" r="3.65"/><circle cx="236.6" cy="539.4" r="3.65"/><circle cx="160.7" cy="527.1" r="3.65"/><circle cx="255.7" cy="567.2" r="3.65"/><circle cx="281.6" cy="527.0" r="3.65"/><circle cx="306.8" cy="564.0" r="3.65"/><circle cx="229.4" cy="566.8" r="3.65"/><circle cx="511.1" cy="555.4" r="3.65"/><circle cx="280.3" cy="566.3" r="3.65"/><circle cx="376.1" cy="559.9" r="3.65"/><circle cx="620.1" cy="542.5" r="3.65"/><circle cx="179.0" cy="547.7" r="3.65"/><circle cx="356.4" cy="544.0" r="3.65"/><circle cx="435.6" cy="566.7" r="3.65"/><circle cx="562.2" cy="549.8" r="3.65"/><circle cx="162.0" cy="532.8" r="3.65"/><circle cx="229.5" cy="524.5" r="3.65"/><circle cx="539.4" cy="563.4" r="3.65"/><circle cx="335.5" cy="552.9" r="3.65"/><circle cx="583.4" cy="503.5" r="3.65"/><circle cx="401.5" cy="565.6" r="3.65"/><circle cx="167.4" cy="540.1" r="3.65"/><circle cx="382.6" cy="566.6" r="3.65"/><circle cx="435.2" cy="549.2" r="3.65"/><circle cx="184.2" cy="439.2" r="3.65"/><circle cx="248.5" cy="532.2" r="3.65"/><circle cx="219.9" cy="533.7" r="3.65"/><circle cx="435.1" cy="471.1" r="3.65"/><circle cx="258.0" cy="567.2" r="3.65"/><circle cx="532.3" cy="370.7" r="3.65"/><circle cx="409.8" cy="549.6" r="3.65"/><circle cx="423.4" cy="544.2" r="3.65"/><circle cx="212.2" cy="558.9" r="3.65"/><circle cx="194.0" cy="563.9" r="3.65"/><circle cx="320.6" cy="486.3" r="3.65"/><circle cx="289.1" cy="559.6" r="3.65"/><circle cx="626.3" cy="543.6" r="3.65"/><circle cx="311.5" cy="551.6" r="3.65"/><circle cx="410.4" cy="507.6" r="3.65"/><circle cx="229.3" cy="542.3" r="3.65"/><circle cx="257.6" cy="520.9" r="3.65"/><circle cx="581.3" cy="552.3" r="3.65"/><circle cx="401.7" cy="480.8" r="3.65"/><circle cx="463.6" cy="502.7" r="3.65"/><circle cx="225.5" cy="538.7" r="3.65"/><circle cx="428.6" cy="474.3" r="3.65"/><circle cx="307.1" cy="405.7" r="3.65"/><circle cx="446.5" cy="529.4" r="3.65"/><circle cx="435.2" cy="552.9" r="3.65"/><circle cx="281.6" cy="443.0" r="3.65"/><circle cx="332.0" cy="546.7" r="3.65"/><circle cx="551.1" cy="518.5" r="3.65"/><circle cx="423.8" cy="532.7" r="3.65"/><circle cx="578.3" cy="549.4" r="3.65"/><circle cx="255.6" cy="515.0" r="3.65"/><circle cx="311.9" cy="526.8" r="3.65"/><circle cx="631.6" cy="475.8" r="3.65"/><circle cx="226.0" cy="559.6" r="3.65"/><circle cx="615.4" cy="557.0" r="3.65"/><circle cx="402.5" cy="553.3" r="3.65"/><circle cx="258.2" cy="555.6" r="3.65"/><circle cx="513.1" cy="550.5" r="3.65"/><circle cx="615.9" cy="544.9" r="3.65"/><circle cx="458.3" cy="545.8" r="3.65"/><circle cx="538.4" cy="552.8" r="3.65"/><circle cx="360.4" cy="564.9" r="3.65"/><circle cx="244.1" cy="562.3" r="3.65"/><circle cx="220.8" cy="476.7" r="3.65"/><circle cx="369.6" cy="520.7" r="3.65"/><circle cx="425.3" cy="558.6" r="3.65"/><circle cx="283.9" cy="561.0" r="3.65"/><circle cx="186.9" cy="518.0" r="3.65"/><circle cx="361.5" cy="566.8" r="3.65"/><circle cx="486.6" cy="377.4" r="3.65"/><circle cx="212.6" cy="545.0" r="3.65"/><circle cx="275.5" cy="565.4" r="3.65"/><circle cx="435.8" cy="566.9" r="3.65"/><circle cx="254.2" cy="522.5" r="3.65"/><circle cx="256.5" cy="514.3" r="3.65"/><circle cx="639.3" cy="552.5" r="3.65"/><circle cx="472.0" cy="538.2" r="3.65"/><circle cx="374.1" cy="488.7" r="3.65"/><circle cx="165.8" cy="501.7" r="3.65"/><circle cx="216.0" cy="522.4" r="3.65"/><circle cx="169.7" cy="541.6" r="3.65"/><circle cx="160.7" cy="486.5" r="3.65"/><circle cx="611.2" cy="557.3" r="3.65"/><circle cx="217.9" cy="559.0" r="3.65"/><circle cx="155.2" cy="565.4" r="3.65"/><circle cx="311.5" cy="565.0" r="3.65"/><circle cx="386.7" cy="567.5" r="3.65"/><circle cx="218.8" cy="513.2" r="3.65"/><circle cx="236.4" cy="551.6" r="3.65"/><circle cx="600.9" cy="483.8" r="3.65"/><circle cx="250.2" cy="548.7" r="3.65"/><circle cx="285.0" cy="533.2" r="3.65"/><circle cx="172.3" cy="567.8" r="3.65"/><circle cx="432.1" cy="554.1" r="3.65"/><circle cx="244.9" cy="562.9" r="3.65"/><circle cx="357.0" cy="483.2" r="3.65"/><circle cx="262.8" cy="555.5" r="3.65"/><circle cx="405.6" cy="544.6" r="3.65"/><circle cx="310.5" cy="549.0" r="3.65"/><circle cx="371.8" cy="553.4" r="3.65"/><circle cx="329.8" cy="538.5" r="3.65"/><circle cx="514.8" cy="557.5" r="3.65"/><circle cx="499.1" cy="554.7" r="3.65"/><circle cx="323.3" cy="534.0" r="3.65"/><circle cx="451.3" cy="566.4" r="3.65"/><circle cx="284.0" cy="567.6" r="3.65"/><circle cx="154.4" cy="540.0" r="3.65"/><circle cx="231.5" cy="558.2" r="3.65"/><circle cx="601.6" cy="562.8" r="3.65"/><circle cx="277.6" cy="567.0" r="3.65"/><circle cx="276.5" cy="557.1" r="3.65"/><circle cx="328.9" cy="501.5" r="3.65"/><circle cx="506.5" cy="524.9" r="3.65"/><circle cx="351.0" cy="443.9" r="3.65"/><circle cx="550.9" cy="564.0" r="3.65"/><circle cx="400.4" cy="514.7" r="3.65"/><circle cx="514.6" cy="485.1" r="3.65"/><circle cx="154.2" cy="560.5" r="3.65"/><circle cx="621.1" cy="562.0" r="3.65"/><circle cx="353.8" cy="566.8" r="3.65"/><circle cx="223.5" cy="537.3" r="3.65"/><circle cx="311.6" cy="531.2" r="3.65"/><circle cx="420.3" cy="557.0" r="3.65"/><circle cx="148.5" cy="522.6" r="3.65"/><circle cx="550.8" cy="495.2" r="3.65"/><circle cx="609.5" cy="498.0" r="3.65"/><circle cx="516.8" cy="462.7" r="3.65"/><circle cx="207.6" cy="556.3" r="3.65"/><circle cx="281.5" cy="522.3" r="3.65"/><circle cx="356.0" cy="565.5" r="3.65"/><circle cx="353.3" cy="564.0" r="3.65"/><circle cx="385.8" cy="528.2" r="3.65"/><circle cx="517.9" cy="530.1" r="3.65"/><circle cx="533.0" cy="544.7" r="3.65"/><circle cx="541.8" cy="559.3" r="3.65"/><circle cx="402.8" cy="520.0" r="3.65"/><circle cx="160.8" cy="503.9" r="3.65"/><circle cx="194.8" cy="528.7" r="3.65"/><circle cx="286.8" cy="560.3" r="3.65"/><circle cx="541.0" cy="482.7" r="3.65"/><circle cx="455.3" cy="566.9" r="3.65"/><circle cx="584.9" cy="551.7" r="3.65"/><circle cx="449.6" cy="560.9" r="3.65"/><circle cx="531.4" cy="547.3" r="3.65"/><circle cx="532.0" cy="548.4" r="3.65"/><circle cx="627.8" cy="541.2" r="3.65"/><circle cx="410.3" cy="506.0" r="3.65"/><circle cx="473.4" cy="552.6" r="3.65"/><circle cx="553.4" cy="564.3" r="3.65"/><circle cx="421.0" cy="509.1" r="3.65"/><circle cx="637.1" cy="534.2" r="3.65"/><circle cx="311.0" cy="527.5" r="3.65"/><circle cx="505.6" cy="537.8" r="3.65"/><circle cx="410.9" cy="554.2" r="3.65"/><circle cx="293.8" cy="564.4" r="3.65"/><circle cx="574.0" cy="538.0" r="3.65"/><circle cx="186.2" cy="504.0" r="3.65"/><circle cx="311.4" cy="480.3" r="3.65"/><circle cx="476.3" cy="532.1" r="3.65"/><circle cx="629.5" cy="532.8" r="3.65"/><circle cx="504.9" cy="564.7" r="3.65"/><circle cx="627.4" cy="563.1" r="3.65"/><circle cx="310.8" cy="468.0" r="3.65"/><circle cx="415.3" cy="470.3" r="3.65"/><circle cx="243.3" cy="554.5" r="3.65"/><circle cx="511.9" cy="564.0" r="3.65"/><circle cx="481.9" cy="519.3" r="3.65"/><circle cx="318.3" cy="557.5" r="3.65"/><circle cx="273.8" cy="528.6" r="3.65"/><circle cx="430.3" cy="526.3" r="3.65"/><circle cx="513.7" cy="513.5" r="3.65"/><circle cx="347.9" cy="507.3" r="3.65"/><circle cx="364.8" cy="493.9" r="3.65"/><circle cx="265.8" cy="556.7" r="3.65"/><circle cx="422.9" cy="458.5" r="3.65"/><circle cx="161.0" cy="550.8" r="3.65"/><circle cx="492.1" cy="556.4" r="3.65"/><circle cx="515.1" cy="520.3" r="3.65"/><circle cx="237.1" cy="544.8" r="3.65"/><circle cx="320.0" cy="563.6" r="3.65"/><circle cx="302.8" cy="535.7" r="3.65"/><circle cx="319.7" cy="490.7" r="3.65"/><circle cx="364.0" cy="492.3" r="3.65"/><circle cx="426.0" cy="544.0" r="3.65"/><circle cx="387.8" cy="566.3" r="3.65"/><circle cx="153.1" cy="563.2" r="3.65"/><circle cx="192.7" cy="537.3" r="3.65"/><circle cx="342.7" cy="533.4" r="3.65"/><circle cx="387.1" cy="498.3" r="3.65"/><circle cx="314.9" cy="566.6" r="3.65"/><circle cx="268.0" cy="508.2" r="3.65"/><circle cx="319.0" cy="558.1" r="3.65"/><circle cx="409.9" cy="501.9" r="3.65"/><circle cx="309.7" cy="519.6" r="3.65"/><circle cx="302.4" cy="551.0" r="3.65"/><circle cx="567.7" cy="537.5" r="3.65"/><circle cx="446.2" cy="514.7" r="3.65"/><circle cx="418.0" cy="537.1" r="3.65"/><circle cx="533.7" cy="565.7" r="3.65"/><circle cx="440.8" cy="517.5" r="3.65"/><circle cx="342.0" cy="488.9" r="3.65"/><circle cx="197.1" cy="511.9" r="3.65"/><circle cx="188.3" cy="478.2" r="3.65"/><circle cx="309.5" cy="519.5" r="3.65"/><circle cx="486.6" cy="454.5" r="3.65"/><circle cx="388.3" cy="560.8" r="3.65"/><circle cx="428.1" cy="483.6" r="3.65"/><circle cx="550.4" cy="548.0" r="3.65"/><circle cx="633.8" cy="518.6" r="3.65"/><circle cx="473.3" cy="488.6" r="3.65"/><circle cx="419.5" cy="544.7" r="3.65"/><circle cx="311.1" cy="563.1" r="3.65"/><circle cx="509.9" cy="551.5" r="3.65"/><circle cx="528.9" cy="556.0" r="3.65"/><circle cx="309.9" cy="546.2" r="3.65"/><circle cx="549.2" cy="502.7" r="3.65"/><circle cx="446.8" cy="550.1" r="3.65"/><circle cx="399.9" cy="525.1" r="3.65"/><circle cx="610.8" cy="558.0" r="3.65"/><circle cx="215.8" cy="511.3" r="3.65"/><circle cx="560.8" cy="532.3" r="3.65"/><circle cx="179.2" cy="555.7" r="3.65"/><circle cx="492.2" cy="492.4" r="3.65"/><circle cx="482.9" cy="538.5" r="3.65"/><circle cx="414.5" cy="473.8" r="3.65"/><circle cx="474.0" cy="538.6" r="3.65"/><circle cx="420.8" cy="524.1" r="3.65"/><circle cx="285.1" cy="528.8" r="3.65"/><circle cx="543.1" cy="542.2" r="3.65"/><circle cx="609.5" cy="562.7" r="3.65"/><circle cx="255.2" cy="519.0" r="3.65"/><circle cx="492.0" cy="549.0" r="3.65"/><circle cx="575.8" cy="523.9" r="3.65"/><circle cx="357.4" cy="536.9" r="3.65"/><circle cx="221.3" cy="477.2" r="3.65"/><circle cx="355.8" cy="501.5" r="3.65"/><circle cx="457.6" cy="564.7" r="3.65"/><circle cx="526.9" cy="557.2" r="3.65"/><circle cx="515.4" cy="557.8" r="3.65"/><circle cx="150.4" cy="529.2" r="3.65"/><circle cx="383.6" cy="510.6" r="3.65"/><circle cx="223.6" cy="559.1" r="3.65"/><circle cx="335.0" cy="567.7" r="3.65"/><circle cx="256.0" cy="554.7" r="3.65"/><circle cx="554.1" cy="546.0" r="3.65"/><circle cx="162.4" cy="555.9" r="3.65"/><circle cx="623.8" cy="543.6" r="3.65"/><circle cx="210.4" cy="533.0" r="3.65"/><circle cx="473.0" cy="564.3" r="3.65"/><circle cx="468.7" cy="542.0" r="3.65"/><circle cx="375.4" cy="534.6" r="3.65"/><circle cx="304.7" cy="519.0" r="3.65"/><circle cx="426.6" cy="528.4" r="3.65"/><circle cx="229.7" cy="519.9" r="3.65"/><circle cx="478.2" cy="561.7" r="3.65"/><circle cx="599.7" cy="515.5" r="3.65"/><circle cx="488.4" cy="563.8" r="3.65"/><circle cx="534.0" cy="513.8" r="3.65"/><circle cx="386.2" cy="525.1" r="3.65"/><circle cx="360.9" cy="543.8" r="3.65"/><circle cx="436.7" cy="517.2" r="3.65"/><circle cx="294.1" cy="558.4" r="3.65"/><circle cx="388.4" cy="558.1" r="3.65"/><circle cx="244.6" cy="544.8" r="3.65"/><circle cx="476.8" cy="538.4" r="3.65"/><circle cx="195.4" cy="545.4" r="3.65"/><circle cx="606.7" cy="559.7" r="3.65"/><circle cx="376.2" cy="500.6" r="3.65"/><circle cx="214.3" cy="563.1" r="3.65"/><circle cx="541.3" cy="480.3" r="3.65"/><circle cx="506.8" cy="497.2" r="3.65"/><circle cx="309.8" cy="565.9" r="3.65"/><circle cx="529.2" cy="529.2" r="3.65"/><circle cx="635.3" cy="511.1" r="3.65"/><circle cx="385.6" cy="501.7" r="3.65"/><circle cx="218.0" cy="560.5" r="3.65"/><circle cx="211.1" cy="522.6" r="3.65"/><circle cx="510.4" cy="563.5" r="3.65"/><circle cx="310.8" cy="529.2" r="3.65"/><circle cx="390.9" cy="562.1" r="3.65"/><circle cx="595.7" cy="534.5" r="3.65"/><circle cx="452.2" cy="529.5" r="3.65"/><circle cx="543.1" cy="509.7" r="3.65"/><circle cx="427.9" cy="543.8" r="3.65"/><circle cx="299.0" cy="567.1" r="3.65"/><circle cx="200.9" cy="526.1" r="3.65"/><circle cx="547.2" cy="559.7" r="3.65"/><circle cx="310.3" cy="537.9" r="3.65"/><circle cx="186.3" cy="559.4" r="3.65"/><circle cx="385.3" cy="536.8" r="3.65"/><circle cx="534.3" cy="533.4" r="3.65"/><circle cx="536.6" cy="529.6" r="3.65"/><circle cx="222.6" cy="484.5" r="3.65"/><circle cx="311.9" cy="535.6" r="3.65"/><circle cx="377.1" cy="482.0" r="3.65"/><circle cx="387.6" cy="444.8" r="3.65"/><circle cx="342.6" cy="522.1" r="3.65"/><circle cx="506.9" cy="519.2" r="3.65"/><circle cx="629.0" cy="543.9" r="3.65"/><circle cx="477.0" cy="564.8" r="3.65"/><circle cx="504.8" cy="512.8" r="3.65"/><circle cx="476.9" cy="541.0" r="3.65"/><circle cx="589.6" cy="562.2" r="3.65"/><circle cx="633.8" cy="546.5" r="3.65"/><circle cx="207.8" cy="550.5" r="3.65"/><circle cx="578.1" cy="546.8" r="3.65"/><circle cx="331.6" cy="567.6" r="3.65"/><circle cx="233.1" cy="543.7" r="3.65"/><circle cx="555.9" cy="504.4" r="3.65"/><circle cx="321.7" cy="565.1" r="3.65"/><circle cx="309.5" cy="468.9" r="3.65"/><circle cx="279.4" cy="539.9" r="3.65"/><circle cx="323.2" cy="532.2" r="3.65"/><circle cx="305.2" cy="532.8" r="3.65"/><circle cx="284.9" cy="564.5" r="3.65"/><circle cx="486.1" cy="567.8" r="3.65"/><circle cx="525.2" cy="552.3" r="3.65"/><circle cx="375.1" cy="565.6" r="3.65"/><circle cx="398.8" cy="544.2" r="3.65"/><circle cx="564.7" cy="532.7" r="3.65"/><circle cx="640.1" cy="481.4" r="3.65"/><circle cx="584.9" cy="566.2" r="3.65"/><circle cx="277.6" cy="565.3" r="3.65"/><circle cx="317.1" cy="563.4" r="3.65"/><circle cx="410.8" cy="472.0" r="3.65"/><circle cx="405.8" cy="529.1" r="3.65"/><circle cx="311.1" cy="512.7" r="3.65"/><circle cx="558.4" cy="526.9" r="3.65"/><circle cx="203.5" cy="523.5" r="3.65"/><circle cx="147.0" cy="545.8" r="3.65"/><circle cx="283.8" cy="519.1" r="3.65"/><circle cx="319.8" cy="565.9" r="3.65"/><circle cx="550.7" cy="561.0" r="3.65"/><circle cx="425.2" cy="518.2" r="3.65"/><circle cx="526.4" cy="519.9" r="3.65"/><circle cx="365.3" cy="554.1" r="3.65"/><circle cx="387.1" cy="528.1" r="3.65"/><circle cx="474.8" cy="557.7" r="3.65"/><circle cx="541.2" cy="564.6" r="3.65"/><circle cx="410.9" cy="556.3" r="3.65"/><circle cx="504.6" cy="544.8" r="3.65"/><circle cx="376.4" cy="557.6" r="3.65"/><circle cx="204.3" cy="561.9" r="3.65"/><circle cx="364.9" cy="550.7" r="3.65"/><circle cx="487.6" cy="527.7" r="3.65"/><circle cx="384.4" cy="499.9" r="3.65"/><circle cx="577.7" cy="558.4" r="3.65"/><circle cx="475.7" cy="541.8" r="3.65"/><circle cx="434.6" cy="546.7" r="3.65"/><circle cx="517.8" cy="497.3" r="3.65"/><circle cx="430.7" cy="557.2" r="3.65"/><circle cx="284.9" cy="565.0" r="3.65"/><circle cx="398.5" cy="554.7" r="3.65"/><circle cx="270.0" cy="555.5" r="3.65"/><circle cx="489.6" cy="517.5" r="3.65"/><circle cx="313.3" cy="561.8" r="3.65"/><circle cx="476.3" cy="551.0" r="3.65"/><circle cx="410.1" cy="543.2" r="3.65"/><circle cx="349.5" cy="485.2" r="3.65"/><circle cx="316.8" cy="563.8" r="3.65"/><circle cx="618.6" cy="538.9" r="3.65"/><circle cx="311.4" cy="546.6" r="3.65"/><circle cx="576.9" cy="558.6" r="3.65"/><circle cx="578.3" cy="541.6" r="3.65"/><circle cx="474.2" cy="566.8" r="3.65"/><circle cx="368.9" cy="489.0" r="3.65"/><circle cx="387.6" cy="476.2" r="3.65"/><circle cx="191.3" cy="519.4" r="3.65"/><circle cx="229.2" cy="563.7" r="3.65"/><circle cx="597.8" cy="475.3" r="3.65"/><circle cx="475.0" cy="519.0" r="3.65"/><circle cx="302.4" cy="534.0" r="3.65"/><circle cx="310.5" cy="533.3" r="3.65"/><circle cx="311.5" cy="526.7" r="3.65"/><circle cx="568.5" cy="530.4" r="3.65"/><circle cx="345.2" cy="527.7" r="3.65"/><circle cx="455.2" cy="545.7" r="3.65"/><circle cx="456.4" cy="557.5" r="3.65"/><circle cx="307.9" cy="445.8" r="3.65"/><circle cx="600.6" cy="547.6" r="3.65"/><circle cx="226.7" cy="560.0" r="3.65"/><circle cx="243.2" cy="555.9" r="3.65"/><circle cx="629.3" cy="535.7" r="3.65"/><circle cx="229.3" cy="523.1" r="3.65"/><circle cx="591.3" cy="474.8" r="3.65"/><circle cx="347.3" cy="533.3" r="3.65"/><circle cx="468.3" cy="567.1" r="3.65"/><circle cx="420.1" cy="561.2" r="3.65"/><circle cx="225.6" cy="566.2" r="3.65"/><circle cx="360.9" cy="510.8" r="3.65"/><circle cx="181.6" cy="548.7" r="3.65"/><circle cx="401.8" cy="564.6" r="3.65"/><circle cx="380.8" cy="482.8" r="3.65"/><circle cx="594.6" cy="567.3" r="3.65"/><circle cx="158.3" cy="551.5" r="3.65"/><circle cx="551.1" cy="541.6" r="3.65"/><circle cx="362.9" cy="521.4" r="3.65"/><circle cx="181.9" cy="556.6" r="3.65"/><circle cx="506.1" cy="567.0" r="3.65"/><circle cx="367.6" cy="562.5" r="3.65"/><circle cx="311.5" cy="564.7" r="3.65"/><circle cx="303.0" cy="520.7" r="3.65"/><circle cx="533.0" cy="564.3" r="3.65"/><circle cx="424.2" cy="525.3" r="3.65"/><circle cx="458.5" cy="498.0" r="3.65"/><circle cx="303.6" cy="565.4" r="3.65"/><circle cx="539.9" cy="533.1" r="3.65"/><circle cx="398.1" cy="541.7" r="3.65"/><circle cx="250.3" cy="548.3" r="3.65"/><circle cx="548.4" cy="554.6" r="3.65"/><circle cx="327.5" cy="506.2" r="3.65"/><circle cx="222.4" cy="533.4" r="3.65"/><circle cx="502.2" cy="541.8" r="3.65"/><circle cx="590.9" cy="563.6" r="3.65"/><circle cx="259.2" cy="488.5" r="3.65"/><circle cx="175.7" cy="561.7" r="3.65"/><circle cx="418.8" cy="557.2" r="3.65"/><circle cx="486.6" cy="418.0" r="3.65"/><circle cx="207.3" cy="557.9" r="3.65"/><circle cx="274.2" cy="560.3" r="3.65"/><circle cx="592.3" cy="564.0" r="3.65"/><circle cx="248.1" cy="505.4" r="3.65"/><circle cx="159.6" cy="527.2" r="3.65"/><circle cx="579.8" cy="525.0" r="3.65"/><circle cx="414.3" cy="555.3" r="3.65"/><circle cx="216.9" cy="532.6" r="3.65"/><circle cx="429.5" cy="567.2" r="3.65"/><circle cx="229.5" cy="556.5" r="3.65"/><circle cx="371.8" cy="564.5" r="3.65"/><circle cx="210.8" cy="511.2" r="3.65"/><circle cx="611.6" cy="517.3" r="3.65"/><circle cx="614.4" cy="542.6" r="3.65"/><circle cx="594.8" cy="565.4" r="3.65"/><circle cx="274.6" cy="564.9" r="3.65"/><circle cx="226.0" cy="555.3" r="3.65"/><circle cx="505.2" cy="546.5" r="3.65"/><circle cx="155.1" cy="534.1" r="3.65"/><circle cx="633.5" cy="520.6" r="3.65"/><circle cx="471.6" cy="497.1" r="3.65"/><circle cx="502.4" cy="563.3" r="3.65"/><circle cx="279.4" cy="516.3" r="3.65"/><circle cx="537.6" cy="545.9" r="3.65"/><circle cx="267.3" cy="553.3" r="3.65"/><circle cx="631.1" cy="558.1" r="3.65"/><circle cx="311.1" cy="564.7" r="3.65"/><circle cx="252.6" cy="541.3" r="3.65"/><circle cx="147.0" cy="567.1" r="3.65"/></g>
<rect x="126" y="161.5" width="534.5" height="421.5" fill="none" stroke="#333" stroke-width="1"/>
<g stroke="#222" stroke-width="1">
<line x1="126" y1="209.3" x2="126" y2="539.8"/><line x1="116" y1="539.8" x2="126" y2="539.8"/><line x1="116" y1="484.7" x2="126" y2="484.7"/><line x1="116" y1="429.6" x2="126" y2="429.6"/><line x1="116" y1="374.5" x2="126" y2="374.5"/><line x1="116" y1="319.4" x2="126" y2="319.4"/><line x1="116" y1="264.4" x2="126" y2="264.4"/><line x1="116" y1="209.3" x2="126" y2="209.3"/>
<line x1="145.6" y1="583" x2="585.1" y2="583"/><line x1="145.6" y1="583" x2="145.6" y2="593"/><line x1="233.5" y1="583" x2="233.5" y2="593"/><line x1="321.4" y1="583" x2="321.4" y2="593"/><line x1="409.3" y1="583" x2="409.3" y2="593"/><line x1="497.2" y1="583" x2="497.2" y2="593"/><line x1="585.1" y1="583" x2="585.1" y2="593"/>
</g>
<g font-family="'Liberation Sans', sans-serif" font-size="16" fill="#222"><text x="107.2" y="545.2" text-anchor="end">40</text><text x="107.2" y="490.1" text-anchor="end">60</text><text x="107.2" y="435.0" text-anchor="end">80</text><text x="107.2" y="379.9" text-anchor="end">100</text><text x="107.2" y="324.8" text-anchor="end">120</text><text x="107.2" y="269.8" text-anchor="end">140</text><text x="107.2" y="214.7" text-anchor="end">160</text><text x="145.6" y="617.2" text-anchor="middle">1960</text><text x="233.5" y="617.2" text-anchor="middle">1970</text><text x="321.4" y="617.2" text-anchor="middle">1980</text><text x="409.3" y="617.2" text-anchor="middle">1990</text><text x="497.2" y="617.2" text-anchor="middle">2000</text><text x="585.1" y="617.2" text-anchor="middle">2010</text>
<text x="392.8" y="642.6" text-anchor="middle">Jahre</text>
<text transform="translate(64.8,373) rotate(-90)" text-anchor="middle">Niederschlagsmenge/Tag in mm</text>
</g>
</svg>
</body></html>
